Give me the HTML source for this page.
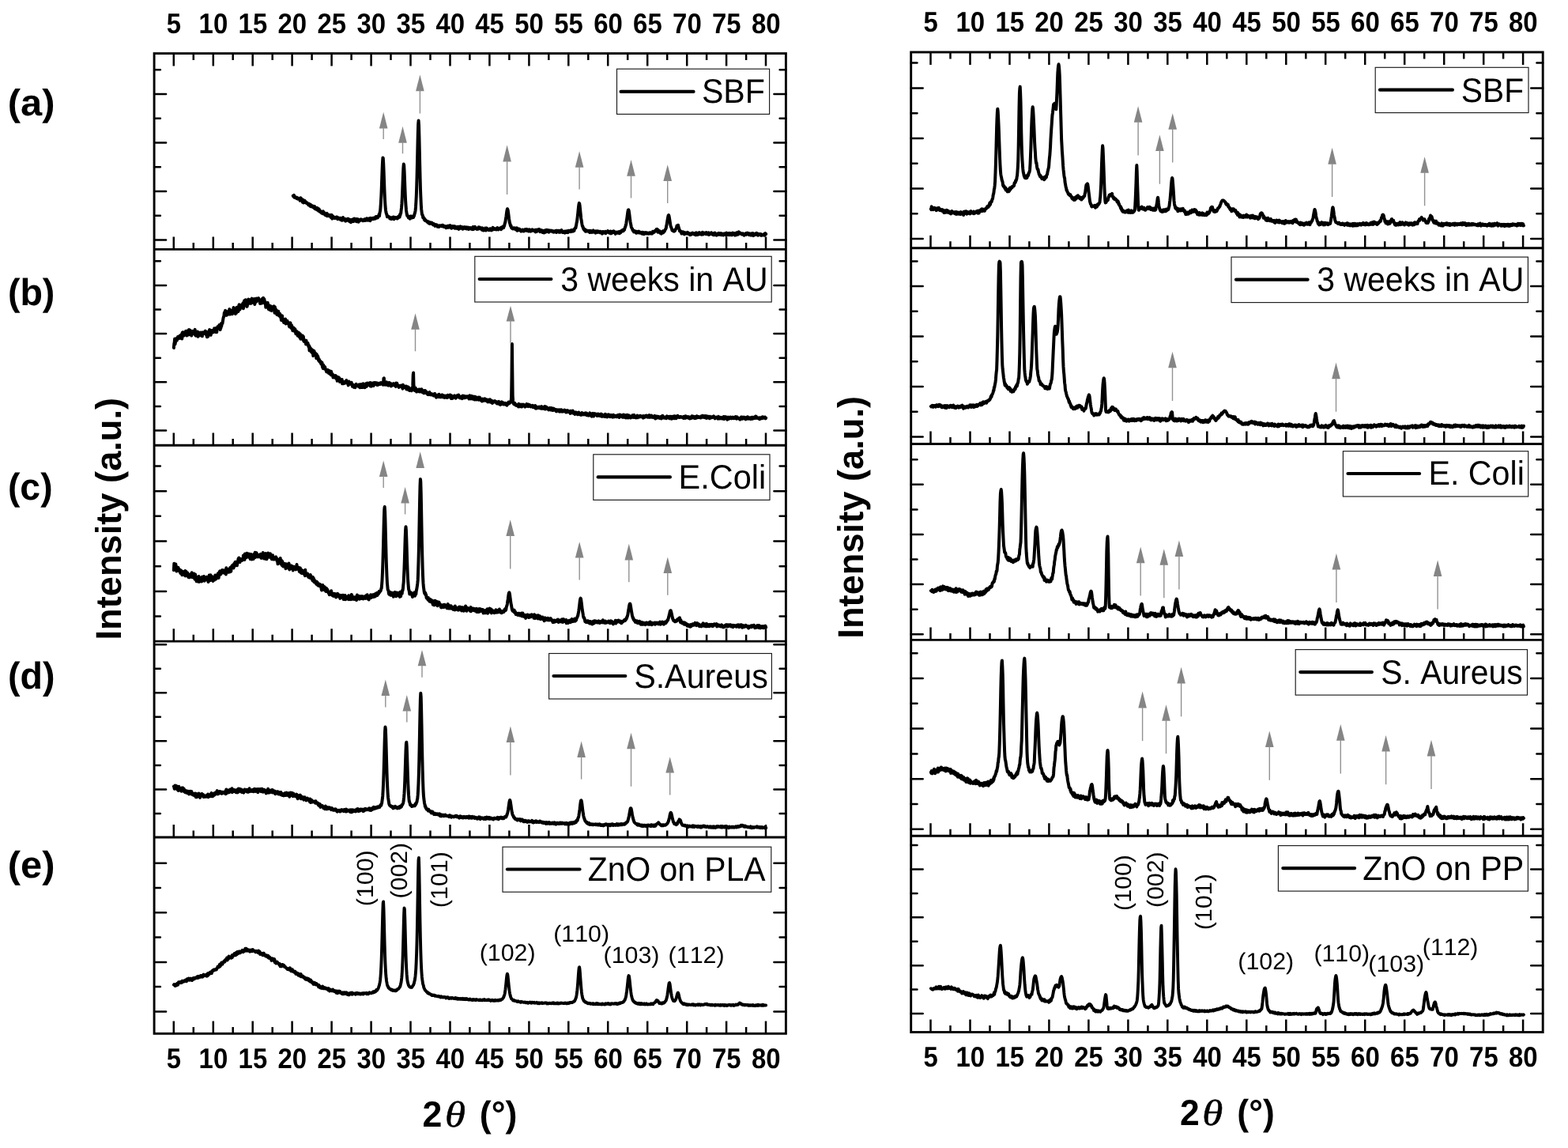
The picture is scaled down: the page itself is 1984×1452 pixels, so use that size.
<!DOCTYPE html>
<html lang="en"><head><meta charset="utf-8"><title>XRD patterns</title>
<style>html,body{margin:0;padding:0;background:#fff}svg{display:block}text{font-kerning:none;text-rendering:geometricPrecision}</style></head><body>
<svg width="1984" height="1452" viewBox="0 0 1984 1452">
<rect width="1984" height="1452" fill="#fff"/>
<path d="M370.8 247.6l0.4 0.9 0.4 -0.1 0.4 -1.5 0.4 2.8 0.4 -0.2 0.4 -0.8 0.4 1.4 0.4 0 0.4 0.1 0.4 -0.1 0.4 0.8 0.4 -1.2 0.4 0.8 0.4 -0.2 0.4 1.4 0.4 -0.4 0.4 -0.1 0.4 -0.3 0.4 0.7 0.4 0.5 0.4 -0.1 0.4 1.8 0.4 -0.2 0.4 -3.3 0.4 0.4 0.4 1.9 0.4 -0.1 0.4 0.8 0.4 0.1 0.4 2.3 0.4 -3.3 0.4 1.1 0.4 2.9 0.4 -1.2 0.4 0.4 0.4 -1 0.4 -0.8 0.4 2.2 0.4 0.2 0.4 -1.1 0.4 0.8 0.4 0.9 0.4 -0.7 0.4 1.1 0.4 0.4 0.4 0.1 0.4 -0.4 0.4 1.4 0.4 0.5 0.4 -0.3 0.4 -1 0.4 2 0.4 -1.1 0.4 1.8 0.4 -1.8 0.4 2.5 0.4 -0.8 0.4 -1 0.4 1.2 0.4 0.6 0.4 0.4 0.4 -1.1 0.4 0 0.4 1.6 0.4 -0.5 0.4 0.9 0.4 0.7 0.4 -2.4 0.4 2.2 0.4 1.2 0.4 -1.4 0.4 -0.3 0.4 1.9 0.4 -0.3 0.4 1 0.4 -1.1 0.4 -0.9 0.4 1.7 0.4 -0.1 0.4 1.6 0.4 -0.3 0.4 -1.7 0.4 0.8 0.4 2.5 0.4 0.1 0.4 -1.1 0.4 1 0.4 0.7 0.4 0.3 0.4 0.6 0.4 -0.5 0.4 -0.1 0.4 0 0.4 1.6 0.4 -3.1 0.4 2.4 0.4 0.4 0.4 -1.3 0.4 2.1 0.4 -0.8 0.4 1.7 0.4 -0.9 0.4 1 0.4 0.6 0.4 -0.8 0.4 -1.2 0.4 -0.6 0.4 3.5 0.4 -1.8 0.4 -0.4 0.4 1 0.4 -0.2 0.4 1.2 0.4 -0.7 0.4 0.1 0.4 -0.5 0.4 1.4 0.4 -1.4 0.4 2 0.4 1.2 0.4 -3 0.4 -0.4 0.4 3 0.4 1.8 0.4 -3.1 0.4 -0.1 0.4 2.1 0.4 -1.3 0.4 0.5 0.4 0.3 0.4 1 0.4 -0.9 0.4 0.8 0.4 -0.4 0.4 -0.7 0.4 0.6 0.4 -0.7 0.4 1 0.4 -1.2 0.4 0.1 0.4 2.6 0.4 -1.5 0.4 0.1 0.4 0.7 0.4 -0.7 0.4 0.3 0.4 0.9 0.4 0.1 0.4 -1.4 0.4 2.2 0.4 -1.3 0.4 -0.5 0.4 0.2 0.4 0.5 0.4 2 0.4 -2.9 0.4 1.3 0.4 -2.3 0.4 2.2 0.4 1 0.4 -1 0.4 -0.3 0.4 1 0.4 0.5 0.4 0 0.4 1.4 0.4 -1.7 0.4 -0.8 0.4 0.5 0.4 0.1 0.4 0.3 0.4 -0.1 0.4 0.3 0.4 -1.7 0.4 2.6 0.4 -1.3 0.4 -0.5 0.4 1.9 0.4 0.8 0.4 -0.8 0.4 -0.2 0.4 -1 0.4 3.1 0.4 -1.2 0.4 -1.9 0.4 0.3 0.4 0.9 0.4 -1.7 0.4 1.6 0.4 -0.7 0.4 1.6 0.4 -0.4 0.4 -3.2 0.4 2.1 0.4 -1.8 0.4 2.7 0.4 -1 0.4 0.3 0.4 -1.7 0.4 2.8 0.4 0.2 0.4 -3 0.4 1.5 0.4 -0.9 0.4 0.8 0.4 -1.1 0.4 3.3 0.4 -2.7 0.4 0.7 0.4 0.8 0.4 -1.2 0.4 0.3 0.4 -0.4 0.4 0.3 0.4 -1.2 0.4 0.7 0.4 0.2 0.4 -0.1 0.4 0.4 0.4 -0.3 0.4 1.1 0.4 -1 0.4 0.2 0.4 -0.5 0.4 0.1 0.4 -0.8 0.4 1.7 0.4 -1.7 0.4 0.4 0.4 1 0.4 -0 0.4 -0.9 0.4 -1.6 0.4 2.4 0.4 -0.2 0.4 -1.7 0.4 2 0.4 -1.5 0.4 -0.5 0.4 1.1 0.4 -0.3 0.4 0.3 0.4 -1.8 0.4 3.2 0.4 -2.4 0.4 -1 0.4 2 0.4 -1.1 0.4 0.6 0.4 -0.8 0.4 0.2 0.4 0.2 0.4 -1 0.4 1.3 0.4 -1.1 0.4 -0.5 0.4 0.9 0.4 0.2 0.4 -0.7 0.4 -0.8 0.4 1.3 0.4 -2.4 0.4 0.6 0.4 0.8 0.4 -1.5 0.4 1.1 0.4 -0.3 0.4 0.6 0.4 -2 0.4 -0.1 0.4 0.3 0.4 -2.5 0.4 2.1 0.4 -3.3 0.4 -2 0.4 -2.1 0.4 -4.8 0.4 -6.6 0.4 -7 0.4 -9.7 0.4 -11.4 0.4 -11.3 0.4 -9.7 0.4 -5.7 0.4 0.5 0.4 6.3 0.4 10 0.4 11.2 0.4 11.1 0.4 9.2 0.4 8.1 0.4 5.4 0.4 4.3 0.4 2.5 0.4 1.9 0.4 0.6 0.4 1.9 0.4 1.6 0.4 -1.1 0.4 0.2 0.4 0.7 0.4 -0 0.4 0 0.4 1 0.4 -0.3 0.4 1.7 0.4 -1.2 0.4 0.4 0.4 0.7 0.4 -1 0.4 1.7 0.4 -1.8 0.4 -0 0.4 0.4 0.4 0.3 0.4 -1.1 0.4 1.3 0.4 -1.6 0.4 2.8 0.4 -1.3 0.4 -0.5 0.4 -0.3 0.4 0.5 0.4 0.2 0.4 -0.8 0.4 0.1 0.4 0.6 0.4 -0.4 0.4 1.2 0.4 -0 0.4 -1.2 0.4 0.2 0.4 -1.9 0.4 1.5 0.4 -0.9 0.4 0 0.4 0.4 0.4 -3.4 0.4 1 0.4 -2 0.4 -0.6 0.4 -3.6 0.4 -3.2 0.4 -5 0.4 -7 0.4 -9.2 0.4 -10.5 0.4 -10.5 0.4 -8.6 0.4 -4.5 0.4 1.7 0.4 7.6 0.4 10.1 0.4 10.8 0.4 9.4 0.4 8.3 0.4 5.4 0.4 5.1 0.4 2.5 0.4 2.6 0.4 1.6 0.4 -0.2 0.4 1.1 0.4 0.5 0.4 1.3 0.4 -0.2 0.4 -1.4 0.4 1.5 0.4 0.3 0.4 1.1 0.4 -3.3 0.4 0.9 0.4 1.6 0.4 -2.4 0.4 0.1 0.4 1.4 0.4 0.4 0.4 -1.6 0.4 0.9 0.4 -0.6 0.4 0.8 0.4 -1.7 0.4 0 0.4 -2.3 0.4 -0.8 0.4 -1.8 0.4 -2 0.4 -4.4 0.4 -6.4 0.4 -7.6 0.4 -11 0.4 -14.4 0.4 -16.9 0.4 -18.3 0.4 -17.6 0.4 -12.7 0.4 -4.4 0.4 5.8 0.4 14.1 0.4 17.7 0.4 18.6 0.4 16.7 0.4 14.7 0.4 9.5 0.4 8.9 0.4 5.9 0.4 3.6 0.4 3.2 0.4 0.4 0.4 0.5 0.4 3 0.4 -0.7 0.4 1.3 0.4 -0.2 0.4 2.3 0.4 0.3 0.4 -1 0.4 1.8 0.4 -0.4 0.4 0.1 0.4 0.5 0.4 0.1 0.4 1 0.4 -0 0.4 -0.3 0.4 1.4 0.4 -1.2 0.4 0.9 0.4 0.3 0.4 1.1 0.4 -1.6 0.4 2.1 0.4 -1.1 0.4 -0.2 0.4 -0.2 0.4 1.2 0.4 -0.3 0.4 -0.8 0.4 0.1 0.4 0.6 0.4 -0 0.4 1.6 0.4 0.4 0.4 -0.3 0.4 -0.3 0.4 -0.5 0.4 0.6 0.4 0.9 0.4 1.2 0.4 -0.8 0.4 -0.9 0.4 0.4 0.4 -0.3 0.4 -0.1 0.4 0.6 0.4 0.4 0.4 1.5 0.4 -1.4 0.4 1.2 0.4 0.4 0.4 -1.4 0.4 1.4 0.4 -0.7 0.4 -1 0.4 0.6 0.4 -0.1 0.4 -0.2 0.4 0 0.4 0.4 0.4 0.3 0.4 -1.1 0.4 0.8 0.4 -1.2 0.4 1.6 0.4 0.4 0.4 -0.4 0.4 0.2 0.4 0.3 0.4 -1 0.4 0.3 0.4 0.7 0.4 0.4 0.4 -0.5 0.4 1.5 0.4 -1.8 0.4 0.9 0.4 0.3 0.4 -1.2 0.4 -0.5 0.4 -0.2 0.4 1.1 0.4 0.9 0.4 -0.7 0.4 -0.1 0.4 -0.4 0.4 0.8 0.4 -2.2 0.4 2 0.4 -0.1 0.4 -1.2 0.4 3 0.4 -2.9 0.4 0.3 0.4 -0.1 0.4 2 0.4 -1.7 0.4 1.3 0.4 -0.1 0.4 -0.2 0.4 -1.3 0.4 0.7 0.4 2 0.4 -2.4 0.4 0.6 0.4 0.7 0.4 0.9 0.4 -0.3 0.4 0.4 0.4 -1.4 0.4 1.7 0.4 -0.4 0.4 -1.8 0.4 2.6 0.4 0.4 0.4 -2.5 0.4 0.7 0.4 1.1 0.4 -2.4 0.4 -0.4 0.4 0.7 0.4 0.6 0.4 0 0.4 1.1 0.4 -0.3 0.4 -1.3 0.4 1.5 0.4 1.1 0.4 -0.7 0.4 -0.2 0.4 -0.8 0.4 0.8 0.4 -1.7 0.4 1.5 0.4 -0.7 0.4 1.1 0.4 -0.5 0.4 -1.2 0.4 1.2 0.4 1 0.4 -1.9 0.4 0.6 0.4 -0.1 0.4 -0.6 0.4 2.1 0.4 0.3 0.4 -0.5 0.4 -0.5 0.4 -0.3 0.4 0.2 0.4 -0.8 0.4 1.3 0.4 0.2 0.4 -0.1 0.4 -1.2 0.4 0.5 0.4 -0.2 0.4 1.6 0.4 -1.4 0.4 -1.7 0.4 1.8 0.4 1.2 0.4 -1 0.4 0.2 0.4 -0.6 0.4 -1.7 0.4 0.2 0.4 0.6 0.4 1 0.4 0.5 0.4 0.4 0.4 -0.8 0.4 1.1 0.4 -1 0.4 -0.4 0.4 1.3 0.4 -1.4 0.4 -1 0.4 0.9 0.4 1 0.4 -1.8 0.4 1.5 0.4 0.1 0.4 -0.9 0.4 -0 0.4 0.9 0.4 -0 0.4 1.5 0.4 -0.6 0.4 -1.6 0.4 0.7 0.4 1.3 0.4 1 0.4 -1.3 0.4 -0.1 0.4 1.3 0.4 -1.6 0.4 -0.3 0.4 -0.9 0.4 0.8 0.4 2.2 0.4 -2.9 0.4 1.2 0.4 -1.2 0.4 1.3 0.4 0.6 0.4 -1 0.4 0.8 0.4 0 0.4 -0.2 0.4 1.1 0.4 -0.7 0.4 -0.9 0.4 -0.3 0.4 -0.1 0.4 1 0.4 -0.7 0.4 1.9 0.4 -0.3 0.4 -1.8 0.4 -0.2 0.4 1.7 0.4 -3 0.4 1.1 0.4 1.2 0.4 -1.5 0.4 0.3 0.4 0.1 0.4 0.9 0.4 -0.4 0.4 0.2 0.4 0.2 0.4 -0.5 0.4 1 0.4 -1.5 0.4 -0.5 0.4 -0.3 0.4 0.2 0.4 0.9 0.4 1.3 0.4 -0.7 0.4 -0.6 0.4 -0.4 0.4 0.4 0.4 0.1 0.4 -0.2 0.4 -0.8 0.4 0.8 0.4 1.1 0.4 -2.6 0.4 1.3 0.4 -1.6 0.4 1.5 0.4 -1 0.4 -1.2 0.4 1 0.4 0.4 0.4 -1.6 0.4 -0.4 0.4 -1.6 0.4 -2.1 0.4 -0.7 0.4 -2.4 0.4 -2.7 0.4 -2.4 0.4 -3.2 0.4 -3.2 0.4 -2.2 0.4 -1.3 0.4 0.7 0.4 1.8 0.4 3.1 0.4 3 0.4 3.5 0.4 2.4 0.4 2.7 0.4 1.1 0.4 1.6 0.4 1.7 0.4 -0.6 0.4 1.2 0.4 1.8 0.4 0.1 0.4 0.7 0.4 -0.6 0.4 0.9 0.4 -0.7 0.4 -0.2 0.4 -0.1 0.4 1.1 0.4 0.1 0.4 0.1 0.4 -1.1 0.4 0.1 0.4 1.2 0.4 0.7 0.4 -0.7 0.4 -0.3 0.4 -1.1 0.4 3.4 0.4 -2.6 0.4 2.3 0.4 -0.1 0.4 -1 0.4 -0.7 0.4 0.7 0.4 -0.9 0.4 1.3 0.4 -0 0.4 0.6 0.4 0.5 0.4 0.7 0.4 -1.6 0.4 1.3 0.4 -1.5 0.4 -0 0.4 0.2 0.4 -0.3 0.4 1.6 0.4 -0.1 0.4 0.2 0.4 -1.2 0.4 0.2 0.4 -0.7 0.4 -0.5 0.4 1.3 0.4 -0.1 0.4 -1.1 0.4 1.5 0.4 -1.9 0.4 1.3 0.4 -0.3 0.4 0.1 0.4 -0.5 0.4 1.7 0.4 -0.3 0.4 0.5 0.4 -0.9 0.4 -1.1 0.4 0.8 0.4 -0.6 0.4 1.4 0.4 0.6 0.4 -0.7 0.4 -0.8 0.4 0.2 0.4 0.4 0.4 -1.3 0.4 1.3 0.4 0 0.4 -0.6 0.4 0.2 0.4 0.5 0.4 -0.8 0.4 0.1 0.4 1.4 0.4 -0.4 0.4 1.3 0.4 -2.1 0.4 -0.6 0.4 2.2 0.4 0 0.4 -1.4 0.4 -0.7 0.4 1.1 0.4 -1.5 0.4 1.1 0.4 -1.5 0.4 1.5 0.4 -1.5 0.4 1.6 0.4 1.5 0.4 -1.4 0.4 1 0.4 -1 0.4 -0.1 0.4 -0.4 0.4 2.2 0.4 -0.8 0.4 1.4 0.4 -2.2 0.4 0.8 0.4 0.3 0.4 1.1 0.4 0.3 0.4 -2 0.4 -0.4 0.4 -0.6 0.4 2.5 0.4 -1.2 0.4 -0.6 0.4 0.4 0.4 -1.7 0.4 0.2 0.4 2.1 0.4 -0.5 0.4 -0.3 0.4 -0.9 0.4 1.3 0.4 1 0.4 -2.4 0.4 1 0.4 -0.3 0.4 0.7 0.4 -0.3 0.4 -0.1 0.4 -0.6 0.4 0.8 0.4 -0.5 0.4 0.4 0.4 0.2 0.4 0.6 0.4 -1 0.4 0.3 0.4 1.2 0.4 -1 0.4 -0 0.4 0.9 0.4 -0.4 0.4 -0.2 0.4 0.2 0.4 -1.2 0.4 1.4 0.4 0.7 0.4 -0.6 0.4 -1.8 0.4 1.5 0.4 -1 0.4 0.5 0.4 0.3 0.4 -1.2 0.4 2 0.4 -1.1 0.4 0.6 0.4 -0.1 0.4 0.6 0.4 -0.2 0.4 -2.1 0.4 1.3 0.4 -1.7 0.4 1.4 0.4 1 0.4 0.2 0.4 0.4 0.4 -1.3 0.4 0.5 0.4 -0.1 0.4 0.9 0.4 0.2 0.4 -1.6 0.4 2 0.4 -1.8 0.4 -0.3 0.4 0.7 0.4 0.1 0.4 -0.1 0.4 -1 0.4 1.8 0.4 -1.2 0.4 1.3 0.4 -0.2 0.4 -2.1 0.4 0.2 0.4 -0.1 0.4 0.9 0.4 -0.2 0.4 0.1 0.4 -1 0.4 0.9 0.4 0.6 0.4 -2.3 0.4 0.8 0.4 0.3 0.4 -0.5 0.4 -0.2 0.4 1.4 0.4 -0.5 0.4 -0.6 0.4 -1.4 0.4 1.7 0.4 -1.6 0.4 -1 0.4 -0.5 0.4 -0.8 0.4 0.4 0.4 -2.3 0.4 -1.6 0.4 -2.7 0.4 -1.5 0.4 -3.4 0.4 -3.4 0.4 -3.6 0.4 -4.3 0.4 -3.8 0.4 -3.1 0.4 -1.8 0.4 0.7 0.4 2.3 0.4 3.8 0.4 4.3 0.4 3.7 0.4 4.3 0.4 2.7 0.4 2.3 0.4 2.5 0.4 2.1 0.4 0.3 0.4 1.8 0.4 0.1 0.4 2.2 0.4 -0.1 0.4 0.1 0.4 1.3 0.4 -1.3 0.4 0.8 0.4 1.9 0.4 -1.3 0.4 1.3 0.4 -0.7 0.4 -0.6 0.4 0.6 0.4 0.4 0.4 -0.2 0.4 -0.1 0.4 0.1 0.4 -0.4 0.4 1.4 0.4 0.3 0.4 0.3 0.4 -2 0.4 2.1 0.4 -0.7 0.4 -1.2 0.4 1.2 0.4 0.6 0.4 -0.3 0.4 0.1 0.4 0.2 0.4 -0 0.4 -0.8 0.4 -1.6 0.4 1.1 0.4 0.9 0.4 -0.6 0.4 0.9 0.4 0.1 0.4 -0.6 0.4 1.4 0.4 -2.3 0.4 1.5 0.4 -1.1 0.4 -0.3 0.4 1.2 0.4 -0.9 0.4 1.2 0.4 -1.5 0.4 1.1 0.4 -0.6 0.4 0.6 0.4 -0.1 0.4 -0.6 0.4 1.5 0.4 -1.6 0.4 0.3 0.4 1.5 0.4 0.1 0.4 -0.2 0.4 -0.3 0.4 1.5 0.4 -2.7 0.4 0.4 0.4 -0.3 0.4 1.5 0.4 -0.6 0.4 0.6 0.4 -0.1 0.4 -1 0.4 -0.5 0.4 -0.1 0.4 2.5 0.4 -0.9 0.4 -0.3 0.4 -0.7 0.4 0.1 0.4 -0 0.4 0 0.4 -1.4 0.4 1.7 0.4 -0.2 0.4 0.6 0.4 -0 0.4 0.5 0.4 -0.6 0.4 0.7 0.4 -2.3 0.4 0.7 0.4 2.2 0.4 -2.4 0.4 0.7 0.4 0.7 0.4 -1.3 0.4 1.3 0.4 -1.7 0.4 -0.3 0.4 0.5 0.4 -0.2 0.4 1.4 0.4 -0.2 0.4 0.5 0.4 -1 0.4 2.5 0.4 -1.8 0.4 0 0.4 0.4 0.4 -0.6 0.4 -0.4 0.4 0.5 0.4 0.6 0.4 -0.2 0.4 0.1 0.4 -1.2 0.4 -0.2 0.4 2.1 0.4 -1.8 0.4 0.5 0.4 0.1 0.4 0.4 0.4 -2.2 0.4 0.6 0.4 -0.1 0.4 -0 0.4 -1.5 0.4 1.3 0.4 -1.7 0.4 1.4 0.4 -0.2 0.4 -0.4 0.4 -1.5 0.4 0.6 0.4 -1.7 0.4 -1 0.4 -1 0.4 -1.3 0.4 -1.4 0.4 -2 0.4 -3.2 0.4 -2.5 0.4 -2.9 0.4 -3.3 0.4 -2.8 0.4 -2 0.4 -0.3 0.4 0.8 0.4 2.4 0.4 3.1 0.4 3.4 0.4 2.9 0.4 2.9 0.4 2.1 0.4 2 0.4 2.3 0.4 0.9 0.4 1 0.4 0.2 0.4 1.5 0.4 0.8 0.4 -0.4 0.4 0.5 0.4 1.7 0.4 -0.7 0.4 -0.2 0.4 -0.4 0.4 0.5 0.4 0.3 0.4 1.4 0.4 -1.4 0.4 1.9 0.4 -2 0.4 0.5 0.4 1 0.4 -0.8 0.4 -0.4 0.4 0.7 0.4 0.5 0.4 -1.7 0.4 1.2 0.4 0.1 0.4 -0.2 0.4 1 0.4 -1 0.4 0.3 0.4 0.4 0.4 0.7 0.4 -0.7 0.4 1.4 0.4 -1.9 0.4 1.7 0.4 -1.7 0.4 0.6 0.4 0.4 0.4 1.3 0.4 -0.9 0.4 -1.1 0.4 1.4 0.4 -1.2 0.4 -0.4 0.4 1 0.4 -0.2 0.4 0.7 0.4 -1.1 0.4 0.8 0.4 0.2 0.4 -0.2 0.4 -0.2 0.4 -0.5 0.4 1.2 0.4 -0.6 0.4 0.3 0.4 -0.6 0.4 0.2 0.4 -0.8 0.4 0.8 0.4 0.5 0.4 -0.6 0.4 0.5 0.4 -0.6 0.4 0.7 0.4 -1.4 0.4 -1.3 0.4 1.5 0.4 -0.7 0.4 -0.8 0.4 1 0.4 -0.6 0.4 -0.3 0.4 -1 0.4 -0.1 0.4 -0.4 0.4 0.8 0.4 -2.1 0.4 0.5 0.4 0.5 0.4 -1.2 0.4 0.5 0.4 3.4 0.4 -2.7 0.4 2.2 0.4 -0.8 0.4 0.3 0.4 -0.7 0.4 1 0.4 1.5 0.4 -1.6 0.4 1.6 0.4 -0.2 0.4 1.2 0.4 -1.9 0.4 1.2 0.4 -0.4 0.4 -1 0.4 -1.1 0.4 2 0.4 -2.2 0.4 0.3 0.4 0.4 0.4 -0.3 0.4 -1.6 0.4 -0.2 0.4 -0.9 0.4 -0.5 0.4 -1.1 0.4 -2.8 0.4 -1.3 0.4 -2.8 0.4 -2.2 0.4 -2.7 0.4 -2.1 0.4 -1.8 0.4 -0.6 0.4 0.9 0.4 1.8 0.4 2.6 0.4 2.5 0.4 2.7 0.4 2.4 0.4 1.6 0.4 0.9 0.4 1 0.4 1.2 0.4 1.6 0.4 -0.2 0.4 0.2 0.4 0.8 0.4 -0.8 0.4 0.3 0.4 1.1 0.4 -0.6 0.4 -0.3 0.4 0.2 0.4 -1.2 0.4 -0.7 0.4 -0.7 0.4 -0.2 0.4 -1.5 0.4 -2.1 0.4 -0.3 0.4 0.2 0.4 1 0.4 -1.7 0.4 2.2 0.4 0.8 0.4 2 0.4 0.8 0.4 1.8 0.4 0 0.4 -0.2 0.4 0.5 0.4 1.1 0.4 0.3 0.4 1.5 0.4 -0.1 0.4 -2.1 0.4 1.4 0.4 -1.2 0.4 -0.1 0.4 2 0.4 -0.1 0.4 -1.1 0.4 2.2 0.4 -2 0.4 -0.1 0.4 1.4 0.4 -0.3 0.4 -0.3 0.4 0.1 0.4 0.2 0.4 -0.3 0.4 -0 0.4 -1.3 0.4 0.4 0.4 1.6 0.4 -1 0.4 1 0.4 0.6 0.4 -1.2 0.4 0.6 0.4 1.4 0.4 -1.1 0.4 0.9 0.4 -0.3 0.4 -0.6 0.4 -0.7 0.4 -0.6 0.4 -0.2 0.4 1.2 0.4 0 0.4 -0.5 0.4 0.9 0.4 -1.1 0.4 1.3 0.4 -0.8 0.4 -0.1 0.4 0.1 0.4 -0.1 0.4 1.7 0.4 -2.9 0.4 1.4 0.4 0.9 0.4 -0.4 0.4 -0.8 0.4 1.6 0.4 -2.2 0.4 -0.2 0.4 1.5 0.4 -1.6 0.4 -0.5 0.4 2.3 0.4 -0.1 0.4 -0.1 0.4 -0.9 0.4 0.5 0.4 -1 0.4 2 0.4 -0.8 0.4 -0.1 0.4 -2.1 0.4 2.1 0.4 0.5 0.4 -0.3 0.4 -0.4 0.4 -0.6 0.4 -0.3 0.4 0.7 0.4 -0.2 0.4 -0.2 0.4 -0.5 0.4 1.6 0.4 -2.2 0.4 1 0.4 -0.4 0.4 1.4 0.4 0.4 0.4 -0.1 0.4 -0.3 0.4 -1.6 0.4 2.7 0.4 -1.1 0.4 -0.5 0.4 0.2 0.4 -0.2 0.4 0.6 0.4 -0 0.4 -0.5 0.4 -1.3 0.4 1.6 0.4 0.5 0.4 0.1 0.4 -0.5 0.4 0.5 0.4 0.5 0.4 -1.1 0.4 1.5 0.4 -2.6 0.4 0.6 0.4 0.3 0.4 -0.9 0.4 0.9 0.4 1.7 0.4 -0 0.4 -0.9 0.4 1.2 0.4 -1.2 0.4 -0.6 0.4 0.5 0.4 -0.3 0.4 0.6 0.4 -1.7 0.4 1.9 0.4 -1.1 0.4 1.1 0.4 -1.8 0.4 0.8 0.4 0.4 0.4 0.6 0.4 -1.6 0.4 2.1 0.4 -0.9 0.4 -0.8 0.4 1.3 0.4 -0.9 0.4 0.8 0.4 0.7 0.4 -1 0.4 -1 0.4 0.1 0.4 0.8 0.4 -0.2 0.4 -0.9 0.4 0.2 0.4 1 0.4 1.1 0.4 -3.1 0.4 2.2 0.4 -0.7 0.4 0.8 0.4 0.1 0.4 -0.6 0.4 -0.8 0.4 -0.2 0.4 -0.4 0.4 2.3 0.4 -1.1 0.4 -0.3 0.4 0.2 0.4 -0.8 0.4 1.2 0.4 0.8 0.4 -0.2 0.4 -2 0.4 2.2 0.4 -1.6 0.4 -0.9 0.4 0.6 0.4 0.2 0.4 0.7 0.4 -0.8 0.4 -0.3 0.4 0.9 0.4 1.6 0.4 -2.1 0.4 0.8 0.4 -0.4 0.4 1.4 0.4 -3.1 0.4 2.2 0.4 -2 0.4 0.5 0.4 0.2 0.4 1.5 0.4 -2.3 0.4 -1 0.4 2.3 0.4 -1.7 0.4 0.5 0.4 0.2 0.4 0.3 0.4 0 0.4 0.6 0.4 0.3 0.4 0.6 0.4 -0.8 0.4 -0.1 0.4 -0.1 0.4 1.3 0.4 -0.4 0.4 0.5 0.4 -0 0.4 0.9 0.4 -1.2 0.4 0.4 0.4 -1.5 0.4 0 0.4 0.6 0.4 -0.8 0.4 1.5 0.4 -1.6 0.4 1.1 0.4 -1.6 0.4 0.8 0.4 0.6 0.4 0.1 0.4 -1.1 0.4 1.5 0.4 0.7 0.4 -0.2 0.4 -1 0.4 0.1 0.4 -0.5 0.4 1.4 0.4 0.6 0.4 -1.5 0.4 -0.8 0.4 1.4 0.4 0.4 0.4 -2.1 0.4 1.7 0.4 1.4 0.4 -0.9 0.4 -0.3 0.4 -0.1 0.4 0.4 0.4 -1.6 0.4 0.1 0.4 0.9 0.4 -0.9 0.4 0.8 0.4 -1.7 0.4 2.1 0.4 0.1 0.4 -0.6 0.4 0.2 0.4 1.1 0.4 -1.9 0.4 0.2 0.4 -0.1 0.4 0.6 0.4 -0.4 0.4 0.9 0.4 -0.5 0.4 -0.6 0.4 -0 0.4 2 0.4 -1 0.4 -0.1 0.4 0.2 0.4 -0.1 0.4 0.6 0.4 -0.2 0.4 -0.8 0.4 -0.2 0.4 -0.2 0.4 -0.2 0.4 1.9 0.4 -1.8 0.4 -0.9 0.4 0.8 0.4 0" fill="none" stroke="#000" stroke-width="4.0" stroke-linejoin="round" stroke-linecap="round"/>
<path d="M485.2 141.7L479.9 162.5L490.5 162.5Z" fill="#858585"/><path d="M485.2 161.5V176.1" stroke="#929292" stroke-width="1.4" fill="none"/>
<path d="M509.5 159.8L504.2 180.7L514.8 180.7Z" fill="#858585"/><path d="M509.5 179.7V194.3" stroke="#929292" stroke-width="1.4" fill="none"/>
<path d="M531.4 94.5L526.1 115.3L536.7 115.3Z" fill="#858585"/><path d="M531.4 114.3V143.5" stroke="#929292" stroke-width="1.4" fill="none"/>
<path d="M641.6 183.4L636.3 204.6L646.9 204.6Z" fill="#858585"/><path d="M641.6 203.6V246" stroke="#929292" stroke-width="1.4" fill="none"/>
<path d="M733.1 191.2L727.8 211.7L738.4 211.7Z" fill="#858585"/><path d="M733.1 210.7V239.6" stroke="#929292" stroke-width="1.4" fill="none"/>
<path d="M798.5 201.9L793.2 222.8L803.8 222.8Z" fill="#858585"/><path d="M798.5 221.8V250.5" stroke="#929292" stroke-width="1.4" fill="none"/>
<path d="M844.7 208.3L839.4 229.1L850 229.1Z" fill="#858585"/><path d="M844.7 228.1V256.9" stroke="#929292" stroke-width="1.4" fill="none"/>
<path d="M219.9 440l0.4 -5.2 0.4 -1.6 0.4 -4.6 0.4 6.9 0.4 -2.1 0.4 -3.5 0.4 1.6 0.4 -1.5 0.4 -2.1 0.4 2.7 0.4 -3 0.4 -0.4 0.4 -1.2 0.4 2.2 0.4 -1.3 0.4 1.1 0.4 -2.5 0.4 1.2 0.4 -2.2 0.4 3.3 0.4 -1.6 0.4 0 0.4 -0.1 0.4 -3.2 0.4 3.3 0.4 2.3 0.4 -7.8 0.4 -0.5 0.4 0.1 0.4 4.4 0.4 -1.7 0.4 1.6 0.4 -1 0.4 -1.3 0.4 -0.1 0.4 -1.2 0.4 1.9 0.4 -4.2 0.4 1.3 0.4 1.3 0.4 3.2 0.4 -5.2 0.4 -0.6 0.4 1 0.4 3.1 0.4 -2.5 0.4 3.1 0.4 -6.5 0.4 6 0.4 -0.2 0.4 -5.1 0.4 3.1 0.4 2.1 0.4 -2.3 0.4 1.8 0.4 2.3 0.4 -3.8 0.4 -1.1 0.4 -0.9 0.4 2.9 0.4 -1.6 0.4 0.1 0.4 0.2 0.4 1.7 0.4 -3.4 0.4 -0.8 0.4 -1 0.4 6.9 0.4 -2.2 0.4 3.1 0.4 -3 0.4 -1.4 0.4 2.6 0.4 -1 0.4 -2.4 0.4 0.8 0.4 5.5 0.4 -2.9 0.4 0.1 0.4 -1.4 0.4 -0.8 0.4 3.3 0.4 -2 0.4 -1.3 0.4 1.4 0.4 -1.6 0.4 2.3 0.4 1.9 0.4 -4.2 0.4 4.6 0.4 -4.4 0.4 1.6 0.4 -2.2 0.4 1.2 0.4 0.5 0.4 -1 0.4 -0.5 0.4 0 0.4 -0.2 0.4 -1.6 0.4 2.7 0.4 1.4 0.4 1.1 0.4 -0.5 0.4 3 0.4 -3.7 0.4 -1.6 0.4 4.8 0.4 -6.2 0.4 4 0.4 -4.2 0.4 2.6 0.4 -5.1 0.4 5.9 0.4 -2.4 0.4 -1.9 0.4 5.3 0.4 -2.1 0.4 -1.7 0.4 -1.9 0.4 1.3 0.4 -0.5 0.4 1.7 0.4 0 0.4 -3.2 0.4 0.1 0.4 -0.2 0.4 -1.9 0.4 1.4 0.4 0.8 0.4 1.3 0.4 1.1 0.4 -4.9 0.4 2.6 0.4 -2.5 0.4 5 0.4 -4.8 0.4 0.9 0.4 -3.2 0.4 0 0.4 2 0.4 -1.4 0.4 1.4 0.4 -4.2 0.4 4.4 0.4 -3.5 0.4 5.2 0.4 -4.6 0.4 2.5 0.4 -5.8 0.4 3.3 0.4 -3.5 0.4 0 0.4 0.1 0.4 -2.8 0.4 -2.5 0.4 -2.1 0.4 -1.1 0.4 -2.2 0.4 -3.1 0.4 0.8 0.4 1 0.4 -4.2 0.4 5.9 0.4 -2.2 0.4 -0.2 0.4 2.4 0.4 -0.7 0.4 -1.2 0.4 -2.8 0.4 2.6 0.4 -0.2 0.4 -2.8 0.4 4 0.4 -1.3 0.4 -5.4 0.4 4.5 0.4 -3.1 0.4 5.1 0.4 -0.8 0.4 -4.2 0.4 0.3 0.4 2 0.4 -1 0.4 3.6 0.4 -1.9 0.4 -2.4 0.4 1.7 0.4 -5.8 0.4 5 0.4 1.1 0.4 -2.3 0.4 -1.2 0.4 2.7 0.4 2.9 0.4 -3.8 0.4 -2.9 0.4 5.5 0.4 -7.2 0.4 5 0.4 -2.6 0.4 3 0.4 -4.3 0.4 4.2 0.4 -2.7 0.4 -5 0.4 -1 0.4 3.1 0.4 3.1 0.4 -2.8 0.4 -0.4 0.4 -0.8 0.4 1.9 0.4 -1 0.4 -0.4 0.4 -3 0.4 4.4 0.4 0 0.4 -6.2 0.4 7 0.4 -3.4 0.4 -3.1 0.4 -3.5 0.4 5.2 0.4 -0.6 0.4 -2.7 0.4 -2.8 0.4 6.3 0.4 -3.7 0.4 0.2 0.4 5.7 0.4 0 0.4 -2.5 0.4 -3.1 0.4 2.4 0.4 -6.1 0.4 4.7 0.4 -2 0.4 -1.3 0.4 -0.8 0.4 4.5 0.4 -1.1 0.4 0 0.4 1.4 0.4 -3.9 0.4 -1.1 0.4 -1.3 0.4 3 0.4 2.2 0.4 -2.1 0.4 1.7 0.4 -4 0.4 1.5 0.4 -0.7 0.4 -1.1 0.4 6.8 0.4 -2.3 0.4 -3.5 0.4 -0.1 0.4 1.6 0.4 -3.1 0.4 4.1 0.4 -3.8 0.4 1.9 0.4 -1.4 0.4 1.1 0.4 -1.8 0.4 -0.5 0.4 1.3 0.4 0.7 0.4 0.9 0.4 0.8 0.4 3.2 0.4 -1.6 0.4 -2.3 0.4 2.1 0.4 -3.1 0.4 4.6 0.4 -1.9 0.4 -4 0.4 4.7 0.4 0.3 0.4 -6 0.4 3.2 0.4 0.9 0.4 -2.7 0.4 2.2 0.4 0.7 0.4 3.5 0.4 -0 0.4 4.2 0.4 -4.9 0.4 3.8 0.4 -1.9 0.4 0.8 0.4 -2.6 0.4 -1.2 0.4 2.8 0.4 3.5 0.4 2 0.4 -1.8 0.4 -0 0.4 -2.7 0.4 5.3 0.4 -0.2 0.4 -3.8 0.4 1.3 0.4 -1.7 0.4 5.4 0.4 -2 0.4 -0.9 0.4 1.2 0.4 0.2 0.4 -1.6 0.4 -1.7 0.4 0.1 0.4 -0.9 0.4 4.8 0.4 3.7 0.4 -7.6 0.4 4.3 0.4 1.1 0.4 -2.3 0.4 3.1 0.4 -2 0.4 5.4 0.4 -3.2 0.4 2 0.4 1.6 0.4 -1.9 0.4 -2.5 0.4 2.9 0.4 2.9 0.4 -1.4 0.4 1 0.4 -2.3 0.4 3 0.4 1.7 0.4 -0.9 0.4 4.4 0.4 -3.9 0.4 -1.2 0.4 -0.6 0.4 6.1 0.4 -2.1 0.4 2.6 0.4 -0.8 0.4 2.7 0.4 -0.4 0.4 -3.1 0.4 1.7 0.4 1.9 0.4 -4.4 0.4 5.8 0.4 -0.2 0.4 -0.1 0.4 -2.1 0.4 1.3 0.4 -2.5 0.4 2.7 0.4 -0.9 0.4 1.7 0.4 -0.7 0.4 2 0.4 2.3 0.4 -4.4 0.4 5 0.4 -5.3 0.4 0.3 0.4 4.5 0.4 0.8 0.4 1.3 0.4 -3.7 0.4 3.5 0.4 0.7 0.4 2.6 0.4 -2.5 0.4 1.6 0.4 -2.7 0.4 1.9 0.4 -0.1 0.4 2.6 0.4 -3.1 0.4 0.6 0.4 3.1 0.4 2.7 0.4 -2.4 0.4 0.2 0.4 -0.9 0.4 3.3 0.4 -0.6 0.4 2.8 0.4 -2.2 0.4 -2.1 0.4 1.3 0.4 -0.4 0.4 -0.1 0.4 5.3 0.4 -0.5 0.4 -3.6 0.4 6.3 0.4 -2.6 0.4 -1.9 0.4 3.1 0.4 -0.3 0.4 -0.8 0.4 -1.7 0.4 4.4 0.4 1 0.4 -4.1 0.4 5.5 0.4 0.6 0.4 -1.8 0.4 1.5 0.4 -0.4 0.4 -0.7 0.4 1.3 0.4 3.8 0.4 -4.9 0.4 3.9 0.4 0.5 0.4 -1.1 0.4 1.2 0.4 -1.2 0.4 1.7 0.4 2.2 0.4 1.1 0.4 -1.8 0.4 6.2 0.4 -4.6 0.4 1.8 0.4 -0.2 0.4 0.2 0.4 3.8 0.4 -2.8 0.4 4.1 0.4 0.3 0.4 -3.6 0.4 4.6 0.4 -2.6 0.4 5.7 0.4 -4.2 0.4 -0.6 0.4 -1.4 0.4 1.5 0.4 1.7 0.4 -0.4 0.4 -0 0.4 1.4 0.4 1.5 0.4 3.7 0.4 -5.3 0.4 2.8 0.4 -0.2 0.4 -0.4 0.4 1 0.4 1.2 0.4 3.5 0.4 -1.2 0.4 -0.1 0.4 2.8 0.4 -0 0.4 -0.4 0.4 1.8 0.4 -1.7 0.4 3.3 0.4 0.3 0.4 -1.2 0.4 -1 0.4 5.6 0.4 -2.1 0.4 4.1 0.4 -4.5 0.4 3.3 0.4 -1.9 0.4 1.8 0.4 1.6 0.4 -2.4 0.4 1.8 0.4 1.1 0.4 0.5 0.4 1.5 0.4 1.3 0.4 0.2 0.4 -0.7 0.4 -0.7 0.4 -1.1 0.4 0.9 0.4 0.6 0.4 2.5 0.4 -1.7 0.4 -1.3 0.4 3.8 0.4 -2.2 0.4 0.5 0.4 1.4 0.4 1.7 0.4 -4.3 0.4 2.2 0.4 2.6 0.4 -0.7 0.4 -0.7 0.4 0.8 0.4 3.6 0.4 -3.1 0.4 2.3 0.4 0.3 0.4 -2 0.4 1.8 0.4 -1.3 0.4 0 0.4 -0.5 0.4 3.8 0.4 -1.9 0.4 0.1 0.4 -0.7 0.4 5.4 0.4 -1.5 0.4 -1.2 0.4 -0.7 0.4 -1.2 0.4 3.4 0.4 0.2 0.4 -2.6 0.4 4.7 0.4 -0.4 0.4 -2.6 0.4 0.9 0.4 0.5 0.4 1.2 0.4 -0.2 0.4 -2.3 0.4 5.3 0.4 -1.8 0.4 1.7 0.4 0.1 0.4 -2.3 0.4 1 0.4 0.7 0.4 0.1 0.4 -1.5 0.4 -0.6 0.4 1.1 0.4 -1.2 0.4 0.6 0.4 -2.2 0.4 3.4 0.4 -1.6 0.4 0.8 0.4 0.8 0.4 0.6 0.4 2.4 0.4 -2.5 0.4 -2.5 0.4 2.6 0.4 -1 0.4 1.8 0.4 -1.4 0.4 0.3 0.4 0.6 0.4 0.1 0.4 -1.6 0.4 1.9 0.4 1.2 0.4 1.9 0.4 -2.2 0.4 0 0.4 1.5 0.4 0.1 0.4 1.7 0.4 -1.4 0.4 -0.8 0.4 2.1 0.4 0.4 0.4 -2.8 0.4 0.9 0.4 -2.6 0.4 1.9 0.4 -0.8 0.4 1 0.4 -0.4 0.4 0.5 0.4 0 0.4 0.9 0.4 -0.4 0.4 -1.1 0.4 -1 0.4 3.5 0.4 0.3 0.4 -2.6 0.4 1.4 0.4 -2.9 0.4 -0 0.4 1.7 0.4 2.4 0.4 -3.5 0.4 0.2 0.4 3.3 0.4 -4.8 0.4 3.4 0.4 -0.3 0.4 -1 0.4 0.4 0.4 2.4 0.4 -4.4 0.4 1 0.4 -0.1 0.4 -0.7 0.4 -0.9 0.4 3.8 0.4 -1.8 0.4 -2.7 0.4 1.4 0.4 1.4 0.4 -0 0.4 -2.5 0.4 1.7 0.4 0.4 0.4 0.1 0.4 -0.1 0.4 -2.9 0.4 4.6 0.4 -2.2 0.4 2 0.4 0.4 0.4 -2.9 0.4 -1.3 0.4 2.6 0.4 -1.3 0.4 -0.3 0.4 -0.8 0.4 3.3 0.4 -2.7 0.4 -1.3 0.4 1.1 0.4 -1 0.4 1.5 0.4 -0.8 0.4 -0.8 0.4 2 0.4 -1.5 0.4 1.7 0.4 0.7 0.4 -2 0.4 -0.3 0.4 1.1 0.4 0.9 0.4 -1.1 0.4 0.2 0.4 -0.3 0.4 0.3 0.4 0.3 0.4 -1.7 0.4 0.1 0.4 0.6 0.4 -0.9 0.4 1 0.4 0.6 0.4 -0.7 0.4 -0.6 0.4 -0.3 0.4 2.7 0.4 -2.6 0.4 -5.8 0.4 -0.1 0.4 6.7 0.4 1.5 0.4 -1.1 0.4 1.4 0.4 -3.1 0.4 1.8 0.4 0.9 0.4 -3.1 0.4 1.3 0.4 1.9 0.4 0.5 0.4 -2.1 0.4 1.1 0.4 1.6 0.4 -2.5 0.4 -1.1 0.4 1.5 0.4 -0.4 0.4 2.1 0.4 -1.3 0.4 -1.1 0.4 3.6 0.4 -3 0.4 1.3 0.4 0.4 0.4 0.3 0.4 -0.6 0.4 0.6 0.4 -0.7 0.4 -1.6 0.4 1.5 0.4 0.1 0.4 -0 0.4 0.4 0.4 -0.9 0.4 2.3 0.4 0.3 0.4 -4.3 0.4 2.5 0.4 -0.7 0.4 -1.5 0.4 3.1 0.4 -1 0.4 0.4 0.4 -0.1 0.4 2.3 0.4 0.3 0.4 -1 0.4 0.5 0.4 -0.9 0.4 0.4 0.4 -1.1 0.4 0.9 0.4 -0.9 0.4 1.3 0.4 0.6 0.4 -0.5 0.4 1.2 0.4 1.3 0.4 -4.8 0.4 2.7 0.4 -0.5 0.4 0.3 0.4 -0.9 0.4 1.8 0.4 -0.2 0.4 -0.2 0.4 0.6 0.4 -0.3 0.4 -1.6 0.4 3.9 0.4 -1.4 0.4 -0.7 0.4 1.6 0.4 -1 0.4 -1.5 0.4 3.6 0.4 -2.9 0.4 1.9 0.4 0.4 0.4 1.5 0.4 -0.1 0.4 -1.2 0.4 -1.1 0.4 0.3 0.4 1.7 0.4 0.7 0.4 -1.6 0.4 -1.6 0.4 1.1 0.4 -4.2 0.4 -13.7 0.4 -2.7 0.4 16 0.4 4 0.4 1.7 0.4 0.7 0.4 -0.6 0.4 -2.9 0.4 0.6 0.4 2.2 0.4 -0.2 0.4 2.6 0.4 -2.4 0.4 -0.1 0.4 1.3 0.4 0.3 0.4 -1.4 0.4 0.9 0.4 -1.7 0.4 0.3 0.4 2.6 0.4 -3 0.4 2.8 0.4 -0.2 0.4 0.2 0.4 0.2 0.4 -0.3 0.4 -2.9 0.4 1.4 0.4 0.6 0.4 1.9 0.4 -2.2 0.4 0.7 0.4 0.6 0.4 2.1 0.4 -3 0.4 0.3 0.4 2.4 0.4 -2.9 0.4 3 0.4 -0.8 0.4 -1.1 0.4 1.4 0.4 -0.6 0.4 1.4 0.4 0.3 0.4 1.3 0.4 -1.6 0.4 0.3 0.4 -0.6 0.4 0.7 0.4 1.4 0.4 -3.3 0.4 3 0.4 -1.2 0.4 0.8 0.4 0.3 0.4 0.7 0.4 -0.7 0.4 -0.6 0.4 0.9 0.4 -0.2 0.4 -0.1 0.4 0.6 0.4 0.9 0.4 -0.6 0.4 0.1 0.4 -1.4 0.4 1.4 0.4 -1.9 0.4 3 0.4 -1.8 0.4 2.5 0.4 1 0.4 -2.8 0.4 2 0.4 -1 0.4 -1 0.4 -0.3 0.4 1.5 0.4 1 0.4 -1.2 0.4 -2 0.4 0.5 0.4 1 0.4 1.8 0.4 -1.1 0.4 0.2 0.4 1.1 0.4 -1.5 0.4 0.3 0.4 -0 0.4 -1.7 0.4 2.5 0.4 -0 0.4 0.6 0.4 -2.4 0.4 0.4 0.4 1.9 0.4 -0.6 0.4 1.1 0.4 -2.4 0.4 1.3 0.4 -0.9 0.4 1.2 0.4 -0.8 0.4 1.1 0.4 0.6 0.4 -0.4 0.4 -2.8 0.4 2.9 0.4 -0.6 0.4 -1.8 0.4 0.1 0.4 0.9 0.4 0.6 0.4 -1.1 0.4 -1.3 0.4 2.2 0.4 -0 0.4 2.2 0.4 -3.6 0.4 3.8 0.4 -0.4 0.4 -1.5 0.4 1.5 0.4 -1.7 0.4 1 0.4 -1.8 0.4 0.9 0.4 -1.1 0.4 -0.6 0.4 1.5 0.4 -0.4 0.4 1.3 0.4 0.8 0.4 -1.6 0.4 0.2 0.4 0.1 0.4 -2.1 0.4 2 0.4 -0.3 0.4 -0.2 0.4 -1.1 0.4 -1 0.4 1.8 0.4 0.6 0.4 1.1 0.4 -0.2 0.4 0.4 0.4 -1.1 0.4 0.8 0.4 -1.4 0.4 0.9 0.4 0.3 0.4 1.3 0.4 -2 0.4 -1.6 0.4 2.8 0.4 -2.3 0.4 0.8 0.4 -0.3 0.4 -0.6 0.4 2.4 0.4 -0.8 0.4 -1.2 0.4 0.7 0.4 -0.5 0.4 1.1 0.4 -1 0.4 -0.3 0.4 0.1 0.4 0.3 0.4 0.8 0.4 -1.2 0.4 0.9 0.4 0.6 0.4 1.7 0.4 -1.3 0.4 -3 0.4 1.7 0.4 0.2 0.4 0.9 0.4 1.4 0.4 -0.8 0.4 -2.8 0.4 2.6 0.4 -0.1 0.4 0.3 0.4 1 0.4 -2.5 0.4 2.3 0.4 -2.9 0.4 1.8 0.4 0.4 0.4 1.8 0.4 -2.8 0.4 -0.9 0.4 2.6 0.4 -1.3 0.4 2.4 0.4 -2.3 0.4 -0.1 0.4 2.2 0.4 -1.2 0.4 0.9 0.4 -2.5 0.4 3.2 0.4 -2.2 0.4 1.4 0.4 -1.7 0.4 -0.5 0.4 1.4 0.4 0.6 0.4 1.6 0.4 -1.1 0.4 0.6 0.4 0.1 0.4 1.6 0.4 -2.9 0.4 2.2 0.4 -1.3 0.4 0.4 0.4 -0.7 0.4 1.7 0.4 -2.4 0.4 -0.1 0.4 1.2 0.4 -0.9 0.4 1.9 0.4 0.2 0.4 -1.6 0.4 1.6 0.4 -1.3 0.4 0.7 0.4 0.2 0.4 2 0.4 -1.8 0.4 -0.8 0.4 0.2 0.4 2.2 0.4 -2.7 0.4 1.3 0.4 0.2 0.4 -1.6 0.4 1.7 0.4 1.6 0.4 -0.7 0.4 -1.1 0.4 1.6 0.4 -0.1 0.4 1.5 0.4 -2.7 0.4 0.4 0.4 0.5 0.4 -0 0.4 0.3 0.4 -0 0.4 -0.5 0.4 -0.7 0.4 1.2 0.4 -0.7 0.4 0.4 0.4 0.6 0.4 1.2 0.4 0.4 0.4 -1.9 0.4 1.5 0.4 0.5 0.4 -0.7 0.4 -1.5 0.4 -0.3 0.4 3 0.4 0.2 0.4 -0.5 0.4 -1.3 0.4 2.6 0.4 -0.2 0.4 -1.3 0.4 -0.2 0.4 -1.8 0.4 2.6 0.4 -2.4 0.4 2.2 0.4 -0 0.4 -0.7 0.4 1.4 0.4 -1.8 0.4 0.9 0.4 0.3 0.4 -0.5 0.4 -0.5 0.4 1.7 0.4 -0.7 0.4 -0.6 0.4 0.1 0.4 0.4 0.4 1.9 0.4 -2 0.4 -0.3 0.4 -0.9 0.4 -0.2 0.4 -0.7 0.4 2 0.4 -0.4 0.4 -1.1 0.4 -0.7 0.4 0.9 0.4 -0.6 0.4 -1.5 0.4 0.1 0.4 -5.5 0.4 -26.1 0.4 -40.7 0.4 34.8 0.4 31.3 0.4 5.4 0.4 3.2 0.4 1 0.4 -0.3 0.4 1 0.4 -1.3 0.4 -0 0.4 1.4 0.4 -0.4 0.4 1.5 0.4 -0.5 0.4 0.7 0.4 -0.2 0.4 -0.1 0.4 -0.1 0.4 -0.4 0.4 -0 0.4 2.5 0.4 -3.7 0.4 1.6 0.4 1.3 0.4 -0.5 0.4 1.1 0.4 -0.8 0.4 -1.7 0.4 0.9 0.4 -1.1 0.4 2.3 0.4 0.5 0.4 -1.9 0.4 1 0.4 -0.9 0.4 -0.9 0.4 1.1 0.4 -1 0.4 1.1 0.4 0.8 0.4 0.5 0.4 0.4 0.4 -1.7 0.4 0.5 0.4 0 0.4 0.1 0.4 -2.6 0.4 1.3 0.4 1.5 0.4 -1.7 0.4 1.4 0.4 0.7 0.4 -2.5 0.4 1.7 0.4 0.5 0.4 -0.2 0.4 -1.5 0.4 1.9 0.4 -0.9 0.4 1.4 0.4 -0.3 0.4 -0.9 0.4 0.8 0.4 -0.7 0.4 0.1 0.4 -0.7 0.4 1.3 0.4 1.1 0.4 -0.6 0.4 -0.2 0.4 -0.6 0.4 0.1 0.4 1.2 0.4 -2.1 0.4 3.4 0.4 -2 0.4 2.3 0.4 -0.9 0.4 -1.4 0.4 1.2 0.4 -0.3 0.4 0.4 0.4 0.4 0.4 -1.1 0.4 0 0.4 0.3 0.4 -0.8 0.4 1.2 0.4 0.5 0.4 0.1 0.4 -0 0.4 -0.6 0.4 1.1 0.4 -2.7 0.4 1.5 0.4 -0 0.4 1.1 0.4 -0.3 0.4 0 0.4 -0.7 0.4 0.9 0.4 -1.9 0.4 1.1 0.4 -1.8 0.4 3.6 0.4 0 0.4 -2 0.4 -0.1 0.4 -0.9 0.4 0.6 0.4 1.7 0.4 -0.1 0.4 -1 0.4 1.1 0.4 -0 0.4 1.2 0.4 0.3 0.4 -0.8 0.4 0.3 0.4 -0.1 0.4 -1.9 0.4 2 0.4 -0.2 0.4 0.8 0.4 -2.5 0.4 2.6 0.4 -1.4 0.4 0.9 0.4 0.9 0.4 -2.5 0.4 0.2 0.4 2.2 0.4 -2 0.4 0.2 0.4 1.5 0.4 -0.8 0.4 1 0.4 -0.4 0.4 -0.3 0.4 1.1 0.4 1.2 0.4 -2.1 0.4 1.7 0.4 -0.2 0.4 -0.8 0.4 0.5 0.4 -1.2 0.4 0.4 0.4 0.9 0.4 -0.3 0.4 1.4 0.4 -2.5 0.4 0.9 0.4 -0.3 0.4 0.5 0.4 1.2 0.4 -2.2 0.4 2 0.4 -1.3 0.4 0.3 0.4 1.3 0.4 -1.1 0.4 0.9 0.4 -0.4 0.4 -0.2 0.4 -0 0.4 -1.2 0.4 1 0.4 1 0.4 0.1 0.4 -1.6 0.4 2.5 0.4 -0.4 0.4 -1.7 0.4 0.2 0.4 1.5 0.4 -2.1 0.4 1 0.4 0.7 0.4 -0.1 0.4 0.1 0.4 0.5 0.4 -1.1 0.4 0.3 0.4 2.4 0.4 -3.2 0.4 0.9 0.4 0.5 0.4 -0.7 0.4 1.8 0.4 -1.1 0.4 0.8 0.4 -2.5 0.4 3.1 0.4 0.1 0.4 -1.6 0.4 2.1 0.4 -0.9 0.4 0.8 0.4 1 0.4 -1.5 0.4 -0.9 0.4 1 0.4 -1 0.4 0.5 0.4 0.1 0.4 0.1 0.4 1.8 0.4 -0.3 0.4 -1.6 0.4 1.9 0.4 -2.6 0.4 0.9 0.4 0.5 0.4 1.3 0.4 -0.3 0.4 -0.2 0.4 0.9 0.4 -0.5 0.4 0.7 0.4 -2 0.4 -0.8 0.4 1.2 0.4 1.1 0.4 -0.6 0.4 0.6 0.4 -0.3 0.4 -0.2 0.4 0.3 0.4 -1.4 0.4 1.7 0.4 -1.9 0.4 0.9 0.4 -1.1 0.4 2 0.4 -1.8 0.4 2.8 0.4 -2.4 0.4 1.6 0.4 -0.4 0.4 -0.6 0.4 2 0.4 -1.6 0.4 1.7 0.4 -2.3 0.4 0.2 0.4 -1.1 0.4 2.4 0.4 0.5 0.4 -0.6 0.4 -0.3 0.4 -0.6 0.4 2.9 0.4 -1.3 0.4 -2.3 0.4 1.4 0.4 -1.6 0.4 3.3 0.4 0.3 0.4 -0.5 0.4 -1.4 0.4 -0.6 0.4 -0.8 0.4 1.7 0.4 -1.2 0.4 0.3 0.4 -0.3 0.4 0.3 0.4 1.1 0.4 0.8 0.4 -1.4 0.4 -0 0.4 -1 0.4 0.1 0.4 0.3 0.4 1.9 0.4 -0.5 0.4 0.7 0.4 -0.4 0.4 -0.8 0.4 -0.8 0.4 0.7 0.4 -1.1 0.4 3.1 0.4 -1.6 0.4 -0.5 0.4 2.2 0.4 -2.1 0.4 1 0.4 -0.6 0.4 0.6 0.4 -0.6 0.4 0.9 0.4 0.9 0.4 -2.4 0.4 -0.7 0.4 3.1 0.4 -1.1 0.4 0.7 0.4 -1.1 0.4 1.7 0.4 0.3 0.4 -2.7 0.4 1.7 0.4 -1.1 0.4 -0.9 0.4 1.3 0.4 0.8 0.4 -1.7 0.4 0.1 0.4 2.3 0.4 -1.1 0.4 0.4 0.4 -1.5 0.4 0.5 0.4 0.7 0.4 0.1 0.4 -0 0.4 1.3 0.4 -1.3 0.4 -1.6 0.4 0.7 0.4 0.8 0.4 1.2 0.4 -1.7 0.4 0.3 0.4 0.4 0.4 -0.6 0.4 -0.1 0.4 0.5 0.4 1.1 0.4 -0.5 0.4 -0.7 0.4 0.6 0.4 -1.6 0.4 2.1 0.4 -0.3 0.4 -0.4 0.4 -1.7 0.4 3.3 0.4 -3.6 0.4 0.9 0.4 0 0.4 1.5 0.4 -2 0.4 1.6 0.4 -0.4 0.4 -0.1 0.4 1.1 0.4 0.5 0.4 -0.9 0.4 -0.6 0.4 -1.5 0.4 3.2 0.4 -1.6 0.4 -1.4 0.4 1.8 0.4 1.1 0.4 -1.4 0.4 -1 0.4 3.1 0.4 -1.4 0.4 -0.3 0.4 0.7 0.4 -2.7 0.4 1.8 0.4 -0.1 0.4 2.2 0.4 -2.5 0.4 0 0.4 -0.7 0.4 0.5 0.4 0.6 0.4 0.4 0.4 -0.4 0.4 2 0.4 -1.4 0.4 0.2 0.4 0.6 0.4 -0.7 0.4 -1 0.4 -1 0.4 1.8 0.4 -1.1 0.4 2 0.4 -1.8 0.4 -1.1 0.4 1.9 0.4 1 0.4 -1.1 0.4 0.3 0.4 0 0.4 1.4 0.4 -1.3 0.4 -0.3 0.4 -0.5 0.4 -0.9 0.4 2.8 0.4 -0.3 0.4 -1.9 0.4 1.4 0.4 -0.3 0.4 -0.6 0.4 -0 0.4 0.9 0.4 -1.8 0.4 0.6 0.4 0.5 0.4 0.1 0.4 -0.2 0.4 0.5 0.4 0.3 0.4 -1.2 0.4 1 0.4 -0.5 0.4 1.8 0.4 -2.6 0.4 1.1 0.4 0.8 0.4 -1 0.4 -0.1 0.4 -0.2 0.4 0.7 0.4 -1.4 0.4 0.9 0.4 0 0.4 -1.2 0.4 1.6 0.4 -0.7 0.4 0.7 0.4 0.5 0.4 -0.6 0.4 -1.4 0.4 1.2 0.4 -1.8 0.4 0.7 0.4 2.1 0.4 -1.6 0.4 1.4 0.4 -1.5 0.4 0.3 0.4 -0.9 0.4 2 0.4 -0.8 0.4 0.9 0.4 -0 0.4 0.2 0.4 -0.1 0.4 -0.3 0.4 0.1 0.4 -0.6 0.4 -1.2 0.4 2.2 0.4 1.4 0.4 -0.9 0.4 0.8 0.4 -1.4 0.4 -1.3 0.4 -0 0.4 1.6 0.4 -0.4 0.4 -0.4 0.4 0.9 0.4 -1.4 0.4 1.3 0.4 -0.7 0.4 0.4 0.4 0.9 0.4 -1.2 0.4 1.3 0.4 -0 0.4 -1.9 0.4 2.5 0.4 -3 0.4 1 0.4 0.7 0.4 -2.5 0.4 2.7 0.4 0.1 0.4 -1.1 0.4 0.4 0.4 0 0.4 -0.3 0.4 1.3 0.4 -1.2 0.4 0.4 0.4 0.5 0.4 0.5 0.4 0.2 0.4 -2.3 0.4 -0.6 0.4 1.6 0.4 -0 0.4 -1.1 0.4 1.2 0.4 0.2 0.4 -0.3 0.4 1.1 0.4 -2.3 0.4 1 0.4 1.7 0.4 -1.1 0.4 -1.5 0.4 1.2 0.4 0.9 0.4 0.8 0.4 -1.3 0.4 0.5 0.4 -2.1 0.4 0.8 0.4 1.3 0.4 -1.9 0.4 0.8 0.4 -1.6 0.4 3 0.4 -1.4 0.4 0.6 0.4 -1.9 0.4 0.1 0.4 2.7 0.4 -1.9 0.4 -0.3 0.4 0.9 0.4 0 0.4 -2.2 0.4 0.9 0.4 0.9 0.4 -0.1 0.4 0.4 0.4 -0.7 0.4 0.1 0.4 0.5 0.4 -0.8 0.4 -0.1 0.4 0.3 0.4 0.6 0.4 -0.1 0.4 -0.2 0.4 0.3 0.4 0.3 0.4 0.3 0.4 0.1 0.4 -1.5 0.4 2 0.4 -2.3 0.4 1.8 0.4 -1.2 0.4 1.1 0.4 0.4 0.4 -2.6 0.4 2.1 0.4 -0.2 0.4 -0.7 0.4 0.8 0.4 -0.8 0.4 0.6 0.4 -1 0.4 1.5 0.4 -0.1 0.4 0.1 0.4 -1.2 0.4 2.1 0.4 0.1 0.4 -1.7 0.4 -0.3 0.4 0.1 0.4 1 0.4 0.3 0.4 -1.6 0.4 -1.1 0.4 2.1 0.4 -0.5 0.4 0.2 0.4 0.3 0.4 -1.5 0.4 1.1 0.4 -0.3 0.4 0.6 0.4 0.8 0.4 -1.1 0.4 -0.7 0.4 1.8 0.4 -0.5 0.4 -0.8 0.4 -1.5 0.4 0.7 0.4 0.9 0.4 0.3 0.4 -1 0.4 0.8 0.4 -0.9 0.4 0.2 0.4 0.8 0.4 -0.7 0.4 0.4 0.4 0.6 0.4 0.2 0.4 -1.5 0.4 0.3 0.4 -1 0.4 -0 0.4 1.3 0.4 -0.7 0.4 -1.2 0.4 2 0.4 -1.1 0.4 0.5 0.4 0.8 0.4 0 0.4 -0.3 0.4 -1.5 0.4 2.2 0.4 -1 0.4 -0.6 0.4 -0.6 0.4 2.9 0.4 -1 0.4 -0 0.4 0.4 0.4 -0.6 0.4 -1.2 0.4 1.8 0.4 0.2 0.4 -0.5 0.4 0.8 0.4 0.3 0.4 -2.4 0.4 0.3 0.4 1.1 0.4 -0.6 0.4 0.1 0.4 0.6 0.4 -0.1 0.4 -0.9 0.4 0.5 0.4 -0.6 0.4 0.5 0.4 -0.8 0.4 -0.6 0.4 1.2 0.4 -0 0.4 1.3 0.4 0.6 0.4 -1.2 0.4 0.4 0.4 -0.8 0.4 -0.3 0.4 0.6 0.4 -0 0.4 0.5 0.4 -0.2 0.4 1.3 0.4 -1.6 0.4 -1.2 0.4 1.6 0.4 -0.7 0.4 0.8 0.4 0.8 0.4 -1.4 0.4 0.5 0.4 0.6 0.4 -1.2 0.4 1 0.4 0.3 0.4 0.2 0.4 0.3 0.4 -0.4 0.4 -0.2 0.4 -1.4 0.4 -0.6 0.4 0.9 0.4 2 0.4 -1.1 0.4 -1.8 0.4 1.3 0.4 0.7 0.4 -1.9 0.4 2 0.4 -1.4 0.4 1.9 0.4 -0.8 0.4 1.8 0.4 -2.9 0.4 1.4 0.4 -1.5 0.4 2.2 0.4 -0.9 0.4 0.6 0.4 -0.8 0.4 -1.1 0.4 0.4 0.4 -0.6 0.4 0.2 0.4 0.9 0.4 0.7 0.4 -0.2 0.4 -0.3 0.4 -0.9 0.4 0.9 0.4 -1.1 0.4 0.9 0.4 0.5 0.4 -0.8 0.4 -0.3 0.4 0 0.4 0.9 0.4 -0.8 0.4 -0.9 0.4 0.9 0.4 -0.5 0.4 2.1 0.4 -1.1 0.4 -1.2 0.4 1.5 0.4 0.4 0.4 -0.2 0.4 -0.5 0.4 0.4 0.4 0.2 0.4 0.6 0.4 -0.5 0.4 1.4 0.4 -1.8 0.4 1.4 0.4 -1.3 0.4 -1.4 0.4 0.4 0.4 -0.6 0.4 0 0.4 2.3 0.4 -1.6 0.4 1 0.4 -1.2 0.4 0.6 0.4 -0.8 0.4 1.5 0.4 -0.8 0.4 -0.2 0.4 0.3 0.4 1.9 0.4 -1.3 0.4 0.3 0.4 -1.7 0.4 0.5 0.4 0.7 0.4 -1.7 0.4 2.5 0.4 -0.9 0.4 -0.2 0.4 -0.1 0.4 -0 0.4 -0.2 0.4 1.5 0.4 -0.5 0.4 0.5 0.4 -1.3 0.4 -0.4 0.4 1.8 0.4 -2.1 0.4 0.5 0.4 1.1 0.4 0.2 0.4 -1.9 0.4 0.8 0.4 0.2 0.4 -0.2 0.4 -0.7 0.4 1.2 0.4 -1.1 0.4 0.1 0.4 -1.5 0.4 1.6 0.4 -1.4 0.4 2.2 0.4 -0.1 0.4 -0.7 0.4 0.7 0.4 0 0.4 -0.1 0.4 0.5 0.4 -0.4 0.4 -0.3 0.4 -0.2 0.4 1.9 0.4 -1.3 0.4 -0.2 0.4 0.5 0.4 -0.9 0.4 -0.1 0.4 0.8 0.4 0.3 0.4 -0.3 0.4 -1.8 0.4 1.2 0.4 -0 0.4 0.3 0.4 -1 0.4 -0.1 0.4 0.7 0.4 -0.6 0.4 -0.1 0.4 0.9 0.4 0.8 0.4 -0.6" fill="none" stroke="#000" stroke-width="4.0" stroke-linejoin="round" stroke-linecap="round"/>
<path d="M525.5 396.2L520.2 416.7L530.8 416.7Z" fill="#858585"/><path d="M525.5 415.7V444.3" stroke="#929292" stroke-width="1.4" fill="none"/>
<path d="M646 386.8L640.7 406.5L651.3 406.5Z" fill="#858585"/><path d="M646 405.5V434.3" stroke="#929292" stroke-width="1.4" fill="none"/>
<path d="M219.9 721.1l0.4 -8.3 0.4 5.1 0.4 -2 0.4 0.3 0.4 0.6 0.4 -3.4 0.4 3.8 0.4 -0.9 0.4 6.3 0.4 -3.4 0.4 -0.9 0.4 0.5 0.4 -0.5 0.4 -0.5 0.4 1.6 0.4 2 0.4 -1.3 0.4 2.7 0.4 -2 0.4 0.7 0.4 3.4 0.4 -1.7 0.4 -1.8 0.4 0.9 0.4 1.8 0.4 3.2 0.4 -4.1 0.4 0.4 0.4 2.9 0.4 -3.5 0.4 1.5 0.4 2.7 0.4 -0.3 0.4 -0.7 0.4 1.3 0.4 -5.5 0.4 6.4 0.4 -4 0.4 -1.5 0.4 3.9 0.4 0.9 0.4 -2.3 0.4 -1.1 0.4 2.4 0.4 0.1 0.4 3.3 0.4 -1 0.4 -0.8 0.4 2.1 0.4 -2.5 0.4 -1.4 0.4 3.1 0.4 0.1 0.4 -1.7 0.4 -1.1 0.4 2.1 0.4 -4.7 0.4 5.8 0.4 -0.3 0.4 -4.2 0.4 3.6 0.4 -2 0.4 3.7 0.4 -5.5 0.4 2.5 0.4 3.6 0.4 1.3 0.4 -6.4 0.4 3.7 0.4 2 0.4 -1.6 0.4 4.8 0.4 -5.5 0.4 3.4 0.4 -2.8 0.4 5.1 0.4 -2.9 0.4 -0.8 0.4 -2.8 0.4 6.9 0.4 -2 0.4 -0 0.4 0.7 0.4 -1.6 0.4 -2 0.4 -0.2 0.4 0.1 0.4 4.7 0.4 -5.8 0.4 1.9 0.4 0.7 0.4 1.1 0.4 0.6 0.4 -3.9 0.4 -1.2 0.4 3.4 0.4 2.3 0.4 -1.1 0.4 -1.3 0.4 -1.2 0.4 1.1 0.4 -1.2 0.4 2.2 0.4 -3.4 0.4 1.9 0.4 -0.5 0.4 1.5 0.4 -0.6 0.4 3.9 0.4 -1.1 0.4 -0 0.4 -7.4 0.4 3.6 0.4 -0.6 0.4 2.3 0.4 -5.6 0.4 6.8 0.4 -0.3 0.4 -5.1 0.4 0.6 0.4 0.2 0.4 1.6 0.4 1.1 0.4 2.8 0.4 -4.9 0.4 1.8 0.4 -1.4 0.4 3.3 0.4 -2.3 0.4 1.2 0.4 -5.2 0.4 1.7 0.4 -1.4 0.4 4.7 0.4 -1.9 0.4 -2.3 0.4 -0.6 0.4 1.6 0.4 -2.9 0.4 -0.9 0.4 2.5 0.4 3 0.4 -5.4 0.4 -1 0.4 -1.6 0.4 -0.6 0.4 3.8 0.4 0.6 0.4 -1.9 0.4 0.6 0.4 -0.6 0.4 -0 0.4 -3.8 0.4 2.1 0.4 0.9 0.4 -2.1 0.4 0.4 0.4 -0.9 0.4 1 0.4 2.4 0.4 -2.7 0.4 0.6 0.4 2 0.4 -0.3 0.4 2.1 0.4 -8.2 0.4 6 0.4 -3.1 0.4 1 0.4 1.2 0.4 0.2 0.4 -0.5 0.4 -2.2 0.4 2.8 0.4 -4.3 0.4 -0 0.4 1.7 0.4 -3.2 0.4 5.3 0.4 -2.7 0.4 2 0.4 -5 0.4 -1.2 0.4 0.8 0.4 0.9 0.4 -3.2 0.4 1.7 0.4 -1.1 0.4 3.1 0.4 -5.2 0.4 3.4 0.4 -4 0.4 -1 0.4 0.3 0.4 -1.3 0.4 2.6 0.4 1.6 0.4 -2.2 0.4 0.7 0.4 1.9 0.4 -3.3 0.4 -0.6 0.4 -1.4 0.4 -3.3 0.4 4.7 0.4 -5.9 0.4 4.9 0.4 -1.7 0.4 2.4 0.4 -2.6 0.4 -1.6 0.4 2.6 0.4 -1.8 0.4 0.9 0.4 0.4 0.4 -0.5 0.4 -0.3 0.4 -1.8 0.4 0.9 0.4 -4.7 0.4 3.7 0.4 -2.8 0.4 4.6 0.4 -0.1 0.4 -7.4 0.4 4.3 0.4 -0.8 0.4 -2.2 0.4 3.3 0.4 -2.4 0.4 -3 0.4 3.2 0.4 0.1 0.4 0.5 0.4 -3 0.4 4 0.4 0.2 0.4 -4.2 0.4 1.1 0.4 1.3 0.4 -1.1 0.4 5.1 0.4 -3.4 0.4 -2.7 0.4 0.5 0.4 1.5 0.4 4.7 0.4 -5 0.4 0.5 0.4 0.8 0.4 -1.4 0.4 4.6 0.4 -6 0.4 2.6 0.4 -1.6 0.4 0.8 0.4 -4.1 0.4 6.3 0.4 -4.3 0.4 0.3 0.4 -2 0.4 0.5 0.4 2.9 0.4 1.1 0.4 -0.3 0.4 1.1 0.4 -0.9 0.4 -1.4 0.4 1.8 0.4 -0.5 0.4 -1.6 0.4 1.7 0.4 1.1 0.4 -2.3 0.4 -1.4 0.4 2.4 0.4 2.6 0.4 -4.4 0.4 0.5 0.4 0.2 0.4 3.2 0.4 -6.3 0.4 4.9 0.4 1.9 0.4 -4.2 0.4 4.9 0.4 -2 0.4 -2.4 0.4 1.6 0.4 -3.8 0.4 2 0.4 5 0.4 -5.7 0.4 5.9 0.4 -4 0.4 2.5 0.4 -1.9 0.4 -4.3 0.4 3.3 0.4 1.7 0.4 -2.8 0.4 -0.4 0.4 3.5 0.4 -2.3 0.4 -2.3 0.4 2.1 0.4 3.2 0.4 -2.8 0.4 3.1 0.4 1.5 0.4 -3 0.4 -2.1 0.4 -0 0.4 3 0.4 2.2 0.4 -0.9 0.4 0.9 0.4 -1.8 0.4 1.8 0.4 -1.3 0.4 0.5 0.4 -1.8 0.4 -0.4 0.4 2.5 0.4 -1.1 0.4 0.6 0.4 3.5 0.4 -1.4 0.4 4.8 0.4 -2.3 0.4 -3 0.4 3.1 0.4 -0.7 0.4 -2 0.4 3.9 0.4 -3.8 0.4 -2.6 0.4 6.1 0.4 -2.7 0.4 4.6 0.4 -4 0.4 -0.7 0.4 6.1 0.4 -4.9 0.4 3.1 0.4 3 0.4 -2.4 0.4 -0.1 0.4 0.6 0.4 1.7 0.4 -3.3 0.4 3 0.4 0 0.4 3.2 0.4 -4.8 0.4 -1.1 0.4 3.5 0.4 -2.2 0.4 1.5 0.4 -0.1 0.4 2.3 0.4 -3.5 0.4 1.5 0.4 -3.8 0.4 2.8 0.4 5.1 0.4 -4.2 0.4 0.2 0.4 -1 0.4 3.7 0.4 -0.8 0.4 -2.7 0.4 3.7 0.4 -0.8 0.4 0.9 0.4 -2.8 0.4 4.8 0.4 -2.6 0.4 -1.1 0.4 -0.8 0.4 0.6 0.4 2.2 0.4 -2.3 0.4 2.6 0.4 -1 0.4 1.4 0.4 -1.1 0.4 -1.7 0.4 -3.6 0.4 4.5 0.4 1.2 0.4 -1 0.4 1.1 0.4 -1.7 0.4 0.6 0.4 -0.8 0.4 4.9 0.4 -2 0.4 -1 0.4 -1.3 0.4 2.6 0.4 3.4 0.4 -1.7 0.4 -2.1 0.4 4.3 0.4 0.1 0.4 -0.8 0.4 -0.2 0.4 0.8 0.4 -1 0.4 0.7 0.4 -2.8 0.4 4.8 0.4 -2.1 0.4 3.8 0.4 -7.5 0.4 5.6 0.4 0.8 0.4 -2.3 0.4 1.8 0.4 0.8 0.4 -0.1 0.4 -1.9 0.4 1.1 0.4 2.5 0.4 0.8 0.4 -2 0.4 0.3 0.4 0.6 0.4 2 0.4 -3.6 0.4 -0.2 0.4 3.3 0.4 -1.9 0.4 1.5 0.4 1.7 0.4 1.2 0.4 -2.4 0.4 4 0.4 -4.4 0.4 4.8 0.4 -3.6 0.4 1 0.4 4 0.4 -1.7 0.4 -0.4 0.4 0.9 0.4 2 0.4 -0.8 0.4 0.3 0.4 2.3 0.4 -3.1 0.4 0.7 0.4 0.1 0.4 3.4 0.4 -0.1 0.4 0.8 0.4 -2.2 0.4 0.1 0.4 2.2 0.4 -2 0.4 2.6 0.4 0.3 0.4 -2.2 0.4 1.6 0.4 0.4 0.4 3.9 0.4 1.2 0.4 -3.7 0.4 0.6 0.4 -3.5 0.4 4.5 0.4 -0.1 0.4 -1.8 0.4 3.6 0.4 -4.2 0.4 2.7 0.4 0.8 0.4 -2.3 0.4 4.1 0.4 0.7 0.4 -4.1 0.4 0.4 0.4 4 0.4 -0.8 0.4 -1.8 0.4 2 0.4 0.6 0.4 0.1 0.4 2 0.4 -0.7 0.4 2.7 0.4 -0.7 0.4 -1.1 0.4 0.7 0.4 0.5 0.4 -1 0.4 -3.4 0.4 3.9 0.4 -1.2 0.4 3 0.4 -2.6 0.4 1 0.4 -0.2 0.4 2.7 0.4 -2.5 0.4 -0.6 0.4 1.3 0.4 -1.1 0.4 1.2 0.4 -0.2 0.4 0.6 0.4 3 0.4 -4 0.4 0.9 0.4 -0.3 0.4 1.7 0.4 -3.1 0.4 1.1 0.4 1.4 0.4 1.2 0.4 -0.8 0.4 -0.6 0.4 -0.5 0.4 2.5 0.4 1.8 0.4 -1.9 0.4 -0.1 0.4 0.5 0.4 -2.4 0.4 1.1 0.4 0.1 0.4 1 0.4 -0.5 0.4 -1.9 0.4 4.1 0.4 1.1 0.4 -3.2 0.4 1.2 0.4 -0.1 0.4 0.9 0.4 -3.7 0.4 5.2 0.4 -3.4 0.4 2.9 0.4 -1.9 0.4 -0.7 0.4 0.5 0.4 1.8 0.4 -2.8 0.4 0.9 0.4 -0.2 0.4 -2.1 0.4 4.9 0.4 -1.3 0.4 -1.1 0.4 1.8 0.4 -3.6 0.4 1.3 0.4 2.9 0.4 -1.2 0.4 -4.9 0.4 0.2 0.4 1.9 0.4 3.6 0.4 -2.2 0.4 0.5 0.4 1.5 0.4 -2.4 0.4 1.8 0.4 0.9 0.4 -0.6 0.4 -0.2 0.4 -1.7 0.4 1.6 0.4 -1.6 0.4 2.6 0.4 1.2 0.4 -4.6 0.4 -2.2 0.4 2.6 0.4 1.2 0.4 1.1 0.4 0 0.4 -2.8 0.4 -0 0.4 3.2 0.4 -3.6 0.4 3.4 0.4 -2 0.4 1.5 0.4 -0.1 0.4 0.1 0.4 -0 0.4 -2.9 0.4 2 0.4 -0.5 0.4 0.5 0.4 1.4 0.4 -2.3 0.4 -0.7 0.4 0 0.4 0.6 0.4 1.5 0.4 -2.4 0.4 2.9 0.4 -1.5 0.4 -0.8 0.4 -1.8 0.4 2.3 0.4 0.7 0.4 -3.7 0.4 4.5 0.4 0.7 0.4 -1.8 0.4 0.3 0.4 2.5 0.4 -1.3 0.4 -3 0.4 1.3 0.4 -0.3 0.4 -0 0.4 -3 0.4 3.9 0.4 -2.2 0.4 0.8 0.4 -0.7 0.4 1.2 0.4 -2 0.4 -1 0.4 1.7 0.4 1.1 0.4 -2.7 0.4 2.3 0.4 -1.7 0.4 -1.3 0.4 2.9 0.4 -3.6 0.4 2.6 0.4 -2.3 0.4 1.3 0.4 -2.6 0.4 0.4 0.4 2.6 0.4 -1.5 0.4 -0.5 0.4 -0.9 0.4 1 0.4 -2.9 0.4 0.1 0.4 1 0.4 -1.4 0.4 -0.3 0.4 -0 0.4 -1.2 0.4 -1.7 0.4 -0.6 0.4 -4.4 0.4 -5.3 0.4 -8.6 0.4 -10.4 0.4 -13.3 0.4 -14.9 0.4 -16.9 0.4 -15.2 0.4 -10.9 0.4 -3.1 0.4 5.9 0.4 12.5 0.4 16.5 0.4 16 0.4 15.4 0.4 11.7 0.4 10.1 0.4 8 0.4 4.1 0.4 4.6 0.4 0.4 0.4 1 0.4 3.2 0.4 1.4 0.4 -2.4 0.4 1.4 0.4 -1.8 0.4 2 0.4 1.8 0.4 -1.3 0.4 -0.6 0.4 -1.2 0.4 2.7 0.4 0.7 0.4 -0.3 0.4 -0.5 0.4 -2.2 0.4 4.7 0.4 -2.7 0.4 -0.1 0.4 1.4 0.4 -4.3 0.4 3.1 0.4 -0.1 0.4 0.8 0.4 1.4 0.4 -1.3 0.4 -3.5 0.4 2.3 0.4 0.9 0.4 -0 0.4 -2.1 0.4 -0.6 0.4 3.4 0.4 -0.3 0.4 -0.6 0.4 -2.7 0.4 5.1 0.4 -6.1 0.4 2.3 0.4 3.2 0.4 -3.6 0.4 0 0.4 -2.4 0.4 2.5 0.4 -4.2 0.4 0.3 0.4 -2.3 0.4 -4.5 0.4 -3.5 0.4 -8.7 0.4 -9.1 0.4 -11.6 0.4 -13.5 0.4 -13.1 0.4 -10.2 0.4 -4.1 0.4 4.1 0.4 10.4 0.4 13.3 0.4 13.9 0.4 11.4 0.4 10 0.4 6.9 0.4 4.4 0.4 5 0.4 0.4 0.4 2.6 0.4 2.9 0.4 -2.6 0.4 1.9 0.4 -1.8 0.4 1.9 0.4 -1.3 0.4 1.9 0.4 -0.2 0.4 1.2 0.4 2.4 0.4 -2 0.4 0.7 0.4 -1.2 0.4 -0.3 0.4 -1.1 0.4 -1.7 0.4 2.4 0.4 1.9 0.4 -2.3 0.4 -2.1 0.4 2.2 0.4 -3.8 0.4 -1.6 0.4 -2.5 0.4 -2.4 0.4 -3.3 0.4 -4.2 0.4 -10.6 0.4 -12.6 0.4 -15.4 0.4 -19 0.4 -22.1 0.4 -21.2 0.4 -17.8 0.4 -9.1 0.4 3.2 0.4 13.7 0.4 20.4 0.4 23.2 0.4 20.9 0.4 16.5 0.4 15.2 0.4 10.4 0.4 8 0.4 4.9 0.4 2.8 0.4 3.2 0.4 1.8 0.4 1 0.4 -1.5 0.4 0.5 0.4 2.6 0.4 -0.6 0.4 3.4 0.4 1.2 0.4 -0.4 0.4 -0.7 0.4 1 0.4 2 0.4 -2.7 0.4 2.9 0.4 -0 0.4 -0.4 0.4 2.3 0.4 -3 0.4 3.1 0.4 -2.6 0.4 0.6 0.4 -0.1 0.4 2.8 0.4 -1.9 0.4 1.8 0.4 -1.6 0.4 3.7 0.4 1.3 0.4 -2.4 0.4 2.3 0.4 -1.7 0.4 2.4 0.4 -3.1 0.4 -2.5 0.4 4.9 0.4 -2.4 0.4 -1.2 0.4 0.9 0.4 -1.3 0.4 2.5 0.4 -1.2 0.4 4.2 0.4 -1.1 0.4 -3.5 0.4 0.4 0.4 1.6 0.4 -2 0.4 2.9 0.4 0.3 0.4 -1 0.4 0.6 0.4 1.9 0.4 1.6 0.4 0.4 0.4 -2 0.4 1.5 0.4 -2.3 0.4 1.9 0.4 -2 0.4 2.7 0.4 -3 0.4 0.4 0.4 1.5 0.4 0.8 0.4 -3 0.4 1.3 0.4 1.1 0.4 0.1 0.4 -1.7 0.4 1.5 0.4 -0.6 0.4 2.7 0.4 -1.3 0.4 -2.7 0.4 -1.1 0.4 3.5 0.4 1.9 0.4 -1.4 0.4 1.3 0.4 -2 0.4 -1.2 0.4 3.3 0.4 -0.9 0.4 0.9 0.4 -3.2 0.4 2.4 0.4 -1.2 0.4 2.3 0.4 -2 0.4 0.1 0.4 0.2 0.4 3 0.4 -1.7 0.4 -1.2 0.4 -0.3 0.4 -0.1 0.4 3.7 0.4 -5 0.4 1.3 0.4 2.1 0.4 0.8 0.4 -2.1 0.4 1.4 0.4 -0 0.4 0.4 0.4 -1.4 0.4 2.6 0.4 -2.1 0.4 2.1 0.4 -3.8 0.4 3.1 0.4 -3.1 0.4 -0.3 0.4 3.1 0.4 -1.9 0.4 2 0.4 -2.3 0.4 4 0.4 -2.4 0.4 -1.7 0.4 1.9 0.4 1 0.4 -2.6 0.4 1.9 0.4 2.2 0.4 -1.8 0.4 -1.3 0.4 -0.9 0.4 1.8 0.4 -3.1 0.4 -0.8 0.4 2.3 0.4 -0.5 0.4 4.4 0.4 -2.2 0.4 -1.5 0.4 -0.2 0.4 2.5 0.4 -1.9 0.4 0.3 0.4 0.7 0.4 0.2 0.4 -0.1 0.4 0 0.4 1.7 0.4 0.6 0.4 -4.9 0.4 5.3 0.4 -2.8 0.4 1.6 0.4 -2.9 0.4 1.6 0.4 -0.1 0.4 0 0.4 1.2 0.4 -0.1 0.4 -2.2 0.4 1.4 0.4 1.4 0.4 0.1 0.4 -1.4 0.4 0.1 0.4 0.3 0.4 -1.4 0.4 -0.2 0.4 4.1 0.4 -2.8 0.4 0.6 0.4 -1.3 0.4 2.9 0.4 0.5 0.4 -2.9 0.4 1 0.4 -1.9 0.4 3.6 0.4 -1.2 0.4 -2.4 0.4 3 0.4 -1.2 0.4 0.2 0.4 0 0.4 -1.3 0.4 0.3 0.4 1.8 0.4 -0.8 0.4 -1 0.4 4.4 0.4 -2.9 0.4 -0.3 0.4 0.1 0.4 2.2 0.4 0.6 0.4 -0.9 0.4 0.9 0.4 -3.4 0.4 1.5 0.4 -0.3 0.4 0.5 0.4 0.4 0.4 -3.7 0.4 5.5 0.4 -4.2 0.4 1.6 0.4 0.6 0.4 0 0.4 -0.8 0.4 -3.3 0.4 1.7 0.4 2.7 0.4 -2.2 0.4 -0 0.4 -1.3 0.4 4.9 0.4 -0.9 0.4 -1.8 0.4 1.1 0.4 0.1 0.4 -1.5 0.4 1.1 0.4 0.5 0.4 0.3 0.4 0.8 0.4 -1.9 0.4 -0.7 0.4 1.1 0.4 -1.4 0.4 -0.8 0.4 3.4 0.4 -2 0.4 0.7 0.4 0.9 0.4 -2.4 0.4 2.5 0.4 -0.3 0.4 -0.8 0.4 0.7 0.4 -1.7 0.4 -1.9 0.4 2.5 0.4 -0.9 0.4 2.4 0.4 -0.9 0.4 -1 0.4 0.8 0.4 1.8 0.4 -0.2 0.4 -1 0.4 0.1 0.4 -0.9 0.4 0.2 0.4 0.8 0.4 -1.1 0.4 0.3 0.4 -1.9 0.4 -1 0.4 -0.3 0.4 0.7 0.4 0.9 0.4 -1.1 0.4 -2.7 0.4 -1.6 0.4 -0.4 0.4 -2.4 0.4 -3.3 0.4 -2.2 0.4 -3.3 0.4 -2.7 0.4 -2.2 0.4 -0.5 0.4 0.9 0.4 2.2 0.4 3.2 0.4 3.1 0.4 3.4 0.4 1.9 0.4 1.8 0.4 3 0.4 1.8 0.4 1.4 0.4 0.7 0.4 -1.7 0.4 1.3 0.4 0.6 0.4 0.9 0.4 -2.2 0.4 2.8 0.4 0.6 0.4 -1.4 0.4 1.6 0.4 1.6 0.4 -1.3 0.4 1.6 0.4 0.1 0.4 -0.6 0.4 0.1 0.4 -0.9 0.4 2.2 0.4 -2.1 0.4 -0.2 0.4 1.9 0.4 -1.8 0.4 1.6 0.4 0.9 0.4 -1.2 0.4 0.1 0.4 1.2 0.4 -0.1 0.4 -2.9 0.4 0.5 0.4 3.6 0.4 -1 0.4 -3 0.4 1.2 0.4 2.1 0.4 -1.1 0.4 2.1 0.4 -0.4 0.4 0.6 0.4 -2.2 0.4 2.3 0.4 1.7 0.4 -3.7 0.4 2.7 0.4 -0.6 0.4 -0.4 0.4 -1 0.4 -1.4 0.4 0.5 0.4 2.2 0.4 0.4 0.4 0.4 0.4 -0.2 0.4 -0 0.4 -1.7 0.4 -1 0.4 1.8 0.4 0.3 0.4 -0.5 0.4 -2.2 0.4 1.3 0.4 -1.3 0.4 2.1 0.4 -1.5 0.4 1.2 0.4 0.8 0.4 -0.2 0.4 1.8 0.4 -3.1 0.4 -1.2 0.4 4.1 0.4 0.6 0.4 0 0.4 -1.5 0.4 0.3 0.4 -0.6 0.4 -1.8 0.4 0.8 0.4 1.4 0.4 -1.4 0.4 3.3 0.4 -4.3 0.4 1.5 0.4 2.2 0.4 -2 0.4 -0.5 0.4 -0.1 0.4 0.9 0.4 3 0.4 -1.4 0.4 0.2 0.4 -1.3 0.4 1.8 0.4 -0.9 0.4 -1.2 0.4 0.7 0.4 1 0.4 1.4 0.4 -1.4 0.4 0.9 0.4 2.2 0.4 -3.4 0.4 -0.5 0.4 2.9 0.4 -0.6 0.4 -0.7 0.4 0.4 0.4 -0.7 0.4 1 0.4 -1 0.4 1.5 0.4 -2.4 0.4 0.5 0.4 1.2 0.4 -0.6 0.4 1.6 0.4 -0.9 0.4 -0.5 0.4 1 0.4 -0.8 0.4 -1.2 0.4 0.6 0.4 0.5 0.4 0.5 0.4 0.8 0.4 1.2 0.4 -0.4 0.4 1.7 0.4 -0.5 0.4 -1.7 0.4 2.3 0.4 -0.5 0.4 -2.1 0.4 0.9 0.4 0.9 0.4 -1.2 0.4 1 0.4 -0.8 0.4 0.4 0.4 -1.1 0.4 1 0.4 -0.8 0.4 1.4 0.4 -2.8 0.4 2.5 0.4 1.1 0.4 -0.8 0.4 -0.8 0.4 0.7 0.4 -1.7 0.4 -0 0.4 0.5 0.4 0.2 0.4 1.3 0.4 -2.3 0.4 2.3 0.4 -3.1 0.4 1 0.4 1 0.4 1.6 0.4 -2.1 0.4 -1.7 0.4 3.2 0.4 -0.5 0.4 -1.3 0.4 0.1 0.4 0.4 0.4 0.9 0.4 0.7 0.4 -2.7 0.4 4.3 0.4 -2.6 0.4 -0.4 0.4 1.2 0.4 -0.7 0.4 2.4 0.4 -1.2 0.4 -1.8 0.4 -0 0.4 -0.2 0.4 0.2 0.4 1.1 0.4 -1.6 0.4 2.6 0.4 -2 0.4 -0.1 0.4 1.3 0.4 -3.4 0.4 1.3 0.4 1.8 0.4 -0.6 0.4 -0.1 0.4 0.4 0.4 -1.3 0.4 0.4 0.4 -1.5 0.4 -0.8 0.4 3.2 0.4 -2.6 0.4 -0.1 0.4 1.7 0.4 -0.8 0.4 -1.9 0.4 -0.6 0.4 -0.5 0.4 -1.6 0.4 -0.4 0.4 -2 0.4 -2.1 0.4 -2.4 0.4 -3.1 0.4 -3.1 0.4 -3.6 0.4 -3.5 0.4 -1.7 0.4 -0.8 0.4 1.2 0.4 2.8 0.4 3.1 0.4 3.5 0.4 3.6 0.4 2.4 0.4 2.3 0.4 2.7 0.4 2.3 0.4 1 0.4 -0.4 0.4 1.5 0.4 1.1 0.4 2.5 0.4 -0.4 0.4 0.3 0.4 0.7 0.4 -1.3 0.4 1 0.4 0.2 0.4 -1.5 0.4 1.2 0.4 0.7 0.4 -1.8 0.4 2.2 0.4 0 0.4 0.4 0.4 -2.1 0.4 1.1 0.4 1.6 0.4 -0.7 0.4 -1.8 0.4 1.2 0.4 1.4 0.4 -1.7 0.4 0.5 0.4 2 0.4 -2.4 0.4 -0.1 0.4 -1.1 0.4 0.3 0.4 2.3 0.4 -1.9 0.4 -1.3 0.4 0.1 0.4 1 0.4 0.8 0.4 -1.7 0.4 1.7 0.4 -1.3 0.4 1.1 0.4 0.2 0.4 0.2 0.4 -1.1 0.4 0.3 0.4 0.8 0.4 -2 0.4 1.6 0.4 0.4 0.4 0.6 0.4 -1.2 0.4 -0.2 0.4 0.4 0.4 -1 0.4 0.6 0.4 0.6 0.4 -0.2 0.4 -1.5 0.4 0.8 0.4 -2 0.4 3.2 0.4 -1.4 0.4 0.8 0.4 -1.4 0.4 1.1 0.4 0.7 0.4 0.7 0.4 -2.6 0.4 2.5 0.4 -1 0.4 -0.6 0.4 1.4 0.4 -0.9 0.4 -0 0.4 -0.5 0.4 0.9 0.4 -0.3 0.4 -0.3 0.4 -0.9 0.4 0.4 0.4 0.9 0.4 1 0.4 -1.5 0.4 1.6 0.4 -1.5 0.4 -1.2 0.4 2 0.4 -1.7 0.4 1.6 0.4 0.9 0.4 -1.5 0.4 0.3 0.4 2.5 0.4 -2.1 0.4 0 0.4 0.6 0.4 -1 0.4 0 0.4 0.5 0.4 -2.7 0.4 3.8 0.4 -2.8 0.4 -0.1 0.4 1.6 0.4 -0.7 0.4 -1.5 0.4 1.4 0.4 -1.5 0.4 0.4 0.4 -0.9 0.4 0.7 0.4 1.3 0.4 -0.2 0.4 0.2 0.4 0.7 0.4 -0.9 0.4 -0.6 0.4 0.5 0.4 2.1 0.4 -1.7 0.4 0.2 0.4 -0.5 0.4 0.2 0.4 0 0.4 -0.7 0.4 -0.4 0.4 -0.9 0.4 -0.3 0.4 0.9 0.4 -0 0.4 -0.2 0.4 -1.1 0.4 -1 0.4 0.5 0.4 -0.7 0.4 -2.1 0.4 0.1 0.4 -1.5 0.4 -1.4 0.4 -2.9 0.4 -2.3 0.4 -2 0.4 -3 0.4 -2 0.4 -1.6 0.4 -0.4 0.4 0.7 0.4 2.1 0.4 2.6 0.4 2.5 0.4 2.6 0.4 2 0.4 2.6 0.4 1.3 0.4 1.7 0.4 -0.3 0.4 2 0.4 -0.2 0.4 1.6 0.4 0.4 0.4 -0.7 0.4 1.4 0.4 1.1 0.4 -0.4 0.4 0.2 0.4 -1.3 0.4 0.3 0.4 -0.3 0.4 1.4 0.4 1.2 0.4 -0.6 0.4 -0.3 0.4 -1 0.4 1.8 0.4 -0.5 0.4 -1.6 0.4 0.3 0.4 1.6 0.4 -0.5 0.4 2.6 0.4 -1.6 0.4 -1.1 0.4 0.6 0.4 2.1 0.4 -2.6 0.4 1.7 0.4 -0.3 0.4 1.1 0.4 -1 0.4 -0.9 0.4 0.9 0.4 -0.5 0.4 0.9 0.4 -1 0.4 2 0.4 -2.1 0.4 0.6 0.4 -1.1 0.4 0.9 0.4 -0 0.4 0.2 0.4 0.8 0.4 -1.4 0.4 -0.3 0.4 2 0.4 -1.4 0.4 -0.4 0.4 1.9 0.4 -0.3 0.4 -2.9 0.4 1.8 0.4 1.2 0.4 -0 0.4 -1.4 0.4 2 0.4 -2.4 0.4 0.4 0.4 0.3 0.4 -0.2 0.4 0.7 0.4 0.2 0.4 -1.1 0.4 1.4 0.4 -2.1 0.4 0.4 0.4 2 0.4 -1.7 0.4 1 0.4 -1.5 0.4 0.1 0.4 0.1 0.4 0.3 0.4 -0.5 0.4 0.4 0.4 0.7 0.4 0.6 0.4 -1.1 0.4 0.6 0.4 0.3 0.4 -2 0.4 -0.5 0.4 3.2 0.4 -0.2 0.4 -1.3 0.4 0.3 0.4 -1.3 0.4 -0.4 0.4 1.6 0.4 -1.9 0.4 2.3 0.4 -1.6 0.4 0.8 0.4 1.5 0.4 -0.1 0.4 -2.1 0.4 1.1 0.4 -2 0.4 0.2 0.4 0.7 0.4 0.5 0.4 -1.7 0.4 0.4 0.4 -0.7 0.4 -1.3 0.4 -0 0.4 -0.2 0.4 -1.8 0.4 -1.1 0.4 -1.5 0.4 -2.2 0.4 -1.6 0.4 -1.8 0.4 -1.5 0.4 -0.7 0.4 0.1 0.4 1.1 0.4 1.6 0.4 1.8 0.4 1.9 0.4 2.1 0.4 1.7 0.4 0.4 0.4 1.6 0.4 -0.3 0.4 1 0.4 -0.1 0.4 -0.3 0.4 1.4 0.4 0.1 0.4 -0.4 0.4 -0.2 0.4 -0.6 0.4 0.5 0.4 -0.8 0.4 0.3 0.4 -1.9 0.4 0.6 0.4 -0.5 0.4 0.1 0.4 -0.6 0.4 -0.8 0.4 -0.4 0.4 -0.3 0.4 2.6 0.4 2.3 0.4 1 0.4 -2.9 0.4 1.9 0.4 0.9 0.4 -0.3 0.4 1.5 0.4 0.1 0.4 -0.4 0.4 0.6 0.4 -1.4 0.4 0.7 0.4 0.1 0.4 1.8 0.4 -2.4 0.4 1.4 0.4 0.9 0.4 -0.7 0.4 0.9 0.4 -1.3 0.4 1.2 0.4 0.6 0.4 1.2 0.4 -1.1 0.4 0.7 0.4 -1.1 0.4 0.3 0.4 1.6 0.4 -0.8 0.4 0.9 0.4 -0.7 0.4 1.3 0.4 -0 0.4 -2.8 0.4 2.5 0.4 -1.4 0.4 -0.1 0.4 -0.6 0.4 0.7 0.4 -1.8 0.4 0.2 0.4 -0.1 0.4 0.9 0.4 0.5 0.4 -0.3 0.4 -0.4 0.4 -0.9 0.4 -1.2 0.4 2.1 0.4 -0.2 0.4 0.2 0.4 1.1 0.4 -1.4 0.4 0.1 0.4 -1.7 0.4 2.6 0.4 -0.5 0.4 -0.5 0.4 1.1 0.4 -1.3 0.4 0.5 0.4 2.3 0.4 -1.1 0.4 0.2 0.4 -0.2 0.4 -0.1 0.4 -0.4 0.4 1.7 0.4 -2 0.4 0.7 0.4 -0.9 0.4 -0.2 0.4 -1.6 0.4 0.1 0.4 3.2 0.4 0 0.4 -1.7 0.4 0.4 0.4 0.7 0.4 -1.4 0.4 2.6 0.4 -2.5 0.4 0.3 0.4 -1.2 0.4 3.3 0.4 -1.4 0.4 1.4 0.4 -2.5 0.4 1.1 0.4 -0.3 0.4 0 0.4 1.7 0.4 -0 0.4 -0.7 0.4 -1.6 0.4 1.2 0.4 0.4 0.4 -0.6 0.4 0 0.4 0 0.4 -1.1 0.4 1.1 0.4 1.3 0.4 -2.3 0.4 1 0.4 0.8 0.4 -2 0.4 1.1 0.4 -1.4 0.4 1 0.4 -0.7 0.4 0.4 0.4 0.4 0.4 0.2 0.4 0.1 0.4 -1.7 0.4 3.3 0.4 -1.6 0.4 -0.7 0.4 0.5 0.4 0.9 0.4 -1.1 0.4 0.6 0.4 -0 0.4 0.9 0.4 -1.1 0.4 1.1 0.4 -0.1 0.4 -0.5 0.4 1.2 0.4 -1.1 0.4 -1.1 0.4 1.3 0.4 -0.1 0.4 -0.1 0.4 0.3 0.4 1.7 0.4 -1.5 0.4 0.2 0.4 -0.6 0.4 1.4 0.4 -1.2 0.4 -0.7 0.4 -0.4 0.4 1.4 0.4 0.2 0.4 -2.1 0.4 0.7 0.4 1.2 0.4 0.3 0.4 -2 0.4 0.8 0.4 1.1 0.4 -1.1 0.4 0.1 0.4 -0.1 0.4 -0.7 0.4 1.2 0.4 0.2 0.4 -1.5 0.4 1.3 0.4 0.8 0.4 -0.8 0.4 0.6 0.4 -1.2 0.4 1.6 0.4 -1.8 0.4 2.4 0.4 -2 0.4 -0.1 0.4 -0.1 0.4 0.4 0.4 -0 0.4 -0.2 0.4 0.3 0.4 0.9 0.4 0.1 0.4 -1 0.4 1.3 0.4 -2 0.4 -0.1 0.4 -0.1 0.4 1.5 0.4 -1.8 0.4 0.1 0.4 2.3 0.4 0.4 0.4 -0.3 0.4 -2.4 0.4 1.3 0.4 0.7 0.4 -0.6 0.4 -1.4 0.4 1.1 0.4 -1.1 0.4 0.5 0.4 2.9 0.4 -1.1 0.4 -1.7 0.4 0 0.4 1.7 0.4 -0.8 0.4 1 0.4 -1.1 0.4 0.4 0.4 0.4 0.4 -1.1 0.4 -0.7 0.4 0.6 0.4 0.5 0.4 0.4 0.4 0.2 0.4 0 0.4 0.6 0.4 -1.2 0.4 2 0.4 0.5 0.4 -1.4 0.4 -0.2 0.4 0.8 0.4 -0.5 0.4 -0.5 0.4 -0.4 0.4 -0.5 0.4 -0.4 0.4 1.5 0.4 0.3 0.4 -1.8 0.4 0.8 0.4 0.2 0.4 -0.5 0.4 -0.2 0.4 0.4 0.4 -1.3 0.4 1.6 0.4 -0.1 0.4 2 0.4 -1 0.4 -1 0.4 0.2 0.4 1.4 0.4 -0.1 0.4 -1.2 0.4 -0.3 0.4 -1.1 0.4 0.9 0.4 0.2 0.4 -0.4 0.4 2.1 0.4 -2.9 0.4 1.6 0.4 0.5 0.4 0.1 0.4 1.2 0.4 -2.5 0.4 0.6 0.4 0.7 0.4 0 0.4 -0.4 0.4 -0.3 0.4 1.4 0.4 -1.8 0.4 0.4 0.4 1.6 0.4 0.1 0.4 -0.7 0.4 -1.5 0.4 -0.1 0.4 -0 0.4 -0.3 0.4 0.6 0.4 1.4" fill="none" stroke="#000" stroke-width="4.0" stroke-linejoin="round" stroke-linecap="round"/>
<path d="M485.2 582.5L479.9 603L490.5 603Z" fill="#858585"/><path d="M485.2 602V617" stroke="#929292" stroke-width="1.4" fill="none"/>
<path d="M512.6 616.1L507.3 636.6L517.9 636.6Z" fill="#858585"/><path d="M512.6 635.6V650.5" stroke="#929292" stroke-width="1.4" fill="none"/>
<path d="M531.7 571.3L526.4 591.9L537 591.9Z" fill="#858585"/>
<path d="M645.7 657.3L640.4 678.1L651 678.1Z" fill="#858585"/><path d="M645.7 677.1V719.5" stroke="#929292" stroke-width="1.4" fill="none"/>
<path d="M733.2 685.2L727.9 705.5L738.5 705.5Z" fill="#858585"/><path d="M733.2 704.5V733.5" stroke="#929292" stroke-width="1.4" fill="none"/>
<path d="M795.8 687.7L790.5 708.6L801.1 708.6Z" fill="#858585"/><path d="M795.8 707.6V736.2" stroke="#929292" stroke-width="1.4" fill="none"/>
<path d="M844.8 704.4L839.5 724.9L850.1 724.9Z" fill="#858585"/><path d="M844.8 723.9V752.7" stroke="#929292" stroke-width="1.4" fill="none"/>
<path d="M219.9 994.7l0.4 0.6 0.4 2.5 0.4 -1.3 0.4 -3.1 0.4 2.3 0.4 -0.8 0.4 1.2 0.4 -2.2 0.4 2.6 0.4 0.2 0.4 2 0.4 -1.6 0.4 0.4 0.4 -2.5 0.4 5 0.4 -5.2 0.4 4.2 0.4 -1.8 0.4 -0.5 0.4 0.5 0.4 0.1 0.4 1.6 0.4 -0.5 0.4 2.3 0.4 -4.3 0.4 2.6 0.4 -1.1 0.4 2.4 0.4 -3.8 0.4 2.5 0.4 0.9 0.4 -2.1 0.4 3.5 0.4 -0.8 0.4 1.3 0.4 0.3 0.4 -2.4 0.4 0.5 0.4 1 0.4 1.4 0.4 0.2 0.4 -2.1 0.4 0.1 0.4 -0.3 0.4 0.3 0.4 0.4 0.4 0.2 0.4 3 0.4 -3.4 0.4 0.4 0.4 1.1 0.4 -1.8 0.4 0.9 0.4 0.7 0.4 1.2 0.4 -2.6 0.4 3.9 0.4 -2.1 0.4 1 0.4 1.1 0.4 -0 0.4 0.8 0.4 -1 0.4 -0.1 0.4 0.7 0.4 -1.6 0.4 3.1 0.4 -2.5 0.4 -0.5 0.4 4.5 0.4 -2.8 0.4 -1.3 0.4 4.1 0.4 -2.8 0.4 1.9 0.4 -2.4 0.4 0.8 0.4 -1.9 0.4 -0.2 0.4 1.2 0.4 1.3 0.4 1.1 0.4 1.7 0.4 -4.2 0.4 2.6 0.4 -2.1 0.4 0.6 0.4 -1.8 0.4 0 0.4 1 0.4 -0.5 0.4 1.6 0.4 -0.9 0.4 2.7 0.4 -1.4 0.4 0.1 0.4 1.3 0.4 -0.7 0.4 -0.8 0.4 -0 0.4 -0.1 0.4 1.5 0.4 -0.4 0.4 -0.6 0.4 0.6 0.4 -1.8 0.4 1.5 0.4 -2.6 0.4 3.7 0.4 -1.7 0.4 0 0.4 0.5 0.4 -1 0.4 -0.4 0.4 1.7 0.4 -1.5 0.4 -1.5 0.4 1.6 0.4 -3 0.4 4.3 0.4 -2.6 0.4 0.1 0.4 2.5 0.4 -0.3 0.4 -2.8 0.4 0.5 0.4 0.4 0.4 0.7 0.4 -2.6 0.4 0.3 0.4 1.4 0.4 -1.3 0.4 0.6 0.4 -0.2 0.4 -2.4 0.4 0.3 0.4 -1.7 0.4 2.3 0.4 2 0.4 -3.4 0.4 3 0.4 -0.4 0.4 -1.5 0.4 -0 0.4 0.1 0.4 -1.2 0.4 0.9 0.4 0.4 0.4 1 0.4 0.4 0.4 -2 0.4 2.1 0.4 -2.1 0.4 0.8 0.4 0.6 0.4 -0.6 0.4 -0.1 0.4 0.4 0.4 -1.1 0.4 -0.2 0.4 0.5 0.4 1.4 0.4 -1.6 0.4 2.5 0.4 -2.4 0.4 -3.3 0.4 2 0.4 2.6 0.4 -2.3 0.4 -0.7 0.4 -0.7 0.4 2.9 0.4 -0.5 0.4 -0.5 0.4 -0.4 0.4 1.2 0.4 -0.8 0.4 -2.8 0.4 2.6 0.4 -0.9 0.4 -0.4 0.4 1.1 0.4 -0.9 0.4 -2.8 0.4 4.9 0.4 -0.6 0.4 -1.5 0.4 -0.2 0.4 0.9 0.4 -1.9 0.4 2.2 0.4 -0.7 0.4 -0.1 0.4 -0.9 0.4 0.3 0.4 2.3 0.4 0.2 0.4 -1.2 0.4 -0.8 0.4 -1.1 0.4 2.1 0.4 1.2 0.4 -4.3 0.4 3.7 0.4 -4.3 0.4 2.3 0.4 0.8 0.4 -2.4 0.4 -0.3 0.4 2.1 0.4 0.8 0.4 -1.8 0.4 2.3 0.4 -2.8 0.4 3.4 0.4 -2.2 0.4 0.2 0.4 0.6 0.4 -0.4 0.4 2.1 0.4 0.4 0.4 -2 0.4 -0.9 0.4 -1.2 0.4 0.6 0.4 1.2 0.4 -0.1 0.4 0.2 0.4 0.1 0.4 0.6 0.4 -2.4 0.4 0.3 0.4 2.8 0.4 -0.5 0.4 -1.9 0.4 2.3 0.4 -2.7 0.4 0.4 0.4 -2.1 0.4 3.4 0.4 -1.2 0.4 1.4 0.4 -0.5 0.4 -0.9 0.4 0.1 0.4 1.3 0.4 -1.8 0.4 -0.1 0.4 0.2 0.4 0.9 0.4 0 0.4 1.2 0.4 -2.7 0.4 1.7 0.4 -2.5 0.4 1.6 0.4 -0.6 0.4 2.2 0.4 -1.5 0.4 -1.3 0.4 1.5 0.4 -0.2 0.4 -0.7 0.4 0.1 0.4 -0.7 0.4 4 0.4 -2.4 0.4 1.1 0.4 -2.8 0.4 0.1 0.4 1.2 0.4 -0.1 0.4 1.2 0.4 -2.5 0.4 1.9 0.4 1.2 0.4 -3.2 0.4 2.4 0.4 -2.5 0.4 1.8 0.4 0.2 0.4 1.9 0.4 -3 0.4 1.4 0.4 1.3 0.4 -2.7 0.4 1.7 0.4 -1 0.4 0.3 0.4 1.9 0.4 0.1 0.4 1.7 0.4 -0.9 0.4 -0.2 0.4 -1.9 0.4 -0.2 0.4 0.5 0.4 -3 0.4 5 0.4 -3 0.4 -0.5 0.4 0.9 0.4 1.7 0.4 0.6 0.4 -2.1 0.4 1 0.4 -0.6 0.4 -1.2 0.4 1.6 0.4 -0.2 0.4 -1.9 0.4 3.5 0.4 -3.3 0.4 2.5 0.4 -1.5 0.4 0.5 0.4 0.2 0.4 2 0.4 -2.5 0.4 1.4 0.4 2.4 0.4 -2.9 0.4 0.9 0.4 0.9 0.4 -1.6 0.4 1.5 0.4 -1.4 0.4 1.8 0.4 -0.7 0.4 -1.3 0.4 3.2 0.4 -1.8 0.4 -0.1 0.4 -0.7 0.4 0.7 0.4 0.6 0.4 0.5 0.4 1.4 0.4 -3.1 0.4 1.3 0.4 2.1 0.4 -1.3 0.4 0.3 0.4 1.5 0.4 -1.6 0.4 0.2 0.4 -0.6 0.4 2.4 0.4 -0.9 0.4 -2.1 0.4 1.7 0.4 -2.1 0.4 3.1 0.4 -0.5 0.4 -1 0.4 -0.2 0.4 -1.8 0.4 3.3 0.4 -1.1 0.4 -0.3 0.4 1.3 0.4 -1.8 0.4 0.1 0.4 -0.1 0.4 -0.8 0.4 4.5 0.4 -2.9 0.4 -0.1 0.4 1.7 0.4 -3.8 0.4 2.8 0.4 0.1 0.4 -1.2 0.4 1.9 0.4 -3.1 0.4 2.7 0.4 1.3 0.4 -3.7 0.4 0.9 0.4 1.8 0.4 0.3 0.4 -0.7 0.4 1.4 0.4 0 0.4 -1.9 0.4 1.7 0.4 -1.4 0.4 -0.8 0.4 0.2 0.4 3.9 0.4 -1.3 0.4 2.7 0.4 -4.2 0.4 1.5 0.4 0.9 0.4 -0.6 0.4 0.8 0.4 -0.5 0.4 -0.9 0.4 -1.6 0.4 1.2 0.4 3.4 0.4 -1 0.4 0.9 0.4 -2.2 0.4 0.6 0.4 -0.6 0.4 1.7 0.4 -0.3 0.4 0.6 0.4 1.7 0.4 -3 0.4 2 0.4 -2.4 0.4 3.1 0.4 -1.7 0.4 0.5 0.4 0.4 0.4 1.9 0.4 -1.8 0.4 -0.5 0.4 -0.6 0.4 1.8 0.4 -1.2 0.4 0.5 0.4 0.7 0.4 1 0.4 -1.5 0.4 1.7 0.4 1.5 0.4 -3.6 0.4 3.5 0.4 1.1 0.4 -2.8 0.4 1.7 0.4 -2 0.4 2.2 0.4 -0.5 0.4 0.9 0.4 -1.2 0.4 0.2 0.4 0.5 0.4 -0.2 0.4 0.2 0.4 0.6 0.4 -0.9 0.4 1.1 0.4 0.9 0.4 -2.5 0.4 2.6 0.4 -0.8 0.4 -0.1 0.4 -0 0.4 0.8 0.4 0.4 0.4 1.4 0.4 -1.5 0.4 2.6 0.4 -1.7 0.4 1.8 0.4 0.6 0.4 -2.3 0.4 2.6 0.4 1.3 0.4 -2.6 0.4 1.2 0.4 -0.6 0.4 0.4 0.4 -0.1 0.4 -0.1 0.4 1.5 0.4 0.4 0.4 -0.6 0.4 1.8 0.4 -0.3 0.4 -0.2 0.4 -1.2 0.4 2.8 0.4 -0.5 0.4 -3.2 0.4 1.1 0.4 0.8 0.4 1.5 0.4 0.4 0.4 -1.5 0.4 0.6 0.4 0.5 0.4 -1.9 0.4 1.8 0.4 -0.8 0.4 0.5 0.4 -0.2 0.4 -1 0.4 0.3 0.4 1.1 0.4 0.2 0.4 -0.3 0.4 1.4 0.4 -1.3 0.4 -0.7 0.4 0.9 0.4 0.2 0.4 0.1 0.4 1.3 0.4 -0.6 0.4 0.6 0.4 -0.3 0.4 -0.7 0.4 1.2 0.4 -1.1 0.4 0.6 0.4 -1 0.4 1.1 0.4 -0.3 0.4 0.7 0.4 1.5 0.4 0.4 0.4 -0.9 0.4 -0.8 0.4 0.9 0.4 -0.4 0.4 -0.7 0.4 0.5 0.4 -0.2 0.4 -0.3 0.4 1.7 0.4 -1.7 0.4 -0.1 0.4 1.1 0.4 -1.3 0.4 -0.4 0.4 0.3 0.4 1.2 0.4 -0 0.4 -0.1 0.4 -0.6 0.4 -0.4 0.4 1.6 0.4 -2 0.4 1.1 0.4 -1 0.4 0.8 0.4 0.2 0.4 1.2 0.4 -2.9 0.4 2.9 0.4 -1.9 0.4 1 0.4 0.4 0.4 -1.3 0.4 0.6 0.4 0.5 0.4 -0.4 0.4 -0.5 0.4 0.9 0.4 0 0.4 -1.2 0.4 2.5 0.4 -0.9 0.4 -1.9 0.4 1.1 0.4 2 0.4 -0.1 0.4 -1.2 0.4 -1.7 0.4 1.1 0.4 1 0.4 -0.7 0.4 -0.6 0.4 -0.4 0.4 1.2 0.4 -0.9 0.4 0.3 0.4 0.1 0.4 0.9 0.4 -1.2 0.4 0 0.4 -1.6 0.4 2.2 0.4 -0.2 0.4 -0.7 0.4 -1.8 0.4 1.2 0.4 0.4 0.4 1.5 0.4 -1.2 0.4 0.2 0.4 -0 0.4 0.4 0.4 -1.9 0.4 0.3 0.4 -0.2 0.4 0.7 0.4 -0 0.4 0.3 0.4 -0.8 0.4 0.8 0.4 -0.8 0.4 2.2 0.4 -2.1 0.4 1.9 0.4 -0.4 0.4 -2.2 0.4 1.5 0.4 -0.3 0.4 -1.6 0.4 1.5 0.4 -0.5 0.4 0.3 0.4 -0.9 0.4 0.6 0.4 0.3 0.4 -0.4 0.4 -0.3 0.4 0.3 0.4 -0.6 0.4 0.9 0.4 -1.8 0.4 2.5 0.4 -1 0.4 0.2 0.4 0.2 0.4 -1.5 0.4 2.3 0.4 -2.4 0.4 1 0.4 -0.2 0.4 0.6 0.4 -1.1 0.4 -1.2 0.4 1 0.4 -1.9 0.4 1.2 0.4 -0.3 0.4 1.3 0.4 -1.4 0.4 -0.1 0.4 -0.3 0.4 -0.1 0.4 0.2 0.4 0.8 0.4 -1.3 0.4 0.7 0.4 -0.9 0.4 0.8 0.4 0.1 0.4 -1.1 0.4 0.3 0.4 0.2 0.4 0.2 0.4 -0.1 0.4 -1.1 0.4 -1 0.4 -0.8 0.4 0.9 0.4 -0.4 0.4 -1.7 0.4 -0.8 0.4 -3.1 0.4 -3.1 0.4 -3.7 0.4 -7.3 0.4 -8.2 0.4 -11.2 0.4 -13.6 0.4 -14.7 0.4 -15 0.4 -11.6 0.4 -5.2 0.4 3.3 0.4 10.4 0.4 14.2 0.4 15.1 0.4 14 0.4 11.4 0.4 8.8 0.4 7.5 0.4 4.9 0.4 2.6 0.4 2.4 0.4 2.9 0.4 0.8 0.4 0.9 0.4 0.4 0.4 0.1 0.4 0 0.4 1 0.4 -0.2 0.4 0.1 0.4 0.4 0.4 0.1 0.4 0.9 0.4 -1.2 0.4 2.2 0.4 -2 0.4 0.4 0.4 1 0.4 -1.1 0.4 0.2 0.4 0.4 0.4 -1.4 0.4 1.1 0.4 -0.3 0.4 0.5 0.4 0.5 0.4 0.1 0.4 0.6 0.4 -0.1 0.4 -0.3 0.4 -0.8 0.4 0.7 0.4 -1.4 0.4 0.5 0.4 0.9 0.4 -0.6 0.4 -1.6 0.4 0.4 0.4 0.8 0.4 -0.5 0.4 0 0.4 -2.1 0.4 -0.1 0.4 -0 0.4 -1.2 0.4 -0.6 0.4 -1.5 0.4 -2.3 0.4 -3.7 0.4 -5 0.4 -7.3 0.4 -9.7 0.4 -11.9 0.4 -12.6 0.4 -12.5 0.4 -8.9 0.4 -2.3 0.4 5 0.4 10.8 0.4 12.7 0.4 12.5 0.4 11.3 0.4 8.3 0.4 6.6 0.4 4.8 0.4 3.4 0.4 0.5 0.4 1.8 0.4 1.7 0.4 -0.1 0.4 -0.4 0.4 1.6 0.4 0.3 0.4 0.5 0.4 -0.3 0.4 -0.4 0.4 0.4 0.4 -0.3 0.4 -0.4 0.4 0.4 0.4 -0.1 0.4 -1.1 0.4 1.1 0.4 -0.5 0.4 -0.3 0.4 -2.3 0.4 0.9 0.4 -0.9 0.4 -1.4 0.4 -0.5 0.4 -2.9 0.4 -1.5 0.4 -4.5 0.4 -6.5 0.4 -8.2 0.4 -12.4 0.4 -15.7 0.4 -19.3 0.4 -20.9 0.4 -20.9 0.4 -16.9 0.4 -7.8 0.4 4.3 0.4 14.5 0.4 20.3 0.4 21.6 0.4 19.9 0.4 17.1 0.4 13.5 0.4 10.3 0.4 7.3 0.4 4.5 0.4 3 0.4 3 0.4 1.2 0.4 2.8 0.4 -0.4 0.4 1.9 0.4 0.9 0.4 -0.5 0.4 1.8 0.4 -0.3 0.4 -0 0.4 0.2 0.4 1 0.4 0.8 0.4 -1.7 0.4 1.9 0.4 -0.3 0.4 -0.1 0.4 0.7 0.4 0.3 0.4 0.2 0.4 0.8 0.4 -0.9 0.4 2.1 0.4 -0.5 0.4 -0.8 0.4 -0.7 0.4 1.5 0.4 -0.1 0.4 0.9 0.4 0.2 0.4 0.9 0.4 -1.2 0.4 0.7 0.4 -0.6 0.4 0.1 0.4 1.3 0.4 -1 0.4 0.2 0.4 -0.1 0.4 0.6 0.4 0.3 0.4 -0.3 0.4 -0.6 0.4 1.1 0.4 -0.6 0.4 0.4 0.4 0.5 0.4 0.1 0.4 -1.4 0.4 2.5 0.4 -0.5 0.4 0.7 0.4 0.2 0.4 -1.9 0.4 0.3 0.4 0.5 0.4 0.5 0.4 -0.9 0.4 0.2 0.4 1 0.4 -1.3 0.4 0.8 0.4 0.6 0.4 -0.9 0.4 0.7 0.4 -0.5 0.4 -0.8 0.4 0.7 0.4 0.3 0.4 -0 0.4 0.3 0.4 0.3 0.4 -0 0.4 -0 0.4 -0.4 0.4 0.2 0.4 -0 0.4 -0.1 0.4 1.3 0.4 -2 0.4 1.4 0.4 -1.2 0.4 0.8 0.4 0.9 0.4 -0.6 0.4 1.1 0.4 -1.4 0.4 0.4 0.4 -0.1 0.4 0.4 0.4 -0.2 0.4 -0.1 0.4 0.2 0.4 0.6 0.4 -0.6 0.4 -0.1 0.4 -0.2 0.4 -0.2 0.4 -0.5 0.4 0.3 0.4 0.7 0.4 -1.1 0.4 1.6 0.4 -0.6 0.4 -0.3 0.4 0.3 0.4 0.7 0.4 -0.1 0.4 -0 0.4 0.9 0.4 0.4 0.4 -2.2 0.4 1.4 0.4 -1 0.4 -0.4 0.4 0.6 0.4 1 0.4 -0.8 0.4 -0.1 0.4 1.1 0.4 -0.5 0.4 -0.4 0.4 1.2 0.4 -0.8 0.4 -0.7 0.4 -0.2 0.4 0.4 0.4 0.5 0.4 0.5 0.4 -0.1 0.4 -0.4 0.4 -0.7 0.4 1.3 0.4 -0.5 0.4 -0.8 0.4 -0 0.4 0.8 0.4 0.1 0.4 0.2 0.4 -1.3 0.4 1.9 0.4 -2.3 0.4 1 0.4 0.9 0.4 -0.2 0.4 -1.2 0.4 0.9 0.4 0.5 0.4 -0.3 0.4 -1 0.4 1.7 0.4 -1.9 0.4 1.1 0.4 -0.7 0.4 0.5 0.4 0 0.4 0.6 0.4 -1.1 0.4 1 0.4 0.7 0.4 -0.7 0.4 0.3 0.4 -0.1 0.4 -0.6 0.4 0.3 0.4 0.3 0.4 0.3 0.4 1 0.4 -0.2 0.4 -1.3 0.4 0.1 0.4 -0.3 0.4 -0.6 0.4 2 0.4 -0.4 0.4 -1.5 0.4 1.2 0.4 1.4 0.4 -1 0.4 0.1 0.4 -0.2 0.4 -0.5 0.4 -0.3 0.4 0.2 0.4 0.6 0.4 -0.3 0.4 0.5 0.4 0.6 0.4 -0.7 0.4 0.1 0.4 -0.7 0.4 -0.5 0.4 2 0.4 -0.8 0.4 0.3 0.4 -1 0.4 -0.7 0.4 1.8 0.4 -2 0.4 1.2 0.4 -0.2 0.4 0.5 0.4 0.4 0.4 0.1 0.4 -1.7 0.4 1.9 0.4 -1.7 0.4 1.6 0.4 -0.7 0.4 -0.4 0.4 0.4 0.4 -0.5 0.4 0.8 0.4 0.5 0.4 -0.1 0.4 -0.4 0.4 0.6 0.4 -0.4 0.4 0.9 0.4 -0.9 0.4 -0.7 0.4 0.1 0.4 -0.3 0.4 0.3 0.4 0.1 0.4 0.4 0.4 0.1 0.4 -0.4 0.4 0.2 0.4 -0.7 0.4 0.2 0.4 -0.9 0.4 0.7 0.4 0.2 0.4 1.5 0.4 -2.1 0.4 0.8 0.4 -0.2 0.4 -0.8 0.4 1 0.4 -0.2 0.4 -0.8 0.4 -0.4 0.4 1.1 0.4 -0.8 0.4 1.2 0.4 -0.6 0.4 0.4 0.4 -0.6 0.4 1 0.4 -0.6 0.4 0.3 0.4 -0.9 0.4 -0.7 0.4 -0.3 0.4 0.3 0.4 0.1 0.4 -0.7 0.4 0.7 0.4 -1.4 0.4 -0.5 0.4 -1.1 0.4 -1.6 0.4 -1 0.4 -2 0.4 -2.3 0.4 -2.9 0.4 -2.7 0.4 -2.8 0.4 -2.1 0.4 -1.1 0.4 0.7 0.4 2 0.4 2.5 0.4 2.9 0.4 3.1 0.4 2.3 0.4 2.3 0.4 1.7 0.4 1.4 0.4 0.7 0.4 0.2 0.4 1.6 0.4 0 0.4 1.1 0.4 -0.2 0.4 1.4 0.4 -0.6 0.4 0.9 0.4 0.4 0.4 -0.4 0.4 0.4 0.4 -0 0.4 -0.4 0.4 1.5 0.4 -1.2 0.4 -0.3 0.4 0.7 0.4 0.4 0.4 0 0.4 -0.2 0.4 0 0.4 -0.9 0.4 1.6 0.4 0.7 0.4 -1.3 0.4 -0.5 0.4 1.5 0.4 -0.4 0.4 -1.1 0.4 0.9 0.4 -0.4 0.4 0.3 0.4 1.8 0.4 -0.5 0.4 -0.5 0.4 0.1 0.4 1 0.4 -1.5 0.4 1.2 0.4 -0.8 0.4 1 0.4 -0.3 0.4 -0.5 0.4 1 0.4 -0.3 0.4 0.8 0.4 -1.3 0.4 0.3 0.4 -0.5 0.4 1.1 0.4 -1.1 0.4 0.4 0.4 0.8 0.4 -0.4 0.4 -0.1 0.4 0 0.4 0.1 0.4 0.2 0.4 -0.5 0.4 -0.9 0.4 1.9 0.4 -1.3 0.4 1.7 0.4 -0.8 0.4 1 0.4 -0.4 0.4 -0.4 0.4 0.3 0.4 -1.2 0.4 0.9 0.4 -0.3 0.4 0.3 0.4 -1.2 0.4 0.1 0.4 1.5 0.4 -0.3 0.4 -0.3 0.4 0.2 0.4 -0.3 0.4 0 0.4 0.7 0.4 -0.6 0.4 0.5 0.4 -0.8 0.4 -0.6 0.4 0.7 0.4 0.4 0.4 -0.5 0.4 0.5 0.4 -0 0.4 0.9 0.4 -0 0.4 0.2 0.4 -1 0.4 0.7 0.4 0.6 0.4 -0.6 0.4 -0.1 0.4 -0.3 0.4 0.9 0.4 -0.3 0.4 0.6 0.4 -0.6 0.4 1.3 0.4 -1.1 0.4 -0.7 0.4 0.9 0.4 0.2 0.4 0.5 0.4 -0.9 0.4 0 0.4 0.2 0.4 -0 0.4 -0.9 0.4 1.5 0.4 0.3 0.4 -1.1 0.4 -0.1 0.4 0.5 0.4 -0.4 0.4 0.9 0.4 -0.7 0.4 0.7 0.4 -1 0.4 -0.1 0.4 -0 0.4 0.1 0.4 1 0.4 0.2 0.4 -0.4 0.4 0.1 0.4 -1.3 0.4 1.8 0.4 -1.3 0.4 1.4 0.4 0.4 0.4 -1.1 0.4 0.3 0.4 -0 0.4 -1.1 0.4 0.1 0.4 0.2 0.4 0.5 0.4 0.4 0.4 -0.4 0.4 0.5 0.4 -0.9 0.4 -0.5 0.4 0.7 0.4 -0 0.4 -0.8 0.4 1.3 0.4 -1.1 0.4 0.2 0.4 0.5 0.4 -0.7 0.4 0.9 0.4 -0.1 0.4 0.1 0.4 -0.2 0.4 -0.3 0.4 -0.1 0.4 0.6 0.4 0.7 0.4 -0.3 0.4 -0.2 0.4 0.3 0.4 0.2 0.4 -1.4 0.4 0.7 0.4 0.7 0.4 -1 0.4 0.1 0.4 0.5 0.4 -0.4 0.4 0.7 0.4 -0.9 0.4 0.5 0.4 0.7 0.4 -0.5 0.4 -1.4 0.4 0.1 0.4 -0 0.4 0.4 0.4 -0.8 0.4 1 0.4 0.6 0.4 -0.2 0.4 -1.3 0.4 0.2 0.4 -0.1 0.4 -0.3 0.4 1.2 0.4 -1.3 0.4 -0.4 0.4 0.7 0.4 -0.2 0.4 0.3 0.4 -0.3 0.4 -1.1 0.4 -1.2 0.4 0.7 0.4 -0.5 0.4 -0.5 0.4 -2 0.4 -1 0.4 -0.7 0.4 -1.8 0.4 -2.4 0.4 -2.9 0.4 -2.8 0.4 -3.6 0.4 -3.4 0.4 -2.8 0.4 -1.8 0.4 -0.1 0.4 1.5 0.4 2.5 0.4 3.5 0.4 3.5 0.4 3 0.4 2.9 0.4 2.4 0.4 2 0.4 1.1 0.4 1.3 0.4 0.8 0.4 1.3 0.4 0.4 0.4 0.4 0.4 1 0.4 0.1 0.4 -0.1 0.4 1.4 0.4 0.2 0.4 -0.1 0.4 -0.6 0.4 1.3 0.4 -0.8 0.4 -0.5 0.4 1 0.4 1.1 0.4 -1.1 0.4 0.6 0.4 0.5 0.4 -0.5 0.4 -0.1 0.4 0.2 0.4 0.4 0.4 -0.5 0.4 0.5 0.4 0.2 0.4 -0.5 0.4 0.6 0.4 -0.1 0.4 -0.5 0.4 0.1 0.4 0.2 0.4 -0.1 0.4 -0 0.4 -0.5 0.4 0.7 0.4 0.3 0.4 0 0.4 -0.7 0.4 0.7 0.4 0.1 0.4 -0.8 0.4 0.8 0.4 -0.3 0.4 -0.1 0.4 0.4 0.4 -0.2 0.4 -0.9 0.4 1.2 0.4 -0.7 0.4 0.6 0.4 0.5 0.4 -0.5 0.4 -0.1 0.4 0.4 0.4 0.2 0.4 -0.7 0.4 0.1 0.4 0.5 0.4 0.6 0.4 -0.9 0.4 0.5 0.4 -0.9 0.4 0.3 0.4 0 0.4 -0.7 0.4 0.6 0.4 -0.1 0.4 -0.9 0.4 1 0.4 0.2 0.4 -0 0.4 0 0.4 -0.7 0.4 0.2 0.4 0.3 0.4 -0.4 0.4 0.2 0.4 0.9 0.4 -1.1 0.4 0.3 0.4 1 0.4 -1 0.4 -0.5 0.4 0.6 0.4 -0.1 0.4 -0 0.4 -1 0.4 1 0.4 -0 0.4 0.8 0.4 -0.7 0.4 -0.5 0.4 0.4 0.4 0.2 0.4 -0.4 0.4 0.1 0.4 0.7 0.4 -0.4 0.4 -0 0.4 -0.8 0.4 0.7 0.4 -1.2 0.4 1.6 0.4 -0.9 0.4 0.5 0.4 0.3 0.4 -1.3 0.4 1.1 0.4 -0.5 0.4 0.4 0.4 -0.8 0.4 -0.2 0.4 1 0.4 -0.4 0.4 -0.2 0.4 -0.7 0.4 1.3 0.4 -0.9 0.4 0.1 0.4 -0.3 0.4 0.3 0.4 0.2 0.4 -0.4 0.4 -0.1 0.4 -0.4 0.4 0.9 0.4 -0.2 0.4 -1 0.4 -0.4 0.4 0.2 0.4 -1 0.4 0.4 0.4 -0.5 0.4 -0.6 0.4 -0.3 0.4 -0.8 0.4 -1.5 0.4 -1.5 0.4 -1.4 0.4 -1.9 0.4 -2.4 0.4 -2.3 0.4 -2.2 0.4 -2 0.4 -1.1 0.4 0 0.4 0.9 0.4 2 0.4 2.2 0.4 2.6 0.4 2.1 0.4 2.1 0.4 1.3 0.4 1.7 0.4 1 0.4 1.2 0.4 0.8 0.4 0.4 0.4 0.4 0.4 0.4 0.4 0.4 0.4 -0 0.4 0.3 0.4 0.1 0.4 0 0.4 1.2 0.4 -1 0.4 1.4 0.4 -0.1 0.4 -1 0.4 -0 0.4 1 0.4 -0.5 0.4 0.7 0.4 0.4 0.4 -0.2 0.4 -0.3 0.4 0 0.4 0.9 0.4 -0.9 0.4 1.1 0.4 0.2 0.4 -1.2 0.4 0.4 0.4 0.7 0.4 -1.1 0.4 0.6 0.4 0.3 0.4 -1 0.4 0.7 0.4 -0.1 0.4 -0.3 0.4 1 0.4 -0.8 0.4 1 0.4 -0.6 0.4 -0.8 0.4 0.5 0.4 -0.5 0.4 0.8 0.4 -0.1 0.4 -0.9 0.4 0.4 0.4 0.5 0.4 -0.2 0.4 -0.5 0.4 1 0.4 0.2 0.4 -1.4 0.4 1.4 0.4 -1.7 0.4 0.9 0.4 -0.3 0.4 0 0.4 0.4 0.4 -0.7 0.4 0.6 0.4 0.8 0.4 -0.6 0.4 0.5 0.4 -0.3 0.4 -1.3 0.4 1.5 0.4 -0.6 0.4 -0.3 0.4 -0.8 0.4 -0.5 0.4 -0.6 0.4 -0 0.4 -0.3 0.4 -0.4 0.4 -0.2 0.4 -0.8 0.4 0.8 0.4 0.3 0.4 0.9 0.4 -0 0.4 0.2 0.4 0.6 0.4 -0.1 0.4 0.3 0.4 0.8 0.4 -0.4 0.4 -0.3 0.4 0.8 0.4 0.1 0.4 -0.1 0.4 -1 0.4 1 0.4 -0.5 0.4 -0.1 0.4 -0.1 0.4 0.1 0.4 -0.1 0.4 0.2 0.4 -0.6 0.4 -0.4 0.4 0.1 0.4 -0.6 0.4 0.1 0.4 -0.7 0.4 -0.4 0.4 -1 0.4 -0.6 0.4 -1.2 0.4 -1.5 0.4 -1.6 0.4 -1.7 0.4 -2 0.4 -1.8 0.4 -1.3 0.4 -0.7 0.4 0.4 0.4 1.1 0.4 1.7 0.4 1.7 0.4 2.3 0.4 1.2 0.4 1.6 0.4 1.6 0.4 0.9 0.4 0.2 0.4 1.4 0.4 -0.1 0.4 -0.1 0.4 0.7 0.4 0.3 0.4 0 0.4 -1.2 0.4 1.6 0.4 -1.8 0.4 0.3 0.4 0.2 0.4 -1 0.4 -1 0.4 -1.1 0.4 -0.4 0.4 -0.4 0.4 -1.5 0.4 0.4 0.4 -0 0.4 0.7 0.4 0.2 0.4 2.1 0.4 1.3 0.4 0.3 0.4 1.2 0.4 0.2 0.4 0.9 0.4 -0.2 0.4 0 0.4 0.2 0.4 0.4 0.4 0.2 0.4 -0.4 0.4 0.4 0.4 -0.5 0.4 0.1 0.4 0.9 0.4 -0.1 0.4 0.3 0.4 -0.3 0.4 0.1 0.4 0.8 0.4 -1.3 0.4 0.6 0.4 0.7 0.4 0.3 0.4 -0.6 0.4 -0.2 0.4 -0.4 0.4 0.5 0.4 0.1 0.4 -0.1 0.4 0.2 0.4 0 0.4 -0.5 0.4 -0.2 0.4 0.2 0.4 0.3 0.4 0.6 0.4 -1.6 0.4 1.3 0.4 -0.6 0.4 0.7 0.4 0.4 0.4 -0.6 0.4 -0.7 0.4 0.3 0.4 0.4 0.4 -0.3 0.4 0.2 0.4 -0.3 0.4 0.3 0.4 -0.2 0.4 0.8 0.4 -0.2 0.4 0.2 0.4 -1 0.4 0.5 0.4 -0.1 0.4 0.2 0.4 -0.2 0.4 0 0.4 1.1 0.4 -0.9 0.4 -0.5 0.4 0.4 0.4 1.1 0.4 -0.7 0.4 -0.8 0.4 0.3 0.4 0.1 0.4 0 0.4 -0.9 0.4 0.5 0.4 0.3 0.4 -0.7 0.4 0.7 0.4 0.2 0.4 0.3 0.4 0.1 0.4 -0.6 0.4 0.2 0.4 0.2 0.4 0.2 0.4 -0.4 0.4 -0.3 0.4 0.6 0.4 0.1 0.4 -0.2 0.4 0.2 0.4 0.5 0.4 -0.9 0.4 -0 0.4 -0.2 0.4 0.7 0.4 0.3 0.4 -0.7 0.4 1.1 0.4 -1.1 0.4 0.5 0.4 -0.2 0.4 0.7 0.4 -0.9 0.4 1.1 0.4 -0.9 0.4 -0.5 0.4 0.4 0.4 0.1 0.4 0.8 0.4 -1 0.4 0.2 0.4 0.9 0.4 -0.9 0.4 -0.4 0.4 -0.1 0.4 -0.4 0.4 0.8 0.4 0.4 0.4 -0.7 0.4 -0.4 0.4 0.6 0.4 -0.1 0.4 0 0.4 0.3 0.4 -0.1 0.4 -0.2 0.4 0.7 0.4 -1.3 0.4 0.4 0.4 0.4 0.4 -0.5 0.4 1.3 0.4 -1.6 0.4 1.3 0.4 -0.1 0.4 -0.1 0.4 -0 0.4 -0.5 0.4 -0.1 0.4 1 0.4 -0.8 0.4 -0.6 0.4 0.1 0.4 -0.1 0.4 0.8 0.4 0.4 0.4 -0.6 0.4 0.3 0.4 -0.2 0.4 0.7 0.4 0.1 0.4 0 0.4 0.5 0.4 -1.3 0.4 0.9 0.4 -1.1 0.4 1 0.4 0 0.4 -0 0.4 -0 0.4 -0.4 0.4 -0.3 0.4 0.6 0.4 -0.6 0.4 0.6 0.4 -0.7 0.4 0.6 0.4 -0.1 0.4 -0.5 0.4 0.2 0.4 0.6 0.4 -0.5 0.4 0.2 0.4 -0.5 0.4 0.3 0.4 -0.7 0.4 0.2 0.4 0.9 0.4 -0.4 0.4 -0.2 0.4 -0 0.4 -0.7 0.4 0.7 0.4 -0.8 0.4 0.1 0.4 0.5 0.4 -0.7 0.4 -0 0.4 -0 0.4 -0.1 0.4 0.3 0.4 -1.5 0.4 0.3 0.4 0.3 0.4 -0.5 0.4 0 0.4 -0.1 0.4 0.4 0.4 0.6 0.4 0.5 0.4 -0.2 0.4 0.6 0.4 -0.4 0.4 -0.6 0.4 1.2 0.4 -1.1 0.4 0.9 0.4 0.1 0.4 -0.4 0.4 0.5 0.4 -0.1 0.4 0.3 0.4 -0.2 0.4 0.5 0.4 -0.4 0.4 0.4 0.4 -0.2 0.4 0.2 0.4 -0 0.4 -0.3 0.4 0.7 0.4 -0.2 0.4 -1.2 0.4 0.4 0.4 1.3 0.4 -0.9 0.4 1.1 0.4 -0.8 0.4 0.1 0.4 -0.4 0.4 0.1 0.4 0.2 0.4 0.4 0.4 -0.4 0.4 -0 0.4 -0.4 0.4 0.2 0.4 0 0.4 0.1 0.4 -0.2 0.4 -0.2 0.4 0.4 0.4 -0.9 0.4 0.3 0.4 0.3 0.4 0.5 0.4 -0.5 0.4 -0.1 0.4 0.7 0.4 -0.4 0.4 0.6 0.4 -0.6 0.4 -0.2 0.4 0.1 0.4 1 0.4 -0.1 0.4 -0.5 0.4 0.4 0.4 -0.9 0.4 1.1 0.4 -0.3 0.4 -0.1 0.4 0 0.4 0.1 0.4 -0.2 0.4 -0 0.4 -0.4 0.4 1.2 0.4 -1 0.4 0.2 0.4 0.5" fill="none" stroke="#000" stroke-width="4.0" stroke-linejoin="round" stroke-linecap="round"/>
<path d="M487.8 859.5L482.5 880L493.1 880Z" fill="#858585"/><path d="M487.8 879V894.4" stroke="#929292" stroke-width="1.4" fill="none"/>
<path d="M514.8 879L509.5 899.4L520.1 899.4Z" fill="#858585"/><path d="M514.8 898.4V913.4" stroke="#929292" stroke-width="1.4" fill="none"/>
<path d="M534 822L528.7 842.3L539.3 842.3Z" fill="#858585"/><path d="M534 841.3V856.8" stroke="#929292" stroke-width="1.4" fill="none"/>
<path d="M645.9 918.5L640.6 939L651.2 939Z" fill="#858585"/><path d="M645.9 938V980.6" stroke="#929292" stroke-width="1.4" fill="none"/>
<path d="M735.6 937.6L730.3 958.1L740.9 958.1Z" fill="#858585"/><path d="M735.6 957.1V985.6" stroke="#929292" stroke-width="1.4" fill="none"/>
<path d="M798.5 926.7L793.2 947.2L803.8 947.2Z" fill="#858585"/><path d="M798.5 946.2V994.7" stroke="#929292" stroke-width="1.4" fill="none"/>
<path d="M847.7 957.2L842.4 977.5L853 977.5Z" fill="#858585"/><path d="M847.7 976.5V1005.6" stroke="#929292" stroke-width="1.4" fill="none"/>
<path d="M219.9 1245.7l0.4 -0.6 0.4 0.9 0.4 0.4 0.4 0.5 0.4 -1.1 0.4 -0.8 0.4 -0.3 0.4 1.2 0.4 0.6 0.4 -1.4 0.4 -1.5 0.4 0 0.4 2.1 0.4 -1.5 0.4 -2 0.4 1.3 0.4 -1.2 0.4 0.3 0.4 -0.1 0.4 -0.4 0.4 1 0.4 -0.7 0.4 -0.6 0.4 0.8 0.4 0.3 0.4 -2.3 0.4 1.2 0.4 -0.7 0.4 0.7 0.4 -1.1 0.4 1 0.4 -0.1 0.4 -0.4 0.4 -0.9 0.4 0.5 0.4 -0.8 0.4 -0.5 0.4 1.3 0.4 -1.4 0.4 1.9 0.4 -0.6 0.4 -2.6 0.4 1.9 0.4 -1.4 0.4 0.9 0.4 -0.1 0.4 -2 0.4 1.5 0.4 -0.1 0.4 1 0.4 -2 0.4 1.6 0.4 -1.7 0.4 0.6 0.4 -0.6 0.4 2 0.4 -0.9 0.4 1.3 0.4 -1.5 0.4 0 0.4 -0.1 0.4 -1.5 0.4 0.4 0.4 1.1 0.4 -1.7 0.4 0.4 0.4 -0.3 0.4 0.5 0.4 -1 0.4 0 0.4 0.3 0.4 -0.3 0.4 -0.9 0.4 1.5 0.4 -2.1 0.4 0 0.4 -0.1 0.4 2 0.4 -1.3 0.4 -0.6 0.4 -0.2 0.4 1.3 0.4 -1.4 0.4 -0.4 0.4 1.6 0.4 -1.8 0.4 0.6 0.4 0.2 0.4 -0.6 0.4 0.3 0.4 1.2 0.4 -1.8 0.4 -0.7 0.4 -0.6 0.4 1.4 0.4 -0.2 0.4 0.5 0.4 -0.8 0.4 -0.2 0.4 -0.4 0.4 0.1 0.4 0.5 0.4 -0.7 0.4 0.3 0.4 1.6 0.4 -1.5 0.4 -2.1 0.4 2.8 0.4 -1.5 0.4 -1.4 0.4 1.5 0.4 -1.1 0.4 -0.8 0.4 -0.3 0.4 -0.6 0.4 0.7 0.4 0.7 0.4 -1.5 0.4 0.4 0.4 1.1 0.4 -3.2 0.4 1.1 0.4 -0.9 0.4 -1 0.4 -0.3 0.4 0.6 0.4 0.1 0.4 -1.2 0.4 0.2 0.4 0.4 0.4 -0.7 0.4 0.2 0.4 -0.6 0.4 -0.3 0.4 1 0.4 -1.5 0.4 -0.8 0.4 0.2 0.4 -1.9 0.4 0.2 0.4 0.7 0.4 -0.6 0.4 0.5 0.4 -1.8 0.4 -1.7 0.4 2.8 0.4 -1.1 0.4 -2.4 0.4 2 0.4 -1.6 0.4 -2.1 0.4 1 0.4 -0.4 0.4 1.6 0.4 -2.5 0.4 0.1 0.4 -0.3 0.4 -0.5 0.4 -0.8 0.4 0.7 0.4 0.4 0.4 -0.8 0.4 -1.8 0.4 -0.6 0.4 0.8 0.4 -1.1 0.4 -0.3 0.4 -1.4 0.4 3.1 0.4 -1.3 0.4 -2.1 0.4 1.5 0.4 0.2 0.4 -3.5 0.4 1.3 0.4 -0.1 0.4 0.7 0.4 -0.9 0.4 -0.3 0.4 -0 0.4 1.6 0.4 0 0.4 -2.7 0.4 -0.6 0.4 2.7 0.4 -3.3 0.4 0.1 0.4 0.3 0.4 0 0.4 0.3 0.4 -0.9 0.4 -1.5 0.4 1.2 0.4 -0.4 0.4 1.4 0.4 -1.9 0.4 -1.3 0.4 0.2 0.4 2.2 0.4 -2.1 0.4 -1.6 0.4 1.2 0.4 0.3 0.4 0.8 0.4 -2.3 0.4 1.3 0.4 -0.1 0.4 -1.7 0.4 0.3 0.4 1.7 0.4 -0.2 0.4 -1 0.4 -0.7 0.4 0.7 0.4 -1.4 0.4 -0.1 0.4 -0.8 0.4 0.7 0.4 -0.3 0.4 2 0.4 -2.3 0.4 1.3 0.4 -0.1 0.4 -1.5 0.4 1.2 0.4 -3.2 0.4 2.1 0.4 0.7 0.4 -2.8 0.4 0.9 0.4 2.2 0.4 -1.2 0.4 -0.8 0.4 0.8 0.4 -0.1 0.4 1.3 0.4 -0.2 0.4 -0.6 0.4 -0.3 0.4 0.7 0.4 1.4 0.4 -0.9 0.4 0.4 0.4 -0.7 0.4 -1.1 0.4 0.6 0.4 1.3 0.4 -0.5 0.4 -1 0.4 -0.8 0.4 1.7 0.4 -0.5 0.4 0 0.4 0.1 0.4 0.7 0.4 0.1 0.4 0.7 0.4 0.1 0.4 0.4 0.4 -0.4 0.4 -1.1 0.4 0.4 0.4 0.6 0.4 -0.6 0.4 1 0.4 0.7 0.4 -1.7 0.4 -0.7 0.4 3 0.4 -0.9 0.4 0.9 0.4 -1.8 0.4 3.3 0.4 -0.7 0.4 -0.6 0.4 -0 0.4 0.7 0.4 -0.1 0.4 0.1 0.4 -0.7 0.4 2.5 0.4 -1.1 0.4 0.2 0.4 0.2 0.4 -1.9 0.4 2.7 0.4 -0.6 0.4 0.3 0.4 0.5 0.4 -0.8 0.4 1.9 0.4 -1.3 0.4 -0 0.4 0.2 0.4 1.2 0.4 0.7 0.4 -1.1 0.4 -0.7 0.4 2.7 0.4 -1.9 0.4 2.5 0.4 -1 0.4 -0.4 0.4 0.3 0.4 1.3 0.4 0.7 0.4 -0.7 0.4 1.4 0.4 1.4 0.4 -2 0.4 -0.7 0.4 0.4 0.4 -0.1 0.4 1 0.4 0.1 0.4 -0.4 0.4 2.1 0.4 -2.4 0.4 1.1 0.4 3.5 0.4 -0.6 0.4 -0.2 0.4 0.2 0.4 1.7 0.4 -1 0.4 -0.1 0.4 -1 0.4 1.5 0.4 -0.3 0.4 0.4 0.4 0.3 0.4 1 0.4 -0 0.4 1.4 0.4 -1.9 0.4 1.3 0.4 2.2 0.4 -1.7 0.4 1.3 0.4 0.1 0.4 0.2 0.4 -0.4 0.4 -2 0.4 1.2 0.4 0.1 0.4 -1 0.4 1.3 0.4 -0.5 0.4 -0.1 0.4 2.1 0.4 0.1 0.4 -0.3 0.4 0.1 0.4 0.7 0.4 0.5 0.4 0.2 0.4 0.7 0.4 -0.2 0.4 1 0.4 0.3 0.4 -0 0.4 -0.9 0.4 0.1 0.4 1.1 0.4 -0.5 0.4 0.2 0.4 -1.9 0.4 0.1 0.4 2.6 0.4 0.2 0.4 1.2 0.4 -0.4 0.4 -0.4 0.4 0 0.4 -1.3 0.4 2.5 0.4 -1.3 0.4 1.3 0.4 -0.1 0.4 0.3 0.4 0.9 0.4 -1.1 0.4 0.3 0.4 -0.2 0.4 0.8 0.4 2.2 0.4 -1.7 0.4 1.8 0.4 -0.1 0.4 0.1 0.4 0.4 0.4 -1.5 0.4 1.5 0.4 1.4 0.4 -1.9 0.4 0.8 0.4 -0.5 0.4 1.2 0.4 -1.2 0.4 2.7 0.4 -1.8 0.4 -0.9 0.4 3.3 0.4 -0.6 0.4 -0.2 0.4 0.2 0.4 -0.6 0.4 0.4 0.4 1.2 0.4 0.5 0.4 0.3 0.4 -0.4 0.4 -0.4 0.4 0.6 0.4 1.4 0.4 0.6 0.4 -1.4 0.4 0.1 0.4 1.8 0.4 -0.2 0.4 0.2 0.4 -1.6 0.4 1.1 0.4 0.1 0.4 0.8 0.4 -1.5 0.4 2.8 0.4 -0.7 0.4 0.3 0.4 -1.2 0.4 1.2 0.4 1.5 0.4 -2.4 0.4 2 0.4 0.6 0.4 -0.9 0.4 1.6 0.4 -0.8 0.4 1.7 0.4 -0.4 0.4 0 0.4 1.8 0.4 -0.8 0.4 0.6 0.4 -2 0.4 0.6 0.4 1.5 0.4 0.3 0.4 -0.7 0.4 1 0.4 -1.4 0.4 1.4 0.4 -0.9 0.4 1.5 0.4 -0.4 0.4 0.1 0.4 0.8 0.4 1.7 0.4 -2.2 0.4 0.6 0.4 1.6 0.4 -1 0.4 2.1 0.4 -1.1 0.4 0 0.4 0.4 0.4 1.3 0.4 -0.8 0.4 0 0.4 -0.1 0.4 -1.4 0.4 0.7 0.4 2.1 0.4 -0.4 0.4 -0.1 0.4 0.2 0.4 -0.8 0.4 0.8 0.4 -0.9 0.4 1.2 0.4 -0.8 0.4 0.5 0.4 0.7 0.4 -0.5 0.4 0.9 0.4 -0 0.4 0.1 0.4 0.9 0.4 -2.1 0.4 0.1 0.4 1.9 0.4 0.4 0.4 1 0.4 -0.9 0.4 0.3 0.4 -1.2 0.4 1.4 0.4 0.1 0.4 -1.2 0.4 0.2 0.4 0.7 0.4 0.4 0.4 -1.8 0.4 1.8 0.4 0.2 0.4 -0.2 0.4 0.4 0.4 0.3 0.4 -0.9 0.4 1.2 0.4 -0.3 0.4 -0.4 0.4 1.1 0.4 1 0.4 -2.1 0.4 -0.1 0.4 0 0.4 2.8 0.4 -1.7 0.4 0.1 0.4 -0.5 0.4 -0 0.4 -0.7 0.4 1.7 0.4 0.2 0.4 -1.5 0.4 0.9 0.4 0.3 0.4 0.6 0.4 0.3 0.4 0.7 0.4 0.2 0.4 -0.1 0.4 0.3 0.4 -1.8 0.4 0.6 0.4 1.3 0.4 -0.5 0.4 -0.2 0.4 -1.3 0.4 0.1 0.4 1.8 0.4 -0.2 0.4 -0.5 0.4 -0.1 0.4 -0.9 0.4 1.5 0.4 0.5 0.4 0.5 0.4 -1 0.4 -0.1 0.4 -0.5 0.4 1.7 0.4 0.4 0.4 -1.5 0.4 0.6 0.4 -0.2 0.4 -0.5 0.4 -1.1 0.4 1.1 0.4 0.6 0.4 -1.4 0.4 0.3 0.4 -0.8 0.4 2.2 0.4 -0.5 0.4 -0.3 0.4 -0.2 0.4 -0.2 0.4 0.4 0.4 -0.1 0.4 0 0.4 0.1 0.4 0.1 0.4 0.8 0.4 -1.7 0.4 0.9 0.4 -0.5 0.4 -0.3 0.4 -0.5 0.4 1.5 0.4 -0.9 0.4 0.1 0.4 0.7 0.4 -0.8 0.4 0.7 0.4 -0.1 0.4 0.5 0.4 0.1 0.4 -1 0.4 0.9 0.4 -0.5 0.4 0.1 0.4 -0.2 0.4 0.4 0.4 -1 0.4 0.7 0.4 0.3 0.4 -0.7 0.4 1 0.4 -1.4 0.4 0.4 0.4 -0.3 0.4 -0.1 0.4 -0.2 0.4 0.3 0.4 0.2 0.4 -0.3 0.4 0.7 0.4 0.3 0.4 -1.3 0.4 1 0.4 -0.3 0.4 -0 0.4 0.7 0.4 -0.5 0.4 -0.4 0.4 -0.1 0.4 -0.9 0.4 0.9 0.4 -0.6 0.4 0.2 0.4 -0.1 0.4 0.2 0.4 0.3 0.4 -0.5 0.4 0 0.4 -0.6 0.4 0.2 0.4 -0 0.4 -0.9 0.4 1.1 0.4 -1.2 0.4 -0.3 0.4 0.8 0.4 0 0.4 -1.2 0.4 -0.2 0.4 0.7 0.4 -1 0.4 -1.1 0.4 0.2 0.4 0.4 0.4 -0.9 0.4 -0.5 0.4 -0.5 0.4 -0.9 0.4 -1.2 0.4 -1.4 0.4 -0.7 0.4 -2.2 0.4 -1.9 0.4 -2.6 0.4 -4.4 0.4 -5.6 0.4 -7.5 0.4 -9.7 0.4 -12.5 0.4 -15.1 0.4 -16.5 0.4 -15.7 0.4 -10.7 0.4 -1.7 0.4 8.3 0.4 14.6 0.4 16.6 0.4 15.8 0.4 13 0.4 10.4 0.4 8.1 0.4 6.1 0.4 4.3 0.4 3.2 0.4 2.2 0.4 2.1 0.4 1.7 0.4 0.4 0.4 0.9 0.4 1.3 0.4 -0.3 0.4 0.7 0.4 0.5 0.4 0.6 0.4 0.1 0.4 0.1 0.4 0.6 0.4 -0.3 0.4 0 0.4 0.1 0.4 1.1 0.4 -0.8 0.4 0.9 0.4 0.2 0.4 0.1 0.4 -0.3 0.4 -0 0.4 0.2 0.4 -0.2 0.4 -0.2 0.4 0.8 0.4 -0.8 0.4 0.8 0.4 -0.6 0.4 -0.4 0.4 0.1 0.4 0.1 0.4 -1.2 0.4 -0 0.4 -0.4 0.4 0.1 0.4 -0.3 0.4 -0.6 0.4 -0.7 0.4 -0.6 0.4 -0.2 0.4 -1 0.4 -1.4 0.4 -1.9 0.4 -1.4 0.4 -2.8 0.4 -3.7 0.4 -4.9 0.4 -7.3 0.4 -9.7 0.4 -12.2 0.4 -14.5 0.4 -16.3 0.4 -14.7 0.4 -8.4 0.4 1.6 0.4 11 0.4 15.6 0.4 15.8 0.4 13.8 0.4 11.3 0.4 8.5 0.4 6.4 0.4 4.7 0.4 3.5 0.4 2 0.4 1.5 0.4 1.4 0.4 1 0.4 0.6 0.4 0.7 0.4 0.4 0.4 -0.1 0.4 0.7 0.4 -0.2 0.4 -0.2 0.4 0.4 0.4 -0.5 0.4 0.6 0.4 -0.8 0.4 -0.5 0.4 -0.8 0.4 -0.5 0.4 -0.3 0.4 -1.5 0.4 -0.7 0.4 -2.3 0.4 -1.1 0.4 -2.2 0.4 -3.3 0.4 -4.3 0.4 -5.5 0.4 -8.3 0.4 -10.8 0.4 -14 0.4 -18 0.4 -22 0.4 -24.4 0.4 -23.4 0.4 -16.3 0.4 -3 0.4 11.7 0.4 21.6 0.4 24.7 0.4 23.4 0.4 19.8 0.4 15.9 0.4 12.5 0.4 9.1 0.4 6.8 0.4 5.3 0.4 3.2 0.4 2.9 0.4 2.7 0.4 1.1 0.4 1.3 0.4 2.2 0.4 0.8 0.4 1 0.4 0.8 0.4 0.8 0.4 0.1 0.4 0.7 0.4 0.1 0.4 0.8 0.4 0.4 0.4 0.1 0.4 0.7 0.4 0.7 0.4 -0.8 0.4 1 0.4 0.3 0.4 0.2 0.4 -0.4 0.4 0.9 0.4 0.1 0.4 -0.1 0.4 0.1 0.4 0.4 0.4 0.4 0.4 0.2 0.4 0.5 0.4 -0.7 0.4 0.5 0.4 -0.2 0.4 0.5 0.4 -0.1 0.4 -0.1 0.4 -0.2 0.4 0.3 0.4 0.5 0.4 0.5 0.4 -0.1 0.4 -0.6 0.4 0.3 0.4 0.3 0.4 0 0.4 0.2 0.4 0.3 0.4 -0.1 0.4 -0.2 0.4 -0.3 0.4 0.6 0.4 -0.3 0.4 0.6 0.4 0.2 0.4 -0.5 0.4 0.4 0.4 0 0.4 0.8 0.4 -0.4 0.4 -0.8 0.4 0.9 0.4 0 0.4 -0.2 0.4 0 0.4 0.4 0.4 0.1 0.4 -0.1 0.4 -0.4 0.4 0.3 0.4 -0.4 0.4 0.1 0.4 0.4 0.4 -0.1 0.4 0.2 0.4 1 0.4 -0.5 0.4 -0.4 0.4 -0.3 0.4 0.4 0.4 -0.1 0.4 -0.2 0.4 1 0.4 -0.4 0.4 0.3 0.4 0.7 0.4 -0.7 0.4 -0 0.4 0 0.4 -0.1 0.4 -0.2 0.4 0.2 0.4 0.5 0.4 -0.4 0.4 -0.4 0.4 0.1 0.4 0.1 0.4 0.4 0.4 0.2 0.4 -0 0.4 0.3 0.4 -0.5 0.4 0.4 0.4 -0.2 0.4 0.2 0.4 -0.8 0.4 1.1 0.4 -0.9 0.4 0.2 0.4 0.7 0.4 -0.3 0.4 0.8 0.4 -0.5 0.4 -0.4 0.4 0.5 0.4 -0.2 0.4 0.7 0.4 -0 0.4 -0.3 0.4 -0.4 0.4 0.2 0.4 0.3 0.4 -0.6 0.4 0.1 0.4 0.6 0.4 -0 0.4 -0.3 0.4 0 0.4 -0.5 0.4 1.1 0.4 -0.5 0.4 -0.4 0.4 0.1 0.4 0 0.4 0.9 0.4 -0.3 0.4 -0.7 0.4 1.1 0.4 -0.1 0.4 -0.8 0.4 -0.3 0.4 1.1 0.4 -0.4 0.4 0.2 0.4 -0.1 0.4 0.6 0.4 0.1 0.4 -0.1 0.4 -0.3 0.4 0.1 0.4 0.2 0.4 -0.8 0.4 1 0.4 -0.5 0.4 0.2 0.4 -0 0.4 0.2 0.4 0.1 0.4 0.4 0.4 -0.8 0.4 -0.2 0.4 0.4 0.4 -0.2 0.4 0.5 0.4 -0.6 0.4 0.4 0.4 0.3 0.4 0 0.4 -0.2 0.4 0.4 0.4 0 0.4 -1 0.4 0.7 0.4 -0 0.4 -0.1 0.4 -0.1 0.4 0.2 0.4 0.1 0.4 0 0.4 0.4 0.4 -0.1 0.4 -0.5 0.4 -0.1 0.4 0.6 0.4 -0.5 0.4 0.2 0.4 0.2 0.4 0.1 0.4 -0.1 0.4 0.3 0.4 -0.6 0.4 0.4 0.4 -0.5 0.4 0.3 0.4 -0 0.4 -0.4 0.4 -0.4 0.4 1.1 0.4 -0.2 0.4 -0.1 0.4 -0.2 0.4 0.1 0.4 0.2 0.4 -0.1 0.4 0.3 0.4 -0.3 0.4 -0.3 0.4 0.4 0.4 -0.4 0.4 0.3 0.4 -0.6 0.4 0.5 0.4 0.4 0.4 -0.4 0.4 0.3 0.4 0.3 0.4 -0.1 0.4 0.6 0.4 -0.7 0.4 0.1 0.4 0 0.4 -0.6 0.4 0.1 0.4 0.7 0.4 -0.3 0.4 0.6 0.4 -0.5 0.4 -0.1 0.4 0.4 0.4 -0.3 0.4 0.5 0.4 -0.9 0.4 0.5 0.4 0 0.4 -0 0.4 0.1 0.4 -0 0.4 -0.4 0.4 -0.2 0.4 0.5 0.4 -0.3 0.4 0.3 0.4 0.1 0.4 -0.4 0.4 -0.5 0.4 0.2 0.4 0.2 0.4 -0.4 0.4 0.4 0.4 -0.6 0.4 -0.1 0.4 -0.4 0.4 -0.1 0.4 0.1 0.4 -0.8 0.4 -0.4 0.4 -0.6 0.4 -0.3 0.4 -1.4 0.4 -0.9 0.4 -1.2 0.4 -1.7 0.4 -2.6 0.4 -2.7 0.4 -3.7 0.4 -3.6 0.4 -4.2 0.4 -4 0.4 -3 0.4 -1.1 0.4 1 0.4 2.9 0.4 3.9 0.4 4.3 0.4 4 0.4 3.3 0.4 3 0.4 2.4 0.4 2.1 0.4 1.3 0.4 1.5 0.4 0.7 0.4 1.2 0.4 0.1 0.4 0.4 0.4 0.4 0.4 0.4 0.4 0.8 0.4 -0.6 0.4 0.1 0.4 0.4 0.4 0.4 0.4 -0.4 0.4 0.7 0.4 0.1 0.4 -0.2 0.4 0.1 0.4 -0.1 0.4 0.3 0.4 -0.1 0.4 0.8 0.4 0.2 0.4 -0.5 0.4 0.1 0.4 -0.5 0.4 0.5 0.4 0.4 0.4 0.1 0.4 -0 0.4 0.3 0.4 -0.2 0.4 -0.1 0.4 0.7 0.4 -1.1 0.4 0.3 0.4 0.1 0.4 0.1 0.4 -0 0.4 0.2 0.4 -0.1 0.4 0.2 0.4 0.3 0.4 -0.2 0.4 0.1 0.4 -0.3 0.4 -0.1 0.4 0.3 0.4 0.5 0.4 -0.2 0.4 0.3 0.4 -0 0.4 0 0.4 -0.6 0.4 0.7 0.4 -0.2 0.4 0.5 0.4 -0.5 0.4 -0 0.4 -0.2 0.4 0.1 0.4 -0.5 0.4 0.4 0.4 0.1 0.4 0.3 0.4 -0.6 0.4 0.3 0.4 0.5 0.4 -0.8 0.4 0.5 0.4 -0.5 0.4 0.2 0.4 0.2 0.4 0.1 0.4 -0.4 0.4 -0.1 0.4 0.8 0.4 -0.4 0.4 0.3 0.4 0.1 0.4 -0 0.4 -0.3 0.4 0 0.4 -0.4 0.4 0.6 0.4 -0.2 0.4 0.2 0.4 0.7 0.4 -0.4 0.4 -0.1 0.4 -0.5 0.4 0.7 0.4 0.3 0.4 -0.7 0.4 0.4 0.4 -0.3 0.4 0.1 0.4 -0.1 0.4 -0.4 0.4 0.3 0.4 -0.3 0.4 0.9 0.4 -0.1 0.4 -0.3 0.4 0 0.4 -0.1 0.4 0.1 0.4 -0 0.4 -0.2 0.4 0.1 0.4 -0.4 0.4 0.2 0.4 0.1 0.4 0.3 0.4 -0.2 0.4 0.8 0.4 -0.7 0.4 -0 0.4 0.2 0.4 0.2 0.4 0.3 0.4 -0.3 0.4 -0.5 0.4 0.1 0.4 0.4 0.4 -0.2 0.4 0.2 0.4 -0.3 0.4 0.5 0.4 0 0.4 -0.1 0.4 -0.3 0.4 -0.5 0.4 0.1 0.4 0.6 0.4 0.1 0.4 -0.9 0.4 0.6 0.4 0.5 0.4 -0 0.4 -0.5 0.4 0.4 0.4 -0.2 0.4 -0.2 0.4 0.4 0.4 0 0.4 -0.6 0.4 -0.1 0.4 -0.2 0.4 -0 0.4 0.9 0.4 0.2 0.4 -0.5 0.4 0.3 0.4 -0.5 0.4 0.2 0.4 0.3 0.4 -0.2 0.4 -0.2 0.4 -0.5 0.4 0.1 0.4 0.3 0.4 -0.1 0.4 0.2 0.4 -0.2 0.4 0.1 0.4 0.1 0.4 0.2 0.4 -0.2 0.4 -0.2 0.4 0.1 0.4 0.3 0.4 -0.4 0.4 -0.2 0.4 -0 0.4 0.4 0.4 0.1 0.4 0.2 0.4 -0.5 0.4 0.6 0.4 -0.6 0.4 0.1 0.4 -0.2 0.4 0.3 0.4 0.1 0.4 -0.4 0.4 -0.2 0.4 -0.4 0.4 0.5 0.4 -0.3 0.4 0 0.4 -0.2 0.4 -0.2 0.4 0.1 0.4 0.2 0.4 -0 0.4 -0.4 0.4 -0.1 0.4 -0.3 0.4 -0.2 0.4 -0.6 0.4 0.3 0.4 -0.5 0.4 -0.2 0.4 -1.1 0.4 -0.6 0.4 -1.1 0.4 -1 0.4 -1.6 0.4 -1.9 0.4 -2.8 0.4 -3.2 0.4 -4.2 0.4 -4.8 0.4 -5.6 0.4 -5.7 0.4 -5.1 0.4 -3.4 0.4 -0.7 0.4 2.3 0.4 4.6 0.4 5.6 0.4 5.6 0.4 5.2 0.4 4.5 0.4 3.8 0.4 2.9 0.4 2.4 0.4 1.9 0.4 1.5 0.4 0.3 0.4 1.1 0.4 0.9 0.4 -0.1 0.4 0.4 0.4 0.8 0.4 0.5 0.4 0.3 0.4 -0.6 0.4 0.3 0.4 0.5 0.4 0 0.4 0.4 0.4 0.1 0.4 0.6 0.4 -0.4 0.4 0.1 0.4 0.1 0.4 0.4 0.4 -0.6 0.4 0.6 0.4 -0.3 0.4 -0.1 0.4 0.8 0.4 -0.2 0.4 0.3 0.4 -0.3 0.4 0.1 0.4 -0.1 0.4 0.2 0.4 -0.3 0.4 0.7 0.4 -0.8 0.4 0.8 0.4 -0.6 0.4 0.4 0.4 -0.2 0.4 0.1 0.4 0.3 0.4 -0.4 0.4 -0.3 0.4 0.4 0.4 0.2 0.4 -0.9 0.4 1 0.4 0.1 0.4 -0.9 0.4 0.5 0.4 0.3 0.4 -0.6 0.4 0.3 0.4 0 0.4 0.3 0.4 0.2 0.4 -0.3 0.4 -0 0.4 0.3 0.4 -0.1 0.4 -0.3 0.4 0.5 0.4 -0.9 0.4 0.5 0.4 -0.2 0.4 -0 0.4 0.2 0.4 -0.1 0.4 0.6 0.4 -0.4 0.4 -0.1 0.4 0.4 0.4 -0.2 0.4 -1 0.4 0.6 0.4 0.2 0.4 -0.5 0.4 0.3 0.4 -0.3 0.4 0.3 0.4 -0.7 0.4 -0.1 0.4 0.5 0.4 0.3 0.4 0.3 0.4 -0.4 0.4 -0.2 0.4 0.6 0.4 -0.3 0.4 0.6 0.4 -0.6 0.4 -0.6 0.4 0.3 0.4 -0 0.4 -0.2 0.4 0.2 0.4 -0 0.4 0.1 0.4 -0.2 0.4 0.3 0.4 -0 0.4 -0.1 0.4 -0.1 0.4 -0.6 0.4 0.1 0.4 0.2 0.4 0.4 0.4 -0.5 0.4 0.3 0.4 0.2 0.4 0.5 0.4 -0.6 0.4 -0.3 0.4 0.4 0.4 -0.4 0.4 -0.2 0.4 0.4 0.4 -0.8 0.4 0.3 0.4 -0.1 0.4 0.2 0.4 -0.8 0.4 -0.1 0.4 0.2 0.4 -0.1 0.4 -0.1 0.4 -0.3 0.4 0 0.4 -0.1 0.4 -0.5 0.4 -0.7 0.4 0.2 0.4 -1.2 0.4 -0.3 0.4 -0.6 0.4 -1.4 0.4 -0.9 0.4 -1.6 0.4 -2.1 0.4 -2.6 0.4 -2.8 0.4 -3.6 0.4 -3.7 0.4 -3.9 0.4 -3.8 0.4 -2.8 0.4 -1.3 0.4 0.4 0.4 2.4 0.4 3.4 0.4 4 0.4 3.9 0.4 3.5 0.4 3.3 0.4 2.6 0.4 2.1 0.4 1.8 0.4 1.2 0.4 1.5 0.4 1.2 0.4 -0.1 0.4 0.8 0.4 0.9 0.4 0.2 0.4 0.4 0.4 -0.3 0.4 0.6 0.4 0.6 0.4 0.2 0.4 0.1 0.4 -0.2 0.4 0.6 0.4 -0.4 0.4 0.2 0.4 -0 0.4 0.8 0.4 -0.5 0.4 0.2 0.4 -0.6 0.4 1 0.4 -0.2 0.4 -0.6 0.4 0 0.4 1.1 0.4 -0.9 0.4 0.9 0.4 -0.7 0.4 -0.5 0.4 1.1 0.4 -0.2 0.4 0.1 0.4 -0.3 0.4 0.1 0.4 0.4 0.4 -0.5 0.4 -0.3 0.4 0.9 0.4 -0.5 0.4 0.6 0.4 -0.5 0.4 -0 0.4 0 0.4 -0.6 0.4 1 0.4 -0.5 0.4 0.1 0.4 0.5 0.4 -0.4 0.4 0.2 0.4 -0.1 0.4 0.1 0.4 -0.1 0.4 0.2 0.4 -0.4 0.4 0.2 0.4 -0.3 0.4 0.5 0.4 -1 0.4 0.7 0.4 0 0.4 -0 0.4 -0.2 0.4 0.3 0.4 0.1 0.4 -1 0.4 -0.6 0.4 0.1 0.4 -0.2 0.4 -0.2 0.4 -0.3 0.4 -0.2 0.4 -1 0.4 -0.5 0.4 -0.5 0.4 -0.8 0.4 -0 0.4 0.8 0.4 -0.3 0.4 0.3 0.4 0.2 0.4 1.5 0.4 0.1 0.4 0.3 0.4 1.2 0.4 -0 0.4 -0.8 0.4 0.6 0.4 0.5 0.4 -0.1 0.4 -0.6 0.4 0.9 0.4 -0 0.4 -1 0.4 -0.3 0.4 0 0.4 0.5 0.4 0 0.4 -0.4 0.4 -0.4 0.4 -0.1 0.4 -0.1 0.4 -0.9 0.4 -0.6 0.4 -0.3 0.4 -0.6 0.4 -1.3 0.4 -1.3 0.4 -1.8 0.4 -1.9 0.4 -2.7 0.4 -2.7 0.4 -3.1 0.4 -3 0.4 -2.7 0.4 -1.6 0.4 -0.2 0.4 1.3 0.4 2.5 0.4 3 0.4 3 0.4 2.8 0.4 2.5 0.4 1.9 0.4 1.7 0.4 1.3 0.4 1.1 0.4 0.6 0.4 1 0.4 -0.3 0.4 0.6 0.4 -0 0.4 0.1 0.4 -0.7 0.4 0 0.4 -0.9 0.4 -0.6 0.4 -1.1 0.4 -1.4 0.4 -1.6 0.4 -1.6 0.4 -1.4 0.4 -1 0.4 -0.3 0.4 0.7 0.4 1.4 0.4 1.7 0.4 1.8 0.4 1.6 0.4 1.4 0.4 1.2 0.4 0.9 0.4 0.6 0.4 0.6 0.4 0.4 0.4 0.6 0.4 0.1 0.4 0.4 0.4 0.6 0.4 -0.3 0.4 0.5 0.4 0.3 0.4 -0.9 0.4 0.2 0.4 0.7 0.4 -0.3 0.4 0.5 0.4 0.1 0.4 -0.3 0.4 0.5 0.4 0.4 0.4 -0.2 0.4 -0.5 0.4 0.2 0.4 -0 0.4 0.6 0.4 -0.5 0.4 -0.1 0.4 0.2 0.4 0.2 0.4 -0.3 0.4 0.1 0.4 -0 0.4 0.2 0.4 0.1 0.4 -0.2 0.4 -0.3 0.4 0.3 0.4 -0.4 0.4 0.7 0.4 -0.2 0.4 -0 0.4 -0.7 0.4 1.3 0.4 -0.2 0.4 -0 0.4 -0.4 0.4 0.2 0.4 0.4 0.4 -0.8 0.4 0.4 0.4 -0.1 0.4 -0.1 0.4 0 0.4 -0.4 0.4 0.5 0.4 -0.6 0.4 0.9 0.4 -0.3 0.4 -0.5 0.4 -0.3 0.4 0.7 0.4 0.1 0.4 -0.4 0.4 0.8 0.4 -0.4 0.4 -0.3 0.4 -0.3 0.4 0.3 0.4 -0 0.4 0.2 0.4 0.1 0.4 -0.4 0.4 0.1 0.4 0.2 0.4 -0.3 0.4 -0.3 0.4 0.2 0.4 -0.5 0.4 0.2 0.4 -0.1 0.4 -0.4 0.4 0.6 0.4 -0.1 0.4 0.3 0.4 -0.6 0.4 0.9 0.4 0.1 0.4 -0.3 0.4 0.1 0.4 0.1 0.4 0 0.4 0.3 0.4 -0.4 0.4 -0.1 0.4 0.3 0.4 0.6 0.4 -0.6 0.4 -0.2 0.4 0 0.4 0.4 0.4 0.3 0.4 -0.6 0.4 0.3 0.4 0.1 0.4 0.1 0.4 -0.1 0.4 0.3 0.4 -0.1 0.4 -0.4 0.4 0.8 0.4 -1 0.4 0 0.4 0.7 0.4 -0.2 0.4 -0.1 0.4 0.1 0.4 0.1 0.4 -0.3 0.4 -0.1 0.4 -0.1 0.4 0.1 0.4 0 0.4 0.6 0.4 -0.2 0.4 0.1 0.4 -0.3 0.4 0.5 0.4 -0.8 0.4 0.6 0.4 0 0.4 -0.3 0.4 -0.2 0.4 0.5 0.4 -0.4 0.4 -0.1 0.4 0.3 0.4 -0.3 0.4 0.3 0.4 0.7 0.4 -0.8 0.4 0.5 0.4 -0.6 0.4 0.3 0.4 -0.1 0.4 0 0.4 0.3 0.4 0.4 0.4 -0.7 0.4 0.4 0.4 -0.3 0.4 0.1 0.4 -0.4 0.4 -0.1 0.4 0.1 0.4 -0.2 0.4 0.3 0.4 -0.4 0.4 0.3 0.4 0.1 0.4 0.5 0.4 -0 0.4 -0.4 0.4 -0.3 0.4 0.4 0.4 0.1 0.4 -0.3 0.4 -0.2 0.4 -0.2 0.4 0.5 0.4 0.6 0.4 -0.6 0.4 0.1 0.4 0 0.4 -0 0.4 0 0.4 -0.9 0.4 0.5 0.4 0 0.4 -0.2 0.4 0.2 0.4 -0.6 0.4 0.2 0.4 0.1 0.4 -0.9 0.4 -0.1 0.4 -0.3 0.4 0.1 0.4 -1 0.4 0.2 0.4 0.5 0.4 0.5 0.4 0.1 0.4 -0.2 0.4 1 0.4 -0.3 0.4 -0 0.4 0.5 0.4 0.3 0.4 -0.3 0.4 -0.3 0.4 0.3 0.4 0.3 0.4 0.3 0.4 -0.5 0.4 0.4 0.4 -0.4 0.4 0.4 0.4 -0.3 0.4 0.3 0.4 -0.3 0.4 0.1 0.4 -0.1 0.4 -0.1 0.4 0.9 0.4 0 0.4 -0.2 0.4 -0.3 0.4 0.5 0.4 -0.5 0.4 0.2 0.4 0.2 0.4 -0.3 0.4 0.4 0.4 -0.5 0.4 0.1 0.4 0.1 0.4 -0.4 0.4 0.1 0.4 0.5 0.4 -0.7 0.4 0.9 0.4 -0.3 0.4 0.3 0.4 -0.1 0.4 -0 0.4 0.3 0.4 -0.5 0.4 -0.1 0.4 0.4 0.4 -0.6 0.4 0.5 0.4 -0.1 0.4 -0.4 0.4 -0.3 0.4 -0.2 0.4 1.2 0.4 -1.1 0.4 0.1 0.4 0.7 0.4 -0.1 0.4 -0.1 0.4 0 0.4 -0.1 0.4 -0.2 0.4 0.1 0.4 0.4 0.4 0.1 0.4 0 0.4 -0.4 0.4 -0.6 0.4 0.8 0.4 -0.2 0.4 -0.6 0.4 1 0.4 -0.3 0.4 -0.1 0.4 0.1 0.4 -0 0.4 0 0.4 -0 0.4 -0" fill="none" stroke="#000" stroke-width="3.9" stroke-linejoin="round" stroke-linecap="round"/>
<path d="M1177.9 264.4l0.4 0.8 0.4 -4 0.4 2.1 0.4 1.3 0.4 0.4 0.4 -0.7 0.4 0.9 0.4 -1.2 0.4 0.3 0.4 -0.3 0.4 -1.3 0.4 0.3 0.4 1.4 0.4 -1 0.4 2 0.4 0.1 0.4 0.6 0.4 -1.9 0.4 1.5 0.4 -2.4 0.4 0.1 0.4 1 0.4 0.2 0.4 -1.9 0.4 -0 0.4 2.3 0.4 -1.2 0.4 2.3 0.4 -0.8 0.4 0 0.4 0 0.4 0.9 0.4 -1 0.4 1.4 0.4 -1.5 0.4 0.6 0.4 -0.3 0.4 1.5 0.4 -0.4 0.4 -0.7 0.4 3.1 0.4 -2.4 0.4 0.4 0.4 0.6 0.4 1.4 0.4 -1.9 0.4 0.9 0.4 -0.5 0.4 -1.6 0.4 2.5 0.4 0.4 0.4 -1.2 0.4 0.4 0.4 -1.4 0.4 0.1 0.4 1.3 0.4 1.1 0.4 -1 0.4 0.8 0.4 0.8 0.4 -0.8 0.4 0.6 0.4 0.9 0.4 -2.7 0.4 2.1 0.4 -2.7 0.4 2.5 0.4 -0.3 0.4 -0.7 0.4 -0.5 0.4 1.1 0.4 -0.3 0.4 0.6 0.4 -1 0.4 1.6 0.4 -1.7 0.4 0.8 0.4 -0.1 0.4 1.8 0.4 -2.8 0.4 1.1 0.4 1.8 0.4 -1.8 0.4 -0.6 0.4 1.6 0.4 -0.6 0.4 1.2 0.4 -1.9 0.4 1.1 0.4 0.4 0.4 0.3 0.4 -2.2 0.4 2.7 0.4 -2.4 0.4 -0.5 0.4 0.7 0.4 1.2 0.4 -0.4 0.4 0.9 0.4 0.1 0.4 -0.2 0.4 -0.6 0.4 2.1 0.4 -4.2 0.4 0.4 0.4 1.1 0.4 -0.8 0.4 -1 0.4 1.3 0.4 -0 0.4 -1.5 0.4 3 0.4 0.4 0.4 -0.1 0.4 -1.8 0.4 0.6 0.4 -1.3 0.4 1.4 0.4 -0.9 0.4 1.1 0.4 -0.9 0.4 1.4 0.4 -0.2 0.4 0.4 0.4 -3 0.4 -0.2 0.4 2.2 0.4 -1 0.4 0.9 0.4 -0.1 0.4 -0.2 0.4 0.7 0.4 -0.5 0.4 -0.2 0.4 -1.5 0.4 2.7 0.4 -1.7 0.4 0.9 0.4 -0.8 0.4 0.9 0.4 -1.2 0.4 0 0.4 -0.1 0.4 -0.9 0.4 0.1 0.4 0.3 0.4 -0 0.4 -1 0.4 3.1 0.4 -3.2 0.4 0.6 0.4 2.4 0.4 -2.9 0.4 1.3 0.4 -0.2 0.4 -1 0.4 -1.3 0.4 -0.3 0.4 1.5 0.4 0.3 0.4 -2.7 0.4 2.2 0.4 -1 0.4 1.4 0.4 -0.9 0.4 -1.2 0.4 0.1 0.4 0.2 0.4 1.1 0.4 0.5 0.4 -2.1 0.4 -0.4 0.4 0.3 0.4 -1 0.4 0.4 0.4 -0.6 0.4 -0.7 0.4 -1.3 0.4 0.6 0.4 0.3 0.4 -1.4 0.4 0.9 0.4 -1.1 0.4 -1.7 0.4 1.3 0.4 -3.6 0.4 1.8 0.4 0.1 0.4 -2.7 0.4 -0.6 0.4 0.4 0.4 -0.4 0.4 -1.9 0.4 -1.2 0.4 -0.5 0.4 -2.1 0.4 -3.1 0.4 -1.1 0.4 -2.2 0.4 -3.7 0.4 -1.3 0.4 -3.9 0.4 -5.2 0.4 -10.4 0.4 -11.6 0.4 -13.5 0.4 -15.5 0.4 -16.7 0.4 -11.2 0.4 -8.5 0.4 -3.9 0.4 3.4 0.4 6.7 0.4 8.9 0.4 9.6 0.4 12 0.4 11.5 0.4 11.2 0.4 8.3 0.4 6.5 0.4 4.7 0.4 2.2 0.4 1.5 0.4 2.8 0.4 1.5 0.4 0.5 0.4 2.1 0.4 3.3 0.4 0.9 0.4 0.6 0.4 -0.9 0.4 1.1 0.4 1.2 0.4 1.1 0.4 -1 0.4 0.2 0.4 2.8 0.4 -0.7 0.4 -0 0.4 -0.1 0.4 0.4 0.4 2.4 0.4 -0.6 0.4 -1.4 0.4 -0.9 0.4 2.8 0.4 -0.3 0.4 -0.6 0.4 -0.7 0.4 -3.1 0.4 0.3 0.4 1.4 0.4 -1.2 0.4 0.1 0.4 -1.2 0.4 -0.6 0.4 0.8 0.4 -1.4 0.4 -0 0.4 -0.3 0.4 -0.5 0.4 0.3 0.4 -0.5 0.4 -3.4 0.4 0.3 0.4 -1.2 0.4 0.4 0.4 -2.7 0.4 0.7 0.4 -1.2 0.4 -1.3 0.4 -2.9 0.4 -1.6 0.4 -5.5 0.4 -5.9 0.4 -8.9 0.4 -17.9 0.4 -22.7 0.4 -24.6 0.4 -17.7 0.4 -6.7 0.4 -2.4 0.4 7.2 0.4 11.3 0.4 18.7 0.4 21.5 0.4 15.4 0.4 11.4 0.4 7.9 0.4 6.1 0.4 4.8 0.4 3.7 0.4 1.4 0.4 2.5 0.4 1.3 0.4 0.9 0.4 1.2 0.4 -0.7 0.4 -1.8 0.4 0.8 0.4 2.2 0.4 -2.9 0.4 2.2 0.4 0.1 0.4 -2.5 0.4 0.5 0.4 -2.1 0.4 1.3 0.4 -2.2 0.4 -1.4 0.4 -0.2 0.4 -1.5 0.4 -2.5 0.4 -6.4 0.4 -9.3 0.4 -10.5 0.4 -12.6 0.4 -13.4 0.4 -10.5 0.4 -7.7 0.4 -5.9 0.4 -2.7 0.4 2.7 0.4 6.5 0.4 7.6 0.4 8.3 0.4 9.7 0.4 10.2 0.4 7 0.4 5.4 0.4 7.4 0.4 3.6 0.4 3 0.4 -0.5 0.4 4 0.4 2.4 0.4 1.4 0.4 0.7 0.4 -0.2 0.4 2.7 0.4 1.3 0.4 1.9 0.4 1 0.4 -0 0.4 1.8 0.4 -1.4 0.4 0.9 0.4 1 0.4 1.1 0.4 -0.5 0.4 1.9 0.4 -0.5 0.4 -1 0.4 1.2 0.4 -0.8 0.4 -0.1 0.4 -0.4 0.4 2.7 0.4 -0.7 0.4 -2.8 0.4 2.3 0.4 -0.7 0.4 -1.9 0.4 0.1 0.4 0.8 0.4 -2.6 0.4 -0.8 0.4 -0.3 0.4 -3.2 0.4 -1.4 0.4 -2 0.4 -1.3 0.4 -2.4 0.4 -5.7 0.4 -4.8 0.4 -3.2 0.4 -5.7 0.4 -6.3 0.4 -9.1 0.4 -6.6 0.4 -6 0.4 -5.5 0.4 -6.4 0.4 -5.7 0.4 -2.3 0.4 -3.6 0.4 -3.6 0.4 -3.9 0.4 1 0.4 0.6 0.4 -2.7 0.4 1.2 0.4 1.4 0.4 1.6 0.4 1.7 0.4 1.6 0.4 -6.2 0.4 -8.6 0.4 -8.5 0.4 -11.5 0.4 -10.7 0.4 -5.5 0.4 -3.8 0.4 -2.2 0.4 2 0.4 4.8 0.4 6.8 0.4 11.3 0.4 13.9 0.4 14.5 0.4 13.5 0.4 14.2 0.4 14.1 0.4 7 0.4 7.9 0.4 5.2 0.4 6.3 0.4 6.6 0.4 4.8 0.4 3.5 0.4 3.8 0.4 2.8 0.4 1.1 0.4 4.7 0.4 2.2 0.4 2.2 0.4 2.5 0.4 0.7 0.4 3 0.4 -0.2 0.4 1.4 0.4 1 0.4 0.4 0.4 1.5 0.4 0.7 0.4 0.5 0.4 -0.7 0.4 0.3 0.4 0.8 0.4 1.1 0.4 -1.4 0.4 1.5 0.4 0.1 0.4 0.9 0.4 0.1 0.4 2.1 0.4 -0.1 0.4 0.8 0.4 -1.6 0.4 0.4 0.4 0.6 0.4 2 0.4 -0 0.4 -2.4 0.4 1.1 0.4 1.2 0.4 -3.3 0.4 0.6 0.4 1.2 0.4 -0.9 0.4 -2 0.4 2.2 0.4 -0.8 0.4 -0.5 0.4 -2 0.4 1 0.4 1.5 0.4 -0.6 0.4 0.6 0.4 -0.7 0.4 2.1 0.4 -1.4 0.4 1.4 0.4 -0.2 0.4 -1 0.4 2.6 0.4 -2.5 0.4 0.6 0.4 0.8 0.4 -1.6 0.4 -0.8 0.4 1 0.4 -1 0.4 -0.7 0.4 -0.3 0.4 0 0.4 -3.4 0.4 -0.6 0.4 -3.5 0.4 -3.2 0.4 -2.9 0.4 -1 0.4 -0.3 0.4 -0.5 0.4 -0.4 0.4 0.9 0.4 2.6 0.4 3.3 0.4 3.3 0.4 3.1 0.4 3.3 0.4 3.4 0.4 3.1 0.4 1 0.4 1.6 0.4 0.4 0.4 0.9 0.4 1.5 0.4 0.7 0.4 -1.2 0.4 0.2 0.4 0.1 0.4 0.2 0.4 0.1 0.4 0.2 0.4 -0.4 0.4 -0.6 0.4 -0.2 0.4 1 0.4 1.9 0.4 -1.7 0.4 -0.1 0.4 -0.5 0.4 -0.7 0.4 1.9 0.4 -2.3 0.4 -0.8 0.4 -0.3 0.4 1.1 0.4 -1.3 0.4 -0.1 0.4 -0.3 0.4 -1.3 0.4 -0.4 0.4 -4.7 0.4 -2.8 0.4 -7.6 0.4 -6.8 0.4 -11.5 0.4 -12.9 0.4 -10.3 0.4 -8.9 0.4 -6.1 0.4 3.1 0.4 8.9 0.4 10.1 0.4 10.9 0.4 11.6 0.4 10.2 0.4 7.6 0.4 6.9 0.4 2.8 0.4 -0.8 0.4 0.4 0.4 -1.7 0.4 0.1 0.4 -0.4 0.4 -0.9 0.4 -0.4 0.4 0.3 0.4 -2.8 0.4 -1.2 0.4 0.2 0.4 -2.5 0.4 0.6 0.4 0.5 0.4 -1.7 0.4 0.1 0.4 -0.3 0.4 0.9 0.4 -0.4 0.4 0.2 0.4 -1.7 0.4 2.2 0.4 1.9 0.4 -0.1 0.4 0 0.4 2.3 0.4 -1.4 0.4 0.9 0.4 1.4 0.4 -0.8 0.4 1 0.4 0.2 0.4 -0.8 0.4 1 0.4 0.6 0.4 0.1 0.4 2.1 0.4 -0.6 0.4 -0.1 0.4 -0.2 0.4 1.5 0.4 2.2 0.4 -0.6 0.4 1.9 0.4 0.7 0.4 0 0.4 0.6 0.4 2.2 0.4 -1.3 0.4 2.8 0.4 -1 0.4 2.6 0.4 -0.7 0.4 0.8 0.4 1.5 0.4 -1.6 0.4 1.2 0.4 -0.2 0.4 0.8 0.4 0.3 0.4 -0.4 0.4 0 0.4 -0.5 0.4 1 0.4 -0.8 0.4 0.3 0.4 0 0.4 -1.5 0.4 0.2 0.4 1.2 0.4 -0.2 0.4 1.2 0.4 -3.2 0.4 2.2 0.4 0.8 0.4 -0.8 0.4 0.7 0.4 -0.6 0.4 0.1 0.4 1 0.4 -2 0.4 -0.6 0.4 2.4 0.4 -0.3 0.4 -0.1 0.4 0 0.4 0.2 0.4 -1.1 0.4 0.5 0.4 -0.4 0.4 -1.3 0.4 0.1 0.4 -1.5 0.4 -5.8 0.4 -8 0.4 -9.7 0.4 -10.8 0.4 -13.8 0.4 -7.8 0.4 7.9 0.4 14 0.4 11.5 0.4 11.2 0.4 9.7 0.4 2.4 0.4 0.1 0.4 -1.8 0.4 -1.4 0.4 0.4 0.4 -0.2 0.4 0.7 0.4 -0.5 0.4 0.6 0.4 -0.2 0.4 -1.9 0.4 1.4 0.4 0.3 0.4 1.3 0.4 -1.6 0.4 1.3 0.4 -0.4 0.4 -1.1 0.4 1.7 0.4 0.9 0.4 -0.8 0.4 1.3 0.4 -0.6 0.4 -0.2 0.4 -1 0.4 0 0.4 0.2 0.4 -0.7 0.4 -1.5 0.4 0.8 0.4 0.4 0.4 0.7 0.4 -0.2 0.4 -1.6 0.4 1.7 0.4 -2.1 0.4 1 0.4 -0 0.4 2.2 0.4 -0.7 0.4 -0.2 0.4 -0.7 0.4 1.9 0.4 -1.2 0.4 0.8 0.4 0.8 0.4 -1.1 0.4 1 0.4 -2 0.4 2.3 0.4 -1.6 0.4 1.7 0.4 -0.1 0.4 -0.3 0.4 -0.3 0.4 -3.4 0.4 -0.8 0.4 -2.3 0.4 -1.8 0.4 -3.1 0.4 -3 0.4 -1 0.4 2.6 0.4 4.1 0.4 3.2 0.4 2.5 0.4 1.1 0.4 1.6 0.4 0.3 0.4 1.5 0.4 -0.2 0.4 0.7 0.4 0.4 0.4 -1.4 0.4 0.5 0.4 0.1 0.4 1.1 0.4 -2.5 0.4 1.6 0.4 -0.6 0.4 -1.1 0.4 0.7 0.4 -0.3 0.4 1.6 0.4 -1.9 0.4 1.8 0.4 -1.4 0.4 1 0.4 -2.2 0.4 0.8 0.4 0.7 0.4 -1 0.4 -0.8 0.4 0.9 0.4 -0.2 0.4 -1.7 0.4 -1.5 0.4 -1.3 0.4 -3.7 0.4 -2.9 0.4 -3.8 0.4 -4.8 0.4 -4.6 0.4 -5.7 0.4 -4.7 0.4 -3.2 0.4 -2.2 0.4 1.1 0.4 4.1 0.4 4.7 0.4 6.2 0.4 6 0.4 6.9 0.4 3.6 0.4 2.3 0.4 0.6 0.4 2.4 0.4 0.8 0.4 -0.2 0.4 -0.7 0.4 1.9 0.4 -0.6 0.4 -0.4 0.4 0.9 0.4 2.7 0.4 -3.2 0.4 1.1 0.4 0.5 0.4 0.7 0.4 -1.8 0.4 -0 0.4 1.7 0.4 -0.6 0.4 0.9 0.4 -2.2 0.4 1 0.4 0.9 0.4 -0.7 0.4 -1.1 0.4 1.1 0.4 -1.8 0.4 1.2 0.4 1.7 0.4 0.5 0.4 0 0.4 0.8 0.4 -1.5 0.4 1.3 0.4 2 0.4 1.4 0.4 -1.2 0.4 -1 0.4 0 0.4 2 0.4 -0.3 0.4 -2.2 0.4 1.1 0.4 1.1 0.4 -0.1 0.4 -1.9 0.4 0.2 0.4 0.4 0.4 -1.6 0.4 -0.7 0.4 0.7 0.4 1.6 0.4 -0.3 0.4 -0.8 0.4 -1.6 0.4 -0.9 0.4 0.7 0.4 0.9 0.4 0.8 0.4 -1.8 0.4 0.8 0.4 -1.8 0.4 -0.2 0.4 1.8 0.4 -1 0.4 0.3 0.4 -0.6 0.4 3 0.4 -2 0.4 2.1 0.4 -0.9 0.4 1.5 0.4 1.9 0.4 -0.7 0.4 0.1 0.4 0.7 0.4 -0.3 0.4 0.8 0.4 -2.6 0.4 2.7 0.4 -1.2 0.4 -0.9 0.4 1.6 0.4 -0.1 0.4 -0.4 0.4 0.8 0.4 -2 0.4 -0.3 0.4 1 0.4 1.6 0.4 -0.5 0.4 -0.4 0.4 -0.6 0.4 0.7 0.4 1.1 0.4 -1.5 0.4 -0 0.4 0.9 0.4 0.1 0.4 -0.5 0.4 1.1 0.4 -1.3 0.4 -1.3 0.4 -1.2 0.4 2.6 0.4 -1.5 0.4 0.1 0.4 -0.3 0.4 0.4 0.4 -0.8 0.4 -0.5 0.4 -1.1 0.4 -1.1 0.4 -0.8 0.4 -2.5 0.4 -0.3 0.4 -0.3 0.4 -0.7 0.4 -0 0.4 0.2 0.4 1.4 0.4 1.6 0.4 1.2 0.4 1.1 0.4 0.2 0.4 0.2 0.4 0.4 0.4 -1.8 0.4 0.7 0.4 0.6 0.4 0.1 0.4 -1.4 0.4 -0.3 0.4 1.3 0.4 -0.9 0.4 -0.7 0.4 -1.2 0.4 -1.1 0.4 0.1 0.4 -0.3 0.4 -0.5 0.4 -0.5 0.4 -1.2 0.4 0.1 0.4 -1.9 0.4 -0.6 0.4 -1.1 0.4 -1.5 0.4 -0.7 0.4 -0.7 0.4 -0.6 0.4 -0.4 0.4 -0.1 0.4 -0 0.4 0.1 0.4 0.4 0.4 -0 0.4 0.6 0.4 0.1 0.4 0.9 0.4 0.1 0.4 0.5 0.4 1.8 0.4 -0.2 0.4 1.2 0.4 -1 0.4 0.3 0.4 0.2 0.4 1.4 0.4 -0.7 0.4 2.5 0.4 0.2 0.4 0.1 0.4 0.3 0.4 1.4 0.4 0.9 0.4 0.6 0.4 -1.2 0.4 1.4 0.4 0.3 0.4 1.6 0.4 -1.7 0.4 0.5 0.4 -1.6 0.4 0.6 0.4 -0.7 0.4 -0.1 0.4 1.2 0.4 -0.4 0.4 1.8 0.4 -0.9 0.4 0.8 0.4 -0.9 0.4 0.7 0.4 2 0.4 -0.6 0.4 2.2 0.4 -1.4 0.4 0.3 0.4 2.9 0.4 -2.8 0.4 1.5 0.4 1.3 0.4 0.5 0.4 -1.1 0.4 3.2 0.4 -1.9 0.4 -1 0.4 2.7 0.4 -1 0.4 0.6 0.4 0.7 0.4 -1.4 0.4 0.1 0.4 0.6 0.4 0.8 0.4 -2 0.4 2.4 0.4 -1 0.4 -1.4 0.4 0.9 0.4 0.4 0.4 0.5 0.4 -0.4 0.4 0.2 0.4 -1.2 0.4 0.8 0.4 -2.5 0.4 2.7 0.4 -1 0.4 1.5 0.4 -2 0.4 0.1 0.4 0.4 0.4 0.8 0.4 -0.4 0.4 0.7 0.4 -0.7 0.4 1 0.4 1.1 0.4 -0.6 0.4 -0.5 0.4 -1.7 0.4 2 0.4 0.4 0.4 -1 0.4 1.2 0.4 -2.8 0.4 1.4 0.4 -0.1 0.4 1.4 0.4 -1.1 0.4 -0.1 0.4 2.2 0.4 -2.5 0.4 1.7 0.4 0.6 0.4 -1.3 0.4 -0.5 0.4 0.6 0.4 -0.3 0.4 -0.1 0.4 0.9 0.4 -0.2 0.4 2 0.4 -0.7 0.4 -1 0.4 -0.1 0.4 0.3 0.4 -1.4 0.4 -2 0.4 -1.8 0.4 1.3 0.4 -2.3 0.4 -0.2 0.4 1 0.4 -0.7 0.4 1.6 0.4 -0.5 0.4 1.4 0.4 0.6 0.4 3 0.4 -2.2 0.4 1.7 0.4 -0.1 0.4 0.4 0.4 -0.1 0.4 0.7 0.4 2 0.4 0.4 0.4 -1.7 0.4 -0.4 0.4 0.7 0.4 1.9 0.4 -1.5 0.4 -1.7 0.4 2.6 0.4 -0.7 0.4 0.7 0.4 -0 0.4 -1.3 0.4 2.2 0.4 -0.2 0.4 -1 0.4 -1.1 0.4 1 0.4 0.1 0.4 1.7 0.4 -1 0.4 0.2 0.4 0.6 0.4 -0.3 0.4 0.8 0.4 0.1 0.4 0.6 0.4 -1.9 0.4 1.4 0.4 -0.5 0.4 2.1 0.4 -0.6 0.4 -1.6 0.4 1.1 0.4 -2.3 0.4 0.6 0.4 0.7 0.4 0.5 0.4 -1.2 0.4 1.1 0.4 1.1 0.4 -2.5 0.4 0.3 0.4 -0.4 0.4 2.7 0.4 -1.9 0.4 0.7 0.4 -0.4 0.4 0.7 0.4 -0.1 0.4 0.5 0.4 0 0.4 1.3 0.4 -2.1 0.4 1 0.4 -0.2 0.4 -0.7 0.4 1.6 0.4 0.8 0.4 -2.6 0.4 2.8 0.4 -2 0.4 -0 0.4 -1.8 0.4 1.8 0.4 -0.1 0.4 -0.1 0.4 0.8 0.4 -0.7 0.4 0.6 0.4 -0.9 0.4 -0.4 0.4 1.2 0.4 0.4 0.4 0.1 0.4 -0.5 0.4 -0.8 0.4 0.7 0.4 -0.3 0.4 -0.8 0.4 1.4 0.4 -0.4 0.4 -0.7 0.4 0.6 0.4 0.7 0.4 0.5 0.4 -3.2 0.4 0.8 0.4 0.4 0.4 0.2 0.4 -1.1 0.4 -1.5 0.4 0.2 0.4 0.3 0.4 -0.7 0.4 -0 0.4 0.1 0.4 3.3 0.4 -1.3 0.4 0.3 0.4 1.3 0.4 -0 0.4 0.3 0.4 0.7 0.4 -0.5 0.4 0.4 0.4 1.3 0.4 -0.1 0.4 -1.4 0.4 2.3 0.4 -1.6 0.4 -1 0.4 2 0.4 -0.1 0.4 -0.2 0.4 -1.1 0.4 1.8 0.4 -0.5 0.4 -0.2 0.4 -0.1 0.4 0.1 0.4 1.5 0.4 -2.2 0.4 0.7 0.4 0.7 0.4 -0.3 0.4 -1.3 0.4 0.5 0.4 -0.3 0.4 -1 0.4 1 0.4 1 0.4 -0.7 0.4 0.7 0.4 -0.6 0.4 -1 0.4 1.1 0.4 -1.8 0.4 2.6 0.4 -1.3 0.4 1.5 0.4 -2.6 0.4 0.1 0.4 0 0.4 -0.3 0.4 -1.4 0.4 -0.3 0.4 -0.2 0.4 -1.9 0.4 -0.6 0.4 -1.3 0.4 -3 0.4 -2.2 0.4 -2.2 0.4 -2 0.4 -1.2 0.4 0.8 0.4 1.9 0.4 2 0.4 3.1 0.4 2.5 0.4 1.1 0.4 1.4 0.4 2.1 0.4 0 0.4 2 0.4 1.1 0.4 -0.3 0.4 -1 0.4 2.7 0.4 -1.2 0.4 0.4 0.4 -1.2 0.4 0.6 0.4 1 0.4 -2.3 0.4 0.1 0.4 -0.6 0.4 2.1 0.4 -0 0.4 -1.2 0.4 1 0.4 -0.3 0.4 1.6 0.4 -2.7 0.4 1.3 0.4 -0.6 0.4 2 0.4 -1.1 0.4 -1.4 0.4 1.5 0.4 -0.5 0.4 -0.6 0.4 1.2 0.4 -0.2 0.4 -1.1 0.4 0.7 0.4 1.3 0.4 -0.2 0.4 -0.9 0.4 -0.1 0.4 0.4 0.4 -0.3 0.4 -0.7 0.4 0.4 0.4 -2.3 0.4 -1.3 0.4 -3 0.4 -2.5 0.4 -3.1 0.4 -3.4 0.4 -3.1 0.4 -1.8 0.4 0.5 0.4 2.5 0.4 2.8 0.4 3.7 0.4 2.2 0.4 1.4 0.4 2.8 0.4 1.3 0.4 0.6 0.4 1.2 0.4 0.1 0.4 -0.2 0.4 0.6 0.4 0.4 0.4 -0.4 0.4 0.3 0.4 0.8 0.4 -0.6 0.4 -0.1 0.4 -0.6 0.4 1.1 0.4 -0.2 0.4 0.4 0.4 1 0.4 0.1 0.4 -0.5 0.4 -0.5 0.4 0.7 0.4 0.2 0.4 -0 0.4 -1.4 0.4 1.5 0.4 -1.1 0.4 1.1 0.4 0.1 0.4 -0.2 0.4 0.9 0.4 -1 0.4 0.3 0.4 -1 0.4 0.7 0.4 -0 0.4 0.2 0.4 -0.1 0.4 -1.6 0.4 2.5 0.4 -0.1 0.4 -2.3 0.4 1.9 0.4 0.6 0.4 -0.3 0.4 -0.1 0.4 -0.8 0.4 -0.3 0.4 2 0.4 -1.2 0.4 1 0.4 -1.4 0.4 0.9 0.4 -0.1 0.4 0 0.4 -1.6 0.4 2.8 0.4 -1.5 0.4 -0.4 0.4 0.6 0.4 -1.7 0.4 2.7 0.4 -1.4 0.4 0.6 0.4 -0.1 0.4 -1.6 0.4 1.1 0.4 1.3 0.4 -1.8 0.4 0.7 0.4 0.6 0.4 0.3 0.4 -2.1 0.4 1.5 0.4 -0.4 0.4 -0.1 0.4 0.3 0.4 -0.2 0.4 -1.5 0.4 1.2 0.4 -0.9 0.4 0.7 0.4 -0.6 0.4 1.5 0.4 -0.5 0.4 -0.4 0.4 -0.9 0.4 0.9 0.4 -1.3 0.4 0.2 0.4 -0.6 0.4 2.1 0.4 -1.2 0.4 1.2 0.4 0.2 0.4 -0.1 0.4 -1.2 0.4 1.4 0.4 -0.2 0.4 -2.1 0.4 1.3 0.4 -1 0.4 0.5 0.4 1 0.4 -0.8 0.4 1 0.4 -0.8 0.4 0.1 0.4 0.8 0.4 -0.4 0.4 -0.4 0.4 0.5 0.4 -0.1 0.4 -2.1 0.4 0.3 0.4 0.9 0.4 0.8 0.4 -1.5 0.4 -0.8 0.4 1.3 0.4 -0.5 0.4 1.7 0.4 -3.1 0.4 2.4 0.4 -0.2 0.4 -2.4 0.4 1 0.4 0.6 0.4 0.5 0.4 -0.2 0.4 0.5 0.4 -0.3 0.4 -0.8 0.4 2.1 0.4 -1.1 0.4 -1 0.4 1.1 0.4 -0.5 0.4 -0.4 0.4 -0.3 0.4 -1 0.4 0.1 0.4 -0.8 0.4 -1.1 0.4 1 0.4 -1.2 0.4 -1.6 0.4 -1.8 0.4 -0.8 0.4 0.8 0.4 -3.3 0.4 0.4 0.4 -0.9 0.4 0.5 0.4 0.5 0.4 2 0.4 2 0.4 0.7 0.4 2.8 0.4 -1.1 0.4 1.4 0.4 1.8 0.4 0.1 0.4 -1.5 0.4 1.2 0.4 0.6 0.4 -2.3 0.4 3.3 0.4 -1.1 0.4 -0.6 0.4 0.1 0.4 -1.8 0.4 2.2 0.4 0.4 0.4 -1.8 0.4 1 0.4 -1.2 0.4 -2.1 0.4 1 0.4 -2.5 0.4 -0.1 0.4 2.1 0.4 0.1 0.4 -0.2 0.4 0.4 0.4 -0.7 0.4 2.7 0.4 -0.3 0.4 0.4 0.4 2.3 0.4 -1.1 0.4 0.1 0.4 1.8 0.4 -1.3 0.4 -0.5 0.4 1.7 0.4 -1.3 0.4 -0.5 0.4 0.4 0.4 0.3 0.4 0.6 0.4 0.3 0.4 -2.2 0.4 1.9 0.4 -1.6 0.4 0.1 0.4 -1.5 0.4 3.1 0.4 -0.9 0.4 -0.6 0.4 0.1 0.4 1 0.4 -0.7 0.4 -1.8 0.4 2.1 0.4 -0.3 0.4 0.2 0.4 -0.1 0.4 0.6 0.4 -1.3 0.4 2.1 0.4 -1.6 0.4 -0.7 0.4 0.6 0.4 -1.5 0.4 1.2 0.4 -0.4 0.4 -0.2 0.4 1.6 0.4 -0.4 0.4 -1 0.4 0.4 0.4 0.8 0.4 1.4 0.4 -1.7 0.4 -0 0.4 0.5 0.4 -1.4 0.4 0.9 0.4 0.7 0.4 -0.3 0.4 -0.1 0.4 -1.2 0.4 1 0.4 1.1 0.4 0.4 0.4 -0.8 0.4 -1.3 0.4 -0 0.4 0.1 0.4 1.7 0.4 -2.8 0.4 0.8 0.4 -1.2 0.4 1 0.4 0.1 0.4 0.9 0.4 -0.1 0.4 -0.5 0.4 -0.5 0.4 -0.4 0.4 1.3 0.4 -1.9 0.4 -1.3 0.4 -0.2 0.4 0 0.4 -1.2 0.4 -1.2 0.4 1.5 0.4 -1.8 0.4 0.1 0.4 -0.1 0.4 -0.4 0.4 0 0.4 -1.6 0.4 1.9 0.4 -0.1 0.4 -0.1 0.4 0.3 0.4 1.7 0.4 -0.2 0.4 -0.7 0.4 0.8 0.4 -1.3 0.4 0.7 0.4 1 0.4 0.8 0.4 0.5 0.4 1.4 0.4 -1.2 0.4 1.6 0.4 -1.3 0.4 1 0.4 -1.3 0.4 1.6 0.4 -2 0.4 0.6 0.4 -3.7 0.4 1.9 0.4 -2.6 0.4 -0.7 0.4 -0.9 0.4 -2.1 0.4 0.7 0.4 0.2 0.4 1 0.4 -0.5 0.4 1.6 0.4 1.5 0.4 1.8 0.4 0.5 0.4 -0.8 0.4 2.3 0.4 0.8 0.4 -0.5 0.4 -0.8 0.4 -0.3 0.4 0.6 0.4 1.8 0.4 -2 0.4 -0.7 0.4 2.7 0.4 -1.1 0.4 0.7 0.4 -0 0.4 1.4 0.4 -0.9 0.4 -0.1 0.4 0.2 0.4 2.2 0.4 0 0.4 -1.3 0.4 -0 0.4 0.4 0.4 0.6 0.4 -1.1 0.4 2 0.4 -1 0.4 -2 0.4 0.9 0.4 0.6 0.4 1.7 0.4 -0.3 0.4 -1.1 0.4 -1.2 0.4 0.8 0.4 0 0.4 -0.5 0.4 0.4 0.4 0.4 0.4 -1 0.4 -0.5 0.4 1 0.4 -1.4 0.4 0.9 0.4 1.3 0.4 -0.7 0.4 -1.1 0.4 1 0.4 -0.1 0.4 0.3 0.4 0.8 0.4 -1.2 0.4 -0.6 0.4 2.3 0.4 -2 0.4 1.2 0.4 -0.2 0.4 -0.6 0.4 0.6 0.4 -0.2 0.4 -0.1 0.4 0.4 0.4 -1.2 0.4 1.2 0.4 -1.5 0.4 1.5 0.4 0.2 0.4 -1.7 0.4 2.2 0.4 -2.1 0.4 0.5 0.4 -0.5 0.4 0.5 0.4 0.3 0.4 -0.4 0.4 1.3 0.4 -1.3 0.4 0.9 0.4 -1.1 0.4 0.1 0.4 0.8 0.4 0.1 0.4 -0.6 0.4 0.4 0.4 0.1 0.4 -1 0.4 0.6 0.4 -0.7 0.4 -0.4 0.4 0.6 0.4 0.3 0.4 1.1 0.4 -0.6 0.4 -0.3 0.4 -1.6 0.4 0.9 0.4 1.1 0.4 0.1 0.4 -0.4 0.4 -0.9 0.4 -0.6 0.4 0.3 0.4 1.4 0.4 0.2 0.4 1.1 0.4 -2 0.4 0.8 0.4 -0.9 0.4 0.4 0.4 0.2 0.4 -0.4 0.4 1.5 0.4 -1.9 0.4 1.6 0.4 -0.8 0.4 -0.1 0.4 1.2 0.4 -1.2 0.4 0.7 0.4 -0.3 0.4 0.6 0.4 -1.5 0.4 1.1 0.4 0.2 0.4 -0.9 0.4 -0.3 0.4 -0 0.4 0.7 0.4 -0.5 0.4 1 0.4 -0.6 0.4 -0.1 0.4 0.1 0.4 0.1 0.4 0 0.4 0.4 0.4 0.5 0.4 -0.5 0.4 0.1 0.4 0.9 0.4 0 0.4 -1 0.4 -0.8 0.4 1.8 0.4 -1.5 0.4 0 0.4 -0.1 0.4 0.4 0.4 -1.5 0.4 1.2 0.4 1.3 0.4 0.6 0.4 -1.2 0.4 0.2 0.4 0.1 0.4 -1.1 0.4 -0.3 0.4 1.1 0.4 0.6 0.4 -0.7 0.4 0.2 0.4 -0.3 0.4 -0 0.4 -0.3 0.4 1.2 0.4 -0.2 0.4 -0.8 0.4 0.3 0.4 0.2 0.4 0.4 0.4 0.6 0.4 -0.2 0.4 -1.3 0.4 0.1 0.4 -0.4 0.4 0.8 0.4 0.3 0.4 -2.1 0.4 1.3 0.4 1.1 0.4 -2.1 0.4 2.3 0.4 -0.3 0.4 -1.2 0.4 -0.3 0.4 2.1 0.4 -1.6 0.4 -0.7 0.4 1 0.4 -1.2 0.4 0.3 0.4 2.1 0.4 -1.8 0.4 0.1 0.4 -1.2 0.4 0.5 0.4 1.4 0.4 -0.6 0.4 0.5 0.4 -0 0.4 -0.6 0.4 -0.4 0.4 -1.3 0.4 2.6 0.4 -0.7 0.4 1.5 0.4 -1.6 0.4 0 0.4 -0.2 0.4 -0.5 0.4 1.1 0.4 0.3 0.4 0 0.4 -0.2 0.4 -0.3 0.4 1.5 0.4 -0.1 0.4 -1.3 0.4 -0.5 0.4 0.5 0.4 -0.1 0.4 1.3 0.4 -1.5 0.4 0.9 0.4 -1.1 0.4 0.7 0.4 1.6 0.4 -2.1 0.4 0.7 0.4 -0.7 0.4 1.2 0.4 -0.6 0.4 -0.2 0.4 1.1 0.4 -0.4 0.4 -0 0.4 -1.3 0.4 0.2 0.4 1.8 0.4 -1.9 0.4 2.1 0.4 0 0.4 -1.4 0.4 -0.4 0.4 -0.3 0.4 1.5 0.4 -0.2 0.4 -1.1 0.4 -0.2 0.4 1.1 0.4 -1 0.4 0.4 0.4 -1.1 0.4 1.4 0.4 -0.2 0.4 -0.5 0.4 -0.5 0.4 0.8 0.4 0.4 0.4 0.1 0.4 -0.2 0.4 -0.7 0.4 1.1 0.4 0.4 0.4 -1.4 0.4 -0.5 0.4 1.9 0.4 -1 0.4 -1.6 0.4 1.9 0.4 -0.5 0.4 -0.7 0.4 0.6 0.4 -0.9 0.4 0.3 0.4 -0.6 0.4 2.2 0.4 -1.3 0.4 0.6 0.4 0.1 0.4 -1.7 0.4 1.5 0.4 -0.9 0.4 1.7 0.4 -1.8 0.4 1.5 0.4 0.6" fill="none" stroke="#000" stroke-width="4.0" stroke-linejoin="round" stroke-linecap="round"/>
<path d="M1440.1 134.2L1434.8 154.7L1445.4 154.7Z" fill="#858585"/><path d="M1440.1 153.7V196.5" stroke="#929292" stroke-width="1.4" fill="none"/>
<path d="M1467.4 170.5L1462.1 191L1472.7 191Z" fill="#858585"/><path d="M1467.4 190V232.7" stroke="#929292" stroke-width="1.4" fill="none"/>
<path d="M1483.7 143.3L1478.4 163.8L1489 163.8Z" fill="#858585"/><path d="M1483.7 162.8V205.5" stroke="#929292" stroke-width="1.4" fill="none"/>
<path d="M1685.6 186.8L1680.3 207.7L1690.9 207.7Z" fill="#858585"/><path d="M1685.6 206.7V249.1" stroke="#929292" stroke-width="1.4" fill="none"/>
<path d="M1802.6 198.3L1797.3 218.8L1807.9 218.8Z" fill="#858585"/><path d="M1802.6 217.8V260.3" stroke="#929292" stroke-width="1.4" fill="none"/>
<path d="M1177.9 514l0.4 0.3 0.4 -0.6 0.4 -0.6 0.4 0.3 0.4 -0.6 0.4 0.9 0.4 1.2 0.4 -1.8 0.4 -0.1 0.4 1.1 0.4 -0.1 0.4 -0.1 0.4 -0.9 0.4 0.9 0.4 0.8 0.4 -1.9 0.4 0.8 0.4 -1.3 0.4 0.5 0.4 -0.5 0.4 1.5 0.4 -1 0.4 1.4 0.4 -0.2 0.4 -0.4 0.4 -1.8 0.4 1.4 0.4 0.5 0.4 0.1 0.4 -1.5 0.4 1 0.4 -0.4 0.4 0.3 0.4 1.9 0.4 -1.7 0.4 0.8 0.4 1 0.4 -1.4 0.4 0.5 0.4 0.2 0.4 -0 0.4 -1.3 0.4 1.2 0.4 1.2 0.4 -2.7 0.4 2.2 0.4 -0.7 0.4 -0.7 0.4 2.4 0.4 -1.2 0.4 -1.9 0.4 1.2 0.4 0.4 0.4 -0.8 0.4 0.8 0.4 -0.7 0.4 0.6 0.4 0.7 0.4 -2 0.4 0.9 0.4 -0.6 0.4 0.6 0.4 -1.2 0.4 0.6 0.4 0.4 0.4 1.1 0.4 0.2 0.4 -2.3 0.4 0.6 0.4 1.4 0.4 -2.5 0.4 1.5 0.4 0.4 0.4 1.3 0.4 -0.5 0.4 -0.9 0.4 0 0.4 0.2 0.4 1.7 0.4 -1.8 0.4 0.2 0.4 0.6 0.4 -0.4 0.4 -0.1 0.4 -0.9 0.4 0.9 0.4 -0.5 0.4 1.5 0.4 -0.6 0.4 -0.7 0.4 0.5 0.4 -0.9 0.4 1.3 0.4 -1 0.4 0.6 0.4 -1.6 0.4 1.6 0.4 -1.8 0.4 -0.3 0.4 1.7 0.4 -0.5 0.4 1.1 0.4 1.8 0.4 -2.7 0.4 0.3 0.4 0.8 0.4 0.3 0.4 -0.6 0.4 -0 0.4 0.8 0.4 -0.2 0.4 -1.5 0.4 0.8 0.4 0.1 0.4 -1.1 0.4 1.2 0.4 -1.2 0.4 1.7 0.4 -0.9 0.4 -0.1 0.4 -0.7 0.4 0.4 0.4 -1.8 0.4 0.8 0.4 1.3 0.4 -2.3 0.4 2.7 0.4 -2.5 0.4 2.3 0.4 -1.6 0.4 1.4 0.4 -0.6 0.4 -1.6 0.4 2.5 0.4 0.2 0.4 -1.5 0.4 -0.2 0.4 0.1 0.4 -0.8 0.4 1.8 0.4 -1.6 0.4 0.4 0.4 -0.8 0.4 0.1 0.4 -0.7 0.4 2.2 0.4 -1.4 0.4 0.9 0.4 -1 0.4 -0.8 0.4 0.1 0.4 -0.4 0.4 0.4 0.4 -0.6 0.4 -0.1 0.4 -1.1 0.4 0.3 0.4 2.2 0.4 -2.3 0.4 -0.5 0.4 1.2 0.4 0.9 0.4 -2.8 0.4 1.1 0.4 -0.6 0.4 -1.2 0.4 2.2 0.4 -0.9 0.4 -0 0.4 -0.9 0.4 1 0.4 -1.1 0.4 0.3 0.4 -1 0.4 -0.3 0.4 2.1 0.4 -1.9 0.4 0.5 0.4 -0.7 0.4 -0.7 0.4 -0.4 0.4 0.6 0.4 -1.2 0.4 -0.3 0.4 -0.3 0.4 0.5 0.4 -0.9 0.4 -0.9 0.4 -1.5 0.4 -1.5 0.4 1.2 0.4 -1.1 0.4 -1.9 0.4 -0.3 0.4 -0.9 0.4 -1 0.4 -1.1 0.4 -2.5 0.4 0.5 0.4 -4.1 0.4 0.2 0.4 -2.5 0.4 -2.1 0.4 -1.9 0.4 -3.5 0.4 -5.4 0.4 -4.2 0.4 -2.9 0.4 -12.1 0.4 -14.5 0.4 -17.2 0.4 -23.5 0.4 -25.3 0.4 -22.7 0.4 -17.2 0.4 -3.5 0.4 -0.8 0.4 0.3 0.4 1.3 0.4 11 0.4 22 0.4 23.9 0.4 25.5 0.4 19.3 0.4 16.5 0.4 11.3 0.4 5 0.4 3.6 0.4 3.5 0.4 3.9 0.4 1.9 0.4 3.2 0.4 1.8 0.4 2.6 0.4 -2.2 0.4 2.8 0.4 -0.2 0.4 0.7 0.4 -0.8 0.4 1.3 0.4 1.5 0.4 -0.3 0.4 0.5 0.4 0.1 0.4 1.6 0.4 -0.8 0.4 -1.5 0.4 1.6 0.4 -0.9 0.4 0.3 0.4 1.7 0.4 2.1 0.4 -0.9 0.4 -0.8 0.4 0.5 0.4 2.1 0.4 -0.7 0.4 0 0.4 -0.1 0.4 -0 0.4 0.3 0.4 -0.7 0.4 -0.8 0.4 -1.7 0.4 0.7 0.4 -1.7 0.4 0.9 0.4 -2.9 0.4 0.4 0.4 -0.6 0.4 -1.9 0.4 1.8 0.4 -1.2 0.4 -2.7 0.4 -0.3 0.4 -1.8 0.4 -3.6 0.4 -0.7 0.4 -6.7 0.4 -11.2 0.4 -15.5 0.4 -24.9 0.4 -35.9 0.4 -33.9 0.4 -17.8 0.4 -1.4 0.4 -0.3 0.4 0.7 0.4 3.4 0.4 17.4 0.4 24.6 0.4 22.2 0.4 21.6 0.4 17.9 0.4 15.6 0.4 12.9 0.4 4.8 0.4 3.2 0.4 2.5 0.4 3.2 0.4 0.9 0.4 1 0.4 0.3 0.4 0.5 0.4 2.3 0.4 -1 0.4 -0.5 0.4 -0.8 0.4 -1.1 0.4 0.3 0.4 0.1 0.4 -1.9 0.4 -1 0.4 -1.9 0.4 -2.5 0.4 -5 0.4 -3.6 0.4 -5.4 0.4 -8.3 0.4 -10.9 0.4 -11.2 0.4 -11.5 0.4 -11.5 0.4 -11.2 0.4 -6.6 0.4 -1.8 0.4 -0.7 0.4 1.8 0.4 4.3 0.4 5.5 0.4 10.3 0.4 14.4 0.4 14.4 0.4 10.1 0.4 9.4 0.4 8.9 0.4 1.9 0.4 3.9 0.4 2.7 0.4 1.1 0.4 2.2 0.4 3 0.4 -0.4 0.4 0.9 0.4 0.3 0.4 1.9 0.4 1.9 0.4 0 0.4 -1.2 0.4 0.4 0.4 0.7 0.4 1 0.4 -0.1 0.4 0.8 0.4 0.4 0.4 -0.3 0.4 0.5 0.4 0.5 0.4 0 0.4 0.8 0.4 1.5 0.4 -0.8 0.4 -0.2 0.4 -1.3 0.4 2.1 0.4 -1.9 0.4 0.7 0.4 2.1 0.4 -0 0.4 -0.7 0.4 -1.4 0.4 1 0.4 -0.6 0.4 0.6 0.4 0.6 0.4 -2.6 0.4 -1.9 0.4 -1.6 0.4 -0.4 0.4 -1.6 0.4 -2.4 0.4 -0.7 0.4 -3.7 0.4 -5.1 0.4 -9.6 0.4 -8.3 0.4 -9.3 0.4 -7.8 0.4 -9.4 0.4 -6.9 0.4 -3.2 0.4 -2.9 0.4 -1.4 0.4 2 0.4 1.3 0.4 3.7 0.4 3.1 0.4 -1.7 0.4 -0.4 0.4 -1.6 0.4 -2.9 0.4 -5.6 0.4 -9.3 0.4 -10.3 0.4 -6.6 0.4 -4.2 0.4 -3.1 0.4 -1.9 0.4 0.2 0.4 3.5 0.4 5.1 0.4 6.3 0.4 7.2 0.4 10.6 0.4 11.4 0.4 12.3 0.4 9.5 0.4 12.8 0.4 9.6 0.4 5.9 0.4 3.6 0.4 5.7 0.4 5.6 0.4 2.3 0.4 5.6 0.4 2.3 0.4 0.9 0.4 2.1 0.4 1.6 0.4 1.7 0.4 0.8 0.4 0.8 0.4 1.5 0.4 0.3 0.4 0.6 0.4 2.1 0.4 1.8 0.4 -1.2 0.4 2.2 0.4 0.2 0.4 0.6 0.4 2.4 0.4 -0.5 0.4 2.5 0.4 -1.4 0.4 1.6 0.4 -0 0.4 -0 0.4 1.5 0.4 -0.4 0.4 0.8 0.4 -0.6 0.4 -1 0.4 0.8 0.4 0.1 0.4 0.6 0.4 -1.8 0.4 0.6 0.4 -1.6 0.4 1.9 0.4 -1.7 0.4 -0.8 0.4 1.3 0.4 0.7 0.4 -2.5 0.4 0.1 0.4 0.1 0.4 -0.5 0.4 1.1 0.4 -1.1 0.4 0.1 0.4 1.4 0.4 -0.9 0.4 1.5 0.4 -0.7 0.4 0.2 0.4 -0 0.4 3.6 0.4 -1.5 0.4 0.9 0.4 0 0.4 0.4 0.4 0.1 0.4 1.7 0.4 -2.4 0.4 -0.5 0.4 0.2 0.4 -0.7 0.4 0.7 0.4 -1 0.4 -2.3 0.4 -2.4 0.4 -1.6 0.4 -1.3 0.4 -2.8 0.4 -1 0.4 -2.1 0.4 -1.2 0.4 -1.3 0.4 -0.6 0.4 0.5 0.4 2.1 0.4 3.5 0.4 3.5 0.4 3.1 0.4 2.5 0.4 1.9 0.4 3 0.4 2.3 0.4 0.8 0.4 0.7 0.4 -0.5 0.4 0.9 0.4 0.1 0.4 1.1 0.4 0.5 0.4 -1.6 0.4 -0.5 0.4 0.6 0.4 -0.4 0.4 -0.1 0.4 0.6 0.4 -0.8 0.4 1.5 0.4 -0.5 0.4 0.4 0.4 -0.3 0.4 -0.5 0.4 -0.1 0.4 0.6 0.4 -0.3 0.4 0.5 0.4 -0.6 0.4 -1.6 0.4 0.4 0.4 -1.8 0.4 -0.4 0.4 -0.9 0.4 -3.2 0.4 -1.5 0.4 -4.7 0.4 -8 0.4 -8.8 0.4 -6.6 0.4 -3.9 0.4 -2.9 0.4 -1.8 0.4 1.1 0.4 4.4 0.4 7 0.4 8.3 0.4 11.6 0.4 8.5 0.4 1.8 0.4 -1 0.4 1.2 0.4 -0 0.4 0.1 0.4 0.1 0.4 -0.8 0.4 0.2 0.4 0.6 0.4 -0.3 0.4 -0.4 0.4 -1.8 0.4 1.3 0.4 0.1 0.4 -0.6 0.4 -1.2 0.4 -2 0.4 1.8 0.4 -1.3 0.4 -2.1 0.4 1.9 0.4 -1.7 0.4 0.2 0.4 0.8 0.4 1.8 0.4 -1.1 0.4 0.8 0.4 1.5 0.4 0.1 0.4 -1.2 0.4 0.2 0.4 -0.7 0.4 0.7 0.4 1.2 0.4 0.3 0.4 0.1 0.4 1.2 0.4 -1 0.4 1.3 0.4 1.3 0.4 0.6 0.4 1.2 0.4 0.1 0.4 0.1 0.4 1.3 0.4 -0.5 0.4 0 0.4 2.4 0.4 -0.1 0.4 0.8 0.4 -1.3 0.4 1.6 0.4 0.2 0.4 0.2 0.4 -0.7 0.4 1.8 0.4 1.4 0.4 -0.2 0.4 -0.7 0.4 0.7 0.4 0.7 0.4 -2.5 0.4 1.7 0.4 0.5 0.4 0 0.4 0.8 0.4 -0.5 0.4 -0.8 0.4 -0 0.4 0.4 0.4 -1.2 0.4 0.4 0.4 0.8 0.4 0.9 0.4 -1.8 0.4 0.1 0.4 0.1 0.4 0.9 0.4 -1.2 0.4 1.3 0.4 -2.1 0.4 0.6 0.4 0.1 0.4 0.9 0.4 0.3 0.4 -2.1 0.4 0.6 0.4 1.1 0.4 -0.7 0.4 -0.7 0.4 2.2 0.4 -0.5 0.4 -0 0.4 -0.9 0.4 1.2 0.4 -1.1 0.4 1 0.4 -1.7 0.4 -0.1 0.4 0.8 0.4 -0.8 0.4 1.1 0.4 -0.4 0.4 -1 0.4 0.8 0.4 -0.4 0.4 1.1 0.4 -1.4 0.4 0.2 0.4 1.3 0.4 0.7 0.4 -0.2 0.4 -1.7 0.4 0.1 0.4 1 0.4 -1.5 0.4 -0.9 0.4 0.9 0.4 0.2 0.4 -1.2 0.4 -0.7 0.4 0.1 0.4 1.7 0.4 -1.2 0.4 0.4 0.4 0.3 0.4 0.2 0.4 -0.8 0.4 0.7 0.4 -1.2 0.4 0.4 0.4 -0.5 0.4 1.9 0.4 -0.9 0.4 -0.6 0.4 0.4 0.4 0.2 0.4 0.8 0.4 -1.9 0.4 0.5 0.4 0.6 0.4 2 0.4 -0.9 0.4 -0.9 0.4 0.7 0.4 1.1 0.4 -1.8 0.4 -0 0.4 1.4 0.4 -0.5 0.4 0.3 0.4 -0.8 0.4 2.1 0.4 -0.1 0.4 -0.9 0.4 0.1 0.4 -2.2 0.4 2.2 0.4 -0.7 0.4 0.6 0.4 0.2 0.4 -0.9 0.4 -1.1 0.4 1.8 0.4 -0.9 0.4 0.4 0.4 -0.2 0.4 0.3 0.4 -1.4 0.4 2.8 0.4 -0.8 0.4 0.7 0.4 0.8 0.4 -1.6 0.4 -1.5 0.4 0.8 0.4 -0.3 0.4 0.6 0.4 0.5 0.4 -1.7 0.4 1.9 0.4 -1.5 0.4 1.4 0.4 -0.3 0.4 -0.3 0.4 0.2 0.4 -0.5 0.4 -0.1 0.4 -0.9 0.4 1.4 0.4 1.5 0.4 0.1 0.4 -0.5 0.4 -0.5 0.4 -1.2 0.4 1.8 0.4 -1.3 0.4 0 0.4 -0.1 0.4 0.3 0.4 -0.5 0.4 -0.4 0.4 -2.3 0.4 -1.2 0.4 0.3 0.4 -3.3 0.4 -1.4 0.4 -0.5 0.4 -0.5 0.4 0.5 0.4 4.9 0.4 4.1 0.4 0.1 0.4 0.1 0.4 1.3 0.4 -1.7 0.4 0.8 0.4 -0.4 0.4 1.7 0.4 -2.8 0.4 1.1 0.4 0.1 0.4 1.1 0.4 -0 0.4 0.6 0.4 -2.4 0.4 1.9 0.4 -0.8 0.4 -0.3 0.4 1 0.4 -1.3 0.4 -0.9 0.4 1.3 0.4 -0.9 0.4 0.6 0.4 0.8 0.4 -0.1 0.4 1 0.4 -1.5 0.4 -1.1 0.4 0.7 0.4 -0 0.4 -0.2 0.4 1.5 0.4 -0.8 0.4 -1.1 0.4 2.3 0.4 -0.7 0.4 0.4 0.4 -0.3 0.4 0.4 0.4 -0.4 0.4 1 0.4 -0.6 0.4 0 0.4 0.2 0.4 -1.4 0.4 1.2 0.4 0.1 0.4 0.6 0.4 -1.1 0.4 2.6 0.4 -1.2 0.4 -1 0.4 -0.4 0.4 1.1 0.4 0.1 0.4 -0.7 0.4 0.5 0.4 -0.9 0.4 0.8 0.4 -1.4 0.4 0.3 0.4 0.6 0.4 0.7 0.4 -2.8 0.4 0.2 0.4 -0.5 0.4 1.1 0.4 -1.8 0.4 0.4 0.4 0.3 0.4 -0.8 0.4 -0 0.4 0.4 0.4 -1.3 0.4 0.7 0.4 1 0.4 0.6 0.4 -0 0.4 -1.1 0.4 1.4 0.4 1.3 0.4 0.1 0.4 -0.3 0.4 -0.4 0.4 1.5 0.4 -0.9 0.4 -0.3 0.4 0.3 0.4 1.9 0.4 -1 0.4 0.7 0.4 -1.3 0.4 1.1 0.4 -1.2 0.4 0.4 0.4 1.9 0.4 -1 0.4 -1 0.4 0.4 0.4 0.3 0.4 0.7 0.4 -1.4 0.4 -1.1 0.4 1.2 0.4 0.2 0.4 0 0.4 1 0.4 -0.8 0.4 0.3 0.4 -1.5 0.4 1.5 0.4 0.9 0.4 -1.1 0.4 -0.6 0.4 -0.4 0.4 0.8 0.4 -2.7 0.4 0 0.4 -0.1 0.4 -0.4 0.4 -1.6 0.4 0.1 0.4 -1 0.4 0 0.4 -0.4 0.4 -0.9 0.4 1.1 0.4 1.1 0.4 -1 0.4 1.2 0.4 1.3 0.4 -0.8 0.4 1.5 0.4 -0.7 0.4 1.9 0.4 0.7 0.4 -0.2 0.4 -2.1 0.4 0.4 0.4 -0.9 0.4 -0.3 0.4 0.7 0.4 -2.6 0.4 1.5 0.4 -1.3 0.4 0.7 0.4 -1.4 0.4 -1.1 0.4 0.3 0.4 -0 0.4 -0.9 0.4 0 0.4 -1 0.4 -1.3 0.4 1.6 0.4 -0.4 0.4 -0.9 0.4 -0.6 0.4 -0.2 0.4 -1 0.4 -0.5 0.4 -0.3 0.4 -0.2 0.4 -0.5 0.4 0.2 0.4 0 0.4 0.3 0.4 0.9 0.4 0.4 0.4 0.4 0.4 1.1 0.4 1.3 0.4 0.9 0.4 -0.1 0.4 0.9 0.4 0.5 0.4 -0.6 0.4 0.9 0.4 -0.1 0.4 -0.3 0.4 0.1 0.4 0.5 0.4 0 0.4 -0.4 0.4 0.1 0.4 1.3 0.4 -0.7 0.4 0.6 0.4 0.4 0.4 -0.4 0.4 1.4 0.4 -2.2 0.4 1.5 0.4 -0.6 0.4 1.9 0.4 0.2 0.4 -2.6 0.4 1.2 0.4 1.6 0.4 0.5 0.4 0.4 0.4 -0.2 0.4 0.8 0.4 0.6 0.4 -0.2 0.4 1.2 0.4 -2.2 0.4 2.4 0.4 -1 0.4 1.8 0.4 -0.7 0.4 -0.2 0.4 1.3 0.4 -0.8 0.4 0.3 0.4 -0.3 0.4 1.5 0.4 0.6 0.4 0.5 0.4 -0.8 0.4 1 0.4 -0.8 0.4 -0.1 0.4 0.6 0.4 0.3 0.4 -1.1 0.4 0.1 0.4 0.1 0.4 0.2 0.4 -0.8 0.4 1.5 0.4 -1.1 0.4 0.6 0.4 -1.1 0.4 0.9 0.4 -0.1 0.4 -0.8 0.4 1.8 0.4 -1.5 0.4 1 0.4 -0.8 0.4 -1.4 0.4 0.2 0.4 0.5 0.4 -0.3 0.4 -0 0.4 -0.3 0.4 -1.2 0.4 1.2 0.4 -1.4 0.4 2 0.4 -0.8 0.4 0.1 0.4 0.5 0.4 0.5 0.4 -1.3 0.4 -0.1 0.4 0.6 0.4 -0.7 0.4 0.9 0.4 2 0.4 -2.1 0.4 1.4 0.4 -1.6 0.4 1.3 0.4 -0.5 0.4 0.3 0.4 0.5 0.4 1 0.4 -1.2 0.4 -0 0.4 -0.8 0.4 1.3 0.4 -0.6 0.4 0.9 0.4 -0.6 0.4 1.5 0.4 -2.8 0.4 1.4 0.4 1 0.4 -0.9 0.4 -0.2 0.4 0.5 0.4 -0.8 0.4 1.2 0.4 1.7 0.4 -0.7 0.4 -1.6 0.4 0.2 0.4 0.5 0.4 1.1 0.4 -1.4 0.4 0.1 0.4 1.3 0.4 -0 0.4 -1 0.4 -0.6 0.4 -0.3 0.4 0.7 0.4 -1.2 0.4 2.2 0.4 -1.1 0.4 0.9 0.4 1 0.4 -0.5 0.4 -1.8 0.4 1.5 0.4 0.3 0.4 -1.5 0.4 -0.1 0.4 0.7 0.4 -1.1 0.4 2.5 0.4 -2.7 0.4 0.8 0.4 0.8 0.4 0.1 0.4 0.5 0.4 0.1 0.4 -0.2 0.4 1.1 0.4 -2.5 0.4 1.7 0.4 -0.6 0.4 0.7 0.4 0.1 0.4 -0.9 0.4 0.1 0.4 1.1 0.4 -0.4 0.4 -0.8 0.4 2 0.4 -0 0.4 -2.9 0.4 1.3 0.4 1.3 0.4 -1.1 0.4 -0.5 0.4 -0.4 0.4 -0.3 0.4 0.3 0.4 -0.3 0.4 1.1 0.4 -0.9 0.4 -0 0.4 -0.6 0.4 0.9 0.4 -0.7 0.4 0.6 0.4 0.9 0.4 -0.5 0.4 0.2 0.4 -0.1 0.4 -0.2 0.4 -0.1 0.4 -0.1 0.4 0.9 0.4 -1.4 0.4 1.8 0.4 -0.9 0.4 -0.6 0.4 0.2 0.4 -0.2 0.4 0.7 0.4 -0.7 0.4 1.5 0.4 -1.4 0.4 -1 0.4 1 0.4 -0.9 0.4 1.5 0.4 0.8 0.4 -0.4 0.4 -1.6 0.4 0.4 0.4 1.9 0.4 -1.1 0.4 -0.2 0.4 0.8 0.4 0.9 0.4 -0.5 0.4 -0.8 0.4 0.2 0.4 0.3 0.4 -0.8 0.4 -0.3 0.4 0.9 0.4 -0.7 0.4 0.7 0.4 0.1 0.4 1.5 0.4 -2.2 0.4 0.5 0.4 -0 0.4 0.4 0.4 0.5 0.4 -1.2 0.4 -0.2 0.4 -0.6 0.4 0.6 0.4 1.1 0.4 -0.3 0.4 -0.7 0.4 0.5 0.4 0.4 0.4 0.4 0.4 -0.8 0.4 0.3 0.4 -1.1 0.4 0.5 0.4 2.1 0.4 -2.8 0.4 1.4 0.4 0.4 0.4 -0.4 0.4 -0.3 0.4 0.6 0.4 0.1 0.4 0.1 0.4 -1.3 0.4 1.3 0.4 -0.4 0.4 0.3 0.4 0.6 0.4 0.3 0.4 0.2 0.4 -1.1 0.4 1 0.4 0.1 0.4 -0.1 0.4 0.1 0.4 -1.3 0.4 -0.1 0.4 0.7 0.4 -1.7 0.4 1.1 0.4 -0.6 0.4 0.2 0.4 -1 0.4 0.7 0.4 0.5 0.4 0.5 0.4 -0.1 0.4 -0.7 0.4 -0.5 0.4 -1.7 0.4 -1.7 0.4 -2.7 0.4 -2.3 0.4 -2.3 0.4 -2.8 0.4 -1.5 0.4 1.5 0.4 2.6 0.4 2.8 0.4 2.4 0.4 1.9 0.4 1.4 0.4 2.3 0.4 1.5 0.4 -0.4 0.4 -0.1 0.4 0.2 0.4 0.5 0.4 0.3 0.4 0.4 0.4 0 0.4 0 0.4 0.2 0.4 -0.5 0.4 -1.7 0.4 1.1 0.4 0.3 0.4 -0.5 0.4 1 0.4 -1 0.4 -0.4 0.4 1.8 0.4 -0.6 0.4 -0.3 0.4 0.5 0.4 0.1 0.4 -0.5 0.4 -1.9 0.4 1.1 0.4 0.2 0.4 -0.3 0.4 0.9 0.4 0.8 0.4 -1.3 0.4 -0.5 0.4 2.3 0.4 -1.9 0.4 -0.8 0.4 0.9 0.4 -0.1 0.4 -1 0.4 0.8 0.4 -1.2 0.4 -0.5 0.4 0.5 0.4 -0.1 0.4 -1.5 0.4 0.1 0.4 -0.9 0.4 0.9 0.4 -3 0.4 0.7 0.4 -1.6 0.4 -0.2 0.4 1.2 0.4 1.1 0.4 1.6 0.4 0.6 0.4 0.5 0.4 0.8 0.4 1.1 0.4 0.3 0.4 0.8 0.4 -0.6 0.4 0.5 0.4 0.4 0.4 -0.9 0.4 -1.2 0.4 0.3 0.4 -0.2 0.4 2.4 0.4 -1.8 0.4 1.6 0.4 -0.5 0.4 0.9 0.4 -0.5 0.4 -0.8 0.4 -0.1 0.4 0.2 0.4 0.1 0.4 -0.6 0.4 0.4 0.4 1.2 0.4 -2.4 0.4 1.5 0.4 -0.8 0.4 0.8 0.4 0.6 0.4 -0.7 0.4 0.7 0.4 -1.8 0.4 2 0.4 -1.2 0.4 0.8 0.4 -0.3 0.4 -1.7 0.4 0.9 0.4 0.7 0.4 1 0.4 -1 0.4 0 0.4 -1.2 0.4 2.2 0.4 0.3 0.4 -1.2 0.4 -0.2 0.4 -1 0.4 1.9 0.4 0.9 0.4 -1.1 0.4 0.4 0.4 -0.5 0.4 -1.1 0.4 1.7 0.4 -1.9 0.4 0.7 0.4 0.3 0.4 0.4 0.4 -0.4 0.4 -0.1 0.4 -1 0.4 -0.5 0.4 0.9 0.4 -0.6 0.4 -0.5 0.4 -0 0.4 0.5 0.4 -1 0.4 0.3 0.4 -0.2 0.4 1.4 0.4 0.1 0.4 1.2 0.4 -2.6 0.4 0.6 0.4 1.2 0.4 -0.8 0.4 -0.1 0.4 1.5 0.4 -1.6 0.4 -0.6 0.4 -0.2 0.4 1.2 0.4 -0 0.4 -1.3 0.4 0.3 0.4 1.1 0.4 0.1 0.4 -0.9 0.4 1 0.4 0 0.4 -1.7 0.4 1.2 0.4 0.5 0.4 -0.6 0.4 -1.1 0.4 1.3 0.4 0.7 0.4 0.5 0.4 -2.7 0.4 3 0.4 -2.4 0.4 1.4 0.4 0.2 0.4 -0.2 0.4 -0.6 0.4 -0.9 0.4 1.3 0.4 -0.9 0.4 -1 0.4 3.1 0.4 -1.1 0.4 0.8 0.4 -2 0.4 1.7 0.4 0 0.4 -0 0.4 -1.2 0.4 -0.9 0.4 0.7 0.4 -1.5 0.4 0.2 0.4 1.3 0.4 -0.9 0.4 0.5 0.4 -0 0.4 1.4 0.4 -0.6 0.4 -1 0.4 0.9 0.4 -1.4 0.4 0.3 0.4 0.8 0.4 -1.5 0.4 0.6 0.4 -0.8 0.4 1 0.4 1 0.4 -1.8 0.4 0.6 0.4 -0.8 0.4 -0.3 0.4 -0.1 0.4 2 0.4 0.4 0.4 -1.1 0.4 -0.8 0.4 1 0.4 -0.7 0.4 0.8 0.4 -0.4 0.4 0.1 0.4 0.2 0.4 -0.8 0.4 0.1 0.4 -0.9 0.4 0.9 0.4 -0.7 0.4 1 0.4 -0.6 0.4 0.8 0.4 0.2 0.4 -1.3 0.4 0.4 0.4 -0.1 0.4 1.2 0.4 0.7 0.4 -0.6 0.4 -0.9 0.4 1.2 0.4 -2.2 0.4 2.2 0.4 -1.6 0.4 -1.1 0.4 3 0.4 -0.3 0.4 -1.9 0.4 1 0.4 -0.3 0.4 0.3 0.4 -1 0.4 0.6 0.4 0.9 0.4 -0.1 0.4 0.8 0.4 -0.7 0.4 1.6 0.4 -1.9 0.4 0.9 0.4 -1.4 0.4 0.7 0.4 2 0.4 -1.5 0.4 1.3 0.4 -0.3 0.4 -0.6 0.4 0.6 0.4 -0 0.4 0.1 0.4 0.9 0.4 -0.1 0.4 -0.8 0.4 -0.3 0.4 0.9 0.4 -0.3 0.4 0.7 0.4 0.8 0.4 -0.9 0.4 -0.6 0.4 -0.1 0.4 -0.5 0.4 0 0.4 -0 0.4 0.4 0.4 0 0.4 0.8 0.4 -0.8 0.4 0.1 0.4 -0.8 0.4 2 0.4 -0.8 0.4 0.8 0.4 -0.7 0.4 0.5 0.4 -1.2 0.4 0.7 0.4 0.9 0.4 -2.3 0.4 1.7 0.4 0.3 0.4 -0.9 0.4 0.2 0.4 0.3 0.4 -1.5 0.4 0.7 0.4 -1 0.4 0.1 0.4 -0 0.4 0.3 0.4 0.1 0.4 0.2 0.4 -1.4 0.4 2.5 0.4 -0.6 0.4 -0.3 0.4 -0.8 0.4 0.2 0.4 0.5 0.4 -0 0.4 -1.5 0.4 1.8 0.4 1 0.4 -2.8 0.4 2.1 0.4 -0.5 0.4 -0.3 0.4 1 0.4 -1.9 0.4 1 0.4 0.8 0.4 -1.2 0.4 -0.3 0.4 0.4 0.4 -0.5 0.4 1.4 0.4 -1.8 0.4 1.2 0.4 -1.5 0.4 1.3 0.4 -0.6 0.4 -1.4 0.4 1.5 0.4 -0.8 0.4 0.4 0.4 1.4 0.4 -2 0.4 0.1 0.4 1.7 0.4 -1 0.4 1 0.4 -0.9 0.4 -0.9 0.4 0.5 0.4 0.9 0.4 -0.3 0.4 -0.8 0.4 -0 0.4 -0.3 0.4 -0.6 0.4 1.6 0.4 -1.7 0.4 -1.1 0.4 0.1 0.4 0.6 0.4 -0.4 0.4 -0.9 0.4 -0.7 0.4 0.3 0.4 -1.5 0.4 0.1 0.4 1.3 0.4 -1 0.4 0.6 0.4 0.6 0.4 -0.3 0.4 -0.2 0.4 1.7 0.4 -0.6 0.4 -0.4 0.4 1.2 0.4 0.2 0.4 -0.5 0.4 1 0.4 0.1 0.4 -1 0.4 1.5 0.4 0 0.4 -0.1 0.4 -0.8 0.4 0.9 0.4 0.2 0.4 0.1 0.4 -0.8 0.4 1.2 0.4 -1.3 0.4 0.7 0.4 1.1 0.4 -1.5 0.4 0.1 0.4 1.2 0.4 -1.1 0.4 0.2 0.4 0.4 0.4 0.7 0.4 -2.2 0.4 1 0.4 -0.1 0.4 -0 0.4 0.2 0.4 0 0.4 0.9 0.4 -0.9 0.4 0.8 0.4 0.2 0.4 -0.8 0.4 0.5 0.4 1.1 0.4 -1 0.4 -0.7 0.4 0.3 0.4 -0.6 0.4 0.8 0.4 0.4 0.4 -1.1 0.4 0.4 0.4 1 0.4 -1.1 0.4 0.6 0.4 -0.8 0.4 0.1 0.4 0.3 0.4 1.8 0.4 -1.7 0.4 -0 0.4 -0 0.4 0.2 0.4 0.6 0.4 -0.3 0.4 1.3 0.4 -1.3 0.4 0.8 0.4 -0.8 0.4 0.2 0.4 -1.4 0.4 0.9 0.4 0.1 0.4 -0.2 0.4 -1.2 0.4 2 0.4 -0.9 0.4 -0 0.4 0.1 0.4 0 0.4 0.4 0.4 -1.1 0.4 0.2 0.4 0.8 0.4 -0.1 0.4 -0.3 0.4 -0.2 0.4 -0.1 0.4 0.5 0.4 0.9 0.4 -1.5 0.4 1.8 0.4 -0.5 0.4 -0.9 0.4 0.9 0.4 -1.5 0.4 -0.2 0.4 0.4 0.4 0.6 0.4 0.1 0.4 -0.1 0.4 0.5 0.4 -1.5 0.4 1.8 0.4 -1.3 0.4 0.6 0.4 0.2 0.4 -0.5 0.4 -0.1 0.4 0.3 0.4 0.6 0.4 0.5 0.4 -0.1 0.4 -1.1 0.4 0.1 0.4 -0.1 0.4 0.9 0.4 -1.7 0.4 2.2 0.4 -1.2 0.4 -0.2 0.4 0.8 0.4 0.5 0.4 -0.4 0.4 0.5 0.4 -0.5 0.4 0.7 0.4 0.1 0.4 -0.9 0.4 1.1 0.4 -0.8 0.4 -0.1 0.4 -0.6 0.4 0.4 0.4 0.7 0.4 -1.5 0.4 1.3 0.4 -0.3 0.4 -0.1 0.4 -1.6 0.4 1.3 0.4 0.4 0.4 -1 0.4 0.5 0.4 -1.5 0.4 1.9 0.4 -1 0.4 1.1 0.4 -1.9 0.4 1.7 0.4 -0.6 0.4 0.7 0.4 -1.2 0.4 0.2 0.4 1.9 0.4 -2 0.4 0.2 0.4 0.3 0.4 -0.4 0.4 1.5 0.4 0.5 0.4 -1.6 0.4 -0.6 0.4 2 0.4 -0.1 0.4 -0.1 0.4 0.2 0.4 -1.4 0.4 0.4 0.4 -0.8 0.4 -0 0.4 1.6 0.4 -1.1 0.4 1.9 0.4 -1.4 0.4 -0.4 0.4 1 0.4 0.7 0.4 -0.9 0.4 -1.1 0.4 1 0.4 0.7 0.4 -1.3 0.4 -0.2 0.4 1.1 0.4 -0.6 0.4 -0.9 0.4 0.5 0.4 -0.3 0.4 0.8 0.4 -0.1 0.4 0.7 0.4 -0.3 0.4 -1.4 0.4 1.3 0.4 0.4 0.4 -0.3 0.4 0.4 0.4 -1 0.4 -0.2 0.4 1.2 0.4 -1.3 0.4 -0.7 0.4 2.1 0.4 -1.2 0.4 0.3 0.4 -0.7 0.4 0.1 0.4 0.1 0.4 0.5 0.4 0.5 0.4 -1.7 0.4 1.8 0.4 -1.3 0.4 -0 0.4 1.1 0.4 -0.6 0.4 -1 0.4 2.3 0.4 -1.8 0.4 0.7 0.4 0 0.4 0.8 0.4 -1.2 0.4 1 0.4 -1.2 0.4 1.2 0.4 -1.2 0.4 0.2 0.4 1.5 0.4 -1 0.4 -0.1 0.4 1.3 0.4 -1.1 0.4 -0.8 0.4 1 0.4 -1.3 0.4 1.6 0.4 0 0.4 -1.1 0.4 -0 0.4 0.6 0.4 -0.1 0.4 -0.6 0.4 1.1 0.4 -1.7 0.4 1.1 0.4 0.1 0.4 0.1 0.4 0.4 0.4 -1 0.4 1.2 0.4 -0.5 0.4 -0.3 0.4 -0.5 0.4 0.1 0.4 0.9 0.4 -0.9 0.4 0.6 0.4 0.6 0.4 -0.1 0.4 0.3 0.4 -1.3 0.4 -0.6 0.4 1.4 0.4 -0.5 0.4 0.5 0.4 -0.7 0.4 0.7 0.4 -0.2 0.4 -0.1 0.4 -0.2 0.4 -0.1 0.4 -0.1 0.4 0 0.4 0.5 0.4 -1 0.4 1.5 0.4 -1.2 0.4 0.8 0.4 -0.7 0.4 -0.1 0.4 1.5 0.4 -1.5 0.4 -0.6 0.4 0.3 0.4 0.3 0.4 1.5 0.4 -1.2 0.4 0.5 0.4 -1.3" fill="none" stroke="#000" stroke-width="4.0" stroke-linejoin="round" stroke-linecap="round"/>
<path d="M1483.5 444.8L1478.2 465.3L1488.8 465.3Z" fill="#858585"/><path d="M1483.5 464.3V507.1" stroke="#929292" stroke-width="1.4" fill="none"/>
<path d="M1690.5 458.4L1685.2 479.3L1695.8 479.3Z" fill="#858585"/><path d="M1690.5 478.3V520.7" stroke="#929292" stroke-width="1.4" fill="none"/>
<path d="M1177.9 747.1l0.4 0.3 0.4 -0.3 0.4 1 0.4 -2.3 0.4 2 0.4 -1.1 0.4 2 0.4 -0.2 0.4 0.3 0.4 -1 0.4 -1.2 0.4 1 0.4 0.6 0.4 -2.7 0.4 1.5 0.4 -0.9 0.4 1.7 0.4 -2.8 0.4 0.6 0.4 0.7 0.4 -0.3 0.4 -2.3 0.4 2.3 0.4 -0.7 0.4 -0.2 0.4 0.1 0.4 0.3 0.4 -2.5 0.4 4 0.4 -3 0.4 -1.6 0.4 2.3 0.4 1.7 0.4 -2.5 0.4 2.3 0.4 -0.2 0.4 -3 0.4 -1.6 0.4 1 0.4 2.8 0.4 -2.4 0.4 -0.8 0.4 0.3 0.4 1.6 0.4 0.1 0.4 1.2 0.4 0.2 0.4 -2.2 0.4 1 0.4 -1.2 0.4 1.5 0.4 -1.5 0.4 -0 0.4 3.9 0.4 -2.4 0.4 0.7 0.4 1.9 0.4 -1.5 0.4 -0.9 0.4 0.3 0.4 -0.8 0.4 2.3 0.4 -1.5 0.4 2.6 0.4 -2.3 0.4 0.1 0.4 0.1 0.4 1.3 0.4 -0.4 0.4 1.5 0.4 -2.2 0.4 1.1 0.4 2 0.4 -2.6 0.4 1 0.4 1.3 0.4 -1.2 0.4 -1.4 0.4 -1.7 0.4 4.9 0.4 -2 0.4 0.9 0.4 -2.1 0.4 2.7 0.4 -1.6 0.4 -0.5 0.4 -1.1 0.4 1.6 0.4 -0.9 0.4 0.4 0.4 -1.4 0.4 1.5 0.4 0.9 0.4 -1.5 0.4 1.7 0.4 0.9 0.4 -1.1 0.4 -0.3 0.4 0 0.4 1.9 0.4 -2.8 0.4 1.6 0.4 -0 0.4 0.8 0.4 0 0.4 -1 0.4 4 0.4 -1.9 0.4 -1.5 0.4 0.8 0.4 1.5 0.4 0.8 0.4 -2 0.4 2.6 0.4 -2.2 0.4 0.9 0.4 2.1 0.4 1.2 0.4 -2 0.4 -0.1 0.4 1.9 0.4 -2.7 0.4 1.7 0.4 -0.1 0.4 0.9 0.4 -0.9 0.4 -0.8 0.4 0.9 0.4 -2.1 0.4 2.1 0.4 -1.9 0.4 -0.4 0.4 0.6 0.4 0.4 0.4 0.8 0.4 -1.2 0.4 1.1 0.4 0.2 0.4 -1.3 0.4 -1.1 0.4 2.1 0.4 -0.8 0.4 -2.7 0.4 1.3 0.4 1.4 0.4 -1.8 0.4 0.9 0.4 -1.2 0.4 2.4 0.4 -0.2 0.4 -0.2 0.4 1.4 0.4 -2.2 0.4 -0.1 0.4 2.5 0.4 -4 0.4 2.3 0.4 -2.5 0.4 1.7 0.4 2 0.4 -2.1 0.4 -1.3 0.4 3.3 0.4 -3.2 0.4 0.3 0.4 0.5 0.4 -2 0.4 2.7 0.4 0.3 0.4 -1.1 0.4 -0.8 0.4 -0.8 0.4 1 0.4 -3.7 0.4 2 0.4 0.1 0.4 -2.9 0.4 2.5 0.4 -1 0.4 -0.2 0.4 -0.2 0.4 0.2 0.4 -0.5 0.4 -2.1 0.4 0.6 0.4 -0.5 0.4 -0.3 0.4 -1.3 0.4 1.2 0.4 -0.3 0.4 -0.4 0.4 -0.2 0.4 -1.2 0.4 -2.9 0.4 -0.8 0.4 -0.6 0.4 0.3 0.4 -1.6 0.4 0.5 0.4 -0.2 0.4 -3.3 0.4 0.5 0.4 -2.7 0.4 -2.3 0.4 -1.3 0.4 -0.4 0.4 -3.5 0.4 0.4 0.4 -1.5 0.4 -5.6 0.4 -2.4 0.4 -2 0.4 -4.9 0.4 -7.4 0.4 -9.5 0.4 -10.8 0.4 -12.9 0.4 -15 0.4 -16.6 0.4 -9.9 0.4 -3.4 0.4 -2.1 0.4 2.5 0.4 6.4 0.4 8 0.4 12.8 0.4 14.6 0.4 9.6 0.4 8 0.4 8.5 0.4 2.8 0.4 2.7 0.4 3.6 0.4 0.5 0.4 -0.2 0.4 0.8 0.4 3 0.4 1.7 0.4 0.4 0.4 0.2 0.4 1.7 0.4 -0.8 0.4 -0.9 0.4 3.5 0.4 -3.4 0.4 1.5 0.4 0.4 0.4 2 0.4 -2.1 0.4 0.9 0.4 -1.3 0.4 2.6 0.4 0.4 0.4 0.5 0.4 -1.6 0.4 1.5 0.4 -1.1 0.4 0.6 0.4 0.5 0.4 1.5 0.4 -2 0.4 0.6 0.4 -1.3 0.4 0.2 0.4 -0.3 0.4 0.4 0.4 0.8 0.4 -2.3 0.4 1.9 0.4 -2 0.4 1.2 0.4 -1.1 0.4 -0 0.4 -0.4 0.4 1.2 0.4 -1.3 0.4 0.2 0.4 -3 0.4 -2 0.4 -0.8 0.4 -6.3 0.4 -2.8 0.4 -3.4 0.4 -2.7 0.4 -11.1 0.4 -14.9 0.4 -18.8 0.4 -18.9 0.4 -17.7 0.4 -14 0.4 -9.7 0.4 -6.4 0.4 -1.5 0.4 4.7 0.4 8.4 0.4 11.8 0.4 18 0.4 20.1 0.4 20.4 0.4 19.7 0.4 15.6 0.4 7.7 0.4 5 0.4 4.5 0.4 3.9 0.4 -0.7 0.4 2 0.4 0.8 0.4 -0 0.4 1.6 0.4 -0.5 0.4 1 0.4 1 0.4 -1.2 0.4 0.1 0.4 -0.1 0.4 0 0.4 -0.9 0.4 -0.1 0.4 0.7 0.4 -1.8 0.4 1.9 0.4 -3.9 0.4 -0.1 0.4 -2.8 0.4 -2.4 0.4 -6.1 0.4 -7 0.4 -6.8 0.4 -9 0.4 -7 0.4 -2.4 0.4 -1.7 0.4 -0.8 0.4 1.5 0.4 3.9 0.4 5.4 0.4 5.5 0.4 6.5 0.4 6.7 0.4 7.3 0.4 5.1 0.4 5 0.4 2.5 0.4 1.7 0.4 0.8 0.4 4.3 0.4 1.2 0.4 -0.3 0.4 1.6 0.4 1.5 0.4 0.5 0.4 0.7 0.4 1.4 0.4 0.3 0.4 0.9 0.4 -1.3 0.4 0.6 0.4 4.1 0.4 -2.9 0.4 2.6 0.4 0.2 0.4 0.3 0.4 -0.7 0.4 2.1 0.4 -0.5 0.4 -0.5 0.4 -1.1 0.4 1.4 0.4 -0.4 0.4 -0.6 0.4 1.7 0.4 0.1 0.4 0.1 0.4 -1 0.4 -0.6 0.4 1.1 0.4 -0.8 0.4 0.9 0.4 -2.2 0.4 -2.3 0.4 1.3 0.4 0.4 0.4 -3 0.4 -2.3 0.4 -2.7 0.4 -0.1 0.4 -5.3 0.4 -3.1 0.4 -1.9 0.4 -4.4 0.4 -1.8 0.4 -4.2 0.4 -2 0.4 -2.1 0.4 -1.6 0.4 -2.9 0.4 0.1 0.4 -2.1 0.4 -2 0.4 1.4 0.4 -1.4 0.4 -0.4 0.4 -2.6 0.4 1.1 0.4 -1.4 0.4 -1.4 0.4 -1.4 0.4 -3.3 0.4 -3.2 0.4 -3.9 0.4 -2.1 0.4 -1.6 0.4 -0.6 0.4 1 0.4 1.4 0.4 2.6 0.4 2.6 0.4 4.6 0.4 7.1 0.4 6.6 0.4 8.3 0.4 5.9 0.4 5.1 0.4 3.7 0.4 4.2 0.4 4 0.4 0.8 0.4 4.3 0.4 2.3 0.4 3.2 0.4 1.3 0.4 1.6 0.4 2.7 0.4 2.3 0.4 0.8 0.4 0.6 0.4 1.4 0.4 -0.9 0.4 2.3 0.4 1.4 0.4 0.7 0.4 0.7 0.4 1.5 0.4 1.3 0.4 2.4 0.4 -2 0.4 0.5 0.4 2.7 0.4 -0.3 0.4 -0.4 0.4 3 0.4 -1.2 0.4 0.2 0.4 0.1 0.4 -0.1 0.4 1.1 0.4 -0.9 0.4 3 0.4 -1.6 0.4 -0.5 0.4 -0.5 0.4 1.2 0.4 0.8 0.4 -0.6 0.4 -1.3 0.4 1.1 0.4 -1.4 0.4 3.3 0.4 -0.7 0.4 -0.4 0.4 0.1 0.4 -0.9 0.4 0.3 0.4 1.1 0.4 -1 0.4 0.6 0.4 -0.3 0.4 0.1 0.4 0.2 0.4 0.9 0.4 -1.1 0.4 1.1 0.4 -1.3 0.4 0.3 0.4 0 0.4 1.7 0.4 -1.1 0.4 1.6 0.4 -2.1 0.4 1.5 0.4 -1.4 0.4 2.1 0.4 -2 0.4 0.6 0.4 -1.7 0.4 -0.9 0.4 -0.2 0.4 -3.1 0.4 -1.5 0.4 -0.5 0.4 -2.6 0.4 -1.3 0.4 -2.3 0.4 -1.6 0.4 -0.9 0.4 -0.1 0.4 1.5 0.4 3 0.4 3.6 0.4 2.6 0.4 2.8 0.4 2.2 0.4 1.4 0.4 2.8 0.4 1.2 0.4 -0.6 0.4 0.6 0.4 0 0.4 -0.4 0.4 2.1 0.4 -1.4 0.4 1.8 0.4 -0.7 0.4 -0.2 0.4 1.9 0.4 -0.1 0.4 1.8 0.4 -1.7 0.4 0.3 0.4 0 0.4 -0.3 0.4 1.5 0.4 0.1 0.4 -1 0.4 -1.7 0.4 1.3 0.4 -0.4 0.4 -0.6 0.4 -1.2 0.4 2.3 0.4 0.1 0.4 -1 0.4 -0 0.4 1 0.4 -0.1 0.4 -1.7 0.4 -2.1 0.4 2 0.4 -0.6 0.4 -0.2 0.4 -2.6 0.4 -10.6 0.4 -15.8 0.4 -19.8 0.4 -22.6 0.4 -11.9 0.4 -5.5 0.4 -2.3 0.4 7.7 0.4 14.7 0.4 28.8 0.4 21.5 0.4 12.5 0.4 4.6 0.4 -0.6 0.4 0.6 0.4 0.6 0.4 -0.3 0.4 -0.1 0.4 0.7 0.4 -1 0.4 -1.3 0.4 2.2 0.4 -1.1 0.4 0.2 0.4 -1.5 0.4 -0.2 0.4 -0.5 0.4 -1.2 0.4 1.4 0.4 -0 0.4 2.2 0.4 -3.2 0.4 2.2 0.4 0 0.4 0.5 0.4 0.2 0.4 0.7 0.4 0.9 0.4 -2 0.4 2.7 0.4 -0.8 0.4 -0.4 0.4 -0.6 0.4 0.4 0.4 1.9 0.4 -0.7 0.4 0.2 0.4 0.9 0.4 0.8 0.4 -0.2 0.4 -0.3 0.4 0.7 0.4 0.7 0.4 -0.6 0.4 2.1 0.4 0.5 0.4 0.2 0.4 -1.3 0.4 0.2 0.4 -0.3 0.4 2.4 0.4 -1.6 0.4 2.7 0.4 -3.8 0.4 2.3 0.4 0.5 0.4 -0.3 0.4 0.7 0.4 1.6 0.4 -1.7 0.4 1.1 0.4 -0.9 0.4 -0.5 0.4 0.4 0.4 2 0.4 -0.3 0.4 -1.5 0.4 1.8 0.4 0.3 0.4 -0 0.4 0.6 0.4 -2.4 0.4 0.5 0.4 -0.1 0.4 1.1 0.4 1.1 0.4 -1.6 0.4 0.7 0.4 0.5 0.4 -1.3 0.4 1.2 0.4 -0.8 0.4 1.7 0.4 -0.3 0.4 -1.8 0.4 -0.1 0.4 2.2 0.4 -2.6 0.4 1.8 0.4 -1.4 0.4 -0.7 0.4 2.4 0.4 -1.1 0.4 -1.2 0.4 0.6 0.4 -0.4 0.4 -0.3 0.4 -0.9 0.4 -1.8 0.4 -3.7 0.4 -1.8 0.4 -2.2 0.4 -1.3 0.4 -1.3 0.4 -0.5 0.4 1.7 0.4 3 0.4 2.7 0.4 1.8 0.4 1.9 0.4 1.8 0.4 2.3 0.4 -0.3 0.4 -0.3 0.4 -0.3 0.4 0.1 0.4 0.7 0.4 -0 0.4 -2.3 0.4 3.7 0.4 -1.5 0.4 -0.5 0.4 1.9 0.4 -3.5 0.4 0.1 0.4 2.1 0.4 -1.3 0.4 0.7 0.4 0.1 0.4 0.4 0.4 -1.2 0.4 -1.3 0.4 -1.1 0.4 1.7 0.4 -1.8 0.4 1.7 0.4 -0.8 0.4 1.1 0.4 0.3 0.4 -0.7 0.4 -1.1 0.4 1.5 0.4 -0.7 0.4 1.1 0.4 -0.6 0.4 2.5 0.4 -2.3 0.4 -1.2 0.4 1 0.4 1 0.4 2 0.4 -0.7 0.4 -1.8 0.4 0.6 0.4 -1.1 0.4 -0.2 0.4 2.2 0.4 -0.4 0.4 -1.1 0.4 0.1 0.4 1.1 0.4 0.3 0.4 -1.4 0.4 -0.8 0.4 2.1 0.4 -2.7 0.4 -2.8 0.4 -0.5 0.4 -1.4 0.4 -0.5 0.4 -2.4 0.4 0.2 0.4 -0.2 0.4 4 0.4 0.4 0.4 3.3 0.4 0.7 0.4 -0.6 0.4 1.5 0.4 2.6 0.4 -2.4 0.4 -0.6 0.4 1.2 0.4 0.3 0.4 0.6 0.4 -1 0.4 -0.3 0.4 0.2 0.4 0.9 0.4 -0.9 0.4 0.7 0.4 -2.2 0.4 1.3 0.4 0.3 0.4 0.9 0.4 -0.6 0.4 -0.3 0.4 0.6 0.4 -1 0.4 1.6 0.4 -2.7 0.4 0.8 0.4 1.2 0.4 -0.9 0.4 -0.5 0.4 0.2 0.4 -2.3 0.4 -2.5 0.4 -3.4 0.4 -2.8 0.4 -3 0.4 -1.8 0.4 -2.2 0.4 -1.4 0.4 -0.9 0.4 1.2 0.4 1.7 0.4 3.1 0.4 2.6 0.4 2.3 0.4 2 0.4 2.8 0.4 0.8 0.4 1.5 0.4 0.8 0.4 0 0.4 -0.1 0.4 1.5 0.4 -0.6 0.4 -0.1 0.4 0.4 0.4 -1 0.4 0.9 0.4 -1.5 0.4 -0 0.4 1.6 0.4 1.3 0.4 -1.8 0.4 1.4 0.4 -1.9 0.4 1.6 0.4 0.1 0.4 0.1 0.4 -1.2 0.4 1.9 0.4 0.2 0.4 -0 0.4 1.4 0.4 -2.2 0.4 0.5 0.4 0.9 0.4 -2.4 0.4 0.4 0.4 1.8 0.4 -1.4 0.4 -0.4 0.4 1.2 0.4 -1.6 0.4 1.4 0.4 -1 0.4 0.4 0.4 -1.2 0.4 2.1 0.4 0.1 0.4 -0.4 0.4 -0.4 0.4 0.8 0.4 1.1 0.4 -0.5 0.4 -1.4 0.4 0.9 0.4 -0.4 0.4 0.7 0.4 -1.2 0.4 2.1 0.4 -2 0.4 -0.3 0.4 1.2 0.4 1.2 0.4 -3.1 0.4 1.2 0.4 0.1 0.4 0.8 0.4 -3.8 0.4 1.8 0.4 -2.1 0.4 0.1 0.4 1 0.4 -0.7 0.4 -0.8 0.4 1.6 0.4 0.5 0.4 1.3 0.4 -0.3 0.4 0.8 0.4 0.8 0.4 0.5 0.4 -0.2 0.4 0.4 0.4 0.1 0.4 -0.3 0.4 -0.9 0.4 -0.9 0.4 0.6 0.4 0.1 0.4 0.3 0.4 1 0.4 -0.9 0.4 -0.8 0.4 -0.3 0.4 1.1 0.4 -0.1 0.4 -0.7 0.4 -0.5 0.4 1.1 0.4 0.7 0.4 -0.2 0.4 -1.5 0.4 0.9 0.4 0.2 0.4 -0.8 0.4 0.8 0.4 -0.5 0.4 1.3 0.4 -1.4 0.4 1.9 0.4 -0.6 0.4 -0.6 0.4 -0.2 0.4 0.8 0.4 -2.1 0.4 -0.1 0.4 -1.5 0.4 0.5 0.4 -2.6 0.4 -0.8 0.4 -2.2 0.4 1.7 0.4 -0.5 0.4 1.2 0.4 -1.2 0.4 1.2 0.4 2.7 0.4 -1 0.4 1.5 0.4 1.2 0.4 -0.5 0.4 -0 0.4 0.9 0.4 -1.7 0.4 0.8 0.4 -0.9 0.4 -1 0.4 0.7 0.4 0.9 0.4 -1.5 0.4 -0.7 0.4 0.1 0.4 -0.5 0.4 0.7 0.4 -1.6 0.4 1.4 0.4 -0.6 0.4 0.6 0.4 -1.7 0.4 1.1 0.4 -1.9 0.4 1.2 0.4 -0.9 0.4 -1 0.4 1.2 0.4 0 0.4 -0.2 0.4 -1.7 0.4 -1 0.4 1 0.4 -2.5 0.4 0.7 0.4 -1.5 0.4 1.4 0.4 0.3 0.4 -0.3 0.4 1.7 0.4 -0.5 0.4 1.1 0.4 0.7 0.4 0 0.4 -1.1 0.4 1.8 0.4 0.9 0.4 -0.7 0.4 1.3 0.4 -1.1 0.4 2.2 0.4 0.3 0.4 0.1 0.4 -0.6 0.4 0.9 0.4 -1.2 0.4 0.6 0.4 1 0.4 -1 0.4 0.2 0.4 -0 0.4 0.5 0.4 -2.1 0.4 -0.4 0.4 -0.5 0.4 -1.1 0.4 1.5 0.4 -1.8 0.4 1.5 0.4 2.4 0.4 -0.5 0.4 -1.1 0.4 1.6 0.4 3 0.4 -1.2 0.4 2.3 0.4 -1.8 0.4 -1.1 0.4 2.2 0.4 -0.2 0.4 0.7 0.4 -0.9 0.4 0.3 0.4 0.7 0.4 -0.2 0.4 1.9 0.4 0.4 0.4 -1 0.4 1.1 0.4 -1.4 0.4 0.4 0.4 -1.1 0.4 2.6 0.4 -1.6 0.4 1.6 0.4 -0 0.4 -0.6 0.4 -0.2 0.4 -1.1 0.4 1.7 0.4 -0.2 0.4 0.6 0.4 -0.6 0.4 -1.2 0.4 0.2 0.4 1.8 0.4 0.7 0.4 -1.5 0.4 0.2 0.4 0.4 0.4 -0 0.4 0 0.4 -0.4 0.4 0.3 0.4 -0.7 0.4 0.4 0.4 0.7 0.4 -0.5 0.4 -0.6 0.4 0.8 0.4 -1.1 0.4 0.4 0.4 -0.3 0.4 1.2 0.4 0.3 0.4 -0.8 0.4 -0.4 0.4 1.2 0.4 -0.2 0.4 -1.5 0.4 2.2 0.4 0 0.4 -1 0.4 0.2 0.4 -0.1 0.4 -0.4 0.4 0.7 0.4 -1.2 0.4 0.2 0.4 0.2 0.4 -1.7 0.4 0.8 0.4 -0.9 0.4 0.5 0.4 -0.2 0.4 0.1 0.4 0.1 0.4 -1.1 0.4 0.9 0.4 -1.8 0.4 2.1 0.4 -0.9 0.4 0.7 0.4 -2.3 0.4 2.9 0.4 -1.3 0.4 0.7 0.4 0 0.4 0.1 0.4 -0.1 0.4 -1 0.4 3 0.4 0.8 0.4 -1.7 0.4 1.9 0.4 0 0.4 -0.2 0.4 -0.1 0.4 0.8 0.4 -0.9 0.4 0.4 0.4 -0.1 0.4 -0.2 0.4 0.2 0.4 1 0.4 0.1 0.4 -1.2 0.4 0.7 0.4 0 0.4 -1.2 0.4 2.5 0.4 -1.7 0.4 2 0.4 -2.6 0.4 1.1 0.4 1.3 0.4 -0.2 0.4 0 0.4 -0.4 0.4 1.8 0.4 -1.7 0.4 0.3 0.4 -0.9 0.4 -0 0.4 1.8 0.4 0.1 0.4 -2.6 0.4 1.1 0.4 1.6 0.4 -0.9 0.4 0.8 0.4 -2.3 0.4 1.7 0.4 -0.2 0.4 0.1 0.4 -0.5 0.4 0.5 0.4 1.6 0.4 -2.3 0.4 1 0.4 -0.1 0.4 0.1 0.4 1.9 0.4 -0.1 0.4 -1.6 0.4 0.9 0.4 -1.2 0.4 1 0.4 -0.6 0.4 1.5 0.4 -1 0.4 -1.3 0.4 -0.7 0.4 0.4 0.4 2.6 0.4 -2.6 0.4 -0.4 0.4 0.6 0.4 0.2 0.4 0.9 0.4 -1.1 0.4 2 0.4 -1.3 0.4 0.3 0.4 1 0.4 -1 0.4 0.2 0.4 0.3 0.4 -1 0.4 0.2 0.4 1.1 0.4 -1.1 0.4 0.3 0.4 1.3 0.4 -0.2 0.4 -0.2 0.4 -1.2 0.4 2.5 0.4 -1.8 0.4 -0.2 0.4 0 0.4 -0.6 0.4 0.4 0.4 1.9 0.4 -2.9 0.4 3 0.4 -2.4 0.4 0 0.4 2 0.4 0.5 0.4 -1.8 0.4 1 0.4 -1.3 0.4 0.4 0.4 -0.4 0.4 0.8 0.4 -0.6 0.4 0.6 0.4 -0.4 0.4 0.4 0.4 0.1 0.4 -0.6 0.4 0.3 0.4 -0.6 0.4 1.4 0.4 0.2 0.4 -0.9 0.4 0 0.4 -0.2 0.4 0 0.4 0.5 0.4 -1.5 0.4 0.2 0.4 1.2 0.4 0.7 0.4 -1.2 0.4 1.2 0.4 0.1 0.4 -0.6 0.4 1.7 0.4 -1.9 0.4 0.2 0.4 -1 0.4 0.2 0.4 0.9 0.4 0.4 0.4 -0.6 0.4 0.2 0.4 0.2 0.4 0.5 0.4 -1.9 0.4 2 0.4 -1.3 0.4 1.1 0.4 0.2 0.4 -1.7 0.4 2 0.4 -0.8 0.4 -0.5 0.4 1.8 0.4 -2.3 0.4 -0.3 0.4 0.7 0.4 -0.5 0.4 -1.1 0.4 -1.3 0.4 -2.9 0.4 -0.8 0.4 -2.2 0.4 -2.1 0.4 -2.2 0.4 -2 0.4 -1.6 0.4 -0.6 0.4 1.3 0.4 2.3 0.4 3 0.4 2.2 0.4 2.5 0.4 1.8 0.4 2 0.4 1.9 0.4 0.7 0.4 -0.2 0.4 -0.1 0.4 1.8 0.4 -1.9 0.4 2.1 0.4 -1.3 0.4 1.5 0.4 -1.6 0.4 1 0.4 -0.1 0.4 0.5 0.4 -1 0.4 0.6 0.4 0.9 0.4 -2.4 0.4 2 0.4 -1.7 0.4 1.7 0.4 -1 0.4 1.5 0.4 -1.3 0.4 -0.1 0.4 1.2 0.4 -1.1 0.4 0 0.4 0.9 0.4 0.4 0.4 -0.5 0.4 -2.2 0.4 1.8 0.4 -0 0.4 0.4 0.4 0.2 0.4 -0.1 0.4 -0.4 0.4 1.1 0.4 -1.6 0.4 -0.5 0.4 -0.8 0.4 -0 0.4 -0.9 0.4 -2.3 0.4 -1.6 0.4 -2.6 0.4 -2.1 0.4 -1.7 0.4 -2.7 0.4 -1.7 0.4 -0.9 0.4 1.3 0.4 2.4 0.4 2.7 0.4 2.5 0.4 1.8 0.4 1.8 0.4 1.3 0.4 1.5 0.4 1.2 0.4 1.7 0.4 -0.7 0.4 0.9 0.4 -1.2 0.4 -0.5 0.4 1.1 0.4 0.6 0.4 -2.1 0.4 0.9 0.4 0.9 0.4 -0.6 0.4 -0 0.4 0.9 0.4 -0.3 0.4 0.1 0.4 -0.4 0.4 0.8 0.4 -0.4 0.4 1.7 0.4 -2.7 0.4 1.8 0.4 0.6 0.4 -1.3 0.4 1.2 0.4 -1.1 0.4 1.1 0.4 0.7 0.4 -1.6 0.4 1.8 0.4 -1.7 0.4 -1.6 0.4 1.2 0.4 0.4 0.4 0.1 0.4 -0.2 0.4 0.3 0.4 -0.5 0.4 1.2 0.4 -0.8 0.4 -0.4 0.4 1.5 0.4 -2.5 0.4 -0.4 0.4 0.9 0.4 -1 0.4 2 0.4 -0.6 0.4 1.9 0.4 -2.4 0.4 -0.1 0.4 1.4 0.4 -0 0.4 0 0.4 -0.9 0.4 -0 0.4 0.9 0.4 -0.6 0.4 0.6 0.4 0.4 0.4 -1.1 0.4 0.6 0.4 -1.9 0.4 2.6 0.4 -0.1 0.4 -1.1 0.4 -0.3 0.4 0.2 0.4 0 0.4 -0.3 0.4 -0.5 0.4 0.7 0.4 0.7 0.4 -2.4 0.4 1.1 0.4 -0.2 0.4 -0.2 0.4 0.9 0.4 -1.6 0.4 1.4 0.4 1 0.4 0.1 0.4 -0.2 0.4 -0.2 0.4 0.4 0.4 -0.5 0.4 0.3 0.4 0.1 0.4 0.6 0.4 -0.4 0.4 -0.1 0.4 -1.9 0.4 1.3 0.4 -0.1 0.4 -0.5 0.4 -0.3 0.4 1.3 0.4 -0.4 0.4 -0.3 0.4 -0.6 0.4 0.3 0.4 0.2 0.4 0.6 0.4 1 0.4 -1.1 0.4 -1.7 0.4 1.8 0.4 0 0.4 -1.1 0.4 -0.2 0.4 1 0.4 0.6 0.4 -0.3 0.4 0.9 0.4 -1.3 0.4 0.1 0.4 -0.6 0.4 1.3 0.4 -0.6 0.4 0.2 0.4 -2.1 0.4 0.1 0.4 1.5 0.4 0.1 0.4 -0.9 0.4 0.1 0.4 0.7 0.4 -1.2 0.4 0.7 0.4 -0.7 0.4 0.3 0.4 1.1 0.4 -1.9 0.4 0.8 0.4 -0.9 0.4 1.8 0.4 -0.1 0.4 1.2 0.4 -2.3 0.4 0.1 0.4 0.1 0.4 -0.9 0.4 -1.2 0.4 0.6 0.4 -2.8 0.4 1.6 0.4 -1.1 0.4 -0 0.4 -0 0.4 1.4 0.4 -0.6 0.4 1.4 0.4 1.8 0.4 -1.3 0.4 1.2 0.4 0 0.4 -0.1 0.4 1.7 0.4 0.6 0.4 -1.4 0.4 0.4 0.4 -0.3 0.4 -0.6 0.4 0.9 0.4 -2.3 0.4 2.3 0.4 -1.8 0.4 1.5 0.4 -1.2 0.4 -0.7 0.4 -1.4 0.4 0.1 0.4 1.3 0.4 -1.1 0.4 1.1 0.4 -1.7 0.4 1.7 0.4 -0.8 0.4 0.3 0.4 -0.8 0.4 0.5 0.4 1 0.4 -0 0.4 -0.6 0.4 1.2 0.4 -0.9 0.4 2.9 0.4 -0.8 0.4 -0.5 0.4 0.3 0.4 -0.5 0.4 0.9 0.4 -1.4 0.4 1.5 0.4 1.3 0.4 -2.7 0.4 1.6 0.4 -0.5 0.4 0.4 0.4 -0.7 0.4 1.6 0.4 -1.6 0.4 1.8 0.4 0.1 0.4 -0.6 0.4 0.4 0.4 -1.8 0.4 1 0.4 -0.9 0.4 1.9 0.4 0.4 0.4 -2 0.4 1.2 0.4 -0.4 0.4 -1.3 0.4 1.1 0.4 0.3 0.4 0.7 0.4 -0.8 0.4 0.5 0.4 1 0.4 -0.5 0.4 -1.4 0.4 0.9 0.4 0.9 0.4 0.3 0.4 -1 0.4 0.3 0.4 -0.1 0.4 0.8 0.4 -0.7 0.4 0.1 0.4 -1.4 0.4 0.4 0.4 -0.8 0.4 0.4 0.4 0.9 0.4 0.5 0.4 -0.1 0.4 -0.4 0.4 1.1 0.4 -2.5 0.4 0.9 0.4 1.1 0.4 -0.8 0.4 -0.1 0.4 0.6 0.4 -1.2 0.4 0 0.4 0.3 0.4 1.6 0.4 -2.3 0.4 0.4 0.4 1.9 0.4 -1.3 0.4 -0.6 0.4 -1.3 0.4 1.3 0.4 -0.2 0.4 0.5 0.4 -1.5 0.4 -0.1 0.4 0.9 0.4 -1.6 0.4 1.7 0.4 -1.6 0.4 0.2 0.4 -0.9 0.4 1.4 0.4 -1.8 0.4 1.2 0.4 -1.5 0.4 0.6 0.4 -0.9 0.4 1.3 0.4 0.8 0.4 -1.3 0.4 2 0.4 -0.9 0.4 -0.3 0.4 1.1 0.4 -0.2 0.4 0.8 0.4 -0.3 0.4 -0.7 0.4 2.1 0.4 -0.8 0.4 -0.7 0.4 0.4 0.4 -1.9 0.4 0.3 0.4 0.1 0.4 -0.1 0.4 -1.5 0.4 -0.2 0.4 -2.5 0.4 0.8 0.4 0.2 0.4 0 0.4 -1.9 0.4 2 0.4 0.5 0.4 -0.9 0.4 -0.8 0.4 2.4 0.4 0.7 0.4 -0 0.4 2 0.4 1 0.4 -1.4 0.4 0.4 0.4 1.2 0.4 0.8 0.4 -1.9 0.4 0.3 0.4 0.3 0.4 -0.4 0.4 0.3 0.4 0.9 0.4 -1.3 0.4 1.1 0.4 -0.4 0.4 -0.1 0.4 -0.8 0.4 1.3 0.4 0.3 0.4 -1 0.4 1.3 0.4 0 0.4 -0.6 0.4 -0.8 0.4 0.5 0.4 0.7 0.4 -0 0.4 -0.7 0.4 -0.1 0.4 0.7 0.4 -0.1 0.4 0.3 0.4 -1.5 0.4 0.7 0.4 0.7 0.4 -1.2 0.4 0.6 0.4 -0.6 0.4 1.2 0.4 0.3 0.4 -1.3 0.4 1.9 0.4 -0.8 0.4 -0.7 0.4 0.7 0.4 -0.7 0.4 1.1 0.4 -0.7 0.4 -0.5 0.4 0.5 0.4 -0.7 0.4 -0.6 0.4 0.5 0.4 1.4 0.4 -0.8 0.4 0.7 0.4 -0.6 0.4 0.3 0.4 0.2 0.4 0.4 0.4 -1.3 0.4 0.1 0.4 0.6 0.4 1.1 0.4 -0.9 0.4 -0.4 0.4 0 0.4 -0 0.4 -0.3 0.4 1 0.4 0.7 0.4 -1.1 0.4 -1.3 0.4 -0.3 0.4 2.6 0.4 -2.6 0.4 2.6 0.4 -1.1 0.4 -0.5 0.4 0.7 0.4 -0.6 0.4 1.1 0.4 -1.6 0.4 0.6 0.4 -0.6 0.4 0.7 0.4 0.2 0.4 -1.5 0.4 -0.2 0.4 1.8 0.4 -0.1 0.4 -0.2 0.4 -0.7 0.4 -0.3 0.4 0.2 0.4 0.7 0.4 -0.6 0.4 0.1 0.4 1 0.4 0.9 0.4 0.3 0.4 -1.2 0.4 0.7 0.4 -0.4 0.4 -0.1 0.4 -0.3 0.4 -0.4 0.4 0 0.4 0.5 0.4 0.8 0.4 -2 0.4 0.6 0.4 -0.4 0.4 1.3 0.4 1 0.4 -1 0.4 -1.2 0.4 1.3 0.4 1.2 0.4 -1.9 0.4 -0.8 0.4 0.1 0.4 1.8 0.4 -1.7 0.4 2.5 0.4 -2.6 0.4 1.3 0.4 -0.8 0.4 1.5 0.4 -0.4 0.4 0.2 0.4 0 0.4 -1.1 0.4 0.7 0.4 -0.8 0.4 0.4 0.4 0.4 0.4 -0.5 0.4 -0.7 0.4 0 0.4 0.1 0.4 -0 0.4 -0.1 0.4 1.7 0.4 -0.4 0.4 -0.4 0.4 0.8 0.4 -0.6 0.4 -0.7 0.4 1.2 0.4 -0.4 0.4 -1.8 0.4 2.9 0.4 -1.5 0.4 -1.1 0.4 2.1 0.4 -0.8 0.4 -0.1 0.4 0.9 0.4 -0.5 0.4 -0.3 0.4 -0.1 0.4 -0.1 0.4 -0.1 0.4 -0.8 0.4 1.8 0.4 -0.7 0.4 -0 0.4 0.6 0.4 -1 0.4 0.2 0.4 0.7 0.4 -0.6 0.4 -0.7 0.4 0 0.4 2.1 0.4 -1.8 0.4 1.7 0.4 -1.9 0.4 0.7 0.4 -0.5 0.4 -0.5 0.4 0.5 0.4 1.7 0.4 -2 0.4 -0.1 0.4 0.9 0.4 -0.9 0.4 0.1 0.4 -0.4 0.4 1.7 0.4 -0.1 0.4 -1.8 0.4 1.8 0.4 -0.6 0.4 0.1 0.4 -0.4 0.4 0.6 0.4 0.3 0.4 -0.9 0.4 0.5 0.4 0 0.4 -0.4 0.4 0.2 0.4 0.3 0.4 0.7 0.4 -1 0.4 0.5 0.4 0.7 0.4 0.3 0.4 -1.9 0.4 1.1 0.4 -0.4 0.4 -0.2 0.4 -0.2 0.4 1.5 0.4 -0.5 0.4 -0.9 0.4 0.2 0.4 -0.1 0.4 -0.1 0.4 0.7 0.4 -0.9 0.4 0.8 0.4 -1.4 0.4 1.2 0.4 -0.2 0.4 -0.3 0.4 0.8 0.4 -0.2 0.4 -0.2 0.4 1.1 0.4 -0.9 0.4 -0 0.4 -0.2 0.4 1 0.4 -0.1 0.4 -2.1 0.4 0.7 0.4 0.8 0.4 0.3 0.4 -0.3 0.4 -0.5 0.4 1 0.4 -1.3 0.4 0.4 0.4 -0.1 0.4 0.1 0.4 -0.6 0.4 0.4 0.4 0.7 0.4 0.2 0.4 -0.1 0.4 -0.2 0.4 -0.5 0.4 0.7 0.4 -0.5 0.4 0.2 0.4 0.2 0.4 -0.7 0.4 0.9 0.4 0.4 0.4 -1.8 0.4 0.8 0.4 -0 0.4 1.3 0.4 -1 0.4 0.3 0.4 0 0.4 -1 0.4 -0.3 0.4 1.6 0.4 0.1" fill="none" stroke="#000" stroke-width="4.0" stroke-linejoin="round" stroke-linecap="round"/>
<path d="M1443.2 691.6L1437.9 712.2L1448.5 712.2Z" fill="#858585"/><path d="M1443.2 711.2V753.6" stroke="#929292" stroke-width="1.4" fill="none"/>
<path d="M1472.8 694.3L1467.5 714.8L1478.1 714.8Z" fill="#858585"/><path d="M1472.8 713.8V756.3" stroke="#929292" stroke-width="1.4" fill="none"/>
<path d="M1491.9 683.4L1486.6 703.9L1497.2 703.9Z" fill="#858585"/><path d="M1491.9 702.9V745.4" stroke="#929292" stroke-width="1.4" fill="none"/>
<path d="M1690.9 700.1L1685.6 720.4L1696.2 720.4Z" fill="#858585"/><path d="M1690.9 719.4V762.1" stroke="#929292" stroke-width="1.4" fill="none"/>
<path d="M1819.1 708.6L1813.8 729.1L1824.4 729.1Z" fill="#858585"/><path d="M1819.1 728.1V770.5" stroke="#929292" stroke-width="1.4" fill="none"/>
<path d="M1177.9 976.7l0.4 1.2 0.4 -3 0.4 3 0.4 0.4 0.4 -2.5 0.4 1 0.4 -0.4 0.4 -1.1 0.4 -0.8 0.4 -1.7 0.4 4.7 0.4 -2.1 0.4 2.9 0.4 -1.9 0.4 -0.9 0.4 -1.5 0.4 2.6 0.4 -2.8 0.4 2.6 0.4 -2.9 0.4 0.6 0.4 -2.6 0.4 4.9 0.4 -3.1 0.4 -0.4 0.4 1.6 0.4 -2.4 0.4 2.3 0.4 -2.7 0.4 2.3 0.4 -2.3 0.4 -1.2 0.4 1.7 0.4 -1.3 0.4 2.7 0.4 -0.8 0.4 0.6 0.4 -0.6 0.4 -0.7 0.4 0.6 0.4 1.4 0.4 -1.7 0.4 -0.7 0.4 -0.2 0.4 1.1 0.4 -0.7 0.4 3.7 0.4 -4.2 0.4 0.2 0.4 1.1 0.4 1.4 0.4 -1.1 0.4 -0.9 0.4 0.4 0.4 0.7 0.4 2 0.4 -2.5 0.4 1.3 0.4 -0.5 0.4 1.4 0.4 0.3 0.4 -2.3 0.4 5 0.4 -2.3 0.4 -0.8 0.4 -0.2 0.4 1.1 0.4 0.7 0.4 1.1 0.4 -0.4 0.4 1 0.4 -2.6 0.4 1.5 0.4 -0.1 0.4 1.8 0.4 0.6 0.4 -2.5 0.4 1.9 0.4 1.4 0.4 0.4 0.4 -2.6 0.4 2.4 0.4 -0.1 0.4 -0.9 0.4 3.5 0.4 -4 0.4 1.3 0.4 1.2 0.4 -0.1 0.4 -0.3 0.4 2.3 0.4 0.3 0.4 -0.5 0.4 0.3 0.4 -1.2 0.4 -1.3 0.4 4.5 0.4 -3.9 0.4 4.2 0.4 -2.8 0.4 0.7 0.4 -0.4 0.4 1.8 0.4 -1.6 0.4 3.5 0.4 -1.3 0.4 -0.1 0.4 -0.6 0.4 1.5 0.4 -0.1 0.4 2.8 0.4 -1.1 0.4 -3.2 0.4 4.2 0.4 -4.7 0.4 5 0.4 -4.4 0.4 2.7 0.4 1.4 0.4 -0.8 0.4 -1.2 0.4 3.3 0.4 -3.8 0.4 0.6 0.4 3.8 0.4 -2.9 0.4 1.6 0.4 0.8 0.4 -1.1 0.4 0.5 0.4 -0.1 0.4 0.1 0.4 1.3 0.4 -0.4 0.4 -0.9 0.4 0.8 0.4 -2 0.4 -0.4 0.4 -0.3 0.4 2.4 0.4 1.1 0.4 -1.9 0.4 -2.7 0.4 2 0.4 1.4 0.4 -0.1 0.4 -0.2 0.4 1.3 0.4 0.1 0.4 -2.8 0.4 2.5 0.4 -1.4 0.4 1.5 0.4 1.5 0.4 1 0.4 -1.3 0.4 -1.4 0.4 0.4 0.4 1.3 0.4 -1.8 0.4 1.3 0.4 1 0.4 0.5 0.4 -1.6 0.4 0.9 0.4 1.3 0.4 -1.5 0.4 -2.7 0.4 2.4 0.4 -0 0.4 -1 0.4 0.5 0.4 -2 0.4 3.5 0.4 -1 0.4 -1.3 0.4 1 0.4 -0.2 0.4 -1.4 0.4 -1.7 0.4 -0.2 0.4 5.2 0.4 -4.3 0.4 0.8 0.4 0.9 0.4 -1.4 0.4 1.8 0.4 -3 0.4 1.8 0.4 -3.6 0.4 3.5 0.4 -0.3 0.4 -0.6 0.4 -0.4 0.4 -0.6 0.4 0.2 0.4 -0.6 0.4 -3.3 0.4 1.6 0.4 -3.6 0.4 0.5 0.4 -1.5 0.4 -0.1 0.4 -2.1 0.4 -0.2 0.4 -2.4 0.4 -2 0.4 1 0.4 -2.4 0.4 -2.1 0.4 -1.8 0.4 -4.8 0.4 -0.6 0.4 -5.1 0.4 -2 0.4 -4.9 0.4 -10.4 0.4 -13.7 0.4 -15.8 0.4 -18.7 0.4 -20.4 0.4 -16.5 0.4 -11.2 0.4 -7.7 0.4 -2.3 0.4 6.4 0.4 10 0.4 15 0.4 24.2 0.4 20.4 0.4 14 0.4 13.4 0.4 11.2 0.4 7.6 0.4 3.4 0.4 1.1 0.4 2.6 0.4 3 0.4 2.6 0.4 1.3 0.4 2 0.4 2.3 0.4 0.8 0.4 0 0.4 -1.1 0.4 1.3 0.4 1.8 0.4 0.9 0.4 0.7 0.4 -2.3 0.4 1.3 0.4 -0.5 0.4 -0.7 0.4 1.7 0.4 -0.6 0.4 4.2 0.4 -0.9 0.4 -1.3 0.4 1 0.4 0.4 0.4 1.6 0.4 -1.4 0.4 0.8 0.4 -1.5 0.4 0.7 0.4 -0.2 0.4 -1 0.4 -1.6 0.4 0.8 0.4 -2.4 0.4 1.7 0.4 -2.7 0.4 -1 0.4 2.6 0.4 -3.3 0.4 -0 0.4 -2.6 0.4 -1.1 0.4 -1.5 0.4 -3 0.4 -0.1 0.4 -5.2 0.4 -3.9 0.4 -1.1 0.4 -4.9 0.4 -9.2 0.4 -6.3 0.4 -14.4 0.4 -17.3 0.4 -15.5 0.4 -16.9 0.4 -15.4 0.4 -9.6 0.4 -7.5 0.4 -5.5 0.4 -2.1 0.4 4.9 0.4 9.3 0.4 11.4 0.4 17.5 0.4 20.4 0.4 19.3 0.4 19 0.4 17 0.4 8.7 0.4 5.5 0.4 2.4 0.4 2.6 0.4 0.1 0.4 3.7 0.4 -0.6 0.4 -0.2 0.4 2.8 0.4 -0.2 0.4 -0.1 0.4 -0.1 0.4 -0.6 0.4 0.9 0.4 -0.9 0.4 0.4 0.4 -0.1 0.4 -2.3 0.4 -1 0.4 0 0.4 -4 0.4 -1.5 0.4 -2.7 0.4 -9.5 0.4 -8 0.4 -8.9 0.4 -10.8 0.4 -9.2 0.4 -6.9 0.4 -4.6 0.4 -3.8 0.4 -0.8 0.4 2.7 0.4 4.6 0.4 6.2 0.4 8.8 0.4 10.9 0.4 9.4 0.4 7.1 0.4 6.4 0.4 5.6 0.4 3.3 0.4 2.9 0.4 2.1 0.4 -0.3 0.4 1.5 0.4 1.5 0.4 3.7 0.4 0.1 0.4 -0.3 0.4 0.6 0.4 1.1 0.4 2.1 0.4 -0.7 0.4 1.9 0.4 2.1 0.4 -1.5 0.4 1.8 0.4 -2.4 0.4 2.6 0.4 0.3 0.4 -1.1 0.4 3 0.4 -1.4 0.4 -0.5 0.4 0.7 0.4 1.6 0.4 -2.5 0.4 1.9 0.4 -1.2 0.4 1.4 0.4 -1 0.4 0.3 0.4 0.7 0.4 -1.2 0.4 0.1 0.4 -0.4 0.4 -0.9 0.4 -1 0.4 -1 0.4 -0.1 0.4 -0.4 0.4 -1.4 0.4 -3.2 0.4 -6.9 0.4 -2.6 0.4 -3.8 0.4 -3.2 0.4 -4.1 0.4 -7 0.4 -2 0.4 -5.7 0.4 -0.8 0.4 -1.9 0.4 -0.8 0.4 1.6 0.4 -3 0.4 -0.1 0.4 1 0.4 1.7 0.4 -2 0.4 4 0.4 -1.7 0.4 -0.3 0.4 -1.8 0.4 -4.5 0.4 -4.5 0.4 -6.1 0.4 -6.5 0.4 -4.7 0.4 -3.1 0.4 -2 0.4 -1.2 0.4 0.8 0.4 3.3 0.4 3.9 0.4 6.2 0.4 8.6 0.4 10.4 0.4 8.6 0.4 9.9 0.4 6.6 0.4 4.8 0.4 5.2 0.4 3.9 0.4 2.6 0.4 -0.5 0.4 4.6 0.4 2.5 0.4 2 0.4 1.9 0.4 2.1 0.4 2.7 0.4 -0 0.4 -0 0.4 0.6 0.4 2.9 0.4 -1.3 0.4 3.6 0.4 -0.5 0.4 0.7 0.4 1.4 0.4 -0.3 0.4 1.5 0.4 -1.9 0.4 -0.4 0.4 4.5 0.4 -1.8 0.4 -2.3 0.4 4.5 0.4 -3.2 0.4 4.1 0.4 -0 0.4 -0.8 0.4 -0.8 0.4 -0.7 0.4 2.2 0.4 -1.3 0.4 1.8 0.4 -1.4 0.4 -1.4 0.4 1.1 0.4 0.9 0.4 -0.5 0.4 0.8 0.4 -1.1 0.4 2.8 0.4 -2.3 0.4 1.1 0.4 -2.4 0.4 2.8 0.4 0.9 0.4 -1 0.4 -0.9 0.4 -0.7 0.4 1.7 0.4 0 0.4 -2 0.4 1.5 0.4 0.7 0.4 -1.3 0.4 1.6 0.4 -0.7 0.4 2.1 0.4 -2.8 0.4 2.2 0.4 -0.2 0.4 -2 0.4 1.2 0.4 0.2 0.4 1.9 0.4 -1.3 0.4 0.3 0.4 -0.1 0.4 0.8 0.4 -3 0.4 -1 0.4 -4.2 0.4 -3.2 0.4 -1.5 0.4 -2 0.4 -1.5 0.4 -1.7 0.4 -1 0.4 -0.1 0.4 1.1 0.4 2.7 0.4 3.8 0.4 2.3 0.4 3.3 0.4 2.2 0.4 2.7 0.4 1.6 0.4 1.5 0.4 1.1 0.4 0.2 0.4 -0.8 0.4 0.6 0.4 -1.9 0.4 -0.9 0.4 3.2 0.4 1.1 0.4 -1.6 0.4 -1.1 0.4 0.7 0.4 1.3 0.4 -2.4 0.4 1.4 0.4 0.7 0.4 -1.6 0.4 3.5 0.4 -1.2 0.4 1.1 0.4 -2.8 0.4 1.5 0.4 1.4 0.4 -1.2 0.4 0.8 0.4 -3.4 0.4 1.6 0.4 -2 0.4 1.2 0.4 0.4 0.4 -0.7 0.4 -1.3 0.4 0.7 0.4 -0.9 0.4 -2.4 0.4 -5.8 0.4 -10 0.4 -11.2 0.4 -13.5 0.4 -11.9 0.4 -5.6 0.4 -2.7 0.4 2.6 0.4 7.5 0.4 11.9 0.4 18.7 0.4 11.4 0.4 6.7 0.4 3.3 0.4 0.1 0.4 0.7 0.4 0.2 0.4 0.4 0.4 -1.9 0.4 1.1 0.4 -1.1 0.4 -0.3 0.4 1.6 0.4 -1.1 0.4 -0.9 0.4 1 0.4 -1.7 0.4 -1.4 0.4 1.6 0.4 -2 0.4 -0 0.4 0.5 0.4 0.4 0.4 1.2 0.4 -1.1 0.4 -1.3 0.4 1.6 0.4 1.2 0.4 -0.2 0.4 0.4 0.4 -0.8 0.4 1.2 0.4 1.4 0.4 0.3 0.4 -1.1 0.4 0.5 0.4 0 0.4 2.2 0.4 -1.4 0.4 0.7 0.4 -0.3 0.4 0.2 0.4 1 0.4 1.3 0.4 -1.2 0.4 2.1 0.4 -0.9 0.4 1.1 0.4 1.7 0.4 0.3 0.4 -1.6 0.4 0.1 0.4 -0 0.4 1.1 0.4 -2.4 0.4 1.4 0.4 0.8 0.4 -0.4 0.4 -0 0.4 2.5 0.4 -2.6 0.4 1.3 0.4 0 0.4 0.3 0.4 -0.4 0.4 1.9 0.4 -0.9 0.4 1.9 0.4 -3.1 0.4 1.5 0.4 -1.4 0.4 1.6 0.4 0.9 0.4 -2.3 0.4 2.2 0.4 -1.8 0.4 -0.4 0.4 1.4 0.4 0.4 0.4 -0.7 0.4 -0 0.4 -0.5 0.4 -0.6 0.4 -1.7 0.4 1.6 0.4 -0.4 0.4 1.2 0.4 -1.5 0.4 2.7 0.4 -1.5 0.4 -1.1 0.4 0.6 0.4 -1.4 0.4 0.4 0.4 -2.7 0.4 -0.2 0.4 -3.6 0.4 -2.8 0.4 -4.2 0.4 -5.5 0.4 -8.1 0.4 -10.2 0.4 -9.3 0.4 -5.3 0.4 -3.7 0.4 -2.3 0.4 2.5 0.4 6 0.4 7.2 0.4 11.6 0.4 12.4 0.4 7.1 0.4 3.7 0.4 4.2 0.4 1.4 0.4 1 0.4 1.3 0.4 -1.1 0.4 -0.7 0.4 0.4 0.4 0.8 0.4 -0.9 0.4 -0.2 0.4 1.1 0.4 -1 0.4 3 0.4 -2.7 0.4 1.4 0.4 -2.2 0.4 1.1 0.4 1.1 0.4 -0.3 0.4 0.1 0.4 -1.2 0.4 0.8 0.4 -0.4 0.4 -1.2 0.4 2.5 0.4 -1.8 0.4 0.4 0.4 1 0.4 -0.3 0.4 1.4 0.4 -2.2 0.4 1.4 0.4 -1.5 0.4 0.1 0.4 1.2 0.4 -0.3 0.4 -1.1 0.4 0.5 0.4 0.4 0.4 1.5 0.4 -2.3 0.4 0.9 0.4 0.4 0.4 -0.5 0.4 -0.6 0.4 1.2 0.4 -1.5 0.4 2.5 0.4 -3.3 0.4 0.1 0.4 0.9 0.4 -2.2 0.4 -3.9 0.4 -5 0.4 -4.9 0.4 -7.2 0.4 -9.5 0.4 -7.7 0.4 -4.8 0.4 -2.7 0.4 2.3 0.4 6.7 0.4 8.4 0.4 11.4 0.4 9.9 0.4 3.3 0.4 1.2 0.4 1.2 0.4 1.6 0.4 0.2 0.4 0.6 0.4 0.4 0.4 0.2 0.4 -0.6 0.4 1.1 0.4 1.6 0.4 -1.9 0.4 0.1 0.4 0.5 0.4 -0 0.4 1.7 0.4 -1.8 0.4 1.4 0.4 -0.5 0.4 -0.3 0.4 -0.4 0.4 -0.8 0.4 -0.4 0.4 0 0.4 -3.8 0.4 1.5 0.4 -0 0.4 -2.5 0.4 -0.3 0.4 -0.2 0.4 -3.5 0.4 -0.7 0.4 -5.9 0.4 -5.7 0.4 -7.4 0.4 -8.9 0.4 -13.7 0.4 -13.9 0.4 -10.2 0.4 -6.5 0.4 -2.5 0.4 5 0.4 8.5 0.4 11.9 0.4 16.6 0.4 15.1 0.4 8.1 0.4 7 0.4 4.2 0.4 3.9 0.4 0.4 0.4 0.1 0.4 2.6 0.4 -0.8 0.4 1.6 0.4 -0.4 0.4 1.8 0.4 0.5 0.4 -1.2 0.4 0.4 0.4 -0.8 0.4 1.8 0.4 0.4 0.4 -0.4 0.4 1.5 0.4 -0.8 0.4 0.2 0.4 -0.5 0.4 -0.7 0.4 1.6 0.4 1 0.4 0.5 0.4 -0.8 0.4 -1.3 0.4 1.1 0.4 0.6 0.4 -1 0.4 0.8 0.4 -0.1 0.4 -0.1 0.4 -0.1 0.4 1.4 0.4 0.3 0.4 0.6 0.4 -1.4 0.4 0.3 0.4 -1.8 0.4 1.9 0.4 0.9 0.4 -2.1 0.4 1.2 0.4 -1.1 0.4 1 0.4 0.2 0.4 -2.1 0.4 0.5 0.4 0.1 0.4 0.5 0.4 1.5 0.4 -1.3 0.4 -0 0.4 -0.1 0.4 -1 0.4 1.5 0.4 -0.7 0.4 0.1 0.4 -0.6 0.4 -1.7 0.4 1.8 0.4 -1.2 0.4 -0.3 0.4 3 0.4 -1.1 0.4 -1.1 0.4 1.3 0.4 0.4 0.4 -0.6 0.4 -0.4 0.4 1.5 0.4 -0.1 0.4 0.1 0.4 -2.1 0.4 2.2 0.4 1.6 0.4 -2.9 0.4 0.7 0.4 -0.3 0.4 0.3 0.4 0.4 0.4 2.1 0.4 -2.2 0.4 1.9 0.4 -2.4 0.4 1.7 0.4 -0.6 0.4 -0.3 0.4 0.8 0.4 1.1 0.4 -0.9 0.4 0.3 0.4 -0.6 0.4 0.4 0.4 -0.1 0.4 0.4 0.4 -1 0.4 -0.5 0.4 -0 0.4 -0.2 0.4 0.9 0.4 -1.5 0.4 1.2 0.4 -0.6 0.4 0.7 0.4 -1.2 0.4 0.7 0.4 -0.9 0.4 -0.8 0.4 -1.4 0.4 -0.3 0.4 -1.4 0.4 -1.4 0.4 -0 0.4 -1.1 0.4 3.5 0.4 0.8 0.4 -0.8 0.4 0 0.4 2.5 0.4 0.7 0.4 -1.2 0.4 -0.7 0.4 1.6 0.4 -0.7 0.4 -0.1 0.4 0.5 0.4 -2.1 0.4 -0 0.4 1.5 0.4 -1.3 0.4 0.9 0.4 -4.2 0.4 0.3 0.4 1.8 0.4 -0.3 0.4 -1.8 0.4 -0 0.4 -0.2 0.4 1.1 0.4 -2.3 0.4 0.9 0.4 -1.2 0.4 -1.9 0.4 1.6 0.4 0.8 0.4 -2.5 0.4 0.4 0.4 -1.1 0.4 -0.4 0.4 -1.4 0.4 1.5 0.4 -1.4 0.4 1.7 0.4 1.2 0.4 0.6 0.4 -0.3 0.4 1.2 0.4 -0.3 0.4 2.2 0.4 -1.5 0.4 3.4 0.4 -1.1 0.4 -0.7 0.4 2 0.4 -2.3 0.4 2.3 0.4 -1.4 0.4 1 0.4 -0.3 0.4 0.1 0.4 0.5 0.4 1 0.4 -0.3 0.4 2.3 0.4 -1.5 0.4 -1.8 0.4 1.4 0.4 0.4 0.4 0.4 0.4 -0 0.4 -2.2 0.4 1.1 0.4 -1.2 0.4 0.8 0.4 -0.3 0.4 1.6 0.4 0 0.4 0.9 0.4 -1.8 0.4 0.8 0.4 1.1 0.4 -0 0.4 0.6 0.4 1.7 0.4 2.2 0.4 -1.2 0.4 1.6 0.4 -2.5 0.4 3.6 0.4 0.5 0.4 -1.7 0.4 -0.3 0.4 1.3 0.4 -1.9 0.4 2.1 0.4 -1.8 0.4 3.4 0.4 -1.4 0.4 -0.6 0.4 -1.1 0.4 3.3 0.4 -1.3 0.4 -0.7 0.4 1.6 0.4 -2.4 0.4 2.2 0.4 0.1 0.4 -1.6 0.4 1.3 0.4 0.4 0.4 -2.3 0.4 -0 0.4 1.4 0.4 -0.1 0.4 -1.4 0.4 -1.3 0.4 0.5 0.4 2.7 0.4 -1.7 0.4 -0.4 0.4 1.3 0.4 -2 0.4 3.6 0.4 -3.8 0.4 1.6 0.4 0.5 0.4 0.2 0.4 -1.7 0.4 0.6 0.4 1.2 0.4 -0.9 0.4 0.4 0.4 -0.6 0.4 -0.1 0.4 -1.1 0.4 -0.4 0.4 0.8 0.4 -0.9 0.4 2.3 0.4 -0.7 0.4 0.4 0.4 -2.6 0.4 0.1 0.4 1.8 0.4 -0.5 0.4 -0 0.4 0.6 0.4 -1.9 0.4 -0.3 0.4 0.2 0.4 2.1 0.4 -1.9 0.4 -0.7 0.4 0.8 0.4 -1 0.4 -0.9 0.4 -2.2 0.4 -3 0.4 -1.8 0.4 -1.7 0.4 -1.5 0.4 -0.6 0.4 0.5 0.4 2 0.4 2.1 0.4 2.2 0.4 1.7 0.4 1.9 0.4 2.3 0.4 0.7 0.4 1.4 0.4 1.7 0.4 -2.1 0.4 1.7 0.4 0.1 0.4 -0 0.4 1.1 0.4 1.2 0.4 -1.7 0.4 0.1 0.4 0.8 0.4 -1.6 0.4 1 0.4 0.7 0.4 0.1 0.4 -0.7 0.4 1.8 0.4 -1.9 0.4 0.6 0.4 -0.2 0.4 1.4 0.4 0.4 0.4 -0.8 0.4 1.1 0.4 -1.4 0.4 0.4 0.4 0.2 0.4 -0.2 0.4 0.2 0.4 -1.1 0.4 -0.9 0.4 1.4 0.4 0.2 0.4 0.1 0.4 -0.7 0.4 -0.2 0.4 3 0.4 -1.1 0.4 -0.4 0.4 -0.2 0.4 -0.7 0.4 0.5 0.4 1.1 0.4 -0.1 0.4 -1.4 0.4 0.1 0.4 -0 0.4 -0.2 0.4 1.5 0.4 -0.2 0.4 -0.3 0.4 -0.9 0.4 1.7 0.4 -1.2 0.4 -2 0.4 3.1 0.4 -1 0.4 -0.8 0.4 1.8 0.4 -3 0.4 1.4 0.4 1.3 0.4 -1.2 0.4 2.7 0.4 -0 0.4 -1.5 0.4 -0 0.4 1.4 0.4 -1 0.4 -1.5 0.4 0.8 0.4 -0.5 0.4 1.4 0.4 -0.3 0.4 1.2 0.4 -1 0.4 -1 0.4 -0.3 0.4 2.4 0.4 -0.2 0.4 -2 0.4 -0.7 0.4 -0.1 0.4 2.2 0.4 -1.3 0.4 1.9 0.4 -2.2 0.4 0.1 0.4 -0.1 0.4 0.8 0.4 1 0.4 -2.5 0.4 1.7 0.4 0.6 0.4 -1.4 0.4 -0.1 0.4 1.5 0.4 -1.5 0.4 0.3 0.4 -0.6 0.4 0.4 0.4 0.7 0.4 0 0.4 -0.6 0.4 0.3 0.4 -1.3 0.4 3.1 0.4 -2.8 0.4 1.5 0.4 -1.1 0.4 0.8 0.4 -1.9 0.4 1.3 0.4 -0.5 0.4 1.3 0.4 -0.2 0.4 -1 0.4 -0.2 0.4 1.2 0.4 -0.9 0.4 1 0.4 -0.3 0.4 -0.7 0.4 0.2 0.4 -1.4 0.4 1.7 0.4 -0.2 0.4 0.3 0.4 1.4 0.4 -1 0.4 -0 0.4 0.1 0.4 -0.2 0.4 1.9 0.4 -1.2 0.4 1.3 0.4 -0.5 0.4 -1.3 0.4 0.8 0.4 0.7 0.4 -1.4 0.4 0.3 0.4 -0.4 0.4 -0 0.4 0.8 0.4 -1.4 0.4 0.4 0.4 0.4 0.4 -1.7 0.4 1.4 0.4 0 0.4 -0.3 0.4 -2.2 0.4 -2.2 0.4 -1.4 0.4 -2.6 0.4 -1.7 0.4 -2.4 0.4 -2.3 0.4 -1.5 0.4 -0.4 0.4 1.5 0.4 2.3 0.4 2.5 0.4 3.3 0.4 2.2 0.4 2.3 0.4 1.3 0.4 1.8 0.4 0.7 0.4 1.5 0.4 -0.9 0.4 0.2 0.4 -0.3 0.4 -0.9 0.4 1.9 0.4 1.1 0.4 -2 0.4 -0.5 0.4 0.1 0.4 0.1 0.4 -0.8 0.4 0.8 0.4 0.1 0.4 -1.1 0.4 1.6 0.4 -0.8 0.4 -0.7 0.4 1 0.4 1.4 0.4 -0.3 0.4 -0.2 0.4 -0.1 0.4 -0.2 0.4 -0.2 0.4 0.1 0.4 0.9 0.4 -2.1 0.4 1 0.4 -2 0.4 1.6 0.4 0.4 0.4 -1.9 0.4 1.3 0.4 -2.9 0.4 1.5 0.4 -2.3 0.4 -0.4 0.4 -1.5 0.4 -0.4 0.4 -1.7 0.4 -1.4 0.4 -3 0.4 -3.5 0.4 -4.8 0.4 -4 0.4 -2.9 0.4 -1.6 0.4 -1.3 0.4 -0.1 0.4 2 0.4 3.3 0.4 3.6 0.4 3.5 0.4 5.1 0.4 4.6 0.4 2 0.4 0.9 0.4 3.2 0.4 0.4 0.4 0.6 0.4 0.9 0.4 0.4 0.4 0.1 0.4 0.9 0.4 -0.2 0.4 -0.4 0.4 0.9 0.4 0.6 0.4 0 0.4 -1.9 0.4 1 0.4 0.5 0.4 -0.4 0.4 -0.2 0.4 1.1 0.4 -0.8 0.4 0.1 0.4 -1.8 0.4 0.1 0.4 0.8 0.4 0.7 0.4 0.7 0.4 -1.3 0.4 2.2 0.4 -1.1 0.4 -0.4 0.4 1.2 0.4 0.7 0.4 -1.1 0.4 0.1 0.4 0.3 0.4 0.4 0.4 -0.8 0.4 0.2 0.4 0.1 0.4 -0.3 0.4 0.5 0.4 -1 0.4 -1.1 0.4 1.2 0.4 0.1 0.4 2 0.4 -0.8 0.4 -0.6 0.4 -0.8 0.4 -0.7 0.4 0.4 0.4 1 0.4 -0.6 0.4 -0.9 0.4 1 0.4 -0.8 0.4 0.9 0.4 1.2 0.4 -0.9 0.4 -2.6 0.4 2.8 0.4 -1.4 0.4 0.6 0.4 0.1 0.4 -0.1 0.4 -1.8 0.4 2.7 0.4 -1.9 0.4 0.1 0.4 1 0.4 0.5 0.4 -1.1 0.4 -0.8 0.4 1.8 0.4 -0.6 0.4 1 0.4 0.4 0.4 -2.2 0.4 0.1 0.4 1 0.4 -0.6 0.4 2.3 0.4 -1.4 0.4 0 0.4 0.1 0.4 1.1 0.4 -1 0.4 0.3 0.4 -1.4 0.4 1.2 0.4 -1 0.4 -0.2 0.4 -0.1 0.4 1.6 0.4 -1.3 0.4 0.6 0.4 -0.2 0.4 0.3 0.4 -0.9 0.4 -0.7 0.4 0.9 0.4 0.3 0.4 -0.9 0.4 0.6 0.4 0.5 0.4 -2.4 0.4 3 0.4 -0.5 0.4 -0.6 0.4 0.8 0.4 -2.7 0.4 1.9 0.4 0.3 0.4 0.2 0.4 0 0.4 1.3 0.4 -1 0.4 -1.1 0.4 -0.8 0.4 0.4 0.4 0.5 0.4 0.5 0.4 -0.3 0.4 0.2 0.4 -0.8 0.4 0 0.4 0.7 0.4 -0.7 0.4 -0.4 0.4 0.1 0.4 0.7 0.4 -0.9 0.4 0.1 0.4 1.4 0.4 -1.9 0.4 -0.3 0.4 -0.1 0.4 -0.4 0.4 -1.6 0.4 -2.8 0.4 -0 0.4 -2.9 0.4 -1.5 0.4 -0.9 0.4 -0.7 0.4 -1.3 0.4 -0.9 0.4 0.1 0.4 0.6 0.4 2.1 0.4 1.5 0.4 2.2 0.4 1.4 0.4 1.2 0.4 1.6 0.4 1.9 0.4 0.7 0.4 0.9 0.4 0 0.4 0.4 0.4 -0.4 0.4 0.4 0.4 0.7 0.4 0 0.4 -2.2 0.4 0.1 0.4 0.3 0.4 -0.6 0.4 -1 0.4 -1.4 0.4 1.6 0.4 -1.2 0.4 2.1 0.4 -1.1 0.4 -0.9 0.4 -1.5 0.4 0.6 0.4 1.9 0.4 -1.1 0.4 1.1 0.4 1.3 0.4 0.8 0.4 -0.1 0.4 1.4 0.4 -1.3 0.4 1.9 0.4 0.1 0.4 1.5 0.4 -1.1 0.4 -2.2 0.4 3.1 0.4 0.4 0.4 -1.4 0.4 0.1 0.4 0.7 0.4 -1.4 0.4 -0 0.4 0.2 0.4 -2 0.4 1.3 0.4 1.1 0.4 -0 0.4 -1.9 0.4 1.2 0.4 -0.3 0.4 -0.2 0.4 1.4 0.4 -1.6 0.4 0.5 0.4 0.7 0.4 -1.5 0.4 0.8 0.4 -0.9 0.4 0.9 0.4 -0.1 0.4 0.7 0.4 -0.9 0.4 0.2 0.4 -1.1 0.4 0.8 0.4 -0.3 0.4 -0.3 0.4 0.7 0.4 0.2 0.4 -0.3 0.4 0.7 0.4 -1.7 0.4 -0.4 0.4 -1.4 0.4 2.4 0.4 -0.6 0.4 -0.2 0.4 -1.4 0.4 -0 0.4 -0 0.4 -0.7 0.4 1.5 0.4 -0.3 0.4 1.3 0.4 -0.8 0.4 -0.1 0.4 0.9 0.4 0.3 0.4 -1.3 0.4 -0.2 0.4 0.6 0.4 2.1 0.4 -0.1 0.4 0.8 0.4 -1 0.4 0.3 0.4 -0.7 0.4 2 0.4 -1.1 0.4 0.6 0.4 -1.1 0.4 -1.2 0.4 1.3 0.4 -2.4 0.4 1.7 0.4 -1.1 0.4 0.2 0.4 -1.7 0.4 0.7 0.4 -0.9 0.4 -0.6 0.4 1.2 0.4 -1.6 0.4 -1.6 0.4 -1.2 0.4 -0.7 0.4 -0.9 0.4 -1.2 0.4 -1.3 0.4 -1.9 0.4 2.4 0.4 1.6 0.4 2.2 0.4 1 0.4 1.1 0.4 0.9 0.4 0.2 0.4 2.8 0.4 -1.9 0.4 -0 0.4 1.1 0.4 0.1 0.4 0.3 0.4 -0.7 0.4 -0.5 0.4 -0.5 0.4 0.3 0.4 -0.8 0.4 -1.5 0.4 -2.3 0.4 -1.3 0.4 1 0.4 -1.8 0.4 -1 0.4 0.9 0.4 -1.2 0.4 -1.7 0.4 2 0.4 2.7 0.4 1.5 0.4 1.2 0.4 1.9 0.4 -1.7 0.4 2.6 0.4 -0.4 0.4 1.9 0.4 -0.6 0.4 -0.9 0.4 1.9 0.4 -1.6 0.4 3 0.4 -0.3 0.4 0.9 0.4 -0.6 0.4 -0.1 0.4 1.1 0.4 -0.6 0.4 -1.9 0.4 0.7 0.4 1.6 0.4 -2.3 0.4 -0 0.4 0.3 0.4 -0.5 0.4 1.4 0.4 -0.3 0.4 1.1 0.4 -1 0.4 1.6 0.4 -1.5 0.4 1 0.4 0.3 0.4 -0.7 0.4 -0.5 0.4 -0.9 0.4 0.1 0.4 1.3 0.4 -0.9 0.4 0.8 0.4 -1.2 0.4 0.5 0.4 0.1 0.4 0.5 0.4 -0.9 0.4 1 0.4 -1.9 0.4 0.4 0.4 1.2 0.4 -0.1 0.4 0.6 0.4 -1.7 0.4 1.7 0.4 -1.7 0.4 2.5 0.4 -1.7 0.4 0.2 0.4 0.8 0.4 -0.2 0.4 -0.8 0.4 0.2 0.4 1.5 0.4 -2.2 0.4 2.1 0.4 -1.7 0.4 -0.5 0.4 2.1 0.4 -0.5 0.4 -0.4 0.4 0.8 0.4 -0.9 0.4 -0.3 0.4 0.9 0.4 -0.2 0.4 -0.8 0.4 1.6 0.4 -0.7 0.4 1.1 0.4 0.3 0.4 -2.6 0.4 1.6 0.4 -0.1 0.4 -1.2 0.4 1.4 0.4 -2.3 0.4 0.8 0.4 1.6 0.4 -1.9 0.4 0.5 0.4 0.3 0.4 -1 0.4 0.4 0.4 0.8 0.4 -0.2 0.4 -0.2 0.4 1.3 0.4 -1.2 0.4 0.9 0.4 -0.5 0.4 -1.1 0.4 0.4 0.4 1.3 0.4 -1.6 0.4 1.4 0.4 0.4 0.4 -1.5 0.4 -0.5 0.4 2.4 0.4 0.5 0.4 -1.3 0.4 1.2 0.4 -0.9 0.4 -1 0.4 0.6 0.4 0.4 0.4 -2.3 0.4 2 0.4 0.8 0.4 -0.4 0.4 -0.8 0.4 0 0.4 -1.2 0.4 2.2 0.4 -2.4 0.4 2.3 0.4 -0.4 0.4 -0.6 0.4 0.7 0.4 0.3 0.4 -1.2 0.4 -0.7 0.4 1.9 0.4 -0.8 0.4 0.3 0.4 -1.1 0.4 2.1 0.4 -0.4 0.4 -1.9 0.4 -0.4 0.4 1.7 0.4 -0.4 0.4 -0.3 0.4 -0.1 0.4 0.5 0.4 0.3 0.4 0 0.4 1.3 0.4 -0.1 0.4 -3 0.4 2.4 0.4 0.4 0.4 -2.5 0.4 0.7 0.4 0.2 0.4 0.9 0.4 -0.3 0.4 -0 0.4 -0.1 0.4 0.6 0.4 -0.5 0.4 -1 0.4 0.1 0.4 0.3 0.4 2.1 0.4 -1.1 0.4 0.3 0.4 0.9 0.4 -1.1 0.4 -2 0.4 1.9 0.4 -0.8 0.4 -0 0.4 -0.2 0.4 0.4 0.4 -0.9 0.4 1.8 0.4 -0.3 0.4 -0.2 0.4 -0 0.4 -1.2 0.4 1.6 0.4 -1.5 0.4 -0.6 0.4 1.1 0.4 0.3 0.4 0 0.4 0.7 0.4 -1.2 0.4 1.2 0.4 0.2 0.4 -1 0.4 -1.2 0.4 1.9 0.4 -1.2 0.4 0.1 0.4 -1.3 0.4 -0.3 0.4 2.8 0.4 -0.5 0.4 -1.2 0.4 0.4 0.4 -0.5 0.4 1.1 0.4 -1.6 0.4 2.4 0.4 -0.3 0.4 0.6 0.4 -0.8 0.4 0.4 0.4 -0.2 0.4 0.1 0.4 -1 0.4 1.4 0.4 -2 0.4 0.6 0.4 0.4 0.4 1.8 0.4 -2.5 0.4 1.1 0.4 0.1 0.4 -1.7 0.4 3 0.4 -0.8 0.4 -0.5 0.4 -0.4 0.4 0.9 0.4 -2.3 0.4 3.1 0.4 -1.6 0.4 1.1 0.4 -1.7 0.4 0.3 0.4 -1.2 0.4 1.4 0.4 0.1 0.4 -0.5 0.4 1.8 0.4 -1.4 0.4 0.1 0.4 -0.7 0.4 1.3 0.4 -0.8 0.4 0.3 0.4 -0.7 0.4 1.8 0.4 0.2 0.4 -1.4 0.4 0.6 0.4 -0.9 0.4 1.3 0.4 -0 0.4 -1.4 0.4 1.1 0.4 -1.9 0.4 1.3 0.4 -0.7 0.4 1 0.4 0.1 0.4 -1.3 0.4 0.1 0.4 0.5 0.4 0.1 0.4 0 0.4 0.3 0.4 -0.5 0.4 1.9 0.4 -1.3 0.4 -0.9 0.4 1.5 0.4 -0.4 0.4 0.4 0.4 -0 0.4 -1.8 0.4 0.5 0.4 0.3" fill="none" stroke="#000" stroke-width="4.0" stroke-linejoin="round" stroke-linecap="round"/>
<path d="M1445.6 874.6L1440.3 895.4L1450.9 895.4Z" fill="#858585"/><path d="M1445.6 894.4V937.2" stroke="#929292" stroke-width="1.4" fill="none"/>
<path d="M1475.5 891.3L1470.2 911.8L1480.8 911.8Z" fill="#858585"/><path d="M1475.5 910.8V953.2" stroke="#929292" stroke-width="1.4" fill="none"/>
<path d="M1494.6 843.7L1489.3 864.6L1499.9 864.6Z" fill="#858585"/><path d="M1494.6 863.6V906.3" stroke="#929292" stroke-width="1.4" fill="none"/>
<path d="M1606.3 924.5L1601 945L1611.6 945Z" fill="#858585"/><path d="M1606.3 944V986.7" stroke="#929292" stroke-width="1.4" fill="none"/>
<path d="M1696.3 916L1691 936.8L1701.6 936.8Z" fill="#858585"/><path d="M1696.3 935.8V978.4" stroke="#929292" stroke-width="1.4" fill="none"/>
<path d="M1753.6 929.9L1748.3 950.4L1758.9 950.4Z" fill="#858585"/><path d="M1753.6 949.4V992.2" stroke="#929292" stroke-width="1.4" fill="none"/>
<path d="M1811 935.7L1805.7 956.6L1816.3 956.6Z" fill="#858585"/><path d="M1811 955.6V998" stroke="#929292" stroke-width="1.4" fill="none"/>
<path d="M1177.9 1250.2l0.4 0.3 0.4 -0.1 0.4 0.9 0.4 -0.6 0.4 0.3 0.4 0.7 0.4 -0.1 0.4 -0.4 0.4 -1 0.4 -0.3 0.4 -0.2 0.4 0.4 0.4 0.3 0.4 -1 0.4 -0.2 0.4 1.3 0.4 -2.2 0.4 1.6 0.4 0.6 0.4 -1.5 0.4 -0.2 0.4 0.2 0.4 1.4 0.4 -0.9 0.4 -1.8 0.4 1.4 0.4 1.4 0.4 -0 0.4 -0.4 0.4 -0.8 0.4 -1.5 0.4 2 0.4 -0.3 0.4 0.3 0.4 1.4 0.4 -1.3 0.4 0.1 0.4 0.3 0.4 -0.8 0.4 -0.4 0.4 -0.1 0.4 1.4 0.4 -0.2 0.4 -1 0.4 1.6 0.4 -0.9 0.4 -1.5 0.4 1.9 0.4 -0.7 0.4 -1.1 0.4 1.7 0.4 -0.8 0.4 -0.1 0.4 1 0.4 -2.6 0.4 0.8 0.4 0.9 0.4 0.7 0.4 -0.8 0.4 -0.2 0.4 0 0.4 1 0.4 0.8 0.4 -2 0.4 -0.6 0.4 1.7 0.4 -0.1 0.4 -0.6 0.4 1.5 0.4 0.3 0.4 -1.2 0.4 0.3 0.4 1.1 0.4 -0.8 0.4 -0.8 0.4 1.5 0.4 -0.7 0.4 1.3 0.4 -0.7 0.4 0.4 0.4 0.8 0.4 -0.6 0.4 -0.4 0.4 -0.2 0.4 2.7 0.4 -0.4 0.4 -2.4 0.4 0.7 0.4 1.7 0.4 -0.9 0.4 0.9 0.4 1 0.4 -0.4 0.4 -0 0.4 -0.1 0.4 0.5 0.4 0.7 0.4 1.4 0.4 -0.5 0.4 -1.1 0.4 1.2 0.4 -0.7 0.4 -1.3 0.4 1.4 0.4 1.1 0.4 -1.3 0.4 1.5 0.4 -1 0.4 0.5 0.4 -1 0.4 3.1 0.4 -1.4 0.4 0.7 0.4 -1.3 0.4 -0.8 0.4 2.6 0.4 -1.7 0.4 2.3 0.4 -1.5 0.4 1.8 0.4 -2 0.4 -0.7 0.4 2.4 0.4 -0.5 0.4 0.2 0.4 1.1 0.4 -1.6 0.4 -0.3 0.4 0.2 0.4 -0.4 0.4 -0.1 0.4 0.6 0.4 0.4 0.4 0.5 0.4 -0.6 0.4 1.1 0.4 0.9 0.4 -0.8 0.4 0.7 0.4 -1.2 0.4 1.2 0.4 0.2 0.4 -0.9 0.4 -0.7 0.4 1.3 0.4 0.2 0.4 1.3 0.4 -1.7 0.4 1.9 0.4 -3.3 0.4 1.6 0.4 -0.2 0.4 0.1 0.4 -0.1 0.4 0.5 0.4 1.6 0.4 -1.5 0.4 1.2 0.4 -1.1 0.4 0.3 0.4 -1.8 0.4 1.8 0.4 0.5 0.4 -1.6 0.4 0.5 0.4 -0.2 0.4 2.7 0.4 -2.7 0.4 0.3 0.4 -1 0.4 0.4 0.4 1.7 0.4 -1.3 0.4 -0.5 0.4 1.4 0.4 0.4 0.4 0.1 0.4 0.1 0.4 -0.9 0.4 2.5 0.4 -2.6 0.4 0.8 0.4 -1.6 0.4 0.5 0.4 -0.9 0.4 1.4 0.4 -0.7 0.4 -0.6 0.4 -1 0.4 2 0.4 0 0.4 -0.2 0.4 -1.1 0.4 0.3 0.4 -0.1 0.4 -0.8 0.4 0.4 0.4 -1.8 0.4 -0.1 0.4 -1.9 0.4 2.5 0.4 -3.1 0.4 -0.1 0.4 -1 0.4 -2.6 0.4 -0.9 0.4 -1.2 0.4 -2.4 0.4 -2.1 0.4 -2.3 0.4 -3.5 0.4 -4.2 0.4 -5.5 0.4 -6.3 0.4 -6.1 0.4 -6.4 0.4 -6.6 0.4 -4.5 0.4 -2.2 0.4 -0.9 0.4 2.5 0.4 5.4 0.4 6.2 0.4 7.8 0.4 8.3 0.4 8 0.4 5.7 0.4 5.2 0.4 3 0.4 3.5 0.4 1.4 0.4 -0.1 0.4 3 0.4 0.1 0.4 0.9 0.4 -1.7 0.4 1.6 0.4 0.2 0.4 -1.2 0.4 1.9 0.4 -0.8 0.4 1.1 0.4 -1.6 0.4 0.8 0.4 0.4 0.4 -0.4 0.4 1.6 0.4 1.4 0.4 -0.8 0.4 1 0.4 1 0.4 -0.3 0.4 -0.4 0.4 -0.9 0.4 2.1 0.4 -0.3 0.4 0.1 0.4 1 0.4 -0.2 0.4 -1.8 0.4 1.4 0.4 -0.6 0.4 0.7 0.4 -0.9 0.4 0.6 0.4 -1.5 0.4 0.1 0.4 -0.4 0.4 0.1 0.4 -0.3 0.4 0.8 0.4 -2 0.4 0.5 0.4 -1.5 0.4 -1 0.4 -0.5 0.4 -2.1 0.4 -0.5 0.4 -2.6 0.4 -2.2 0.4 -2.7 0.4 -4 0.4 -6.8 0.4 -6.5 0.4 -4.9 0.4 -4 0.4 -3.5 0.4 -2.8 0.4 -1.5 0.4 -0.7 0.4 1.2 0.4 3.5 0.4 4.8 0.4 5.5 0.4 7.7 0.4 6.3 0.4 5.5 0.4 4.2 0.4 4.1 0.4 2.3 0.4 2.1 0.4 1 0.4 1.2 0.4 -1.2 0.4 0.2 0.4 0.2 0.4 -1 0.4 0.6 0.4 1 0.4 0.1 0.4 1.5 0.4 -0.8 0.4 -0.5 0.4 0.2 0.4 -2 0.4 -0.5 0.4 -0.8 0.4 -0.4 0.4 0.6 0.4 -2.6 0.4 -1.7 0.4 -1.4 0.4 -2.8 0.4 -4.1 0.4 -3.8 0.4 -3.2 0.4 -1.4 0.4 -1.3 0.4 -1 0.4 -0.4 0.4 0.3 0.4 1.6 0.4 2 0.4 2.6 0.4 1.9 0.4 2.4 0.4 3.9 0.4 2.7 0.4 1.6 0.4 3.4 0.4 0.2 0.4 1.5 0.4 0.9 0.4 -0.1 0.4 2.5 0.4 -0.4 0.4 2.3 0.4 -0.3 0.4 0.6 0.4 0.1 0.4 1.5 0.4 -1.9 0.4 0.3 0.4 0.3 0.4 1.4 0.4 0.1 0.4 -0.5 0.4 0.3 0.4 -1.2 0.4 2.4 0.4 -1 0.4 0.4 0.4 -0.2 0.4 0.8 0.4 -0.5 0.4 0.4 0.4 0.1 0.4 -0.4 0.4 -0 0.4 0.7 0.4 0 0.4 0.3 0.4 0.5 0.4 -2 0.4 -0.6 0.4 0.7 0.4 0.9 0.4 -1.3 0.4 -1.7 0.4 1.9 0.4 -1.3 0.4 -2.1 0.4 -0.2 0.4 -0.3 0.4 -2.1 0.4 -2 0.4 -1.9 0.4 -2.8 0.4 -0.6 0.4 -2.3 0.4 0.4 0.4 -2 0.4 -0.8 0.4 -1.1 0.4 0.5 0.4 0.4 0.4 0.4 0.4 -2.1 0.4 1.3 0.4 -0.5 0.4 1.2 0.4 -0.5 0.4 0.6 0.4 0.9 0.4 -0.8 0.4 -0.8 0.4 -2.2 0.4 -3.5 0.4 -2.7 0.4 -1.6 0.4 -1 0.4 -0.9 0.4 -0.2 0.4 0.8 0.4 1.4 0.4 2.3 0.4 1.7 0.4 2.9 0.4 3.3 0.4 3.5 0.4 4.4 0.4 3.4 0.4 2.7 0.4 1.2 0.4 2 0.4 0.7 0.4 2.5 0.4 1.4 0.4 -0.2 0.4 0.7 0.4 -0.2 0.4 1.2 0.4 0.3 0.4 0.8 0.4 -0.6 0.4 2.5 0.4 -0.7 0.4 0.9 0.4 -0.1 0.4 -0.3 0.4 1.7 0.4 -0.5 0.4 -1.6 0.4 1 0.4 -0.1 0.4 -0.3 0.4 1.9 0.4 -2.1 0.4 1.9 0.4 -2.1 0.4 2.1 0.4 -1.2 0.4 -0.9 0.4 1.5 0.4 0.2 0.4 -0.8 0.4 1.3 0.4 -1.7 0.4 1.9 0.4 -0.3 0.4 0.8 0.4 -1.4 0.4 0.8 0.4 -1 0.4 0.9 0.4 -0.5 0.4 0.3 0.4 -1.3 0.4 1 0.4 -0.1 0.4 0.7 0.4 -1.1 0.4 0.1 0.4 0.5 0.4 -0.1 0.4 -1.6 0.4 1.2 0.4 0.7 0.4 -0.7 0.4 -0.9 0.4 0.9 0.4 0.2 0.4 -0.5 0.4 0.6 0.4 -0.6 0.4 0.6 0.4 0.2 0.4 1.1 0.4 -0.9 0.4 0.4 0.4 -1 0.4 -1.2 0.4 -0.4 0.4 0.6 0.4 -1.9 0.4 -0.5 0.4 1 0.4 -1.4 0.4 -0.5 0.4 1.3 0.4 -1.8 0.4 0.6 0.4 -0.5 0.4 0.2 0.4 0.2 0.4 1.2 0.4 1 0.4 -0.6 0.4 2.2 0.4 -0.3 0.4 0.6 0.4 1 0.4 -0 0.4 0.4 0.4 2 0.4 -0.6 0.4 -0.4 0.4 0.3 0.4 1.6 0.4 -0.2 0.4 1 0.4 -1.6 0.4 0 0.4 0.7 0.4 0.7 0.4 0.1 0.4 -0.7 0.4 -0.4 0.4 0.4 0.4 0.8 0.4 -0.9 0.4 -0.2 0.4 0.5 0.4 -0.1 0.4 -0 0.4 0.9 0.4 -0.8 0.4 -0.4 0.4 -0.4 0.4 -0.2 0.4 0 0.4 -0.2 0.4 -1 0.4 -0.6 0.4 -0.6 0.4 -1 0.4 -1.3 0.4 -3.1 0.4 -3.2 0.4 -2.9 0.4 -2.6 0.4 -2.1 0.4 -1.4 0.4 1.1 0.4 4.2 0.4 4.2 0.4 3.9 0.4 2.9 0.4 1.3 0.4 0.3 0.4 -0.1 0.4 0.2 0.4 0 0.4 -0.9 0.4 -0.4 0.4 1 0.4 -0.4 0.4 0.1 0.4 -0.5 0.4 0.7 0.4 -0.5 0.4 0.3 0.4 0 0.4 -0.4 0.4 -0.3 0.4 -0.6 0.4 1 0.4 -1.9 0.4 0.6 0.4 -1.2 0.4 0.3 0.4 1 0.4 -0.9 0.4 0.9 0.4 -0.5 0.4 0.6 0.4 -0.8 0.4 0.4 0.4 1.3 0.4 -0.3 0.4 -0.3 0.4 0.5 0.4 -0.4 0.4 1 0.4 -0.2 0.4 0.4 0.4 1.3 0.4 -0.6 0.4 0.2 0.4 0 0.4 0.9 0.4 0.2 0.4 -0.4 0.4 -0.2 0.4 0.6 0.4 0.2 0.4 -0.7 0.4 1.2 0.4 -0.7 0.4 0.4 0.4 -0.3 0.4 0.1 0.4 0.7 0.4 -0.3 0.4 -0.5 0.4 0.7 0.4 0.3 0.4 -0.4 0.4 0.5 0.4 -0.7 0.4 0.7 0.4 -0.3 0.4 -0.1 0.4 0.3 0.4 -0.3 0.4 -0.5 0.4 0.1 0.4 -0.5 0.4 0.2 0.4 0.1 0.4 -0.2 0.4 -0.8 0.4 -0 0.4 0.1 0.4 -0.2 0.4 -0.7 0.4 0.1 0.4 -0.2 0.4 0.1 0.4 -0.7 0.4 -0.5 0.4 -0.8 0.4 -0.6 0.4 0.2 0.4 -0.9 0.4 -0.9 0.4 -0.2 0.4 -1 0.4 -1.1 0.4 -0.8 0.4 -1.5 0.4 -1.6 0.4 -3.3 0.4 -5.6 0.4 -7 0.4 -8.7 0.4 -13.7 0.4 -19.6 0.4 -17.4 0.4 -15.6 0.4 -11.1 0.4 -4.1 0.4 -0.6 0.4 6.5 0.4 11.1 0.4 16.2 0.4 20.7 0.4 17.3 0.4 11.7 0.4 10.6 0.4 7.3 0.4 4.4 0.4 2.4 0.4 1.7 0.4 1.5 0.4 1.1 0.4 1.5 0.4 -0.2 0.4 0.5 0.4 0.8 0.4 -0.1 0.4 -0.1 0.4 0.2 0.4 -0.3 0.4 0.4 0.4 -0.1 0.4 -0.3 0.4 0.9 0.4 -0.6 0.4 0.3 0.4 -0.3 0.4 -0.3 0.4 -0.4 0.4 -0.5 0.4 0.4 0.4 -1.4 0.4 -0.2 0.4 -0.1 0.4 -0.6 0.4 0.7 0.4 0.9 0.4 0.6 0.4 1 0.4 -0.3 0.4 1.3 0.4 0.1 0.4 -0.8 0.4 0.7 0.4 -0.5 0.4 -0.1 0.4 0.1 0.4 -0.8 0.4 0.5 0.4 -0.7 0.4 0.2 0.4 -0.6 0.4 -0.2 0.4 -0.7 0.4 -0.2 0.4 -2.2 0.4 -4.1 0.4 -6.1 0.4 -7.1 0.4 -11.1 0.4 -19.3 0.4 -20.6 0.4 -16 0.4 -12.4 0.4 -2.5 0.4 11.5 0.4 14.8 0.4 17.1 0.4 18.9 0.4 14.2 0.4 7.9 0.4 5.8 0.4 4.1 0.4 3.3 0.4 1.1 0.4 0.1 0.4 0.8 0.4 0.8 0.4 0.4 0.4 0.9 0.4 -0.5 0.4 0.5 0.4 -0.4 0.4 0.1 0.4 -0 0.4 -0.2 0.4 -0.1 0.4 -0.3 0.4 -0.8 0.4 0.4 0.4 -1.1 0.4 0.2 0.4 -0.7 0.4 -0.6 0.4 -1.2 0.4 -0.6 0.4 -1.1 0.4 -1.9 0.4 -2.3 0.4 -1.8 0.4 -4.7 0.4 -5.7 0.4 -11 0.4 -19.2 0.4 -23.6 0.4 -23.4 0.4 -27 0.4 -24.4 0.4 -14 0.4 -7.7 0.4 3.2 0.4 12 0.4 17 0.4 24.9 0.4 27 0.4 21.3 0.4 19.7 0.4 16.3 0.4 10.2 0.4 5.5 0.4 2.8 0.4 3 0.4 2.5 0.4 1.7 0.4 1.6 0.4 0.6 0.4 1.1 0.4 1.4 0.4 0.5 0.4 0.6 0.4 1.4 0.4 -0.1 0.4 0.6 0.4 0.1 0.4 0.6 0.4 -0.5 0.4 0.3 0.4 -1.2 0.4 1 0.4 -0.5 0.4 0.6 0.4 0.5 0.4 -0.4 0.4 0.4 0.4 -0.2 0.4 0.3 0.4 0.7 0.4 -0.4 0.4 0.8 0.4 -0.1 0.4 0.1 0.4 0.7 0.4 -0.5 0.4 0.7 0.4 -0.4 0.4 0.5 0.4 -0.2 0.4 0.6 0.4 0.3 0.4 0.1 0.4 -0.1 0.4 0 0.4 -0.2 0.4 0.1 0.4 -0.1 0.4 1.1 0.4 -0.7 0.4 0 0.4 0.1 0.4 -0.3 0.4 0.9 0.4 -0.7 0.4 -0.1 0.4 1 0.4 -0.1 0.4 -0.2 0.4 -0.3 0.4 0.8 0.4 -0.5 0.4 0.2 0.4 0.3 0.4 -0.3 0.4 -0.2 0.4 -0.5 0.4 1.1 0.4 -1.1 0.4 0.4 0.4 -0.1 0.4 0.1 0.4 0.1 0.4 0.3 0.4 -0.3 0.4 -0.5 0.4 0.7 0.4 -0.4 0.4 0.3 0.4 -0.3 0.4 0.4 0.4 -0.1 0.4 0.4 0.4 -0.2 0.4 0.2 0.4 -0.8 0.4 0.9 0.4 -0.6 0.4 0.3 0.4 0.1 0.4 0.1 0.4 -0.3 0.4 -0.5 0.4 0.8 0.4 0.1 0.4 -0.1 0.4 -0 0.4 0.1 0.4 -0.3 0.4 -0.6 0.4 0.3 0.4 -0.6 0.4 0.2 0.4 0 0.4 0.3 0.4 -0.5 0.4 0 0.4 -0.1 0.4 0.3 0.4 -0.7 0.4 -0.2 0.4 1.2 0.4 -0.2 0.4 -0.2 0.4 -0.2 0.4 -0.5 0.4 -0.4 0.4 0.6 0.4 -0.7 0.4 0.6 0.4 -0.4 0.4 -0.7 0.4 0.5 0.4 -0.8 0.4 0.2 0.4 0.5 0.4 -0.7 0.4 0.1 0.4 -0.2 0.4 -0.1 0.4 0.4 0.4 -0.2 0.4 -0.1 0.4 -0.8 0.4 0.3 0.4 -0.3 0.4 0.2 0.4 -0.6 0.4 0.5 0.4 0.2 0.4 -0.8 0.4 -0.4 0.4 0.2 0.4 -1 0.4 0.2 0.4 0.3 0.4 -0.6 0.4 -0.1 0.4 0.3 0.4 -0.5 0.4 -0 0.4 -0.6 0.4 0.9 0.4 -0.9 0.4 0.3 0.4 -0.1 0.4 -0 0.4 -0.3 0.4 0.5 0.4 0.3 0.4 0.6 0.4 -0.2 0.4 0.1 0.4 0.5 0.4 0.3 0.4 0.2 0.4 0.4 0.4 0.8 0.4 -0.2 0.4 -0.2 0.4 0.5 0.4 0.4 0.4 0 0.4 0.5 0.4 0.4 0.4 -0.9 0.4 0.4 0.4 0.4 0.4 0.5 0.4 -0.7 0.4 1.1 0.4 0.3 0.4 -0 0.4 -0.2 0.4 -0.5 0.4 0.4 0.4 0 0.4 0.4 0.4 0.3 0.4 -0 0.4 -0.4 0.4 0.7 0.4 0.2 0.4 -0.6 0.4 0.1 0.4 0.2 0.4 0.4 0.4 -0.4 0.4 0.8 0.4 -0.3 0.4 0.2 0.4 -0.4 0.4 -0.1 0.4 0.4 0.4 0.5 0.4 -0.4 0.4 0.2 0.4 -0.5 0.4 -0 0.4 0.2 0.4 0.2 0.4 -0.1 0.4 -0.4 0.4 -0.1 0.4 0.6 0.4 -0.1 0.4 0.7 0.4 -0.8 0.4 -0.1 0.4 0.5 0.4 -0.3 0.4 0.2 0.4 0.3 0.4 -0.6 0.4 0.2 0.4 -0.1 0.4 0 0.4 0 0.4 0.1 0.4 0.6 0.4 -0.6 0.4 -0.2 0.4 0.2 0.4 -0.1 0.4 0.2 0.4 -0 0.4 -0.3 0.4 0.2 0.4 0.3 0.4 0.2 0.4 -0.4 0.4 0.4 0.4 -0.1 0.4 -0.7 0.4 0.2 0.4 -0.5 0.4 0.3 0.4 0.3 0.4 -0.3 0.4 0.2 0.4 -0.2 0.4 0.1 0.4 -0.4 0.4 0.1 0.4 -0.2 0.4 -0.2 0.4 0 0.4 -0.7 0.4 0.6 0.4 -0.9 0.4 -0.1 0.4 -0.5 0.4 -0.4 0.4 -0.5 0.4 -0.5 0.4 -2 0.4 -3.3 0.4 -3.5 0.4 -4.4 0.4 -3.5 0.4 -2.8 0.4 -2.5 0.4 -2.1 0.4 -1.3 0.4 -0.8 0.4 -0.3 0.4 1.5 0.4 2.5 0.4 3 0.4 3.8 0.4 4.7 0.4 4.5 0.4 2.9 0.4 2 0.4 1.1 0.4 1.5 0.4 0.1 0.4 0.9 0.4 0.8 0.4 0 0.4 0.1 0.4 1.2 0.4 0.4 0.4 -0.3 0.4 -0.5 0.4 0.5 0.4 -0.3 0.4 -0.2 0.4 1 0.4 0.1 0.4 -0.1 0.4 -0.3 0.4 -0.2 0.4 1 0.4 -0.1 0.4 0.4 0.4 -0.8 0.4 -0.1 0.4 1.1 0.4 0.2 0.4 -0.1 0.4 -0.1 0.4 -0.1 0.4 0.2 0.4 -0.4 0.4 1 0.4 -0.2 0.4 -1.1 0.4 1.1 0.4 -1 0.4 0.8 0.4 -0.2 0.4 0.6 0.4 -0.4 0.4 -0.1 0.4 0.5 0.4 -0.7 0.4 0.1 0.4 0.7 0.4 -0.2 0.4 -0.1 0.4 -0.2 0.4 0.2 0.4 0 0.4 0.3 0.4 -0 0.4 -0.1 0.4 0.1 0.4 0.5 0.4 -0.3 0.4 -0.1 0.4 -0.1 0.4 0.1 0.4 -0.1 0.4 0.1 0.4 0.1 0.4 -0.4 0.4 -0 0.4 -0.5 0.4 0.3 0.4 0.4 0.4 0.6 0.4 0 0.4 -0.8 0.4 -0.5 0.4 0.7 0.4 0.1 0.4 0.3 0.4 -0.7 0.4 0.2 0.4 -0 0.4 0.1 0.4 -0.4 0.4 0.6 0.4 -0.4 0.4 0.3 0.4 -0.1 0.4 -0.6 0.4 0.7 0.4 -0.5 0.4 0 0.4 0 0.4 -0.1 0.4 0.3 0.4 -0.6 0.4 0.5 0.4 0.2 0.4 0.1 0.4 0.3 0.4 0 0.4 0 0.4 -0.4 0.4 -0.1 0.4 -0.3 0.4 0.3 0.4 0.3 0.4 -0.2 0.4 -0.2 0.4 0.6 0.4 0.4 0.4 -0.8 0.4 0.6 0.4 -0.3 0.4 -0.5 0.4 0.3 0.4 -0.2 0.4 0.5 0.4 0 0.4 -0.3 0.4 -0.2 0.4 0.2 0.4 -0 0.4 0.3 0.4 -0 0.4 -0.1 0.4 -0.7 0.4 0.7 0.4 0.1 0.4 -0.4 0.4 -0.2 0.4 0.5 0.4 -0.6 0.4 0.2 0.4 0.1 0.4 -0.3 0.4 -0.3 0.4 1.2 0.4 -0.8 0.4 -0.4 0.4 1 0.4 -0.5 0.4 0.3 0.4 0.1 0.4 -0.9 0.4 0.5 0.4 -0.1 0.4 -0.5 0.4 -0.1 0.4 0.6 0.4 -0.4 0.4 -0.5 0.4 0 0.4 0.2 0.4 -0.3 0.4 0.6 0.4 -0.8 0.4 -1.6 0.4 -1.7 0.4 -1.4 0.4 -0.6 0.4 0.3 0.4 -0.6 0.4 -1 0.4 0.1 0.4 1.2 0.4 0.8 0.4 1.4 0.4 1.7 0.4 1.1 0.4 0.2 0.4 1 0.4 -0.3 0.4 0.2 0.4 -0.3 0.4 0.4 0.4 0.5 0.4 0 0.4 -0.3 0.4 1.1 0.4 -0.4 0.4 -0.1 0.4 -0.1 0.4 -0.1 0.4 -0.6 0.4 0.7 0.4 -0.4 0.4 -0.1 0.4 1 0.4 -0.6 0.4 0.1 0.4 -0.2 0.4 -0.2 0.4 -0.3 0.4 0.6 0.4 -0.7 0.4 -0.1 0.4 -0.1 0.4 0.4 0.4 -0 0.4 -0 0.4 -0.4 0.4 -0.1 0.4 0.4 0.4 -1.1 0.4 0.3 0.4 -0.8 0.4 -1 0.4 -1.2 0.4 -1.5 0.4 -1.6 0.4 -2.3 0.4 -2.6 0.4 -2.8 0.4 -5.6 0.4 -7.1 0.4 -7.5 0.4 -5.7 0.4 -3.4 0.4 -2.4 0.4 -1.6 0.4 0.7 0.4 2.6 0.4 3.7 0.4 4.4 0.4 6.2 0.4 7.2 0.4 5.8 0.4 3.7 0.4 2.6 0.4 2.6 0.4 0.9 0.4 1.7 0.4 0.9 0.4 0.7 0.4 1.4 0.4 -0 0.4 0.5 0.4 0.1 0.4 -0.1 0.4 0.8 0.4 -0.3 0.4 1.1 0.4 0.1 0.4 -0.5 0.4 0.1 0.4 0.1 0.4 1 0.4 -0.8 0.4 0.1 0.4 0.2 0.4 0.2 0.4 0.8 0.4 -0.5 0.4 0.3 0.4 -0.1 0.4 0.1 0.4 0.7 0.4 -0 0.4 -0.4 0.4 -0.3 0.4 0.9 0.4 -0.6 0.4 -0.3 0.4 0.1 0.4 0.3 0.4 0.2 0.4 -0.9 0.4 0.8 0.4 -0.1 0.4 0.1 0.4 -0.5 0.4 0.6 0.4 -0.5 0.4 0.5 0.4 0.3 0.4 -0.6 0.4 0.1 0.4 -0 0.4 -0.7 0.4 0.7 0.4 -0.6 0.4 -0.2 0.4 0.7 0.4 0.2 0.4 -0.4 0.4 -0.3 0.4 1 0.4 -0.9 0.4 0.9 0.4 -0.5 0.4 -0.3 0.4 0.5 0.4 -0.8 0.4 0.4 0.4 0.2 0.4 -0.1 0.4 0.5 0.4 -0.8 0.4 0.5 0.4 -0.3 0.4 0.3 0.4 -0.1 0.4 0.3 0.4 -0.4 0.4 0.5 0.4 -0.4 0.4 -0.2 0.4 0.2 0.4 0.1 0.4 0.4 0.4 -0.9 0.4 0.4 0.4 -0.4 0.4 0.7 0.4 0 0.4 -0 0.4 -0.7 0.4 0.1 0.4 0.4 0.4 0.1 0.4 0.2 0.4 -0.4 0.4 0.2 0.4 -0.2 0.4 -0 0.4 0 0.4 -0.2 0.4 0.6 0.4 0.2 0.4 -0.3 0.4 -0.4 0.4 0.6 0.4 -0.8 0.4 0.6 0.4 -0.1 0.4 0 0.4 -1 0.4 0.6 0.4 -0.3 0.4 0.3 0.4 -0.2 0.4 -0.8 0.4 0.8 0.4 0.2 0.4 -0.5 0.4 0 0.4 -0.3 0.4 0 0.4 -0.4 0.4 0.5 0.4 0 0.4 -1 0.4 0.3 0.4 -0.4 0.4 0.5 0.4 -0.6 0.4 0.1 0.4 -0.6 0.4 0.1 0.4 -0.6 0.4 -0.7 0.4 -0.7 0.4 -1.5 0.4 -0.2 0.4 -1.6 0.4 -1 0.4 -1.2 0.4 -1.8 0.4 -2 0.4 -2.7 0.4 -3.9 0.4 -4.6 0.4 -4.6 0.4 -3.1 0.4 -1.9 0.4 -1.5 0.4 -0.7 0.4 0.7 0.4 1.9 0.4 2.7 0.4 2.9 0.4 3.2 0.4 3.8 0.4 3.8 0.4 3.6 0.4 2.7 0.4 1.7 0.4 1.4 0.4 1.1 0.4 1.1 0.4 1.1 0.4 0.6 0.4 1.4 0.4 -0.3 0.4 0.7 0.4 0.4 0.4 0.8 0.4 0.1 0.4 -0 0.4 -0.2 0.4 0.6 0.4 0 0.4 0.1 0.4 0.7 0.4 0.2 0.4 -0.3 0.4 -0.1 0.4 0.3 0.4 -0.3 0.4 -0 0.4 -0.1 0.4 0.6 0.4 0 0.4 -0 0.4 0.1 0.4 0.1 0.4 -0.2 0.4 0.5 0.4 0.4 0.4 -0.6 0.4 -0.4 0.4 0.5 0.4 0 0.4 0.2 0.4 0.1 0.4 -0.1 0.4 0.1 0.4 -0.3 0.4 0.1 0.4 -0.3 0.4 0.1 0.4 0.3 0.4 -0.3 0.4 -0.4 0.4 -0.2 0.4 0.8 0.4 -0.4 0.4 -0.1 0.4 -0.1 0.4 0.3 0.4 -0.2 0.4 -0.1 0.4 -0 0.4 -0 0.4 0.3 0.4 -0.3 0.4 0.4 0.4 -1.1 0.4 0.4 0.4 0.4 0.4 -0.5 0.4 0.1 0.4 -0.2 0.4 -0.2 0.4 -0.2 0.4 0 0.4 -0.7 0.4 -0.8 0.4 -0.4 0.4 -0.4 0.4 -0.6 0.4 -0.6 0.4 0 0.4 -0.1 0.4 -0.5 0.4 0.2 0.4 0.4 0.4 0.4 0.4 0.9 0.4 -0.1 0.4 0.5 0.4 0.9 0.4 0.1 0.4 0.7 0.4 -0.2 0.4 0.9 0.4 0.6 0.4 -0.8 0.4 -0.1 0.4 0.2 0.4 0 0.4 -0.9 0.4 0.3 0.4 -0.1 0.4 -0.2 0.4 -0.1 0.4 -0.3 0.4 -0.3 0.4 -0.4 0.4 0.5 0.4 -0.8 0.4 0 0.4 -0.7 0.4 -0.3 0.4 -0.6 0.4 -1.4 0.4 -2.8 0.4 -3.5 0.4 -3 0.4 -3.6 0.4 -2.8 0.4 -2.1 0.4 -1.8 0.4 -1.5 0.4 -0.8 0.4 0.7 0.4 2.2 0.4 3.1 0.4 2.7 0.4 2 0.4 2 0.4 2 0.4 2.2 0.4 1.6 0.4 1.3 0.4 0.8 0.4 0.5 0.4 -0.3 0.4 0 0.4 0.4 0.4 0.2 0.4 0.5 0.4 -0 0.4 -0.1 0.4 -0.2 0.4 0.2 0.4 -1.8 0.4 -1.4 0.4 -1.9 0.4 -1.4 0.4 -1.7 0.4 -0.3 0.4 -0.8 0.4 -0.1 0.4 1.1 0.4 1.2 0.4 2.4 0.4 1.6 0.4 1 0.4 1.8 0.4 1.2 0.4 2.2 0.4 0.4 0.4 0.8 0.4 0.4 0.4 -0 0.4 0.4 0.4 0.3 0.4 0.5 0.4 -0.1 0.4 0.5 0.4 -0.8 0.4 0.2 0.4 0.1 0.4 0.4 0.4 0 0.4 0.1 0.4 0.3 0.4 0.1 0.4 -0.2 0.4 0.4 0.4 -0 0.4 -0 0.4 0.4 0.4 -0.9 0.4 0.4 0.4 -0 0.4 -0 0.4 -0 0.4 -0.1 0.4 -0 0.4 0.3 0.4 0 0.4 -0.5 0.4 -0.2 0.4 0.4 0.4 -0.3 0.4 0.6 0.4 -0 0.4 -0.7 0.4 0.7 0.4 -0.2 0.4 -0.4 0.4 0.6 0.4 0.3 0.4 -0.7 0.4 0 0.4 -0.4 0.4 0.4 0.4 -0.3 0.4 0.3 0.4 -0.3 0.4 0.2 0.4 -0.3 0.4 -0.3 0.4 0.5 0.4 0.3 0.4 -1.2 0.4 0.7 0.4 -0.4 0.4 -0.2 0.4 0.4 0.4 -0.2 0.4 0 0.4 0 0.4 -0.7 0.4 0.9 0.4 -0.1 0.4 -0.7 0.4 0.1 0.4 -0.4 0.4 0.4 0.4 -0.1 0.4 0 0.4 -0.1 0.4 0.2 0.4 -0.2 0.4 -0.1 0.4 0.2 0.4 0 0.4 0.1 0.4 -0.1 0.4 0.3 0.4 -0.5 0.4 0.5 0.4 -0.5 0.4 0.1 0.4 0 0.4 0.4 0.4 -0.3 0.4 -0.1 0.4 0.5 0.4 -0.3 0.4 0.2 0.4 0.1 0.4 0.1 0.4 0.4 0.4 -0.3 0.4 -0.4 0.4 0.7 0.4 -0.4 0.4 -0.1 0.4 0.3 0.4 0.4 0.4 -0.6 0.4 0.3 0.4 0.6 0.4 0.2 0.4 -0.4 0.4 0.3 0.4 -0.2 0.4 0 0.4 -0.2 0.4 0.3 0.4 -0.1 0.4 0.1 0.4 0.1 0.4 0.1 0.4 -0.3 0.4 0.2 0.4 0.4 0.4 0.3 0.4 -0.4 0.4 0.2 0.4 0.1 0.4 -0.4 0.4 0.4 0.4 -0.5 0.4 -0.2 0.4 0.3 0.4 0.2 0.4 -0.3 0.4 0.5 0.4 -0.5 0.4 0.4 0.4 -0.2 0.4 0.4 0.4 -0.5 0.4 0 0.4 -0 0.4 -0.3 0.4 0.4 0.4 -0.4 0.4 0 0.4 0.1 0.4 0 0.4 0.5 0.4 -0.5 0.4 0.5 0.4 -1.1 0.4 0.8 0.4 -0.2 0.4 0.5 0.4 -0.9 0.4 0.3 0.4 0.1 0.4 -0.7 0.4 0.6 0.4 0.6 0.4 -0.6 0.4 0.1 0.4 -0.3 0.4 0.4 0.4 -0.7 0.4 -0.2 0.4 0.5 0.4 -0.7 0.4 0.3 0.4 -0.7 0.4 0.7 0.4 -0.4 0.4 0.1 0.4 -0.1 0.4 -0 0.4 -0.3 0.4 -0.2 0.4 0.3 0.4 0.1 0.4 -0.9 0.4 0.1 0.4 0 0.4 -0.1 0.4 0.3 0.4 -0.3 0.4 -0.2 0.4 0.2 0.4 0.2 0.4 -1 0.4 0.7 0.4 -0.2 0.4 0 0.4 0.1 0.4 -0.5 0.4 0.7 0.4 0.2 0.4 -0.2 0.4 -0.1 0.4 0.2 0.4 0.5 0.4 0.4 0.4 -0.4 0.4 0.3 0.4 0.3 0.4 -0.2 0.4 -0.3 0.4 0.5 0.4 0.5 0.4 -0.5 0.4 0.1 0.4 -0.1 0.4 0.6 0.4 -0.2 0.4 0.6 0.4 0.1 0.4 -0.3 0.4 0.2 0.4 0.1 0.4 -0.2 0.4 0.2 0.4 0.7 0.4 -0.5 0.4 -0.7 0.4 1 0.4 -0.4 0.4 -0 0.4 0.4 0.4 -0 0.4 -0.1 0.4 0 0.4 -0.9 0.4 0.8 0.4 -0.5 0.4 0.2 0.4 0.3 0.4 -0 0.4 -0.2 0.4 -0.3 0.4 0.5 0.4 -0.4 0.4 0.1 0.4 0.1 0.4 0.1 0.4 -0.4 0.4 0.5 0.4 -0.1 0.4 -0.3 0.4 0.3 0.4 0.2 0.4 -0.7 0.4 0.3 0.4 -0.2 0.4 0.1 0.4 0.3 0.4 -0.3 0.4 -0.1 0.4 0.5 0.4 -0.2 0.4 0.1 0.4 0.4 0.4 -0.7 0.4 -0.5 0.4 1.1 0.4 -0.6 0.4 0.1 0.4 0.2 0.4 -0.1 0.4 -0.5 0.4 0.1 0.4 -0 0.4 0.1 0.4 0.2 0.4 0.1 0.4 0.1 0.4 -0.5" fill="none" stroke="#000" stroke-width="3.9" stroke-linejoin="round" stroke-linecap="round"/>
<g stroke="#000" fill="none" stroke-linecap="butt">
<rect x="195.1" y="67.6" width="799.3" height="1239.7" stroke-width="2.9"/>
<path d="M195.1 315.4H994.4M195.1 563.3H994.4M195.1 811.1H994.4M195.1 1059H994.4" stroke-width="2.9"/>
<path d="M219.8 67.6v15.9M219.8 315.4v-15.9M219.8 563.3v-15.9M219.8 811.1v-15.9M219.8 1059v-15.9M219.8 1307.3v-15.9M244.8 67.6v8.4M244.8 315.4v-8.4M244.8 563.3v-8.4M244.8 811.1v-8.4M244.8 1059v-8.4M244.8 1307.3v-8.4M269.8 67.6v15.9M269.8 315.4v-15.9M269.8 563.3v-15.9M269.8 811.1v-15.9M269.8 1059v-15.9M269.8 1307.3v-15.9M294.7 67.6v8.4M294.7 315.4v-8.4M294.7 563.3v-8.4M294.7 811.1v-8.4M294.7 1059v-8.4M294.7 1307.3v-8.4M319.7 67.6v15.9M319.7 315.4v-15.9M319.7 563.3v-15.9M319.7 811.1v-15.9M319.7 1059v-15.9M319.7 1307.3v-15.9M344.7 67.6v8.4M344.7 315.4v-8.4M344.7 563.3v-8.4M344.7 811.1v-8.4M344.7 1059v-8.4M344.7 1307.3v-8.4M369.6 67.6v15.9M369.6 315.4v-15.9M369.6 563.3v-15.9M369.6 811.1v-15.9M369.6 1059v-15.9M369.6 1307.3v-15.9M394.6 67.6v8.4M394.6 315.4v-8.4M394.6 563.3v-8.4M394.6 811.1v-8.4M394.6 1059v-8.4M394.6 1307.3v-8.4M419.6 67.6v15.9M419.6 315.4v-15.9M419.6 563.3v-15.9M419.6 811.1v-15.9M419.6 1059v-15.9M419.6 1307.3v-15.9M444.6 67.6v8.4M444.6 315.4v-8.4M444.6 563.3v-8.4M444.6 811.1v-8.4M444.6 1059v-8.4M444.6 1307.3v-8.4M469.6 67.6v15.9M469.6 315.4v-15.9M469.6 563.3v-15.9M469.6 811.1v-15.9M469.6 1059v-15.9M469.6 1307.3v-15.9M494.5 67.6v8.4M494.5 315.4v-8.4M494.5 563.3v-8.4M494.5 811.1v-8.4M494.5 1059v-8.4M494.5 1307.3v-8.4M519.5 67.6v15.9M519.5 315.4v-15.9M519.5 563.3v-15.9M519.5 811.1v-15.9M519.5 1059v-15.9M519.5 1307.3v-15.9M544.5 67.6v8.4M544.5 315.4v-8.4M544.5 563.3v-8.4M544.5 811.1v-8.4M544.5 1059v-8.4M544.5 1307.3v-8.4M569.5 67.6v15.9M569.5 315.4v-15.9M569.5 563.3v-15.9M569.5 811.1v-15.9M569.5 1059v-15.9M569.5 1307.3v-15.9M594.4 67.6v8.4M594.4 315.4v-8.4M594.4 563.3v-8.4M594.4 811.1v-8.4M594.4 1059v-8.4M594.4 1307.3v-8.4M619.4 67.6v15.9M619.4 315.4v-15.9M619.4 563.3v-15.9M619.4 811.1v-15.9M619.4 1059v-15.9M619.4 1307.3v-15.9M644.4 67.6v8.4M644.4 315.4v-8.4M644.4 563.3v-8.4M644.4 811.1v-8.4M644.4 1059v-8.4M644.4 1307.3v-8.4M669.4 67.6v15.9M669.4 315.4v-15.9M669.4 563.3v-15.9M669.4 811.1v-15.9M669.4 1059v-15.9M669.4 1307.3v-15.9M694.3 67.6v8.4M694.3 315.4v-8.4M694.3 563.3v-8.4M694.3 811.1v-8.4M694.3 1059v-8.4M694.3 1307.3v-8.4M719.3 67.6v15.9M719.3 315.4v-15.9M719.3 563.3v-15.9M719.3 811.1v-15.9M719.3 1059v-15.9M719.3 1307.3v-15.9M744.3 67.6v8.4M744.3 315.4v-8.4M744.3 563.3v-8.4M744.3 811.1v-8.4M744.3 1059v-8.4M744.3 1307.3v-8.4M769.2 67.6v15.9M769.2 315.4v-15.9M769.2 563.3v-15.9M769.2 811.1v-15.9M769.2 1059v-15.9M769.2 1307.3v-15.9M794.2 67.6v8.4M794.2 315.4v-8.4M794.2 563.3v-8.4M794.2 811.1v-8.4M794.2 1059v-8.4M794.2 1307.3v-8.4M819.2 67.6v15.9M819.2 315.4v-15.9M819.2 563.3v-15.9M819.2 811.1v-15.9M819.2 1059v-15.9M819.2 1307.3v-15.9M844.2 67.6v8.4M844.2 315.4v-8.4M844.2 563.3v-8.4M844.2 811.1v-8.4M844.2 1059v-8.4M844.2 1307.3v-8.4M869.2 67.6v15.9M869.2 315.4v-15.9M869.2 563.3v-15.9M869.2 811.1v-15.9M869.2 1059v-15.9M869.2 1307.3v-15.9M894.1 67.6v8.4M894.1 315.4v-8.4M894.1 563.3v-8.4M894.1 811.1v-8.4M894.1 1059v-8.4M894.1 1307.3v-8.4M919.1 67.6v15.9M919.1 315.4v-15.9M919.1 563.3v-15.9M919.1 811.1v-15.9M919.1 1059v-15.9M919.1 1307.3v-15.9M944.1 67.6v8.4M944.1 315.4v-8.4M944.1 563.3v-8.4M944.1 811.1v-8.4M944.1 1059v-8.4M944.1 1307.3v-8.4M969 67.6v15.9M969 315.4v-15.9M969 563.3v-15.9M969 811.1v-15.9M969 1059v-15.9M969 1307.3v-15.9" stroke-width="2.5"/>
<path d="M195.1 88.3h7.8M994.4 88.3h-7.8M195.1 119h15M994.4 119h-15M195.1 149.8h7.8M994.4 149.8h-7.8M195.1 180.6h15M994.4 180.6h-15M195.1 211.3h7.8M994.4 211.3h-7.8M195.1 242.1h15M994.4 242.1h-15M195.1 272.8h7.8M994.4 272.8h-7.8M195.1 303.6h15M994.4 303.6h-15M195.1 330.3h7.8M994.4 330.3h-7.8M195.1 360.9h15M994.4 360.9h-15M195.1 391.5h7.8M994.4 391.5h-7.8M195.1 422.1h15M994.4 422.1h-15M195.1 452.7h7.8M994.4 452.7h-7.8M195.1 483.3h15M994.4 483.3h-15M195.1 513.9h7.8M994.4 513.9h-7.8M195.1 544.5h15M994.4 544.5h-15M195.1 589.5h7.8M994.4 589.5h-7.8M195.1 621.2h15M994.4 621.2h-15M195.1 652.8h7.8M994.4 652.8h-7.8M195.1 684.5h15M994.4 684.5h-15M195.1 716.2h7.8M994.4 716.2h-7.8M195.1 747.9h15M994.4 747.9h-15M195.1 779.5h7.8M994.4 779.5h-7.8M195.1 815.2h15M994.4 815.2h-15M195.1 845.7h7.8M994.4 845.7h-7.8M195.1 876.3h15M994.4 876.3h-15M195.1 906.8h7.8M994.4 906.8h-7.8M195.1 937.3h15M994.4 937.3h-15M195.1 967.9h7.8M994.4 967.9h-7.8M195.1 998.4h15M994.4 998.4h-15M195.1 1028.9h7.8M994.4 1028.9h-7.8M195.1 1091.8h15M994.4 1091.8h-15M195.1 1123.1h7.8M994.4 1123.1h-7.8M195.1 1154.3h15M994.4 1154.3h-15M195.1 1185.6h7.8M994.4 1185.6h-7.8M195.1 1216.9h15M994.4 1216.9h-15M195.1 1248.1h7.8M994.4 1248.1h-7.8M195.1 1279.4h15M994.4 1279.4h-15" stroke-width="2.5" stroke-linecap="round"/>
</g>
<g font-family="'Liberation Sans', sans-serif" font-weight="700" font-size="35.9" text-anchor="middle" fill="#000">
<text transform="translate(220 42.2) scale(0.917 1)">5</text>
<text transform="translate(220 1350.7) scale(0.917 1)">5</text>
<text transform="translate(269.9 42.2) scale(0.917 1)">10</text>
<text transform="translate(269.9 1350.7) scale(0.917 1)">10</text>
<text transform="translate(319.9 42.2) scale(0.917 1)">15</text>
<text transform="translate(319.9 1350.7) scale(0.917 1)">15</text>
<text transform="translate(369.8 42.2) scale(0.917 1)">20</text>
<text transform="translate(369.8 1350.7) scale(0.917 1)">20</text>
<text transform="translate(419.8 42.2) scale(0.917 1)">25</text>
<text transform="translate(419.8 1350.7) scale(0.917 1)">25</text>
<text transform="translate(469.8 42.2) scale(0.917 1)">30</text>
<text transform="translate(469.8 1350.7) scale(0.917 1)">30</text>
<text transform="translate(519.7 42.2) scale(0.917 1)">35</text>
<text transform="translate(519.7 1350.7) scale(0.917 1)">35</text>
<text transform="translate(569.7 42.2) scale(0.917 1)">40</text>
<text transform="translate(569.7 1350.7) scale(0.917 1)">40</text>
<text transform="translate(619.6 42.2) scale(0.917 1)">45</text>
<text transform="translate(619.6 1350.7) scale(0.917 1)">45</text>
<text transform="translate(669.6 42.2) scale(0.917 1)">50</text>
<text transform="translate(669.6 1350.7) scale(0.917 1)">50</text>
<text transform="translate(719.5 42.2) scale(0.917 1)">55</text>
<text transform="translate(719.5 1350.7) scale(0.917 1)">55</text>
<text transform="translate(769.5 42.2) scale(0.917 1)">60</text>
<text transform="translate(769.5 1350.7) scale(0.917 1)">60</text>
<text transform="translate(819.4 42.2) scale(0.917 1)">65</text>
<text transform="translate(819.4 1350.7) scale(0.917 1)">65</text>
<text transform="translate(869.4 42.2) scale(0.917 1)">70</text>
<text transform="translate(869.4 1350.7) scale(0.917 1)">70</text>
<text transform="translate(919.3 42.2) scale(0.917 1)">75</text>
<text transform="translate(919.3 1350.7) scale(0.917 1)">75</text>
<text transform="translate(969.2 42.2) scale(0.917 1)">80</text>
<text transform="translate(969.2 1350.7) scale(0.917 1)">80</text>
</g>
<g stroke="#000" fill="none" stroke-linecap="butt">
<rect x="1152.7" y="66" width="799.5" height="1239.5" stroke-width="2.9"/>
<path d="M1152.7 313.7H1952.2M1152.7 561.5H1952.2M1152.7 809.4H1952.2M1152.7 1057.2H1952.2" stroke-width="2.9"/>
<path d="M1177.5 66v15.9M1177.5 313.7v-15.9M1177.5 561.5v-15.9M1177.5 809.4v-15.9M1177.5 1057.2v-15.9M1177.5 1305.5v-15.9M1202.5 66v8.4M1202.5 313.7v-8.4M1202.5 561.5v-8.4M1202.5 809.4v-8.4M1202.5 1057.2v-8.4M1202.5 1305.5v-8.4M1227.5 66v15.9M1227.5 313.7v-15.9M1227.5 561.5v-15.9M1227.5 809.4v-15.9M1227.5 1057.2v-15.9M1227.5 1305.5v-15.9M1252.5 66v8.4M1252.5 313.7v-8.4M1252.5 561.5v-8.4M1252.5 809.4v-8.4M1252.5 1057.2v-8.4M1252.5 1305.5v-8.4M1277.5 66v15.9M1277.5 313.7v-15.9M1277.5 561.5v-15.9M1277.5 809.4v-15.9M1277.5 1057.2v-15.9M1277.5 1305.5v-15.9M1302.4 66v8.4M1302.4 313.7v-8.4M1302.4 561.5v-8.4M1302.4 809.4v-8.4M1302.4 1057.2v-8.4M1302.4 1305.5v-8.4M1327.4 66v15.9M1327.4 313.7v-15.9M1327.4 561.5v-15.9M1327.4 809.4v-15.9M1327.4 1057.2v-15.9M1327.4 1305.5v-15.9M1352.4 66v8.4M1352.4 313.7v-8.4M1352.4 561.5v-8.4M1352.4 809.4v-8.4M1352.4 1057.2v-8.4M1352.4 1305.5v-8.4M1377.4 66v15.9M1377.4 313.7v-15.9M1377.4 561.5v-15.9M1377.4 809.4v-15.9M1377.4 1057.2v-15.9M1377.4 1305.5v-15.9M1402.4 66v8.4M1402.4 313.7v-8.4M1402.4 561.5v-8.4M1402.4 809.4v-8.4M1402.4 1057.2v-8.4M1402.4 1305.5v-8.4M1427.4 66v15.9M1427.4 313.7v-15.9M1427.4 561.5v-15.9M1427.4 809.4v-15.9M1427.4 1057.2v-15.9M1427.4 1305.5v-15.9M1452.4 66v8.4M1452.4 313.7v-8.4M1452.4 561.5v-8.4M1452.4 809.4v-8.4M1452.4 1057.2v-8.4M1452.4 1305.5v-8.4M1477.3 66v15.9M1477.3 313.7v-15.9M1477.3 561.5v-15.9M1477.3 809.4v-15.9M1477.3 1057.2v-15.9M1477.3 1305.5v-15.9M1502.3 66v8.4M1502.3 313.7v-8.4M1502.3 561.5v-8.4M1502.3 809.4v-8.4M1502.3 1057.2v-8.4M1502.3 1305.5v-8.4M1527.3 66v15.9M1527.3 313.7v-15.9M1527.3 561.5v-15.9M1527.3 809.4v-15.9M1527.3 1057.2v-15.9M1527.3 1305.5v-15.9M1552.3 66v8.4M1552.3 313.7v-8.4M1552.3 561.5v-8.4M1552.3 809.4v-8.4M1552.3 1057.2v-8.4M1552.3 1305.5v-8.4M1577.3 66v15.9M1577.3 313.7v-15.9M1577.3 561.5v-15.9M1577.3 809.4v-15.9M1577.3 1057.2v-15.9M1577.3 1305.5v-15.9M1602.3 66v8.4M1602.3 313.7v-8.4M1602.3 561.5v-8.4M1602.3 809.4v-8.4M1602.3 1057.2v-8.4M1602.3 1305.5v-8.4M1627.3 66v15.9M1627.3 313.7v-15.9M1627.3 561.5v-15.9M1627.3 809.4v-15.9M1627.3 1057.2v-15.9M1627.3 1305.5v-15.9M1652.3 66v8.4M1652.3 313.7v-8.4M1652.3 561.5v-8.4M1652.3 809.4v-8.4M1652.3 1057.2v-8.4M1652.3 1305.5v-8.4M1677.2 66v15.9M1677.2 313.7v-15.9M1677.2 561.5v-15.9M1677.2 809.4v-15.9M1677.2 1057.2v-15.9M1677.2 1305.5v-15.9M1702.2 66v8.4M1702.2 313.7v-8.4M1702.2 561.5v-8.4M1702.2 809.4v-8.4M1702.2 1057.2v-8.4M1702.2 1305.5v-8.4M1727.2 66v15.9M1727.2 313.7v-15.9M1727.2 561.5v-15.9M1727.2 809.4v-15.9M1727.2 1057.2v-15.9M1727.2 1305.5v-15.9M1752.2 66v8.4M1752.2 313.7v-8.4M1752.2 561.5v-8.4M1752.2 809.4v-8.4M1752.2 1057.2v-8.4M1752.2 1305.5v-8.4M1777.2 66v15.9M1777.2 313.7v-15.9M1777.2 561.5v-15.9M1777.2 809.4v-15.9M1777.2 1057.2v-15.9M1777.2 1305.5v-15.9M1802.2 66v8.4M1802.2 313.7v-8.4M1802.2 561.5v-8.4M1802.2 809.4v-8.4M1802.2 1057.2v-8.4M1802.2 1305.5v-8.4M1827.2 66v15.9M1827.2 313.7v-15.9M1827.2 561.5v-15.9M1827.2 809.4v-15.9M1827.2 1057.2v-15.9M1827.2 1305.5v-15.9M1852.2 66v8.4M1852.2 313.7v-8.4M1852.2 561.5v-8.4M1852.2 809.4v-8.4M1852.2 1057.2v-8.4M1852.2 1305.5v-8.4M1877.2 66v15.9M1877.2 313.7v-15.9M1877.2 561.5v-15.9M1877.2 809.4v-15.9M1877.2 1057.2v-15.9M1877.2 1305.5v-15.9M1902.1 66v8.4M1902.1 313.7v-8.4M1902.1 561.5v-8.4M1902.1 809.4v-8.4M1902.1 1057.2v-8.4M1902.1 1305.5v-8.4M1927.1 66v15.9M1927.1 313.7v-15.9M1927.1 561.5v-15.9M1927.1 809.4v-15.9M1927.1 1057.2v-15.9M1927.1 1305.5v-15.9" stroke-width="2.5"/>
<path d="M1152.7 79.6h7.8M1952.2 79.6h-7.8M1152.7 111.4h15M1952.2 111.4h-15M1152.7 143.2h7.8M1952.2 143.2h-7.8M1152.7 174.9h15M1952.2 174.9h-15M1152.7 206.7h7.8M1952.2 206.7h-7.8M1152.7 238.5h15M1952.2 238.5h-15M1152.7 270.3h7.8M1952.2 270.3h-7.8M1152.7 302.1h15M1952.2 302.1h-15M1152.7 330.4h7.8M1952.2 330.4h-7.8M1152.7 362.1h15M1952.2 362.1h-15M1152.7 393.8h7.8M1952.2 393.8h-7.8M1152.7 425.5h15M1952.2 425.5h-15M1152.7 457.2h7.8M1952.2 457.2h-7.8M1152.7 488.9h15M1952.2 488.9h-15M1152.7 520.7h7.8M1952.2 520.7h-7.8M1152.7 552.4h15M1952.2 552.4h-15M1152.7 581.2h7.8M1952.2 581.2h-7.8M1152.7 612.8h15M1952.2 612.8h-15M1152.7 644.4h7.8M1952.2 644.4h-7.8M1152.7 675.9h15M1952.2 675.9h-15M1152.7 707.5h7.8M1952.2 707.5h-7.8M1152.7 739.1h15M1952.2 739.1h-15M1152.7 770.7h7.8M1952.2 770.7h-7.8M1152.7 802.3h15M1952.2 802.3h-15M1152.7 826.2h7.8M1952.2 826.2h-7.8M1152.7 858h15M1952.2 858h-15M1152.7 889.8h7.8M1952.2 889.8h-7.8M1152.7 921.6h15M1952.2 921.6h-15M1152.7 953.4h7.8M1952.2 953.4h-7.8M1152.7 985.2h15M1952.2 985.2h-15M1152.7 1017h7.8M1952.2 1017h-7.8M1152.7 1048.8h15M1952.2 1048.8h-15M1152.7 1069h7.8M1952.2 1069h-7.8M1152.7 1099.4h15M1952.2 1099.4h-15M1152.7 1129.9h7.8M1952.2 1129.9h-7.8M1152.7 1160.3h15M1952.2 1160.3h-15M1152.7 1190.8h7.8M1952.2 1190.8h-7.8M1152.7 1221.2h15M1952.2 1221.2h-15M1152.7 1251.6h7.8M1952.2 1251.6h-7.8M1152.7 1282.1h15M1952.2 1282.1h-15" stroke-width="2.5" stroke-linecap="round"/>
</g>
<g font-family="'Liberation Sans', sans-serif" font-weight="700" font-size="35.9" text-anchor="middle" fill="#000">
<text transform="translate(1177.7 40) scale(0.917 1)">5</text>
<text transform="translate(1177.7 1348.7) scale(0.917 1)">5</text>
<text transform="translate(1227.7 40) scale(0.917 1)">10</text>
<text transform="translate(1227.7 1348.7) scale(0.917 1)">10</text>
<text transform="translate(1277.7 40) scale(0.917 1)">15</text>
<text transform="translate(1277.7 1348.7) scale(0.917 1)">15</text>
<text transform="translate(1327.6 40) scale(0.917 1)">20</text>
<text transform="translate(1327.6 1348.7) scale(0.917 1)">20</text>
<text transform="translate(1377.6 40) scale(0.917 1)">25</text>
<text transform="translate(1377.6 1348.7) scale(0.917 1)">25</text>
<text transform="translate(1427.6 40) scale(0.917 1)">30</text>
<text transform="translate(1427.6 1348.7) scale(0.917 1)">30</text>
<text transform="translate(1477.5 40) scale(0.917 1)">35</text>
<text transform="translate(1477.5 1348.7) scale(0.917 1)">35</text>
<text transform="translate(1527.5 40) scale(0.917 1)">40</text>
<text transform="translate(1527.5 1348.7) scale(0.917 1)">40</text>
<text transform="translate(1577.5 40) scale(0.917 1)">45</text>
<text transform="translate(1577.5 1348.7) scale(0.917 1)">45</text>
<text transform="translate(1627.5 40) scale(0.917 1)">50</text>
<text transform="translate(1627.5 1348.7) scale(0.917 1)">50</text>
<text transform="translate(1677.5 40) scale(0.917 1)">55</text>
<text transform="translate(1677.5 1348.7) scale(0.917 1)">55</text>
<text transform="translate(1727.4 40) scale(0.917 1)">60</text>
<text transform="translate(1727.4 1348.7) scale(0.917 1)">60</text>
<text transform="translate(1777.4 40) scale(0.917 1)">65</text>
<text transform="translate(1777.4 1348.7) scale(0.917 1)">65</text>
<text transform="translate(1827.4 40) scale(0.917 1)">70</text>
<text transform="translate(1827.4 1348.7) scale(0.917 1)">70</text>
<text transform="translate(1877.4 40) scale(0.917 1)">75</text>
<text transform="translate(1877.4 1348.7) scale(0.917 1)">75</text>
<text transform="translate(1927.3 40) scale(0.917 1)">80</text>
<text transform="translate(1927.3 1348.7) scale(0.917 1)">80</text>
</g>
<rect x="780.5" y="87.2" width="193.1" height="57.2" fill="#fff" stroke="#1a1a1a" stroke-width="1.15"/>
<path d="M785.6 115.9H877.5" stroke="#000" stroke-width="4.2" stroke-linecap="round" fill="none"/>
<text transform="translate(887.932 130.3) scale(0.959 1)" font-family="'Liberation Sans', sans-serif" font-size="42.9" fill="#000">SBF</text>
<rect x="600.8" y="324.3" width="375.4" height="57.7" fill="#fff" stroke="#1a1a1a" stroke-width="1.15"/>
<path d="M606.7 353H697.4" stroke="#000" stroke-width="4.2" stroke-linecap="round" fill="none"/>
<text transform="translate(709.236 367.8) scale(0.957 1)" font-family="'Liberation Sans', sans-serif" font-size="42.9" fill="#000">3 weeks in AU</text>
<rect x="750.8" y="574.8" width="223.2" height="57.6" fill="#fff" stroke="#1a1a1a" stroke-width="1.15"/>
<path d="M756.7 603.4H847.9" stroke="#000" stroke-width="4.2" stroke-linecap="round" fill="none"/>
<text transform="translate(858.496 617.9) scale(0.967 1)" font-family="'Liberation Sans', sans-serif" font-size="42.9" fill="#000">E.Coli</text>
<rect x="694.6" y="826.5" width="281.8" height="57.5" fill="#fff" stroke="#1a1a1a" stroke-width="1.15"/>
<path d="M700.5 855H791.3" stroke="#000" stroke-width="4.2" stroke-linecap="round" fill="none"/>
<text transform="translate(802.126 869.5) scale(0.962 1)" font-family="'Liberation Sans', sans-serif" font-size="42.9" fill="#000">S.Aureus</text>
<rect x="636" y="1071.2" width="339.8" height="57" fill="#fff" stroke="#1a1a1a" stroke-width="1.15"/>
<path d="M641.9 1099.5H733.5" stroke="#000" stroke-width="4.2" stroke-linecap="round" fill="none"/>
<text transform="translate(743.702 1114.1) scale(0.953 1)" font-family="'Liberation Sans', sans-serif" font-size="42.9" fill="#000">ZnO on PLA</text>
<rect x="1740.2" y="85.3" width="193.8" height="57.3" fill="#fff" stroke="#1a1a1a" stroke-width="1.15"/>
<path d="M1746 113.7H1837.9" stroke="#000" stroke-width="4.2" stroke-linecap="round" fill="none"/>
<text transform="translate(1848.851 128.9) scale(0.949 1)" font-family="'Liberation Sans', sans-serif" font-size="42.9" fill="#000">SBF</text>
<rect x="1558" y="325.1" width="375.4" height="57.5" fill="#fff" stroke="#1a1a1a" stroke-width="1.15"/>
<path d="M1564 353.7H1654.6" stroke="#000" stroke-width="4.2" stroke-linecap="round" fill="none"/>
<text transform="translate(1666.238 368.2) scale(0.956 1)" font-family="'Liberation Sans', sans-serif" font-size="42.9" fill="#000">3 weeks in AU</text>
<rect x="1699.4" y="570.7" width="234.3" height="57.3" fill="#fff" stroke="#1a1a1a" stroke-width="1.15"/>
<path d="M1705.5 599H1796.1" stroke="#000" stroke-width="4.2" stroke-linecap="round" fill="none"/>
<text transform="translate(1807.52 613.4) scale(0.96 1)" font-family="'Liberation Sans', sans-serif" font-size="42.9" fill="#000">E. Coli</text>
<rect x="1639.2" y="821.6" width="293.3" height="57.5" fill="#fff" stroke="#1a1a1a" stroke-width="1.15"/>
<path d="M1645.3 850.1H1735.9" stroke="#000" stroke-width="4.2" stroke-linecap="round" fill="none"/>
<text transform="translate(1747.345 865) scale(0.952 1)" font-family="'Liberation Sans', sans-serif" font-size="42.9" fill="#000">S. Aureus</text>
<rect x="1617.4" y="1069.6" width="316" height="57.5" fill="#fff" stroke="#1a1a1a" stroke-width="1.15"/>
<path d="M1623.3 1098.1H1714.1" stroke="#000" stroke-width="4.2" stroke-linecap="round" fill="none"/>
<text transform="translate(1724.291 1112.5) scale(0.961 1)" font-family="'Liberation Sans', sans-serif" font-size="42.9" fill="#000">ZnO on PP</text>
<text transform="translate(471.811 1146.18) rotate(-90) scale(1.031 1)" font-family="'Liberation Sans', sans-serif" font-size="29.41" fill="#000">(100)</text>
<text transform="translate(515.389 1136.477) rotate(-90) scale(1.025 1)" font-family="'Liberation Sans', sans-serif" font-size="29.518" fill="#000">(002)</text>
<text transform="translate(565.7 1148.188) rotate(-90) scale(1.017 1)" font-family="'Liberation Sans', sans-serif" font-size="29.947" fill="#000">(101)</text>
<text transform="translate(606.715 1214.644) scale(1.022 1)" font-family="'Liberation Sans', sans-serif" font-size="29.732" fill="#000">(102)</text>
<text transform="translate(700.218 1190.811) scale(1.032 1)" font-family="'Liberation Sans', sans-serif" font-size="29.41" fill="#000">(110)</text>
<text transform="translate(763.515 1217.611) scale(1.034 1)" font-family="'Liberation Sans', sans-serif" font-size="29.41" fill="#000">(103)</text>
<text transform="translate(845.615 1217.611) scale(1.034 1)" font-family="'Liberation Sans', sans-serif" font-size="29.41" fill="#000">(112)</text>
<text transform="translate(1431.256 1151.882) rotate(-90) scale(1.04 1)" font-family="'Liberation Sans', sans-serif" font-size="29.196" fill="#000">(100)</text>
<text transform="translate(1472.033 1148.077) rotate(-90) scale(1.033 1)" font-family="'Liberation Sans', sans-serif" font-size="29.303" fill="#000">(002)</text>
<text transform="translate(1533.056 1176.288) rotate(-90) scale(1.043 1)" font-family="'Liberation Sans', sans-serif" font-size="29.196" fill="#000">(101)</text>
<text transform="translate(1566.318 1226.444) scale(1.021 1)" font-family="'Liberation Sans', sans-serif" font-size="29.732" fill="#000">(102)</text>
<text transform="translate(1662.42 1216.044) scale(1.019 1)" font-family="'Liberation Sans', sans-serif" font-size="29.732" fill="#000">(110)</text>
<text transform="translate(1731.318 1229.411) scale(1.032 1)" font-family="'Liberation Sans', sans-serif" font-size="29.41" fill="#000">(103)</text>
<text transform="translate(1799.823 1207.844) scale(1.018 1)" font-family="'Liberation Sans', sans-serif" font-size="29.732" fill="#000">(112)</text>
<text transform="translate(9.764 146.249) scale(1.041 1)" font-family="'Liberation Sans', sans-serif" font-size="46.989" font-weight="700" fill="#000">(a)</text>
<text transform="translate(9.877 385.538) scale(0.981 1)" font-family="'Liberation Sans', sans-serif" font-size="47.526" font-weight="700" fill="#000">(b)</text>
<text transform="translate(9.888 632.138) scale(0.977 1)" font-family="'Liberation Sans', sans-serif" font-size="47.526" font-weight="700" fill="#000">(c)</text>
<text transform="translate(9.877 871.115) scale(0.979 1)" font-family="'Liberation Sans', sans-serif" font-size="47.633" font-weight="700" fill="#000">(d)</text>
<text transform="translate(9.764 1110.46) scale(1.031 1)" font-family="'Liberation Sans', sans-serif" font-size="47.418" font-weight="700" fill="#000">(e)</text>
<text transform="translate(152.661 809.528) rotate(-90) scale(0.995 1)" font-family="'Liberation Sans', sans-serif" font-size="45.487" font-weight="700" fill="#000">Intensity (a.u.)</text>
<text transform="translate(1091.661 807.628) rotate(-90) scale(0.995 1)" font-family="'Liberation Sans', sans-serif" font-size="45.487" font-weight="700" fill="#000">Intensity (a.u.)</text>
<text transform="translate(0 1424.6) scale(0.972 1)" font-family="'Liberation Sans', sans-serif" font-weight="700" font-size="46" fill="#000" xml:space="preserve"><tspan x="549.885">2</tspan><tspan x="579.154" dy="0.7" font-family="'Liberation Serif', serif" font-style="italic" font-weight="400" stroke="#000" stroke-width="0.5" font-size="46.263" textLength="26.766" lengthAdjust="spacingAndGlyphs">θ</tspan><tspan x="611.475" dy="-0.7"> (°)</tspan></text>
<text transform="translate(0 1422.5) scale(0.966 1)" font-family="'Liberation Sans', sans-serif" font-weight="700" font-size="46" fill="#000" xml:space="preserve"><tspan x="1545.468">2</tspan><tspan x="1574.931" dy="0.7" font-family="'Liberation Serif', serif" font-style="italic" font-weight="400" stroke="#000" stroke-width="0.5" font-size="46.263" textLength="26.954" lengthAdjust="spacingAndGlyphs">θ</tspan><tspan x="1607.687" dy="-0.7"> (°)</tspan></text>
</svg></body></html>
